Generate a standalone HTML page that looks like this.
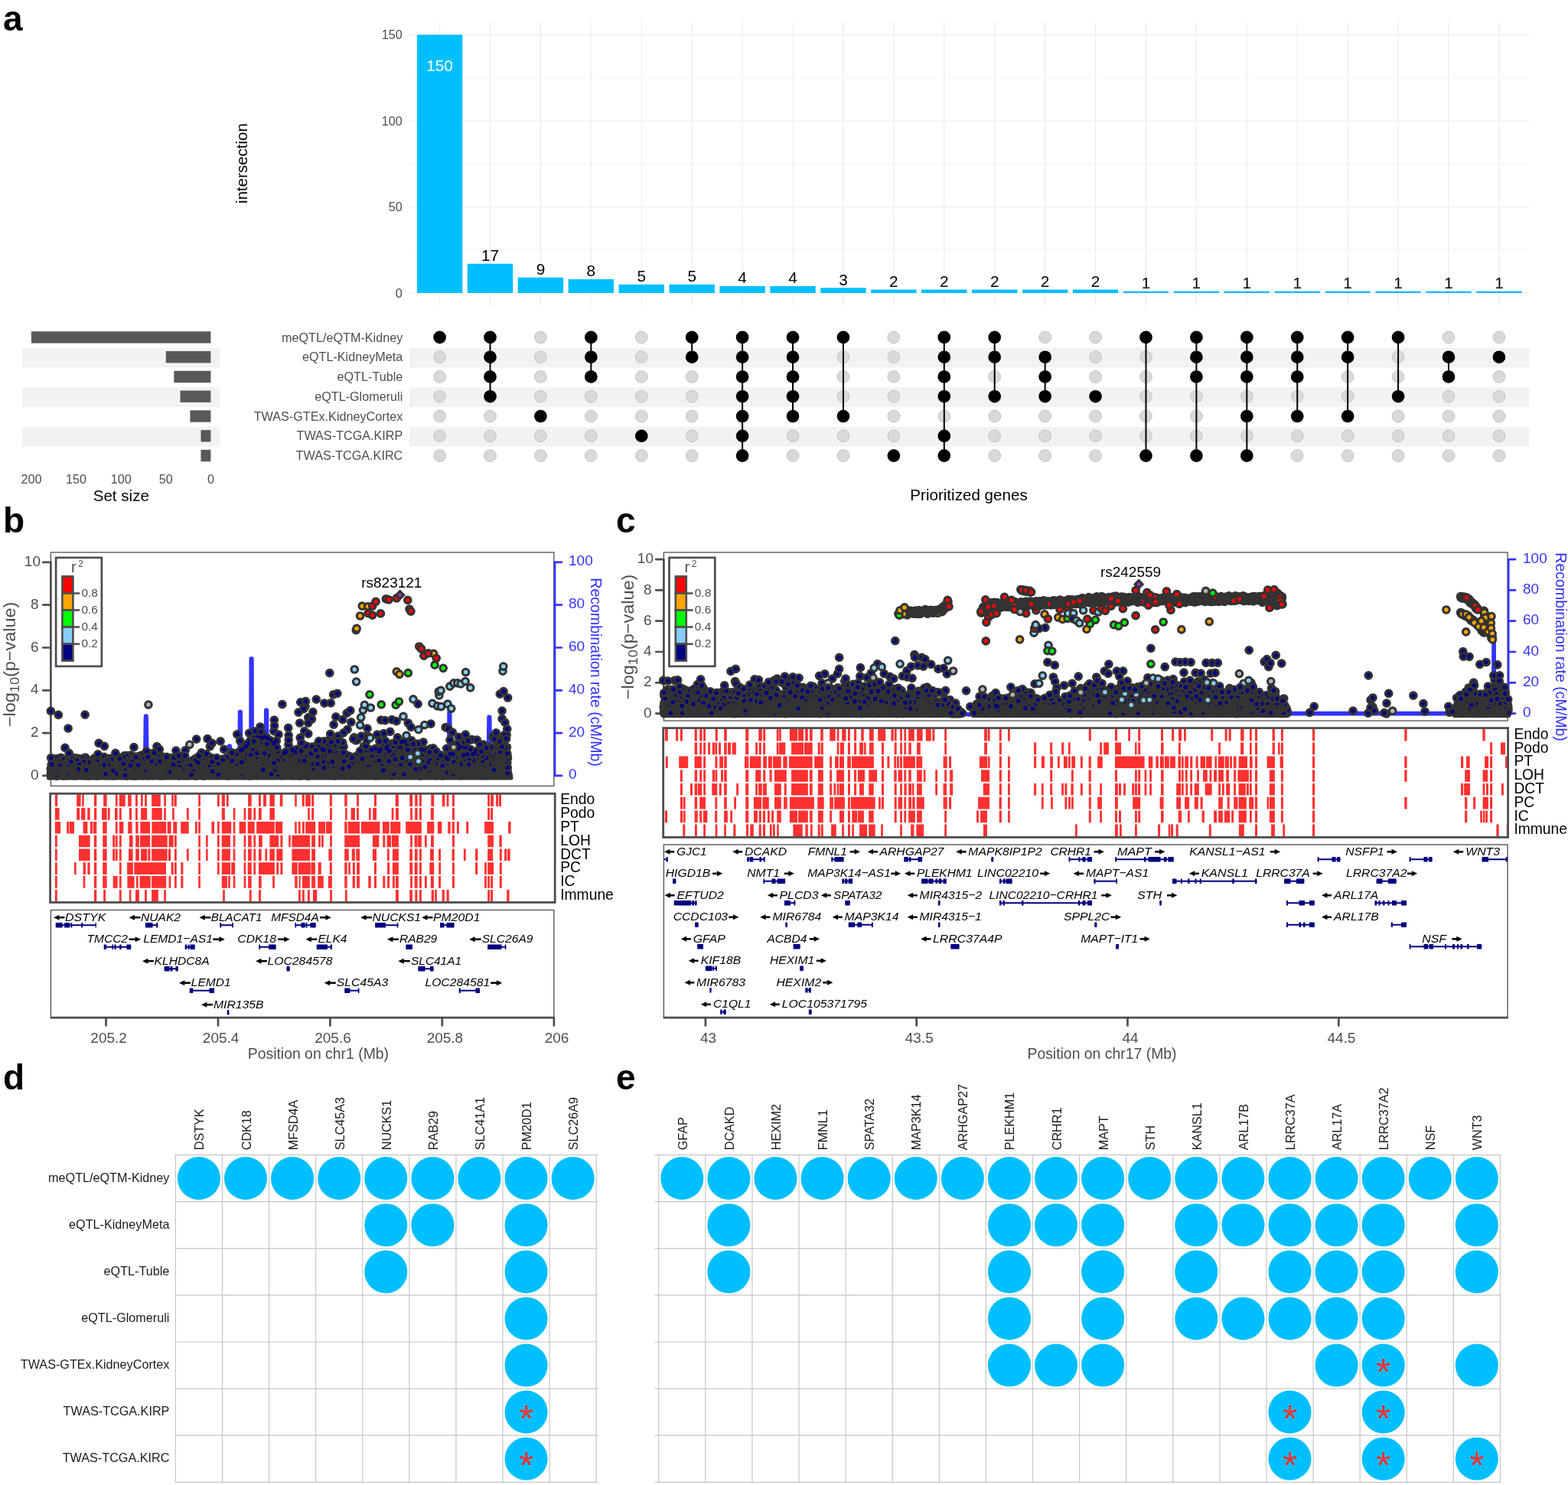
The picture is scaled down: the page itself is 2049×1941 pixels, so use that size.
<!DOCTYPE html>
<html><head><meta charset="utf-8"><title>Figure</title>
<style>
html,body{margin:0;padding:0;background:#fff;}
svg{display:block;font-family:"Liberation Sans", sans-serif;}
.pt circle{r:4.3px;stroke:#333;stroke-width:3.1px;}
.o{fill:none;stroke:#333;stroke-width:11.7px;stroke-linecap:round;}
.i{fill:none;stroke-width:5.5px;stroke-linecap:round;}
</style></head>
<body>
<svg width="2049" height="1941" viewBox="0 0 2049 1941">
<rect width="2049" height="1941" fill="#fff"/>
<text x="4.00" y="39.50" font-size="46" fill="#000" font-weight="bold">a</text>
<line x1="535.00" y1="326.75" x2="1998.20" y2="326.75" stroke="#ebebeb" stroke-width="0.6"/>
<line x1="535.00" y1="214.25" x2="1998.20" y2="214.25" stroke="#ebebeb" stroke-width="0.6"/>
<line x1="535.00" y1="101.75" x2="1998.20" y2="101.75" stroke="#ebebeb" stroke-width="0.6"/>
<line x1="535.00" y1="383.00" x2="1998.20" y2="383.00" stroke="#ebebeb" stroke-width="1.1"/>
<line x1="535.00" y1="270.50" x2="1998.20" y2="270.50" stroke="#ebebeb" stroke-width="1.1"/>
<line x1="535.00" y1="158.00" x2="1998.20" y2="158.00" stroke="#ebebeb" stroke-width="1.1"/>
<line x1="535.00" y1="45.50" x2="1998.20" y2="45.50" stroke="#ebebeb" stroke-width="1.1"/>
<line x1="574.60" y1="28.50" x2="574.60" y2="399.70" stroke="#ebebeb" stroke-width="1.1"/>
<line x1="640.52" y1="28.50" x2="640.52" y2="399.70" stroke="#ebebeb" stroke-width="1.1"/>
<line x1="706.44" y1="28.50" x2="706.44" y2="399.70" stroke="#ebebeb" stroke-width="1.1"/>
<line x1="772.36" y1="28.50" x2="772.36" y2="399.70" stroke="#ebebeb" stroke-width="1.1"/>
<line x1="838.28" y1="28.50" x2="838.28" y2="399.70" stroke="#ebebeb" stroke-width="1.1"/>
<line x1="904.20" y1="28.50" x2="904.20" y2="399.70" stroke="#ebebeb" stroke-width="1.1"/>
<line x1="970.12" y1="28.50" x2="970.12" y2="399.70" stroke="#ebebeb" stroke-width="1.1"/>
<line x1="1036.04" y1="28.50" x2="1036.04" y2="399.70" stroke="#ebebeb" stroke-width="1.1"/>
<line x1="1101.96" y1="28.50" x2="1101.96" y2="399.70" stroke="#ebebeb" stroke-width="1.1"/>
<line x1="1167.88" y1="28.50" x2="1167.88" y2="399.70" stroke="#ebebeb" stroke-width="1.1"/>
<line x1="1233.80" y1="28.50" x2="1233.80" y2="399.70" stroke="#ebebeb" stroke-width="1.1"/>
<line x1="1299.72" y1="28.50" x2="1299.72" y2="399.70" stroke="#ebebeb" stroke-width="1.1"/>
<line x1="1365.64" y1="28.50" x2="1365.64" y2="399.70" stroke="#ebebeb" stroke-width="1.1"/>
<line x1="1431.56" y1="28.50" x2="1431.56" y2="399.70" stroke="#ebebeb" stroke-width="1.1"/>
<line x1="1497.48" y1="28.50" x2="1497.48" y2="399.70" stroke="#ebebeb" stroke-width="1.1"/>
<line x1="1563.40" y1="28.50" x2="1563.40" y2="399.70" stroke="#ebebeb" stroke-width="1.1"/>
<line x1="1629.32" y1="28.50" x2="1629.32" y2="399.70" stroke="#ebebeb" stroke-width="1.1"/>
<line x1="1695.24" y1="28.50" x2="1695.24" y2="399.70" stroke="#ebebeb" stroke-width="1.1"/>
<line x1="1761.16" y1="28.50" x2="1761.16" y2="399.70" stroke="#ebebeb" stroke-width="1.1"/>
<line x1="1827.08" y1="28.50" x2="1827.08" y2="399.70" stroke="#ebebeb" stroke-width="1.1"/>
<line x1="1893.00" y1="28.50" x2="1893.00" y2="399.70" stroke="#ebebeb" stroke-width="1.1"/>
<line x1="1958.92" y1="28.50" x2="1958.92" y2="399.70" stroke="#ebebeb" stroke-width="1.1"/>
<rect x="544.90" y="45.50" width="59.40" height="337.50" fill="#00bfff"/>
<text x="574.60" y="92.60" font-size="20.8" fill="#fff" text-anchor="middle">150</text>
<rect x="610.82" y="344.75" width="59.40" height="38.25" fill="#00bfff"/>
<text x="640.52" y="341.15" font-size="20.8" fill="#000" text-anchor="middle">17</text>
<rect x="676.74" y="362.75" width="59.40" height="20.25" fill="#00bfff"/>
<text x="706.44" y="359.15" font-size="20.8" fill="#000" text-anchor="middle">9</text>
<rect x="742.66" y="365.00" width="59.40" height="18.00" fill="#00bfff"/>
<text x="772.36" y="361.40" font-size="20.8" fill="#000" text-anchor="middle">8</text>
<rect x="808.58" y="371.75" width="59.40" height="11.25" fill="#00bfff"/>
<text x="838.28" y="368.15" font-size="20.8" fill="#000" text-anchor="middle">5</text>
<rect x="874.50" y="371.75" width="59.40" height="11.25" fill="#00bfff"/>
<text x="904.20" y="368.15" font-size="20.8" fill="#000" text-anchor="middle">5</text>
<rect x="940.42" y="374.00" width="59.40" height="9.00" fill="#00bfff"/>
<text x="970.12" y="370.40" font-size="20.8" fill="#000" text-anchor="middle">4</text>
<rect x="1006.34" y="374.00" width="59.40" height="9.00" fill="#00bfff"/>
<text x="1036.04" y="370.40" font-size="20.8" fill="#000" text-anchor="middle">4</text>
<rect x="1072.26" y="376.25" width="59.40" height="6.75" fill="#00bfff"/>
<text x="1101.96" y="372.65" font-size="20.8" fill="#000" text-anchor="middle">3</text>
<rect x="1138.18" y="378.50" width="59.40" height="4.50" fill="#00bfff"/>
<text x="1167.88" y="374.90" font-size="20.8" fill="#000" text-anchor="middle">2</text>
<rect x="1204.10" y="378.50" width="59.40" height="4.50" fill="#00bfff"/>
<text x="1233.80" y="374.90" font-size="20.8" fill="#000" text-anchor="middle">2</text>
<rect x="1270.02" y="378.50" width="59.40" height="4.50" fill="#00bfff"/>
<text x="1299.72" y="374.90" font-size="20.8" fill="#000" text-anchor="middle">2</text>
<rect x="1335.94" y="378.50" width="59.40" height="4.50" fill="#00bfff"/>
<text x="1365.64" y="374.90" font-size="20.8" fill="#000" text-anchor="middle">2</text>
<rect x="1401.86" y="378.50" width="59.40" height="4.50" fill="#00bfff"/>
<text x="1431.56" y="374.90" font-size="20.8" fill="#000" text-anchor="middle">2</text>
<rect x="1467.78" y="380.75" width="59.40" height="2.25" fill="#00bfff"/>
<text x="1497.48" y="377.15" font-size="20.8" fill="#000" text-anchor="middle">1</text>
<rect x="1533.70" y="380.75" width="59.40" height="2.25" fill="#00bfff"/>
<text x="1563.40" y="377.15" font-size="20.8" fill="#000" text-anchor="middle">1</text>
<rect x="1599.62" y="380.75" width="59.40" height="2.25" fill="#00bfff"/>
<text x="1629.32" y="377.15" font-size="20.8" fill="#000" text-anchor="middle">1</text>
<rect x="1665.54" y="380.75" width="59.40" height="2.25" fill="#00bfff"/>
<text x="1695.24" y="377.15" font-size="20.8" fill="#000" text-anchor="middle">1</text>
<rect x="1731.46" y="380.75" width="59.40" height="2.25" fill="#00bfff"/>
<text x="1761.16" y="377.15" font-size="20.8" fill="#000" text-anchor="middle">1</text>
<rect x="1797.38" y="380.75" width="59.40" height="2.25" fill="#00bfff"/>
<text x="1827.08" y="377.15" font-size="20.8" fill="#000" text-anchor="middle">1</text>
<rect x="1863.30" y="380.75" width="59.40" height="2.25" fill="#00bfff"/>
<text x="1893.00" y="377.15" font-size="20.8" fill="#000" text-anchor="middle">1</text>
<rect x="1929.22" y="380.75" width="59.40" height="2.25" fill="#00bfff"/>
<text x="1958.92" y="377.15" font-size="20.8" fill="#000" text-anchor="middle">1</text>
<text x="525.80" y="388.70" font-size="16.2" fill="#4d4d4d" text-anchor="end">0</text>
<text x="525.80" y="276.20" font-size="16.2" fill="#4d4d4d" text-anchor="end">50</text>
<text x="525.80" y="163.70" font-size="16.2" fill="#4d4d4d" text-anchor="end">100</text>
<text x="525.80" y="51.20" font-size="16.2" fill="#4d4d4d" text-anchor="end">150</text>
<text x="322.50" y="213.50" font-size="20.5" fill="#000" text-anchor="middle" transform="rotate(-90 322.50 213.50)">intersection</text>
<rect x="535.00" y="454.69" width="1463.20" height="25.78" fill="#f2f2f2"/>
<rect x="29.00" y="454.69" width="258.00" height="25.78" fill="#f2f2f2"/>
<rect x="535.00" y="506.25" width="1463.20" height="25.78" fill="#f2f2f2"/>
<rect x="29.00" y="506.25" width="258.00" height="25.78" fill="#f2f2f2"/>
<rect x="535.00" y="557.81" width="1463.20" height="25.78" fill="#f2f2f2"/>
<rect x="29.00" y="557.81" width="258.00" height="25.78" fill="#f2f2f2"/>
<text x="526.30" y="446.50" font-size="16.2" fill="#4d4d4d" text-anchor="end">meQTL/eQTM-Kidney</text>
<text x="526.30" y="472.28" font-size="16.2" fill="#4d4d4d" text-anchor="end">eQTL-KidneyMeta</text>
<text x="526.30" y="498.06" font-size="16.2" fill="#4d4d4d" text-anchor="end">eQTL-Tuble</text>
<text x="526.30" y="523.84" font-size="16.2" fill="#4d4d4d" text-anchor="end">eQTL-Glomeruli</text>
<text x="526.30" y="549.62" font-size="16.2" fill="#4d4d4d" text-anchor="end">TWAS-GTEx.KidneyCortex</text>
<text x="526.30" y="575.40" font-size="16.2" fill="#4d4d4d" text-anchor="end">TWAS-TCGA.KIRP</text>
<text x="526.30" y="601.18" font-size="16.2" fill="#4d4d4d" text-anchor="end">TWAS-TCGA.KIRC</text>
<circle cx="574.60" cy="440.90" r="7.9" fill="#d9d9d9" stroke="#c4c4c4" stroke-width="1"/>
<circle cx="574.60" cy="466.68" r="7.9" fill="#d9d9d9" stroke="#c4c4c4" stroke-width="1"/>
<circle cx="574.60" cy="492.46" r="7.9" fill="#d9d9d9" stroke="#c4c4c4" stroke-width="1"/>
<circle cx="574.60" cy="518.24" r="7.9" fill="#d9d9d9" stroke="#c4c4c4" stroke-width="1"/>
<circle cx="574.60" cy="544.02" r="7.9" fill="#d9d9d9" stroke="#c4c4c4" stroke-width="1"/>
<circle cx="574.60" cy="569.80" r="7.9" fill="#d9d9d9" stroke="#c4c4c4" stroke-width="1"/>
<circle cx="574.60" cy="595.58" r="7.9" fill="#d9d9d9" stroke="#c4c4c4" stroke-width="1"/>
<circle cx="640.52" cy="440.90" r="7.9" fill="#d9d9d9" stroke="#c4c4c4" stroke-width="1"/>
<circle cx="640.52" cy="466.68" r="7.9" fill="#d9d9d9" stroke="#c4c4c4" stroke-width="1"/>
<circle cx="640.52" cy="492.46" r="7.9" fill="#d9d9d9" stroke="#c4c4c4" stroke-width="1"/>
<circle cx="640.52" cy="518.24" r="7.9" fill="#d9d9d9" stroke="#c4c4c4" stroke-width="1"/>
<circle cx="640.52" cy="544.02" r="7.9" fill="#d9d9d9" stroke="#c4c4c4" stroke-width="1"/>
<circle cx="640.52" cy="569.80" r="7.9" fill="#d9d9d9" stroke="#c4c4c4" stroke-width="1"/>
<circle cx="640.52" cy="595.58" r="7.9" fill="#d9d9d9" stroke="#c4c4c4" stroke-width="1"/>
<circle cx="706.44" cy="440.90" r="7.9" fill="#d9d9d9" stroke="#c4c4c4" stroke-width="1"/>
<circle cx="706.44" cy="466.68" r="7.9" fill="#d9d9d9" stroke="#c4c4c4" stroke-width="1"/>
<circle cx="706.44" cy="492.46" r="7.9" fill="#d9d9d9" stroke="#c4c4c4" stroke-width="1"/>
<circle cx="706.44" cy="518.24" r="7.9" fill="#d9d9d9" stroke="#c4c4c4" stroke-width="1"/>
<circle cx="706.44" cy="544.02" r="7.9" fill="#d9d9d9" stroke="#c4c4c4" stroke-width="1"/>
<circle cx="706.44" cy="569.80" r="7.9" fill="#d9d9d9" stroke="#c4c4c4" stroke-width="1"/>
<circle cx="706.44" cy="595.58" r="7.9" fill="#d9d9d9" stroke="#c4c4c4" stroke-width="1"/>
<circle cx="772.36" cy="440.90" r="7.9" fill="#d9d9d9" stroke="#c4c4c4" stroke-width="1"/>
<circle cx="772.36" cy="466.68" r="7.9" fill="#d9d9d9" stroke="#c4c4c4" stroke-width="1"/>
<circle cx="772.36" cy="492.46" r="7.9" fill="#d9d9d9" stroke="#c4c4c4" stroke-width="1"/>
<circle cx="772.36" cy="518.24" r="7.9" fill="#d9d9d9" stroke="#c4c4c4" stroke-width="1"/>
<circle cx="772.36" cy="544.02" r="7.9" fill="#d9d9d9" stroke="#c4c4c4" stroke-width="1"/>
<circle cx="772.36" cy="569.80" r="7.9" fill="#d9d9d9" stroke="#c4c4c4" stroke-width="1"/>
<circle cx="772.36" cy="595.58" r="7.9" fill="#d9d9d9" stroke="#c4c4c4" stroke-width="1"/>
<circle cx="838.28" cy="440.90" r="7.9" fill="#d9d9d9" stroke="#c4c4c4" stroke-width="1"/>
<circle cx="838.28" cy="466.68" r="7.9" fill="#d9d9d9" stroke="#c4c4c4" stroke-width="1"/>
<circle cx="838.28" cy="492.46" r="7.9" fill="#d9d9d9" stroke="#c4c4c4" stroke-width="1"/>
<circle cx="838.28" cy="518.24" r="7.9" fill="#d9d9d9" stroke="#c4c4c4" stroke-width="1"/>
<circle cx="838.28" cy="544.02" r="7.9" fill="#d9d9d9" stroke="#c4c4c4" stroke-width="1"/>
<circle cx="838.28" cy="569.80" r="7.9" fill="#d9d9d9" stroke="#c4c4c4" stroke-width="1"/>
<circle cx="838.28" cy="595.58" r="7.9" fill="#d9d9d9" stroke="#c4c4c4" stroke-width="1"/>
<circle cx="904.20" cy="440.90" r="7.9" fill="#d9d9d9" stroke="#c4c4c4" stroke-width="1"/>
<circle cx="904.20" cy="466.68" r="7.9" fill="#d9d9d9" stroke="#c4c4c4" stroke-width="1"/>
<circle cx="904.20" cy="492.46" r="7.9" fill="#d9d9d9" stroke="#c4c4c4" stroke-width="1"/>
<circle cx="904.20" cy="518.24" r="7.9" fill="#d9d9d9" stroke="#c4c4c4" stroke-width="1"/>
<circle cx="904.20" cy="544.02" r="7.9" fill="#d9d9d9" stroke="#c4c4c4" stroke-width="1"/>
<circle cx="904.20" cy="569.80" r="7.9" fill="#d9d9d9" stroke="#c4c4c4" stroke-width="1"/>
<circle cx="904.20" cy="595.58" r="7.9" fill="#d9d9d9" stroke="#c4c4c4" stroke-width="1"/>
<circle cx="970.12" cy="440.90" r="7.9" fill="#d9d9d9" stroke="#c4c4c4" stroke-width="1"/>
<circle cx="970.12" cy="466.68" r="7.9" fill="#d9d9d9" stroke="#c4c4c4" stroke-width="1"/>
<circle cx="970.12" cy="492.46" r="7.9" fill="#d9d9d9" stroke="#c4c4c4" stroke-width="1"/>
<circle cx="970.12" cy="518.24" r="7.9" fill="#d9d9d9" stroke="#c4c4c4" stroke-width="1"/>
<circle cx="970.12" cy="544.02" r="7.9" fill="#d9d9d9" stroke="#c4c4c4" stroke-width="1"/>
<circle cx="970.12" cy="569.80" r="7.9" fill="#d9d9d9" stroke="#c4c4c4" stroke-width="1"/>
<circle cx="970.12" cy="595.58" r="7.9" fill="#d9d9d9" stroke="#c4c4c4" stroke-width="1"/>
<circle cx="1036.04" cy="440.90" r="7.9" fill="#d9d9d9" stroke="#c4c4c4" stroke-width="1"/>
<circle cx="1036.04" cy="466.68" r="7.9" fill="#d9d9d9" stroke="#c4c4c4" stroke-width="1"/>
<circle cx="1036.04" cy="492.46" r="7.9" fill="#d9d9d9" stroke="#c4c4c4" stroke-width="1"/>
<circle cx="1036.04" cy="518.24" r="7.9" fill="#d9d9d9" stroke="#c4c4c4" stroke-width="1"/>
<circle cx="1036.04" cy="544.02" r="7.9" fill="#d9d9d9" stroke="#c4c4c4" stroke-width="1"/>
<circle cx="1036.04" cy="569.80" r="7.9" fill="#d9d9d9" stroke="#c4c4c4" stroke-width="1"/>
<circle cx="1036.04" cy="595.58" r="7.9" fill="#d9d9d9" stroke="#c4c4c4" stroke-width="1"/>
<circle cx="1101.96" cy="440.90" r="7.9" fill="#d9d9d9" stroke="#c4c4c4" stroke-width="1"/>
<circle cx="1101.96" cy="466.68" r="7.9" fill="#d9d9d9" stroke="#c4c4c4" stroke-width="1"/>
<circle cx="1101.96" cy="492.46" r="7.9" fill="#d9d9d9" stroke="#c4c4c4" stroke-width="1"/>
<circle cx="1101.96" cy="518.24" r="7.9" fill="#d9d9d9" stroke="#c4c4c4" stroke-width="1"/>
<circle cx="1101.96" cy="544.02" r="7.9" fill="#d9d9d9" stroke="#c4c4c4" stroke-width="1"/>
<circle cx="1101.96" cy="569.80" r="7.9" fill="#d9d9d9" stroke="#c4c4c4" stroke-width="1"/>
<circle cx="1101.96" cy="595.58" r="7.9" fill="#d9d9d9" stroke="#c4c4c4" stroke-width="1"/>
<circle cx="1167.88" cy="440.90" r="7.9" fill="#d9d9d9" stroke="#c4c4c4" stroke-width="1"/>
<circle cx="1167.88" cy="466.68" r="7.9" fill="#d9d9d9" stroke="#c4c4c4" stroke-width="1"/>
<circle cx="1167.88" cy="492.46" r="7.9" fill="#d9d9d9" stroke="#c4c4c4" stroke-width="1"/>
<circle cx="1167.88" cy="518.24" r="7.9" fill="#d9d9d9" stroke="#c4c4c4" stroke-width="1"/>
<circle cx="1167.88" cy="544.02" r="7.9" fill="#d9d9d9" stroke="#c4c4c4" stroke-width="1"/>
<circle cx="1167.88" cy="569.80" r="7.9" fill="#d9d9d9" stroke="#c4c4c4" stroke-width="1"/>
<circle cx="1167.88" cy="595.58" r="7.9" fill="#d9d9d9" stroke="#c4c4c4" stroke-width="1"/>
<circle cx="1233.80" cy="440.90" r="7.9" fill="#d9d9d9" stroke="#c4c4c4" stroke-width="1"/>
<circle cx="1233.80" cy="466.68" r="7.9" fill="#d9d9d9" stroke="#c4c4c4" stroke-width="1"/>
<circle cx="1233.80" cy="492.46" r="7.9" fill="#d9d9d9" stroke="#c4c4c4" stroke-width="1"/>
<circle cx="1233.80" cy="518.24" r="7.9" fill="#d9d9d9" stroke="#c4c4c4" stroke-width="1"/>
<circle cx="1233.80" cy="544.02" r="7.9" fill="#d9d9d9" stroke="#c4c4c4" stroke-width="1"/>
<circle cx="1233.80" cy="569.80" r="7.9" fill="#d9d9d9" stroke="#c4c4c4" stroke-width="1"/>
<circle cx="1233.80" cy="595.58" r="7.9" fill="#d9d9d9" stroke="#c4c4c4" stroke-width="1"/>
<circle cx="1299.72" cy="440.90" r="7.9" fill="#d9d9d9" stroke="#c4c4c4" stroke-width="1"/>
<circle cx="1299.72" cy="466.68" r="7.9" fill="#d9d9d9" stroke="#c4c4c4" stroke-width="1"/>
<circle cx="1299.72" cy="492.46" r="7.9" fill="#d9d9d9" stroke="#c4c4c4" stroke-width="1"/>
<circle cx="1299.72" cy="518.24" r="7.9" fill="#d9d9d9" stroke="#c4c4c4" stroke-width="1"/>
<circle cx="1299.72" cy="544.02" r="7.9" fill="#d9d9d9" stroke="#c4c4c4" stroke-width="1"/>
<circle cx="1299.72" cy="569.80" r="7.9" fill="#d9d9d9" stroke="#c4c4c4" stroke-width="1"/>
<circle cx="1299.72" cy="595.58" r="7.9" fill="#d9d9d9" stroke="#c4c4c4" stroke-width="1"/>
<circle cx="1365.64" cy="440.90" r="7.9" fill="#d9d9d9" stroke="#c4c4c4" stroke-width="1"/>
<circle cx="1365.64" cy="466.68" r="7.9" fill="#d9d9d9" stroke="#c4c4c4" stroke-width="1"/>
<circle cx="1365.64" cy="492.46" r="7.9" fill="#d9d9d9" stroke="#c4c4c4" stroke-width="1"/>
<circle cx="1365.64" cy="518.24" r="7.9" fill="#d9d9d9" stroke="#c4c4c4" stroke-width="1"/>
<circle cx="1365.64" cy="544.02" r="7.9" fill="#d9d9d9" stroke="#c4c4c4" stroke-width="1"/>
<circle cx="1365.64" cy="569.80" r="7.9" fill="#d9d9d9" stroke="#c4c4c4" stroke-width="1"/>
<circle cx="1365.64" cy="595.58" r="7.9" fill="#d9d9d9" stroke="#c4c4c4" stroke-width="1"/>
<circle cx="1431.56" cy="440.90" r="7.9" fill="#d9d9d9" stroke="#c4c4c4" stroke-width="1"/>
<circle cx="1431.56" cy="466.68" r="7.9" fill="#d9d9d9" stroke="#c4c4c4" stroke-width="1"/>
<circle cx="1431.56" cy="492.46" r="7.9" fill="#d9d9d9" stroke="#c4c4c4" stroke-width="1"/>
<circle cx="1431.56" cy="518.24" r="7.9" fill="#d9d9d9" stroke="#c4c4c4" stroke-width="1"/>
<circle cx="1431.56" cy="544.02" r="7.9" fill="#d9d9d9" stroke="#c4c4c4" stroke-width="1"/>
<circle cx="1431.56" cy="569.80" r="7.9" fill="#d9d9d9" stroke="#c4c4c4" stroke-width="1"/>
<circle cx="1431.56" cy="595.58" r="7.9" fill="#d9d9d9" stroke="#c4c4c4" stroke-width="1"/>
<circle cx="1497.48" cy="440.90" r="7.9" fill="#d9d9d9" stroke="#c4c4c4" stroke-width="1"/>
<circle cx="1497.48" cy="466.68" r="7.9" fill="#d9d9d9" stroke="#c4c4c4" stroke-width="1"/>
<circle cx="1497.48" cy="492.46" r="7.9" fill="#d9d9d9" stroke="#c4c4c4" stroke-width="1"/>
<circle cx="1497.48" cy="518.24" r="7.9" fill="#d9d9d9" stroke="#c4c4c4" stroke-width="1"/>
<circle cx="1497.48" cy="544.02" r="7.9" fill="#d9d9d9" stroke="#c4c4c4" stroke-width="1"/>
<circle cx="1497.48" cy="569.80" r="7.9" fill="#d9d9d9" stroke="#c4c4c4" stroke-width="1"/>
<circle cx="1497.48" cy="595.58" r="7.9" fill="#d9d9d9" stroke="#c4c4c4" stroke-width="1"/>
<circle cx="1563.40" cy="440.90" r="7.9" fill="#d9d9d9" stroke="#c4c4c4" stroke-width="1"/>
<circle cx="1563.40" cy="466.68" r="7.9" fill="#d9d9d9" stroke="#c4c4c4" stroke-width="1"/>
<circle cx="1563.40" cy="492.46" r="7.9" fill="#d9d9d9" stroke="#c4c4c4" stroke-width="1"/>
<circle cx="1563.40" cy="518.24" r="7.9" fill="#d9d9d9" stroke="#c4c4c4" stroke-width="1"/>
<circle cx="1563.40" cy="544.02" r="7.9" fill="#d9d9d9" stroke="#c4c4c4" stroke-width="1"/>
<circle cx="1563.40" cy="569.80" r="7.9" fill="#d9d9d9" stroke="#c4c4c4" stroke-width="1"/>
<circle cx="1563.40" cy="595.58" r="7.9" fill="#d9d9d9" stroke="#c4c4c4" stroke-width="1"/>
<circle cx="1629.32" cy="440.90" r="7.9" fill="#d9d9d9" stroke="#c4c4c4" stroke-width="1"/>
<circle cx="1629.32" cy="466.68" r="7.9" fill="#d9d9d9" stroke="#c4c4c4" stroke-width="1"/>
<circle cx="1629.32" cy="492.46" r="7.9" fill="#d9d9d9" stroke="#c4c4c4" stroke-width="1"/>
<circle cx="1629.32" cy="518.24" r="7.9" fill="#d9d9d9" stroke="#c4c4c4" stroke-width="1"/>
<circle cx="1629.32" cy="544.02" r="7.9" fill="#d9d9d9" stroke="#c4c4c4" stroke-width="1"/>
<circle cx="1629.32" cy="569.80" r="7.9" fill="#d9d9d9" stroke="#c4c4c4" stroke-width="1"/>
<circle cx="1629.32" cy="595.58" r="7.9" fill="#d9d9d9" stroke="#c4c4c4" stroke-width="1"/>
<circle cx="1695.24" cy="440.90" r="7.9" fill="#d9d9d9" stroke="#c4c4c4" stroke-width="1"/>
<circle cx="1695.24" cy="466.68" r="7.9" fill="#d9d9d9" stroke="#c4c4c4" stroke-width="1"/>
<circle cx="1695.24" cy="492.46" r="7.9" fill="#d9d9d9" stroke="#c4c4c4" stroke-width="1"/>
<circle cx="1695.24" cy="518.24" r="7.9" fill="#d9d9d9" stroke="#c4c4c4" stroke-width="1"/>
<circle cx="1695.24" cy="544.02" r="7.9" fill="#d9d9d9" stroke="#c4c4c4" stroke-width="1"/>
<circle cx="1695.24" cy="569.80" r="7.9" fill="#d9d9d9" stroke="#c4c4c4" stroke-width="1"/>
<circle cx="1695.24" cy="595.58" r="7.9" fill="#d9d9d9" stroke="#c4c4c4" stroke-width="1"/>
<circle cx="1761.16" cy="440.90" r="7.9" fill="#d9d9d9" stroke="#c4c4c4" stroke-width="1"/>
<circle cx="1761.16" cy="466.68" r="7.9" fill="#d9d9d9" stroke="#c4c4c4" stroke-width="1"/>
<circle cx="1761.16" cy="492.46" r="7.9" fill="#d9d9d9" stroke="#c4c4c4" stroke-width="1"/>
<circle cx="1761.16" cy="518.24" r="7.9" fill="#d9d9d9" stroke="#c4c4c4" stroke-width="1"/>
<circle cx="1761.16" cy="544.02" r="7.9" fill="#d9d9d9" stroke="#c4c4c4" stroke-width="1"/>
<circle cx="1761.16" cy="569.80" r="7.9" fill="#d9d9d9" stroke="#c4c4c4" stroke-width="1"/>
<circle cx="1761.16" cy="595.58" r="7.9" fill="#d9d9d9" stroke="#c4c4c4" stroke-width="1"/>
<circle cx="1827.08" cy="440.90" r="7.9" fill="#d9d9d9" stroke="#c4c4c4" stroke-width="1"/>
<circle cx="1827.08" cy="466.68" r="7.9" fill="#d9d9d9" stroke="#c4c4c4" stroke-width="1"/>
<circle cx="1827.08" cy="492.46" r="7.9" fill="#d9d9d9" stroke="#c4c4c4" stroke-width="1"/>
<circle cx="1827.08" cy="518.24" r="7.9" fill="#d9d9d9" stroke="#c4c4c4" stroke-width="1"/>
<circle cx="1827.08" cy="544.02" r="7.9" fill="#d9d9d9" stroke="#c4c4c4" stroke-width="1"/>
<circle cx="1827.08" cy="569.80" r="7.9" fill="#d9d9d9" stroke="#c4c4c4" stroke-width="1"/>
<circle cx="1827.08" cy="595.58" r="7.9" fill="#d9d9d9" stroke="#c4c4c4" stroke-width="1"/>
<circle cx="1893.00" cy="440.90" r="7.9" fill="#d9d9d9" stroke="#c4c4c4" stroke-width="1"/>
<circle cx="1893.00" cy="466.68" r="7.9" fill="#d9d9d9" stroke="#c4c4c4" stroke-width="1"/>
<circle cx="1893.00" cy="492.46" r="7.9" fill="#d9d9d9" stroke="#c4c4c4" stroke-width="1"/>
<circle cx="1893.00" cy="518.24" r="7.9" fill="#d9d9d9" stroke="#c4c4c4" stroke-width="1"/>
<circle cx="1893.00" cy="544.02" r="7.9" fill="#d9d9d9" stroke="#c4c4c4" stroke-width="1"/>
<circle cx="1893.00" cy="569.80" r="7.9" fill="#d9d9d9" stroke="#c4c4c4" stroke-width="1"/>
<circle cx="1893.00" cy="595.58" r="7.9" fill="#d9d9d9" stroke="#c4c4c4" stroke-width="1"/>
<circle cx="1958.92" cy="440.90" r="7.9" fill="#d9d9d9" stroke="#c4c4c4" stroke-width="1"/>
<circle cx="1958.92" cy="466.68" r="7.9" fill="#d9d9d9" stroke="#c4c4c4" stroke-width="1"/>
<circle cx="1958.92" cy="492.46" r="7.9" fill="#d9d9d9" stroke="#c4c4c4" stroke-width="1"/>
<circle cx="1958.92" cy="518.24" r="7.9" fill="#d9d9d9" stroke="#c4c4c4" stroke-width="1"/>
<circle cx="1958.92" cy="544.02" r="7.9" fill="#d9d9d9" stroke="#c4c4c4" stroke-width="1"/>
<circle cx="1958.92" cy="569.80" r="7.9" fill="#d9d9d9" stroke="#c4c4c4" stroke-width="1"/>
<circle cx="1958.92" cy="595.58" r="7.9" fill="#d9d9d9" stroke="#c4c4c4" stroke-width="1"/>
<circle cx="574.60" cy="440.90" r="8.3" fill="#000"/>
<line x1="640.52" y1="440.90" x2="640.52" y2="518.24" stroke="#000" stroke-width="2"/>
<circle cx="640.52" cy="440.90" r="8.3" fill="#000"/>
<circle cx="640.52" cy="466.68" r="8.3" fill="#000"/>
<circle cx="640.52" cy="492.46" r="8.3" fill="#000"/>
<circle cx="640.52" cy="518.24" r="8.3" fill="#000"/>
<circle cx="706.44" cy="544.02" r="8.3" fill="#000"/>
<line x1="772.36" y1="440.90" x2="772.36" y2="492.46" stroke="#000" stroke-width="2"/>
<circle cx="772.36" cy="440.90" r="8.3" fill="#000"/>
<circle cx="772.36" cy="466.68" r="8.3" fill="#000"/>
<circle cx="772.36" cy="492.46" r="8.3" fill="#000"/>
<circle cx="838.28" cy="569.80" r="8.3" fill="#000"/>
<line x1="904.20" y1="440.90" x2="904.20" y2="466.68" stroke="#000" stroke-width="2"/>
<circle cx="904.20" cy="440.90" r="8.3" fill="#000"/>
<circle cx="904.20" cy="466.68" r="8.3" fill="#000"/>
<line x1="970.12" y1="440.90" x2="970.12" y2="595.58" stroke="#000" stroke-width="2"/>
<circle cx="970.12" cy="440.90" r="8.3" fill="#000"/>
<circle cx="970.12" cy="466.68" r="8.3" fill="#000"/>
<circle cx="970.12" cy="492.46" r="8.3" fill="#000"/>
<circle cx="970.12" cy="518.24" r="8.3" fill="#000"/>
<circle cx="970.12" cy="544.02" r="8.3" fill="#000"/>
<circle cx="970.12" cy="569.80" r="8.3" fill="#000"/>
<circle cx="970.12" cy="595.58" r="8.3" fill="#000"/>
<line x1="1036.04" y1="440.90" x2="1036.04" y2="544.02" stroke="#000" stroke-width="2"/>
<circle cx="1036.04" cy="440.90" r="8.3" fill="#000"/>
<circle cx="1036.04" cy="466.68" r="8.3" fill="#000"/>
<circle cx="1036.04" cy="492.46" r="8.3" fill="#000"/>
<circle cx="1036.04" cy="518.24" r="8.3" fill="#000"/>
<circle cx="1036.04" cy="544.02" r="8.3" fill="#000"/>
<line x1="1101.96" y1="440.90" x2="1101.96" y2="544.02" stroke="#000" stroke-width="2"/>
<circle cx="1101.96" cy="440.90" r="8.3" fill="#000"/>
<circle cx="1101.96" cy="544.02" r="8.3" fill="#000"/>
<circle cx="1167.88" cy="595.58" r="8.3" fill="#000"/>
<line x1="1233.80" y1="440.90" x2="1233.80" y2="595.58" stroke="#000" stroke-width="2"/>
<circle cx="1233.80" cy="440.90" r="8.3" fill="#000"/>
<circle cx="1233.80" cy="466.68" r="8.3" fill="#000"/>
<circle cx="1233.80" cy="492.46" r="8.3" fill="#000"/>
<circle cx="1233.80" cy="518.24" r="8.3" fill="#000"/>
<circle cx="1233.80" cy="569.80" r="8.3" fill="#000"/>
<circle cx="1233.80" cy="595.58" r="8.3" fill="#000"/>
<line x1="1299.72" y1="440.90" x2="1299.72" y2="518.24" stroke="#000" stroke-width="2"/>
<circle cx="1299.72" cy="440.90" r="8.3" fill="#000"/>
<circle cx="1299.72" cy="466.68" r="8.3" fill="#000"/>
<circle cx="1299.72" cy="518.24" r="8.3" fill="#000"/>
<line x1="1365.64" y1="466.68" x2="1365.64" y2="518.24" stroke="#000" stroke-width="2"/>
<circle cx="1365.64" cy="466.68" r="8.3" fill="#000"/>
<circle cx="1365.64" cy="492.46" r="8.3" fill="#000"/>
<circle cx="1365.64" cy="518.24" r="8.3" fill="#000"/>
<circle cx="1431.56" cy="518.24" r="8.3" fill="#000"/>
<line x1="1497.48" y1="440.90" x2="1497.48" y2="595.58" stroke="#000" stroke-width="2"/>
<circle cx="1497.48" cy="440.90" r="8.3" fill="#000"/>
<circle cx="1497.48" cy="595.58" r="8.3" fill="#000"/>
<line x1="1563.40" y1="440.90" x2="1563.40" y2="595.58" stroke="#000" stroke-width="2"/>
<circle cx="1563.40" cy="440.90" r="8.3" fill="#000"/>
<circle cx="1563.40" cy="466.68" r="8.3" fill="#000"/>
<circle cx="1563.40" cy="492.46" r="8.3" fill="#000"/>
<circle cx="1563.40" cy="595.58" r="8.3" fill="#000"/>
<line x1="1629.32" y1="440.90" x2="1629.32" y2="595.58" stroke="#000" stroke-width="2"/>
<circle cx="1629.32" cy="440.90" r="8.3" fill="#000"/>
<circle cx="1629.32" cy="466.68" r="8.3" fill="#000"/>
<circle cx="1629.32" cy="492.46" r="8.3" fill="#000"/>
<circle cx="1629.32" cy="544.02" r="8.3" fill="#000"/>
<circle cx="1629.32" cy="595.58" r="8.3" fill="#000"/>
<line x1="1695.24" y1="440.90" x2="1695.24" y2="544.02" stroke="#000" stroke-width="2"/>
<circle cx="1695.24" cy="440.90" r="8.3" fill="#000"/>
<circle cx="1695.24" cy="466.68" r="8.3" fill="#000"/>
<circle cx="1695.24" cy="492.46" r="8.3" fill="#000"/>
<circle cx="1695.24" cy="544.02" r="8.3" fill="#000"/>
<line x1="1761.16" y1="440.90" x2="1761.16" y2="544.02" stroke="#000" stroke-width="2"/>
<circle cx="1761.16" cy="440.90" r="8.3" fill="#000"/>
<circle cx="1761.16" cy="466.68" r="8.3" fill="#000"/>
<circle cx="1761.16" cy="544.02" r="8.3" fill="#000"/>
<line x1="1827.08" y1="440.90" x2="1827.08" y2="518.24" stroke="#000" stroke-width="2"/>
<circle cx="1827.08" cy="440.90" r="8.3" fill="#000"/>
<circle cx="1827.08" cy="518.24" r="8.3" fill="#000"/>
<line x1="1893.00" y1="466.68" x2="1893.00" y2="492.46" stroke="#000" stroke-width="2"/>
<circle cx="1893.00" cy="466.68" r="8.3" fill="#000"/>
<circle cx="1893.00" cy="492.46" r="8.3" fill="#000"/>
<circle cx="1958.92" cy="466.68" r="8.3" fill="#000"/>
<text x="1266.00" y="653.80" font-size="20.6" fill="#000" text-anchor="middle">Prioritized genes</text>
<rect x="40.90" y="433.20" width="234.50" height="15.40" fill="#595959"/>
<rect x="216.77" y="458.98" width="58.63" height="15.40" fill="#595959"/>
<rect x="227.33" y="484.76" width="48.07" height="15.40" fill="#595959"/>
<rect x="235.53" y="510.54" width="39.87" height="15.40" fill="#595959"/>
<rect x="248.43" y="536.32" width="26.97" height="15.40" fill="#595959"/>
<rect x="262.50" y="562.10" width="12.90" height="15.40" fill="#595959"/>
<rect x="262.50" y="587.88" width="12.90" height="15.40" fill="#595959"/>
<text x="275.40" y="631.80" font-size="16.2" fill="#4d4d4d" text-anchor="middle">0</text>
<text x="216.77" y="631.80" font-size="16.2" fill="#4d4d4d" text-anchor="middle">50</text>
<text x="158.15" y="631.80" font-size="16.2" fill="#4d4d4d" text-anchor="middle">100</text>
<text x="99.52" y="631.80" font-size="16.2" fill="#4d4d4d" text-anchor="middle">150</text>
<text x="40.90" y="631.80" font-size="16.2" fill="#4d4d4d" text-anchor="middle">200</text>
<text x="158.30" y="654.50" font-size="20.6" fill="#000" text-anchor="middle">Set size</text>
<text x="4.00" y="1424.00" font-size="46" fill="#000" font-weight="bold">d</text>
<text x="805.00" y="1424.00" font-size="46" fill="#000" font-weight="bold">e</text>
<line x1="229.00" y1="1509.60" x2="781.50" y2="1509.60" stroke="#c6c6c6" stroke-width="1.2"/>
<line x1="229.00" y1="1570.70" x2="781.50" y2="1570.70" stroke="#c6c6c6" stroke-width="1.2"/>
<line x1="229.00" y1="1631.80" x2="781.50" y2="1631.80" stroke="#c6c6c6" stroke-width="1.2"/>
<line x1="229.00" y1="1692.90" x2="781.50" y2="1692.90" stroke="#c6c6c6" stroke-width="1.2"/>
<line x1="229.00" y1="1754.00" x2="781.50" y2="1754.00" stroke="#c6c6c6" stroke-width="1.2"/>
<line x1="229.00" y1="1815.10" x2="781.50" y2="1815.10" stroke="#c6c6c6" stroke-width="1.2"/>
<line x1="229.00" y1="1876.20" x2="781.50" y2="1876.20" stroke="#c6c6c6" stroke-width="1.2"/>
<line x1="229.00" y1="1937.30" x2="781.50" y2="1937.30" stroke="#c6c6c6" stroke-width="1.2"/>
<line x1="229.40" y1="1509.60" x2="229.40" y2="1937.30" stroke="#c6c6c6" stroke-width="1.2"/>
<line x1="290.49" y1="1509.60" x2="290.49" y2="1937.30" stroke="#c6c6c6" stroke-width="1.2"/>
<line x1="351.58" y1="1509.60" x2="351.58" y2="1937.30" stroke="#c6c6c6" stroke-width="1.2"/>
<line x1="412.67" y1="1509.60" x2="412.67" y2="1937.30" stroke="#c6c6c6" stroke-width="1.2"/>
<line x1="473.76" y1="1509.60" x2="473.76" y2="1937.30" stroke="#c6c6c6" stroke-width="1.2"/>
<line x1="534.85" y1="1509.60" x2="534.85" y2="1937.30" stroke="#c6c6c6" stroke-width="1.2"/>
<line x1="595.94" y1="1509.60" x2="595.94" y2="1937.30" stroke="#c6c6c6" stroke-width="1.2"/>
<line x1="657.03" y1="1509.60" x2="657.03" y2="1937.30" stroke="#c6c6c6" stroke-width="1.2"/>
<line x1="718.12" y1="1509.60" x2="718.12" y2="1937.30" stroke="#c6c6c6" stroke-width="1.2"/>
<line x1="779.21" y1="1509.60" x2="779.21" y2="1937.30" stroke="#c6c6c6" stroke-width="1.2"/>
<text x="266.44" y="1503.30" font-size="16.2" fill="#1a1a1a" transform="rotate(-90 266.44 1503.30)">DSTYK</text>
<circle cx="259.94" cy="1540.15" r="28.05" fill="#00bfff"/>
<text x="327.54" y="1503.30" font-size="16.2" fill="#1a1a1a" transform="rotate(-90 327.54 1503.30)">CDK18</text>
<circle cx="321.04" cy="1540.15" r="28.05" fill="#00bfff"/>
<text x="388.62" y="1503.30" font-size="16.2" fill="#1a1a1a" transform="rotate(-90 388.62 1503.30)">MFSD4A</text>
<circle cx="382.12" cy="1540.15" r="28.05" fill="#00bfff"/>
<text x="449.72" y="1503.30" font-size="16.2" fill="#1a1a1a" transform="rotate(-90 449.72 1503.30)">SLC45A3</text>
<circle cx="443.22" cy="1540.15" r="28.05" fill="#00bfff"/>
<text x="510.81" y="1503.30" font-size="16.2" fill="#1a1a1a" transform="rotate(-90 510.81 1503.30)">NUCKS1</text>
<circle cx="504.31" cy="1540.15" r="28.05" fill="#00bfff"/>
<circle cx="504.31" cy="1601.25" r="28.05" fill="#00bfff"/>
<circle cx="504.31" cy="1662.35" r="28.05" fill="#00bfff"/>
<text x="571.89" y="1503.30" font-size="16.2" fill="#1a1a1a" transform="rotate(-90 571.89 1503.30)">RAB29</text>
<circle cx="565.39" cy="1540.15" r="28.05" fill="#00bfff"/>
<circle cx="565.39" cy="1601.25" r="28.05" fill="#00bfff"/>
<text x="632.99" y="1503.30" font-size="16.2" fill="#1a1a1a" transform="rotate(-90 632.99 1503.30)">SLC41A1</text>
<circle cx="626.49" cy="1540.15" r="28.05" fill="#00bfff"/>
<text x="694.08" y="1503.30" font-size="16.2" fill="#1a1a1a" transform="rotate(-90 694.08 1503.30)">PM20D1</text>
<circle cx="687.58" cy="1540.15" r="28.05" fill="#00bfff"/>
<circle cx="687.58" cy="1601.25" r="28.05" fill="#00bfff"/>
<circle cx="687.58" cy="1662.35" r="28.05" fill="#00bfff"/>
<circle cx="687.58" cy="1723.45" r="28.05" fill="#00bfff"/>
<circle cx="687.58" cy="1784.55" r="28.05" fill="#00bfff"/>
<circle cx="687.58" cy="1845.65" r="28.05" fill="#00bfff"/>
<text x="687.58" y="1872.05" font-size="49.5" fill="#ff3030" text-anchor="middle">*</text>
<circle cx="687.58" cy="1906.75" r="28.05" fill="#00bfff"/>
<text x="687.58" y="1933.15" font-size="49.5" fill="#ff3030" text-anchor="middle">*</text>
<text x="755.16" y="1503.30" font-size="16.2" fill="#1a1a1a" transform="rotate(-90 755.16 1503.30)">SLC26A9</text>
<circle cx="748.66" cy="1540.15" r="28.05" fill="#00bfff"/>
<text x="221.40" y="1544.75" font-size="16.2" fill="#1a1a1a" text-anchor="end">meQTL/eQTM-Kidney</text>
<text x="221.40" y="1605.85" font-size="16.2" fill="#1a1a1a" text-anchor="end">eQTL-KidneyMeta</text>
<text x="221.40" y="1666.95" font-size="16.2" fill="#1a1a1a" text-anchor="end">eQTL-Tuble</text>
<text x="221.40" y="1728.05" font-size="16.2" fill="#1a1a1a" text-anchor="end">eQTL-Glomeruli</text>
<text x="221.40" y="1789.15" font-size="16.2" fill="#1a1a1a" text-anchor="end">TWAS-GTEx.KidneyCortex</text>
<text x="221.40" y="1850.25" font-size="16.2" fill="#1a1a1a" text-anchor="end">TWAS-TCGA.KIRP</text>
<text x="221.40" y="1911.35" font-size="16.2" fill="#1a1a1a" text-anchor="end">TWAS-TCGA.KIRC</text>
<line x1="855.40" y1="1509.60" x2="1961.00" y2="1509.60" stroke="#c6c6c6" stroke-width="1.2"/>
<line x1="855.40" y1="1570.70" x2="1961.00" y2="1570.70" stroke="#c6c6c6" stroke-width="1.2"/>
<line x1="855.40" y1="1631.80" x2="1961.00" y2="1631.80" stroke="#c6c6c6" stroke-width="1.2"/>
<line x1="855.40" y1="1692.90" x2="1961.00" y2="1692.90" stroke="#c6c6c6" stroke-width="1.2"/>
<line x1="855.40" y1="1754.00" x2="1961.00" y2="1754.00" stroke="#c6c6c6" stroke-width="1.2"/>
<line x1="855.40" y1="1815.10" x2="1961.00" y2="1815.10" stroke="#c6c6c6" stroke-width="1.2"/>
<line x1="855.40" y1="1876.20" x2="1961.00" y2="1876.20" stroke="#c6c6c6" stroke-width="1.2"/>
<line x1="855.40" y1="1937.30" x2="1961.00" y2="1937.30" stroke="#c6c6c6" stroke-width="1.2"/>
<line x1="860.80" y1="1509.60" x2="860.80" y2="1937.30" stroke="#c6c6c6" stroke-width="1.2"/>
<line x1="921.89" y1="1509.60" x2="921.89" y2="1937.30" stroke="#c6c6c6" stroke-width="1.2"/>
<line x1="982.98" y1="1509.60" x2="982.98" y2="1937.30" stroke="#c6c6c6" stroke-width="1.2"/>
<line x1="1044.07" y1="1509.60" x2="1044.07" y2="1937.30" stroke="#c6c6c6" stroke-width="1.2"/>
<line x1="1105.16" y1="1509.60" x2="1105.16" y2="1937.30" stroke="#c6c6c6" stroke-width="1.2"/>
<line x1="1166.25" y1="1509.60" x2="1166.25" y2="1937.30" stroke="#c6c6c6" stroke-width="1.2"/>
<line x1="1227.34" y1="1509.60" x2="1227.34" y2="1937.30" stroke="#c6c6c6" stroke-width="1.2"/>
<line x1="1288.43" y1="1509.60" x2="1288.43" y2="1937.30" stroke="#c6c6c6" stroke-width="1.2"/>
<line x1="1349.52" y1="1509.60" x2="1349.52" y2="1937.30" stroke="#c6c6c6" stroke-width="1.2"/>
<line x1="1410.61" y1="1509.60" x2="1410.61" y2="1937.30" stroke="#c6c6c6" stroke-width="1.2"/>
<line x1="1471.70" y1="1509.60" x2="1471.70" y2="1937.30" stroke="#c6c6c6" stroke-width="1.2"/>
<line x1="1532.79" y1="1509.60" x2="1532.79" y2="1937.30" stroke="#c6c6c6" stroke-width="1.2"/>
<line x1="1593.88" y1="1509.60" x2="1593.88" y2="1937.30" stroke="#c6c6c6" stroke-width="1.2"/>
<line x1="1654.97" y1="1509.60" x2="1654.97" y2="1937.30" stroke="#c6c6c6" stroke-width="1.2"/>
<line x1="1716.06" y1="1509.60" x2="1716.06" y2="1937.30" stroke="#c6c6c6" stroke-width="1.2"/>
<line x1="1777.15" y1="1509.60" x2="1777.15" y2="1937.30" stroke="#c6c6c6" stroke-width="1.2"/>
<line x1="1838.24" y1="1509.60" x2="1838.24" y2="1937.30" stroke="#c6c6c6" stroke-width="1.2"/>
<line x1="1899.33" y1="1509.60" x2="1899.33" y2="1937.30" stroke="#c6c6c6" stroke-width="1.2"/>
<line x1="1960.42" y1="1509.60" x2="1960.42" y2="1937.30" stroke="#c6c6c6" stroke-width="1.2"/>
<text x="897.84" y="1503.30" font-size="16.2" fill="#1a1a1a" transform="rotate(-90 897.84 1503.30)">GFAP</text>
<circle cx="891.34" cy="1540.15" r="28.05" fill="#00bfff"/>
<text x="958.93" y="1503.30" font-size="16.2" fill="#1a1a1a" transform="rotate(-90 958.93 1503.30)">DCAKD</text>
<circle cx="952.43" cy="1540.15" r="28.05" fill="#00bfff"/>
<circle cx="952.43" cy="1601.25" r="28.05" fill="#00bfff"/>
<circle cx="952.43" cy="1662.35" r="28.05" fill="#00bfff"/>
<text x="1020.02" y="1503.30" font-size="16.2" fill="#1a1a1a" transform="rotate(-90 1020.02 1503.30)">HEXIM2</text>
<circle cx="1013.52" cy="1540.15" r="28.05" fill="#00bfff"/>
<text x="1081.12" y="1503.30" font-size="16.2" fill="#1a1a1a" transform="rotate(-90 1081.12 1503.30)">FMNL1</text>
<circle cx="1074.62" cy="1540.15" r="28.05" fill="#00bfff"/>
<text x="1142.20" y="1503.30" font-size="16.2" fill="#1a1a1a" transform="rotate(-90 1142.20 1503.30)">SPATA32</text>
<circle cx="1135.70" cy="1540.15" r="28.05" fill="#00bfff"/>
<text x="1203.30" y="1503.30" font-size="16.2" fill="#1a1a1a" transform="rotate(-90 1203.30 1503.30)">MAP3K14</text>
<circle cx="1196.80" cy="1540.15" r="28.05" fill="#00bfff"/>
<text x="1264.38" y="1503.30" font-size="16.2" fill="#1a1a1a" transform="rotate(-90 1264.38 1503.30)">ARHGAP27</text>
<circle cx="1257.88" cy="1540.15" r="28.05" fill="#00bfff"/>
<text x="1325.47" y="1503.30" font-size="16.2" fill="#1a1a1a" transform="rotate(-90 1325.47 1503.30)">PLEKHM1</text>
<circle cx="1318.97" cy="1540.15" r="28.05" fill="#00bfff"/>
<circle cx="1318.97" cy="1601.25" r="28.05" fill="#00bfff"/>
<circle cx="1318.97" cy="1662.35" r="28.05" fill="#00bfff"/>
<circle cx="1318.97" cy="1723.45" r="28.05" fill="#00bfff"/>
<circle cx="1318.97" cy="1784.55" r="28.05" fill="#00bfff"/>
<text x="1386.57" y="1503.30" font-size="16.2" fill="#1a1a1a" transform="rotate(-90 1386.57 1503.30)">CRHR1</text>
<circle cx="1380.07" cy="1540.15" r="28.05" fill="#00bfff"/>
<circle cx="1380.07" cy="1601.25" r="28.05" fill="#00bfff"/>
<circle cx="1380.07" cy="1784.55" r="28.05" fill="#00bfff"/>
<text x="1447.65" y="1503.30" font-size="16.2" fill="#1a1a1a" transform="rotate(-90 1447.65 1503.30)">MAPT</text>
<circle cx="1441.15" cy="1540.15" r="28.05" fill="#00bfff"/>
<circle cx="1441.15" cy="1601.25" r="28.05" fill="#00bfff"/>
<circle cx="1441.15" cy="1662.35" r="28.05" fill="#00bfff"/>
<circle cx="1441.15" cy="1723.45" r="28.05" fill="#00bfff"/>
<circle cx="1441.15" cy="1784.55" r="28.05" fill="#00bfff"/>
<text x="1508.74" y="1503.30" font-size="16.2" fill="#1a1a1a" transform="rotate(-90 1508.74 1503.30)">STH</text>
<circle cx="1502.24" cy="1540.15" r="28.05" fill="#00bfff"/>
<text x="1569.84" y="1503.30" font-size="16.2" fill="#1a1a1a" transform="rotate(-90 1569.84 1503.30)">KANSL1</text>
<circle cx="1563.34" cy="1540.15" r="28.05" fill="#00bfff"/>
<circle cx="1563.34" cy="1601.25" r="28.05" fill="#00bfff"/>
<circle cx="1563.34" cy="1662.35" r="28.05" fill="#00bfff"/>
<circle cx="1563.34" cy="1723.45" r="28.05" fill="#00bfff"/>
<text x="1630.92" y="1503.30" font-size="16.2" fill="#1a1a1a" transform="rotate(-90 1630.92 1503.30)">ARL17B</text>
<circle cx="1624.42" cy="1540.15" r="28.05" fill="#00bfff"/>
<circle cx="1624.42" cy="1601.25" r="28.05" fill="#00bfff"/>
<circle cx="1624.42" cy="1723.45" r="28.05" fill="#00bfff"/>
<text x="1692.01" y="1503.30" font-size="16.2" fill="#1a1a1a" transform="rotate(-90 1692.01 1503.30)">LRRC37A</text>
<circle cx="1685.51" cy="1540.15" r="28.05" fill="#00bfff"/>
<circle cx="1685.51" cy="1601.25" r="28.05" fill="#00bfff"/>
<circle cx="1685.51" cy="1662.35" r="28.05" fill="#00bfff"/>
<circle cx="1685.51" cy="1723.45" r="28.05" fill="#00bfff"/>
<circle cx="1685.51" cy="1845.65" r="28.05" fill="#00bfff"/>
<text x="1685.51" y="1872.05" font-size="49.5" fill="#ff3030" text-anchor="middle">*</text>
<circle cx="1685.51" cy="1906.75" r="28.05" fill="#00bfff"/>
<text x="1685.51" y="1933.15" font-size="49.5" fill="#ff3030" text-anchor="middle">*</text>
<text x="1753.11" y="1503.30" font-size="16.2" fill="#1a1a1a" transform="rotate(-90 1753.11 1503.30)">ARL17A</text>
<circle cx="1746.61" cy="1540.15" r="28.05" fill="#00bfff"/>
<circle cx="1746.61" cy="1601.25" r="28.05" fill="#00bfff"/>
<circle cx="1746.61" cy="1662.35" r="28.05" fill="#00bfff"/>
<circle cx="1746.61" cy="1723.45" r="28.05" fill="#00bfff"/>
<circle cx="1746.61" cy="1784.55" r="28.05" fill="#00bfff"/>
<text x="1814.20" y="1503.30" font-size="16.2" fill="#1a1a1a" transform="rotate(-90 1814.20 1503.30)">LRRC37A2</text>
<circle cx="1807.70" cy="1540.15" r="28.05" fill="#00bfff"/>
<circle cx="1807.70" cy="1601.25" r="28.05" fill="#00bfff"/>
<circle cx="1807.70" cy="1662.35" r="28.05" fill="#00bfff"/>
<circle cx="1807.70" cy="1723.45" r="28.05" fill="#00bfff"/>
<circle cx="1807.70" cy="1784.55" r="28.05" fill="#00bfff"/>
<text x="1807.70" y="1810.95" font-size="49.5" fill="#ff3030" text-anchor="middle">*</text>
<circle cx="1807.70" cy="1845.65" r="28.05" fill="#00bfff"/>
<text x="1807.70" y="1872.05" font-size="49.5" fill="#ff3030" text-anchor="middle">*</text>
<circle cx="1807.70" cy="1906.75" r="28.05" fill="#00bfff"/>
<text x="1807.70" y="1933.15" font-size="49.5" fill="#ff3030" text-anchor="middle">*</text>
<text x="1875.28" y="1503.30" font-size="16.2" fill="#1a1a1a" transform="rotate(-90 1875.28 1503.30)">NSF</text>
<circle cx="1868.78" cy="1540.15" r="28.05" fill="#00bfff"/>
<text x="1936.38" y="1503.30" font-size="16.2" fill="#1a1a1a" transform="rotate(-90 1936.38 1503.30)">WNT3</text>
<circle cx="1929.88" cy="1540.15" r="28.05" fill="#00bfff"/>
<circle cx="1929.88" cy="1601.25" r="28.05" fill="#00bfff"/>
<circle cx="1929.88" cy="1662.35" r="28.05" fill="#00bfff"/>
<circle cx="1929.88" cy="1784.55" r="28.05" fill="#00bfff"/>
<circle cx="1929.88" cy="1906.75" r="28.05" fill="#00bfff"/>
<text x="1929.88" y="1933.15" font-size="49.5" fill="#ff3030" text-anchor="middle">*</text>
<text x="4.00" y="695.50" font-size="46" fill="#000" font-weight="bold">b</text>
<rect x="66.40" y="722.00" width="657.50" height="305.30" fill="none" stroke="#4d4d4d" stroke-width="1.3"/>
<text x="50.60" y="1019.00" font-size="19" fill="#4d4d4d" text-anchor="end">0</text>
<text x="50.60" y="963.20" font-size="19" fill="#4d4d4d" text-anchor="end">2</text>
<text x="50.60" y="907.40" font-size="19" fill="#4d4d4d" text-anchor="end">4</text>
<text x="50.60" y="851.60" font-size="19" fill="#4d4d4d" text-anchor="end">6</text>
<text x="50.60" y="795.80" font-size="19" fill="#4d4d4d" text-anchor="end">8</text>
<text x="53.00" y="740.00" font-size="19" fill="#4d4d4d" text-anchor="end">10</text>
<path d="M66.40 1013.90V734.90M66.40 1013.90H56.20M66.40 958.10H56.20M66.40 902.30H56.20M66.40 846.50H56.20M66.40 790.70H56.20M66.40 734.90H56.20" fill="none" stroke="#4d4d4d" stroke-width="2.7" stroke-linecap="round"/>
<text x="743.00" y="1018.40" font-size="19" fill="#3333ff">0</text>
<text x="743.00" y="962.60" font-size="19" fill="#3333ff">20</text>
<text x="743.00" y="906.80" font-size="19" fill="#3333ff">40</text>
<text x="743.00" y="851.00" font-size="19" fill="#3333ff">60</text>
<text x="743.00" y="795.20" font-size="19" fill="#3333ff">80</text>
<text x="743.00" y="739.40" font-size="19" fill="#3333ff">100</text>
<path d="M725.00 1013.90V734.90M725.00 1013.90H733.90M725.00 958.10H733.90M725.00 902.30H733.90M725.00 846.50H733.90M725.00 790.70H733.90M725.00 734.90H733.90" fill="none" stroke="#3333ff" stroke-width="2.7" stroke-linecap="round"/>
<text x="20.30" y="868.40" font-size="22.2" fill="#4d4d4d" text-anchor="middle" transform="rotate(-90 20.30 868.40)" textLength="163.5" lengthAdjust="spacingAndGlyphs">−log<tspan font-size="17" dy="4.5">10</tspan><tspan dy="-4.5">(p−value)</tspan></text>
<text x="771.70" y="878.60" font-size="20" fill="#3333ff" text-anchor="middle" transform="rotate(90 771.70 878.60)" textLength="246.5" lengthAdjust="spacingAndGlyphs">Recombination rate (cM/Mb)</text>
<path d="M189.4 1014.4L190.4 936.0L191.2 936.0L192.2 1014.4M297.0 1014.4L299.6 975.0L300.4 975.0L303.0 1014.4M312.9 1014.4L313.5 930.5L314.3 930.5L314.9 1014.4M327.8 1014.4L328.2 861.0L329.0 861.0L329.4 1014.4M347.1 1014.4L347.7 928.3L348.5 928.3L349.1 1014.4M586.6 1014.4L587.0 930.5L587.8 930.5L588.2 1014.4M638.0 1014.4L639.0 937.2L639.8 937.2L640.8 1014.4M661.5 988L664.5 1000L667.5 1014.4" fill="none" stroke="#3333ff" stroke-width="5.4" stroke-linejoin="round" stroke-linecap="round"/>
<path d="M63.5 1016.9L63.5 1005.5L66.0 1005.0L69.0 1005.0L72.0 1005.0L75.0 1005.0L78.0 1005.0L81.0 1005.0L84.0 1005.0L87.0 1005.0L90.0 1005.0L93.0 1005.0L96.0 1005.0L99.0 1005.0L102.0 1004.9L105.0 1004.9L108.0 1004.9L111.0 1004.8L114.0 1004.8L117.0 1004.8L120.0 1004.7L123.0 1004.7L126.0 1004.7L129.0 1004.6L132.0 1004.6L135.0 1004.6L138.0 1004.5L141.0 1004.5L144.0 1004.5L147.0 1004.4L150.0 1004.4L153.0 1004.3L156.0 1004.2L159.0 1004.1L162.0 1004.0L165.0 1003.9L168.0 1003.7L171.0 1003.6L174.0 1003.5L177.0 1003.4L180.0 1003.3L183.0 1003.2L186.0 1003.1L189.0 1003.0L192.0 1002.9L195.0 1002.7L198.0 1002.9L201.0 1003.1L204.0 1003.2L207.0 1003.4L210.0 1003.6L213.0 1003.7L216.0 1003.9L219.0 1004.1L222.0 1004.2L225.0 1004.4L228.0 1004.6L231.0 1004.7L234.0 1004.9L237.0 1005.1L240.0 1005.3L243.0 1005.6L246.0 1005.8L249.0 1006.0L252.0 1005.8L255.0 1005.4L258.0 1005.0L261.0 1004.6L264.0 1004.0L267.0 1003.4L270.0 1002.7L273.0 1003.3L276.0 1004.0L279.0 1004.6L282.0 1005.0L285.0 1005.0L288.0 1005.0L291.0 1005.0L294.0 1004.7L297.0 1004.3L300.0 1003.9L303.0 1003.5L306.0 1003.0L309.0 1002.5L312.0 1002.1L315.0 1001.3L318.0 1000.1L321.0 998.9L324.0 997.7L327.0 996.7L330.0 995.8L333.0 995.0L336.0 994.1L339.0 994.0L342.0 994.2L345.0 994.4L348.0 994.6L351.0 995.6L354.0 996.5L357.0 997.5L360.0 999.1L363.0 1001.8L366.0 1003.1L369.0 1003.7L372.0 1003.4L375.0 1002.7L378.0 1001.6L381.0 1000.5L384.0 1001.1L387.0 1001.7L390.0 1002.3L393.0 1002.7L396.0 1002.7L399.0 1002.7L402.0 1002.7L405.0 1002.5L408.0 1002.2L411.0 1001.9L414.0 1001.6L417.0 1001.3L420.0 1001.0L423.0 1000.7L426.0 1000.5L429.0 1000.5L432.0 1000.5L435.0 1000.5L438.0 1000.7L441.0 1001.3L444.0 1001.9L447.0 1002.5L450.0 1003.1L453.0 1003.8L456.0 1004.4L459.0 1005.0L462.0 1004.4L465.0 1003.8L468.0 1003.1L471.0 1002.5L474.0 1001.9L477.0 1001.3L480.0 1000.7L483.0 1000.5L486.0 1000.5L489.0 1000.5L492.0 1000.7L495.0 1001.3L498.0 1001.9L501.0 1002.5L504.0 1002.3L507.0 1001.7L510.0 1001.1L513.0 1000.5L516.0 999.9L519.0 999.3L522.0 998.7L525.0 998.5L528.0 999.1L531.0 999.7L534.0 1000.3L537.0 1000.6L540.0 1000.8L543.0 1001.0L546.0 1001.2L549.0 1001.6L552.0 1001.9L555.0 1002.3L558.0 1002.7L561.0 1003.3L564.0 1004.0L567.0 1004.6L570.0 1005.2L573.0 1005.8L576.0 1006.4L579.0 1007.0L582.0 1006.5L585.0 1005.5L588.0 1004.5L591.0 1003.5L594.0 1003.6L597.0 1003.7L600.0 1003.8L603.0 1003.8L606.0 1003.5L609.0 1003.1L612.0 1002.8L615.0 1002.7L618.0 1002.7L621.0 1002.7L624.0 1002.7L627.0 1002.1L630.0 1001.5L633.0 1000.9L636.0 1000.3L639.0 999.8L642.0 999.2L645.0 998.6L648.0 998.1L651.0 997.5L654.0 996.9L657.0 996.2L660.0 995.3L663.0 994.2L668 1016.9Z" fill="#333" stroke="#333" stroke-width="5" stroke-linejoin="round"/>
<path class="o" d="M195.3 1001.4h0M352.2 994.8h0M495.0 1004.6h0M374.1 1011.3h0M257.5 1003.2h0M447.4 1013.4h0M222.6 990.7h0M195.9 999.3h0M95.3 1003.9h0M335.5 987.8h0M292.8 997.1h0M113.7 1010.1h0M68.4 1012.9h0M182.7 1005.3h0M198.9 1012.5h0M325.8 1012.2h0M121.5 1006.1h0M633.0 981.2h0M434.3 1006.9h0M601.2 1009.7h0M510.1 1006.0h0M631.6 1000.9h0M617.3 1004.1h0M255.4 1013.8h0M372.8 1002.1h0M262.5 995.9h0M316.3 1007.4h0M254.0 1000.8h0M176.0 1001.2h0M410.0 1012.6h0"/><path class="i" stroke="#000080" d="M257.5 1003.2h0M222.6 990.7h0M195.9 999.3h0M95.3 1003.9h0M335.5 987.8h0M68.4 1012.9h0M121.5 1006.1h0M633.0 981.2h0M631.6 1000.9h0M617.3 1004.1h0M262.5 995.9h0M254.0 1000.8h0"/><path class="o" d="M325.0 989.9h0M239.5 1012.0h0M172.1 1006.4h0M656.7 991.8h0M630.2 998.8h0M266.4 997.4h0M428.1 987.2h0M476.5 1001.5h0M440.5 995.5h0M588.2 993.6h0M250.5 1007.4h0M177.8 996.2h0M453.4 996.9h0M373.6 1006.5h0M430.9 1002.9h0M650.0 1007.2h0M557.5 1004.0h0M487.0 989.4h0M233.2 1002.1h0M300.1 998.6h0M597.3 992.5h0M579.2 1001.8h0M352.0 1000.5h0M346.2 976.2h0M287.5 1012.2h0M213.1 1002.9h0M256.0 1001.1h0M99.5 1005.5h0M388.6 992.5h0M616.4 998.5h0"/><path class="i" stroke="#000080" d="M630.2 998.8h0M266.4 997.4h0M428.1 987.2h0M440.5 995.5h0M588.2 993.6h0M177.8 996.2h0M453.4 996.9h0M650.0 1007.2h0M487.0 989.4h0M233.2 1002.1h0M300.1 998.6h0M597.3 992.5h0M579.2 1001.8h0M346.2 976.2h0M213.1 1002.9h0M256.0 1001.1h0M99.5 1005.5h0M388.6 992.5h0M616.4 998.5h0"/><path class="o" d="M127.3 1004.2h0M525.6 1009.7h0M304.3 999.8h0M355.8 984.1h0M190.1 993.7h0M566.3 1002.9h0M323.8 995.1h0M519.8 1005.1h0M115.8 1007.4h0M519.0 1007.0h0M276.3 999.5h0M662.5 1001.9h0M416.3 1002.2h0M540.9 1007.9h0M225.5 991.2h0M220.7 1007.2h0M469.7 1008.9h0M376.7 994.8h0M366.8 1010.1h0M143.3 1000.6h0M269.6 1002.9h0M183.3 996.3h0M179.0 995.7h0M569.6 1011.9h0M129.3 996.7h0M456.0 995.7h0M500.5 1004.0h0M356.6 999.0h0M539.8 1009.0h0M628.1 1006.9h0"/><path class="i" stroke="#000080" d="M355.8 984.1h0M190.1 993.7h0M566.3 1002.9h0M115.8 1007.4h0M519.0 1007.0h0M276.3 999.5h0M225.5 991.2h0M376.7 994.8h0M183.3 996.3h0M179.0 995.7h0M569.6 1011.9h0M129.3 996.7h0M456.0 995.7h0M356.6 999.0h0"/><path class="o" d="M357.2 997.1h0M511.5 1001.1h0M219.7 1003.9h0M156.0 994.6h0M374.0 990.2h0M69.0 1006.6h0M394.2 1003.6h0M425.3 1004.3h0M623.7 1003.4h0M126.1 1008.5h0M236.1 998.6h0M211.6 998.7h0M136.0 992.7h0M459.1 1013.5h0M88.7 1000.5h0M441.9 1011.9h0M132.4 1001.0h0M143.7 991.4h0M224.1 1009.5h0M179.8 997.8h0M184.1 987.4h0M498.6 1007.8h0M609.1 998.8h0M553.4 1008.8h0M454.3 1009.1h0M602.7 1007.4h0M225.1 1012.4h0M217.1 1008.6h0M354.1 1004.4h0M662.4 976.5h0"/><path class="i" stroke="#000080" d="M357.2 997.1h0M219.7 1003.9h0M156.0 994.6h0M374.0 990.2h0M69.0 1006.6h0M623.7 1003.4h0M211.6 998.7h0M136.0 992.7h0M459.1 1013.5h0M143.7 991.4h0M224.1 1009.5h0M184.1 987.4h0M498.6 1007.8h0M217.1 1008.6h0M354.1 1004.4h0M662.4 976.5h0"/><path class="o" d="M339.4 964.9h0M504.2 1004.6h0M397.9 985.6h0M152.1 1000.2h0M176.2 1006.3h0M181.9 1010.8h0M493.4 1001.9h0M154.8 999.4h0M406.1 1000.5h0M349.7 1005.8h0M75.6 999.5h0M340.2 1005.9h0M208.2 1013.7h0M531.1 1013.2h0M125.8 1001.7h0M452.3 1002.5h0M266.3 989.8h0M132.2 1012.3h0M437.2 993.8h0M596.2 994.4h0M303.7 993.1h0M404.2 1001.4h0M496.1 1000.1h0M374.5 1005.0h0M507.4 1008.2h0M147.0 1012.1h0M301.0 996.8h0M588.1 996.6h0M480.8 1003.6h0M297.4 1002.8h0"/><path class="i" stroke="#000080" d="M339.4 964.9h0M504.2 1004.6h0M397.9 985.6h0M152.1 1000.2h0M154.8 999.4h0M208.2 1013.7h0M125.8 1001.7h0M266.3 989.8h0M437.2 993.8h0M596.2 994.4h0M303.7 993.1h0M496.1 1000.1h0M374.5 1005.0h0M301.0 996.8h0M588.1 996.6h0M297.4 1002.8h0"/><path class="o" d="M488.9 1006.2h0M513.2 1007.5h0M158.7 1006.3h0M69.2 1006.2h0M273.8 992.1h0M548.9 986.3h0M420.4 990.5h0M345.1 1005.6h0M147.3 1009.3h0M554.0 1002.4h0M634.1 1002.5h0M375.4 1002.3h0M501.2 1005.0h0M242.1 1001.0h0M632.4 981.7h0M178.6 1013.1h0M169.3 993.1h0M429.7 997.0h0M477.6 993.5h0M372.3 1001.3h0M283.2 1000.3h0M227.7 1006.0h0M214.7 1013.1h0M341.9 1011.2h0M256.0 1013.4h0M401.0 1008.0h0M603.9 1000.8h0M302.5 999.3h0M481.8 1009.6h0M350.1 990.9h0"/><path class="i" stroke="#000080" d="M69.2 1006.2h0M273.8 992.1h0M548.9 986.3h0M420.4 990.5h0M147.3 1009.3h0M634.1 1002.5h0M375.4 1002.3h0M501.2 1005.0h0M242.1 1001.0h0M632.4 981.7h0M169.3 993.1h0M477.6 993.5h0M256.0 1013.4h0M603.9 1000.8h0M302.5 999.3h0M350.1 990.9h0"/><path class="o" d="M652.5 980.6h0M585.3 1012.2h0M416.1 1006.1h0M150.8 997.9h0M501.1 992.9h0M357.7 1011.1h0M202.7 1006.2h0M450.0 999.5h0M191.2 987.1h0M538.5 992.0h0M617.4 992.3h0M114.6 1013.0h0M263.9 996.7h0M399.2 998.3h0M475.5 987.2h0M502.7 1011.6h0M551.1 995.4h0M211.1 1010.3h0M104.5 1010.7h0M657.7 1001.6h0M517.8 992.8h0M549.9 1005.2h0M547.0 1006.6h0M290.2 1002.2h0M197.8 1004.9h0M509.8 1009.3h0M445.7 1004.3h0M186.7 994.9h0M581.3 1009.7h0M113.0 997.9h0"/><path class="i" stroke="#000080" d="M652.5 980.6h0M150.8 997.9h0M501.1 992.9h0M450.0 999.5h0M191.2 987.1h0M617.4 992.3h0M114.6 1013.0h0M263.9 996.7h0M399.2 998.3h0M475.5 987.2h0M211.1 1010.3h0M517.8 992.8h0M549.9 1005.2h0M290.2 1002.2h0M509.8 1009.3h0M445.7 1004.3h0M186.7 994.9h0M581.3 1009.7h0M113.0 997.9h0"/><path class="o" d="M462.3 1000.1h0M574.0 1000.1h0M312.2 992.3h0M427.4 997.6h0M582.6 1013.3h0M399.8 1010.5h0M640.4 992.4h0M154.5 1000.5h0M109.1 1007.2h0M219.1 1004.5h0M188.6 1010.5h0M386.2 1010.2h0M509.4 985.2h0M592.2 1003.5h0M379.3 1007.4h0M433.2 1008.9h0M88.2 1005.2h0M320.4 983.9h0M255.1 1009.7h0M259.2 996.3h0M624.9 995.2h0M629.0 988.8h0M653.9 1004.1h0M319.1 989.9h0M107.9 1007.4h0M615.8 995.4h0M501.9 998.6h0M246.1 1009.6h0M201.4 1008.0h0M609.8 996.6h0"/><path class="i" stroke="#000080" d="M462.3 1000.1h0M312.2 992.3h0M427.4 997.6h0M640.4 992.4h0M154.5 1000.5h0M219.1 1004.5h0M509.4 985.2h0M592.2 1003.5h0M88.2 1005.2h0M320.4 983.9h0M259.2 996.3h0M624.9 995.2h0M629.0 988.8h0M319.1 989.9h0M107.9 1007.4h0M615.8 995.4h0M501.9 998.6h0M201.4 1008.0h0"/><path class="o" d="M491.6 1011.0h0M370.7 993.7h0M98.6 994.1h0M643.3 991.5h0M456.9 999.9h0M660.0 982.7h0M377.7 1006.2h0M535.0 1003.2h0M427.8 1005.7h0M378.5 1009.8h0M297.3 1013.8h0M590.6 1008.9h0M590.1 988.0h0M541.3 1005.3h0M71.2 996.0h0M463.4 1005.5h0M338.5 1003.5h0M319.8 994.9h0M336.0 1001.6h0M193.4 988.8h0M199.1 1013.5h0M642.8 984.3h0M260.6 998.3h0M220.9 1011.6h0M141.9 1007.9h0M371.7 1012.5h0M69.5 1002.0h0M425.2 994.6h0M346.6 1009.1h0M407.6 1006.6h0"/><path class="i" stroke="#000080" d="M491.6 1011.0h0M370.7 993.7h0M98.6 994.1h0M643.3 991.5h0M456.9 999.9h0M660.0 982.7h0M535.0 1003.2h0M590.1 988.0h0M71.2 996.0h0M463.4 1005.5h0M193.4 988.8h0M199.1 1013.5h0M642.8 984.3h0M260.6 998.3h0M371.7 1012.5h0M69.5 1002.0h0"/><path class="o" d="M199.7 998.0h0M248.5 1008.6h0M227.8 1008.6h0M346.0 1013.1h0M211.4 1002.2h0M628.3 998.6h0M563.2 1008.9h0M170.0 1001.2h0M446.6 1007.8h0M422.2 983.5h0M189.6 993.5h0M428.6 997.4h0M107.7 1009.1h0M615.0 1007.8h0M301.5 993.8h0M354.6 995.4h0M336.6 1010.4h0M592.6 1005.9h0M577.4 1007.4h0M307.6 986.7h0M332.1 991.7h0M489.0 987.2h0M224.4 999.9h0M534.6 1013.3h0M607.4 1003.6h0M559.6 1006.1h0M293.5 998.1h0M486.5 996.1h0M210.8 1000.5h0M67.0 1012.7h0"/><path class="i" stroke="#000080" d="M248.5 1008.6h0M211.4 1002.2h0M628.3 998.6h0M422.2 983.5h0M428.6 997.4h0M301.5 993.8h0M354.6 995.4h0M307.6 986.7h0M332.1 991.7h0M489.0 987.2h0M224.4 999.9h0M607.4 1003.6h0M293.5 998.1h0M486.5 996.1h0M67.0 1012.7h0"/><path class="o" d="M235.4 1008.0h0M305.4 1008.6h0M86.7 997.7h0M300.2 1012.0h0M425.2 1007.4h0M206.3 999.6h0M344.2 976.2h0M531.8 986.3h0M437.6 987.9h0M563.4 1003.0h0M234.8 1008.9h0M245.3 1004.8h0M643.3 1002.9h0M508.4 1004.4h0M335.8 968.4h0M232.0 997.9h0M220.1 1006.8h0M323.1 1002.5h0M83.0 1007.9h0M624.9 996.5h0M419.8 1007.4h0M242.2 996.1h0M562.1 1000.0h0M474.4 1008.5h0M310.4 1008.0h0M78.3 999.4h0M312.8 1006.6h0M210.6 1004.0h0M215.4 1007.9h0M77.1 1004.9h0"/><path class="i" stroke="#000080" d="M235.4 1008.0h0M86.7 997.7h0M206.3 999.6h0M344.2 976.2h0M531.8 986.3h0M437.6 987.9h0M245.3 1004.8h0M335.8 968.4h0M232.0 997.9h0M624.9 996.5h0M242.2 996.1h0M312.8 1006.6h0M210.6 1004.0h0M77.1 1004.9h0"/><path class="o" d="M386.9 993.2h0M84.1 1000.6h0M568.5 995.7h0M326.8 983.2h0M512.1 1013.8h0M572.2 1008.0h0M575.8 1011.0h0M385.7 1009.4h0M308.6 993.4h0M419.4 990.9h0M274.5 1002.4h0M646.4 988.3h0M141.1 1008.5h0M652.5 991.3h0M250.2 999.0h0M580.7 1010.8h0M442.4 1008.8h0M388.3 999.9h0M458.5 999.1h0M483.6 991.1h0M211.4 988.7h0M506.8 986.3h0M548.9 993.0h0M651.0 1001.7h0M98.5 1005.3h0M435.3 996.6h0M132.5 1013.2h0M644.8 992.1h0M192.0 998.7h0M257.4 1011.2h0"/><path class="i" stroke="#000080" d="M84.1 1000.6h0M568.5 995.7h0M326.8 983.2h0M385.7 1009.4h0M308.6 993.4h0M419.4 990.9h0M274.5 1002.4h0M141.1 1008.5h0M652.5 991.3h0M250.2 999.0h0M580.7 1010.8h0M442.4 1008.8h0M388.3 999.9h0M458.5 999.1h0M483.6 991.1h0M211.4 988.7h0M506.8 986.3h0M548.9 993.0h0M435.3 996.6h0M644.8 992.1h0M192.0 998.7h0M257.4 1011.2h0"/><path class="o" d="M113.9 997.4h0M456.5 1000.6h0M448.7 995.8h0M80.6 1011.3h0M265.8 1006.0h0M112.7 1008.1h0M379.5 1011.8h0M89.8 999.2h0M194.5 1005.9h0M279.1 1003.6h0M178.8 1002.9h0M134.8 991.3h0M71.8 1009.7h0M482.6 984.7h0M230.3 997.8h0M391.1 1013.8h0M246.9 1002.0h0M76.8 1011.2h0M369.4 1003.6h0M184.9 993.8h0M229.1 1001.6h0M633.3 1011.5h0M222.6 1010.6h0M560.8 991.5h0M458.3 1009.3h0M226.0 1000.3h0M208.6 1006.9h0M363.1 1000.0h0M72.9 994.2h0M437.3 1009.0h0"/><path class="i" stroke="#000080" d="M113.9 997.4h0M448.7 995.8h0M265.8 1006.0h0M379.5 1011.8h0M89.8 999.2h0M279.1 1003.6h0M134.8 991.3h0M482.6 984.7h0M230.3 997.8h0M76.8 1011.2h0M369.4 1003.6h0M184.9 993.8h0M229.1 1001.6h0M222.6 1010.6h0M560.8 991.5h0M226.0 1000.3h0M363.1 1000.0h0M72.9 994.2h0"/><path class="o" d="M483.5 981.5h0M464.5 1006.4h0M587.0 1008.3h0M638.3 998.9h0M287.4 1006.0h0M187.4 1011.0h0M397.2 996.9h0M651.1 999.5h0M546.5 1002.2h0M643.4 1004.2h0M317.3 990.9h0M225.4 997.2h0M621.5 1008.5h0M570.9 997.6h0M602.7 1013.6h0M480.0 987.3h0M584.4 1003.1h0M437.3 998.2h0M380.1 1010.0h0M564.3 992.9h0M480.5 1002.4h0M359.7 980.3h0M94.9 1012.4h0M547.1 1000.5h0M352.7 991.9h0M539.3 983.7h0M240.3 1013.0h0M330.5 1006.2h0M578.8 1012.5h0M431.4 995.2h0"/><path class="i" stroke="#000080" d="M483.5 981.5h0M587.0 1008.3h0M287.4 1006.0h0M397.2 996.9h0M317.3 990.9h0M225.4 997.2h0M570.9 997.6h0M480.0 987.3h0M584.4 1003.1h0M437.3 998.2h0M564.3 992.9h0M480.5 1002.4h0M359.7 980.3h0M547.1 1000.5h0M352.7 991.9h0M539.3 983.7h0M431.4 995.2h0"/><path class="o" d="M413.9 991.5h0M138.5 1002.8h0M126.3 1004.0h0M520.9 993.3h0M611.6 1010.4h0M236.9 1005.8h0M423.5 1010.9h0M157.9 1010.9h0M253.4 1009.8h0M105.8 1008.8h0M567.1 1006.4h0M478.9 1007.0h0M586.2 1013.0h0M85.3 997.9h0M215.1 1005.6h0M455.3 996.3h0M446.4 1006.7h0M170.4 1002.1h0M502.0 1003.8h0M435.1 1009.0h0M200.1 995.0h0M634.9 996.1h0M103.9 995.7h0M168.5 1008.7h0M203.7 1010.7h0M285.1 998.1h0M596.0 995.7h0M250.9 1007.8h0M644.8 1012.9h0M210.0 992.3h0"/><path class="i" stroke="#000080" d="M413.9 991.5h0M138.5 1002.8h0M126.3 1004.0h0M423.5 1010.9h0M85.3 997.9h0M455.3 996.3h0M446.4 1006.7h0M200.1 995.0h0M103.9 995.7h0M203.7 1010.7h0M285.1 998.1h0M596.0 995.7h0M250.9 1007.8h0M210.0 992.3h0"/><path class="o" d="M474.5 996.5h0M619.9 1004.5h0M241.2 991.5h0M354.1 996.9h0M180.1 1002.3h0M641.4 987.0h0M583.8 1008.3h0M278.2 1013.0h0M364.3 996.6h0M610.5 986.9h0M205.1 999.1h0M283.0 1004.4h0M435.7 995.2h0M162.4 1001.9h0M512.2 1012.2h0M661.0 990.3h0M85.7 997.8h0M376.0 1010.8h0M524.9 986.6h0M530.0 989.7h0M473.9 1010.9h0M149.2 1012.3h0M537.0 982.7h0M608.4 995.6h0M455.2 1012.0h0M532.4 990.2h0M300.0 993.8h0M444.2 994.1h0M222.9 1008.2h0M102.6 1005.6h0"/><path class="i" stroke="#000080" d="M474.5 996.5h0M619.9 1004.5h0M241.2 991.5h0M641.4 987.0h0M583.8 1008.3h0M364.3 996.6h0M610.5 986.9h0M283.0 1004.4h0M85.7 997.8h0M524.9 986.6h0M530.0 989.7h0M537.0 982.7h0M608.4 995.6h0M532.4 990.2h0M300.0 993.8h0M444.2 994.1h0M102.6 1005.6h0"/><path class="o" d="M446.6 998.2h0M184.3 1008.7h0M252.6 1003.2h0M268.6 1002.8h0M479.5 993.3h0M463.0 996.4h0M204.4 1000.4h0M203.1 994.0h0M359.4 988.4h0M534.1 992.6h0M580.0 999.9h0M575.3 996.1h0M81.3 1011.4h0M401.9 995.9h0M451.1 999.2h0M245.6 1007.8h0M455.4 1001.3h0M147.1 995.1h0M292.5 994.2h0M467.2 1008.4h0M539.3 989.6h0M469.1 994.4h0M625.6 987.9h0M296.8 1003.1h0M210.6 1008.3h0M272.0 991.5h0M322.0 995.9h0M179.7 1009.8h0M71.4 997.0h0M247.3 1004.1h0"/><path class="i" stroke="#000080" d="M446.6 998.2h0M252.6 1003.2h0M268.6 1002.8h0M204.4 1000.4h0M203.1 994.0h0M359.4 988.4h0M534.1 992.6h0M580.0 999.9h0M575.3 996.1h0M401.9 995.9h0M451.1 999.2h0M245.6 1007.8h0M455.4 1001.3h0M147.1 995.1h0M292.5 994.2h0M539.3 989.6h0M469.1 994.4h0M625.6 987.9h0M272.0 991.5h0M179.7 1009.8h0M71.4 997.0h0"/><path class="o" d="M525.6 1011.7h0M490.1 995.3h0M461.4 1007.9h0M434.2 990.9h0M581.9 1001.8h0M329.7 1002.4h0M379.0 1009.1h0M588.3 999.1h0M502.9 993.1h0M379.1 996.2h0M631.5 1003.9h0M315.2 1003.2h0M521.9 1005.4h0M511.8 1005.1h0M448.6 1005.8h0M131.2 996.3h0M135.9 1003.6h0M172.9 1000.6h0M553.8 983.7h0M432.1 991.8h0M527.3 993.9h0M551.3 990.9h0M363.7 997.5h0M157.7 995.9h0M611.6 992.3h0M522.3 1002.4h0M597.0 1002.8h0M377.0 986.8h0M202.0 1002.4h0M405.5 1011.5h0"/><path class="i" stroke="#000080" d="M434.2 990.9h0M581.9 1001.8h0M329.7 1002.4h0M502.9 993.1h0M521.9 1005.4h0M131.2 996.3h0M172.9 1000.6h0M553.8 983.7h0M432.1 991.8h0M551.3 990.9h0M363.7 997.5h0M157.7 995.9h0M611.6 992.3h0M377.0 986.8h0"/><path class="o" d="M534.0 992.7h0M303.0 1011.1h0M350.7 991.1h0M556.3 1002.4h0M261.0 1007.5h0M358.1 1007.1h0M485.4 1004.1h0M635.3 989.0h0M535.1 993.9h0M279.9 1001.5h0M329.8 1008.0h0M403.1 988.2h0M659.6 1011.6h0M198.9 994.7h0M493.1 1001.0h0M123.2 991.2h0M114.6 997.5h0M523.0 982.3h0M294.9 996.9h0M454.1 997.2h0M660.2 1009.9h0M527.8 987.6h0M152.2 1005.9h0M589.1 994.2h0M66.5 1005.3h0M647.8 979.0h0M324.5 978.9h0M113.6 996.6h0M479.2 991.6h0M189.4 1009.6h0"/><path class="i" stroke="#000080" d="M534.0 992.7h0M358.1 1007.1h0M635.3 989.0h0M403.1 988.2h0M198.9 994.7h0M123.2 991.2h0M114.6 997.5h0M523.0 982.3h0M294.9 996.9h0M527.8 987.6h0M589.1 994.2h0M66.5 1005.3h0M647.8 979.0h0M324.5 978.9h0M113.6 996.6h0M479.2 991.6h0"/><path class="o" d="M230.3 990.1h0M366.6 1010.4h0M506.1 1003.4h0M646.4 1003.6h0M142.5 995.6h0M473.6 998.7h0M251.9 1005.6h0M275.8 999.9h0M476.5 996.7h0M252.4 999.5h0M469.5 1013.3h0M204.0 1005.1h0M556.7 998.8h0M605.5 1004.5h0M286.7 1012.7h0M579.8 1007.4h0M213.9 1007.7h0M589.0 996.5h0M452.6 998.4h0M364.6 1011.3h0M483.3 1000.7h0M249.9 997.7h0M504.9 1011.9h0M102.8 999.6h0M404.6 1011.7h0M522.4 995.0h0M349.3 1011.3h0M351.9 984.2h0M493.4 1013.1h0M489.4 995.2h0"/><path class="i" stroke="#000080" d="M230.3 990.1h0M506.1 1003.4h0M142.5 995.6h0M275.8 999.9h0M476.5 996.7h0M252.4 999.5h0M204.0 1005.1h0M556.7 998.8h0M579.8 1007.4h0M589.0 996.5h0M452.6 998.4h0M364.6 1011.3h0M483.3 1000.7h0M249.9 997.7h0M504.9 1011.9h0M102.8 999.6h0M351.9 984.2h0M489.4 995.2h0"/><path class="o" d="M635.7 994.6h0M272.4 1009.0h0M226.0 1004.7h0M526.8 1004.3h0M573.6 997.6h0M458.6 1008.2h0M373.3 1004.1h0M587.1 1002.7h0M123.8 1013.2h0M150.2 1009.2h0M342.0 1009.6h0M648.9 1002.7h0M480.0 993.6h0M242.8 1012.1h0M209.7 1001.7h0M377.0 1009.3h0M265.5 995.0h0M216.8 1012.7h0M598.9 1006.4h0M458.3 1006.4h0M616.0 1008.7h0M576.1 1007.0h0M278.9 1007.3h0M107.2 996.8h0M351.3 1006.1h0M641.7 984.4h0M441.8 989.9h0M382.9 1000.5h0M532.1 1004.4h0M118.9 998.0h0"/><path class="i" stroke="#000080" d="M635.7 994.6h0M573.6 997.6h0M373.3 1004.1h0M648.9 1002.7h0M480.0 993.6h0M242.8 1012.1h0M377.0 1009.3h0M265.5 995.0h0M216.8 1012.7h0M458.3 1006.4h0M107.2 996.8h0M641.7 984.4h0M441.8 989.9h0M118.9 998.0h0"/><path class="o" d="M315.7 1012.2h0M132.9 1012.9h0M108.7 1013.3h0M654.8 992.8h0M421.5 1004.8h0M450.8 997.5h0M306.4 1010.8h0M311.0 998.5h0M377.3 1010.7h0M141.9 1012.0h0M573.2 1006.6h0M401.1 1011.0h0M107.9 1006.8h0M431.0 994.5h0M651.6 985.7h0M470.5 997.5h0M178.5 997.0h0M357.5 992.8h0M235.0 999.8h0M311.2 994.2h0M356.8 993.0h0M518.3 978.2h0M349.1 977.6h0M344.1 1008.9h0M416.9 1007.4h0M248.2 1009.0h0M112.3 1013.5h0M66.4 1011.3h0M335.1 999.3h0M611.3 1003.7h0"/><path class="i" stroke="#000080" d="M421.5 1004.8h0M450.8 997.5h0M141.9 1012.0h0M431.0 994.5h0M651.6 985.7h0M311.2 994.2h0M356.8 993.0h0M518.3 978.2h0M349.1 977.6h0M344.1 1008.9h0"/><path class="o" d="M268.0 998.9h0M269.4 996.9h0M360.3 1005.6h0M89.4 990.7h0M390.3 986.6h0M172.2 1012.8h0M111.6 1007.2h0M277.5 994.0h0M429.4 997.9h0M457.1 1007.4h0M363.4 992.8h0M148.4 1000.0h0M115.9 1013.3h0M593.0 1010.3h0M212.3 1001.5h0M112.2 991.8h0M411.2 1007.9h0M336.8 1008.1h0M585.2 1005.8h0M622.7 987.9h0M367.4 1013.7h0M95.3 992.7h0M85.0 993.1h0M212.4 1002.6h0M333.5 1007.8h0M303.5 1008.2h0M391.1 984.7h0M91.9 1004.5h0M300.6 1002.0h0M395.6 989.3h0"/><path class="i" stroke="#000080" d="M268.0 998.9h0M269.4 996.9h0M360.3 1005.6h0M89.4 990.7h0M390.3 986.6h0M111.6 1007.2h0M277.5 994.0h0M363.4 992.8h0M148.4 1000.0h0M212.3 1001.5h0M112.2 991.8h0M622.7 987.9h0M95.3 992.7h0M85.0 993.1h0M391.1 984.7h0M91.9 1004.5h0M300.6 1002.0h0M395.6 989.3h0"/><path class="o" d="M345.6 1006.7h0M274.8 994.6h0M449.5 1005.4h0M379.9 998.5h0M465.2 997.8h0M600.4 1004.0h0M549.5 1002.6h0M145.0 997.3h0M71.2 1012.9h0M135.8 996.3h0M89.4 997.9h0M466.1 1006.6h0M567.1 1013.1h0M474.4 983.2h0M223.9 1009.3h0M659.5 995.8h0M453.6 992.5h0M505.1 1003.6h0M308.9 997.5h0M101.6 999.9h0M494.3 1009.5h0M643.6 1013.5h0M369.6 1009.1h0M196.3 1011.4h0M213.3 998.1h0M615.2 1012.4h0M590.1 996.1h0M542.1 1003.8h0M85.0 1005.3h0M137.7 995.9h0"/><path class="i" stroke="#000080" d="M274.8 994.6h0M449.5 1005.4h0M465.2 997.8h0M600.4 1004.0h0M549.5 1002.6h0M145.0 997.3h0M135.8 996.3h0M89.4 997.9h0M567.1 1013.1h0M474.4 983.2h0M453.6 992.5h0M505.1 1003.6h0M308.9 997.5h0M101.6 999.9h0M643.6 1013.5h0M213.3 998.1h0M590.1 996.1h0M137.7 995.9h0"/><path class="o" d="M342.7 996.0h0M648.3 1012.1h0M384.3 1000.9h0M638.5 997.7h0M571.0 1009.8h0M305.9 995.4h0M591.5 1000.7h0M380.8 1001.5h0M226.9 1009.5h0M414.7 1005.8h0M419.9 996.3h0M123.2 996.6h0M646.4 985.2h0M390.1 1001.5h0M499.2 993.2h0M249.1 1005.3h0M304.2 1003.6h0M198.6 1012.8h0M292.6 1011.3h0M579.9 1011.6h0M662.6 997.5h0M286.2 997.4h0M433.2 1009.9h0M276.1 1012.5h0M283.6 1008.4h0M339.2 997.2h0M562.8 992.8h0M94.3 1009.7h0M476.8 1007.3h0M168.1 1009.9h0"/><path class="i" stroke="#000080" d="M648.3 1012.1h0M384.3 1000.9h0M638.5 997.7h0M305.9 995.4h0M591.5 1000.7h0M380.8 1001.5h0M226.9 1009.5h0M419.9 996.3h0M123.2 996.6h0M646.4 985.2h0M390.1 1001.5h0M499.2 993.2h0M249.1 1005.3h0M662.6 997.5h0M286.2 997.4h0M562.8 992.8h0"/><path class="o" d="M336.8 989.8h0M189.5 1012.7h0M650.6 991.3h0M132.2 995.3h0M446.5 1002.2h0M561.9 1012.4h0M135.8 1007.5h0M115.0 998.4h0M383.4 993.5h0M468.7 989.0h0M235.2 1008.4h0M410.5 1002.5h0M454.5 1002.4h0M271.5 999.7h0M131.2 1002.3h0M388.0 1009.9h0M409.2 1012.9h0M547.1 1011.0h0M167.6 1004.8h0M540.9 985.5h0M172.9 1010.9h0M356.9 980.2h0M499.4 1012.7h0M540.4 997.7h0M662.0 1012.9h0M439.4 1000.1h0M196.4 999.0h0M421.8 1004.7h0M236.7 993.8h0M269.5 997.0h0"/><path class="i" stroke="#000080" d="M336.8 989.8h0M650.6 991.3h0M132.2 995.3h0M383.4 993.5h0M468.7 989.0h0M410.5 1002.5h0M454.5 1002.4h0M271.5 999.7h0M131.2 1002.3h0M409.2 1012.9h0M547.1 1011.0h0M540.9 985.5h0M172.9 1010.9h0M356.9 980.2h0M540.4 997.7h0M439.4 1000.1h0M196.4 999.0h0M421.8 1004.7h0M236.7 993.8h0M269.5 997.0h0"/><path class="o" d="M401.6 994.1h0M541.6 995.1h0M296.2 1001.1h0M251.3 1002.6h0M137.4 1002.1h0M404.4 991.0h0M296.9 1011.9h0M196.0 1003.6h0M631.5 1010.4h0M305.0 1007.7h0M429.3 1013.2h0M618.7 993.9h0M217.4 1000.7h0M587.7 1000.9h0M147.4 1002.6h0M240.6 999.4h0M483.2 997.3h0M249.0 1012.9h0M312.5 987.9h0M192.7 1012.7h0M106.3 994.5h0M150.9 1002.6h0M105.1 1001.6h0M639.6 986.8h0M615.6 1007.5h0M261.5 1008.6h0M244.6 1003.2h0M191.3 1012.3h0M558.1 1004.6h0M433.5 979.2h0"/><path class="i" stroke="#000080" d="M401.6 994.1h0M541.6 995.1h0M296.2 1001.1h0M137.4 1002.1h0M404.4 991.0h0M429.3 1013.2h0M618.7 993.9h0M217.4 1000.7h0M587.7 1000.9h0M147.4 1002.6h0M240.6 999.4h0M312.5 987.9h0M106.3 994.5h0M150.9 1002.6h0M105.1 1001.6h0M639.6 986.8h0M261.5 1008.6h0M244.6 1003.2h0M191.3 1012.3h0M558.1 1004.6h0M433.5 979.2h0"/><path class="o" d="M86.4 1000.6h0M517.6 996.5h0M312.8 1010.8h0M162.5 998.3h0M277.2 1007.8h0M87.4 1010.6h0M301.7 994.5h0M342.3 1007.4h0M321.1 1007.2h0M347.8 983.6h0M564.0 1009.4h0M597.4 1009.9h0M144.7 998.6h0M462.2 1002.7h0M301.5 1007.0h0M626.4 998.8h0M242.6 1001.1h0M244.5 1011.4h0M437.2 1002.2h0M596.2 1005.7h0M177.2 994.6h0M379.9 997.5h0M218.0 1007.3h0M507.1 993.6h0M338.5 999.9h0M131.5 1013.5h0M395.5 998.0h0M202.6 987.0h0M188.6 1008.4h0M230.9 1009.6h0"/><path class="i" stroke="#000080" d="M517.6 996.5h0M301.7 994.5h0M342.3 1007.4h0M564.0 1009.4h0M144.7 998.6h0M626.4 998.8h0M242.6 1001.1h0M596.2 1005.7h0M177.2 994.6h0M379.9 997.5h0M338.5 999.9h0M395.5 998.0h0M202.6 987.0h0M230.9 1009.6h0"/><path class="o" d="M407.3 1011.9h0M257.8 1003.0h0M250.0 1008.8h0M432.3 989.1h0M319.1 1007.3h0M495.3 1001.2h0M315.3 991.2h0M181.7 994.0h0M83.4 1005.8h0M80.3 1005.8h0M288.4 1005.5h0M201.3 1003.5h0M582.3 1003.6h0M201.1 1003.0h0M100.5 1006.0h0M638.8 1003.0h0M287.8 997.9h0M141.3 998.8h0M507.4 1011.6h0M166.1 1003.2h0M271.8 1006.2h0M277.7 999.0h0M337.1 1011.5h0M317.1 985.7h0M413.2 1006.6h0M259.8 993.0h0M90.3 1011.7h0M394.4 1004.7h0M440.1 994.0h0M425.9 1008.6h0"/><path class="i" stroke="#000080" d="M257.8 1003.0h0M432.3 989.1h0M319.1 1007.3h0M315.3 991.2h0M181.7 994.0h0M80.3 1005.8h0M201.3 1003.5h0M582.3 1003.6h0M201.1 1003.0h0M287.8 997.9h0M141.3 998.8h0M271.8 1006.2h0M337.1 1011.5h0M317.1 985.7h0M413.2 1006.6h0M259.8 993.0h0M440.1 994.0h0M425.9 1008.6h0"/><path class="o" d="M320.4 1003.6h0M570.6 1012.1h0M350.5 992.8h0M289.1 1007.0h0M457.8 999.2h0M402.0 992.0h0M90.9 1001.0h0M347.2 982.6h0M436.4 995.7h0M539.7 1003.3h0M200.9 1008.0h0M313.5 996.0h0M418.8 998.8h0M121.7 993.5h0M566.1 1012.0h0M463.2 995.9h0M390.4 1001.0h0M247.9 1004.2h0M511.2 1007.3h0M448.8 1003.2h0M654.0 990.6h0M660.7 994.3h0M179.1 999.0h0M316.3 1009.1h0M573.7 1012.8h0M341.1 1005.3h0M319.8 1013.6h0M390.5 996.7h0M139.9 997.8h0M227.1 1011.5h0"/><path class="i" stroke="#000080" d="M320.4 1003.6h0M350.5 992.8h0M289.1 1007.0h0M457.8 999.2h0M402.0 992.0h0M90.9 1001.0h0M347.2 982.6h0M436.4 995.7h0M200.9 1008.0h0M313.5 996.0h0M121.7 993.5h0M463.2 995.9h0M390.4 1001.0h0M247.9 1004.2h0M511.2 1007.3h0M448.8 1003.2h0M654.0 990.6h0M341.1 1005.3h0M319.8 1013.6h0M139.9 997.8h0"/><path class="o" d="M540.1 1001.1h0M139.9 997.2h0M208.1 1009.9h0M478.1 1010.2h0M450.4 1009.4h0M79.8 1000.3h0M103.0 992.6h0M202.5 1006.8h0M555.9 995.9h0M487.9 1007.5h0M389.0 1010.6h0M365.1 989.1h0M237.5 1004.5h0M457.2 992.5h0M521.0 994.7h0M246.3 1005.1h0M445.2 1012.1h0M237.4 1010.9h0M67.8 992.6h0M255.3 1001.2h0M590.9 989.5h0M604.2 1000.5h0M479.1 991.9h0M204.3 986.7h0M598.5 993.2h0M351.1 975.7h0M263.9 995.8h0M165.0 1010.2h0M151.1 995.8h0M173.7 999.6h0"/><path class="i" stroke="#000080" d="M139.9 997.2h0M450.4 1009.4h0M79.8 1000.3h0M103.0 992.6h0M365.1 989.1h0M237.5 1004.5h0M457.2 992.5h0M521.0 994.7h0M67.8 992.6h0M255.3 1001.2h0M590.9 989.5h0M604.2 1000.5h0M204.3 986.7h0M598.5 993.2h0M351.1 975.7h0M263.9 995.8h0M151.1 995.8h0M173.7 999.6h0"/><path class="o" d="M114.6 1010.2h0M656.4 999.4h0M200.0 1013.2h0M146.1 994.1h0M652.6 1005.1h0M248.5 1008.3h0M390.8 1001.9h0M535.8 1009.6h0M514.0 1012.7h0M552.2 996.8h0M444.3 989.1h0M208.2 1004.1h0M370.9 1005.1h0M483.7 1012.2h0M289.7 998.7h0M148.5 995.5h0M517.8 995.6h0M208.5 1003.3h0M339.4 1009.6h0M135.0 1010.2h0M629.7 1004.4h0M529.3 1009.2h0M544.0 984.2h0M177.7 1013.9h0M351.7 1007.0h0M254.1 997.8h0M484.5 1009.3h0M69.8 1005.6h0M295.3 995.4h0M175.4 989.5h0"/><path class="i" stroke="#000080" d="M146.1 994.1h0M652.6 1005.1h0M248.5 1008.3h0M390.8 1001.9h0M535.8 1009.6h0M552.2 996.8h0M444.3 989.1h0M370.9 1005.1h0M289.7 998.7h0M148.5 995.5h0M517.8 995.6h0M135.0 1010.2h0M629.7 1004.4h0M544.0 984.2h0M254.1 997.8h0M484.5 1009.3h0M69.8 1005.6h0M295.3 995.4h0M175.4 989.5h0"/><path class="o" d="M279.8 1009.1h0M496.9 995.4h0M222.0 1001.8h0M76.0 1008.1h0M481.2 1011.2h0M201.9 999.5h0M502.1 998.6h0M473.6 993.5h0M155.0 1002.8h0M127.2 999.5h0M135.4 998.0h0M348.9 983.7h0M365.8 991.3h0M253.1 999.3h0M281.6 1008.9h0M529.3 1004.4h0M193.3 1003.1h0M604.7 995.8h0M452.2 1011.9h0M153.4 1004.4h0M349.0 996.2h0M608.2 1010.2h0M418.5 996.5h0M258.6 1012.9h0M641.4 1011.9h0M572.7 1009.0h0M577.2 1005.4h0M87.0 996.7h0M611.7 1001.2h0M345.5 991.9h0"/><path class="i" stroke="#000080" d="M496.9 995.4h0M222.0 1001.8h0M76.0 1008.1h0M481.2 1011.2h0M201.9 999.5h0M473.6 993.5h0M155.0 1002.8h0M127.2 999.5h0M135.4 998.0h0M348.9 983.7h0M365.8 991.3h0M253.1 999.3h0M281.6 1008.9h0M529.3 1004.4h0M193.3 1003.1h0M604.7 995.8h0M452.2 1011.9h0M153.4 1004.4h0M349.0 996.2h0M418.5 996.5h0M577.2 1005.4h0M87.0 996.7h0M611.7 1001.2h0M345.5 991.9h0"/><path class="o" d="M451.1 1009.1h0M546.4 996.4h0M82.1 1009.8h0M109.6 1005.8h0M262.3 997.9h0M187.4 990.1h0M146.5 1011.9h0M478.2 998.7h0M646.7 1001.1h0M386.1 1007.8h0M117.4 1010.5h0M480.4 987.5h0M421.2 1005.9h0M291.0 1009.9h0M145.4 1011.3h0M482.5 1012.6h0M512.0 980.5h0M470.4 997.0h0M499.2 1001.1h0M298.3 1001.7h0M207.4 1012.2h0M204.5 1010.8h0M467.9 1004.6h0M443.8 1005.1h0M571.5 1008.1h0M111.9 997.4h0M656.4 989.9h0M223.9 998.4h0M541.1 1007.6h0M228.6 1008.8h0"/><path class="i" stroke="#000080" d="M187.4 990.1h0M146.5 1011.9h0M646.7 1001.1h0M480.4 987.5h0M145.4 1011.3h0M482.5 1012.6h0M512.0 980.5h0M470.4 997.0h0M499.2 1001.1h0M443.8 1005.1h0M111.9 997.4h0M223.9 998.4h0"/><path class="o" d="M378.5 1008.4h0M152.6 1001.9h0M456.7 996.7h0M434.0 981.6h0M283.3 992.3h0M531.3 999.2h0M99.7 1009.3h0M171.7 1011.6h0M242.3 1006.7h0M637.0 999.4h0M432.3 1007.3h0M190.4 1012.7h0M170.6 993.6h0M574.2 1007.2h0M289.2 995.2h0M217.7 998.3h0M410.0 1011.6h0M94.9 1013.5h0M424.2 1011.0h0M382.2 1010.2h0M117.7 1000.9h0M80.9 1007.2h0M503.7 997.6h0M124.6 992.0h0M396.3 996.8h0M580.3 1010.2h0M193.9 1011.4h0M585.9 1007.9h0M131.0 1004.2h0M393.0 992.2h0"/><path class="i" stroke="#000080" d="M378.5 1008.4h0M456.7 996.7h0M434.0 981.6h0M283.3 992.3h0M531.3 999.2h0M637.0 999.4h0M170.6 993.6h0M289.2 995.2h0M217.7 998.3h0M503.7 997.6h0M124.6 992.0h0M396.3 996.8h0M585.9 1007.9h0M393.0 992.2h0"/><path class="o" d="M627.3 994.7h0M299.2 1004.6h0M256.4 998.3h0M236.4 1008.9h0M173.7 998.8h0M313.0 1008.9h0M71.3 1007.3h0M392.6 993.2h0M352.8 1002.3h0M184.3 1008.7h0M605.5 991.2h0M579.0 1002.2h0M410.4 993.8h0M615.7 991.8h0M120.1 1003.3h0M154.3 1002.2h0M610.6 1004.2h0M636.5 992.5h0M640.1 1002.8h0M397.2 1013.2h0M163.4 1011.2h0M78.1 1009.1h0M225.0 1000.4h0M209.2 1002.9h0M557.7 992.9h0M627.1 1009.2h0M581.1 1004.2h0M533.1 1005.0h0M236.5 1008.1h0M205.1 998.2h0"/><path class="i" stroke="#000080" d="M627.3 994.7h0M256.4 998.3h0M173.7 998.8h0M392.6 993.2h0M605.5 991.2h0M579.0 1002.2h0M410.4 993.8h0M615.7 991.8h0M120.1 1003.3h0M154.3 1002.2h0M610.6 1004.2h0M636.5 992.5h0M640.1 1002.8h0M163.4 1011.2h0M78.1 1009.1h0M557.7 992.9h0M627.1 1009.2h0M581.1 1004.2h0M533.1 1005.0h0M205.1 998.2h0"/><path class="o" d="M120.3 1012.8h0M171.4 1001.2h0M368.9 1009.2h0M273.3 1006.6h0M662.3 996.1h0M598.6 1004.2h0M519.1 992.6h0M613.5 1007.0h0M115.3 994.9h0M245.0 1008.2h0M283.6 1013.3h0M339.1 1012.8h0M138.6 997.3h0M240.0 1001.2h0M619.6 992.6h0M418.7 991.1h0M111.6 990.1h0M559.0 1007.3h0M360.5 1012.4h0M131.7 1009.8h0M500.8 990.9h0M199.8 989.1h0M586.4 1012.7h0M109.3 999.3h0M469.0 995.9h0M424.5 1004.5h0M411.6 1010.4h0M69.9 1009.0h0M258.2 1012.1h0M175.6 1002.6h0"/><path class="i" stroke="#000080" d="M120.3 1012.8h0M171.4 1001.2h0M598.6 1004.2h0M519.1 992.6h0M115.3 994.9h0M138.6 997.3h0M240.0 1001.2h0M619.6 992.6h0M418.7 991.1h0M111.6 990.1h0M500.8 990.9h0M199.8 989.1h0M469.0 995.9h0M424.5 1004.5h0M411.6 1010.4h0M175.6 1002.6h0"/><path class="o" d="M498.7 1010.7h0M205.7 994.8h0M342.6 995.4h0M486.4 982.8h0M595.0 1004.0h0M282.9 1013.2h0M144.7 1002.8h0M76.9 1013.4h0M329.9 976.7h0M103.8 1009.2h0M547.7 996.9h0M632.1 1000.8h0M223.0 1000.5h0M375.1 1009.3h0M264.7 1006.2h0M358.6 998.4h0M374.6 1009.3h0M490.9 983.1h0M413.9 987.8h0M626.1 1009.3h0M263.4 1011.7h0M640.7 1002.5h0M457.8 1001.4h0M324.8 1005.9h0M536.3 1003.1h0M336.4 984.8h0M247.2 1009.6h0M216.1 998.9h0M548.2 1007.8h0M640.7 1011.0h0"/><path class="i" stroke="#000080" d="M205.7 994.8h0M342.6 995.4h0M486.4 982.8h0M595.0 1004.0h0M144.7 1002.8h0M329.9 976.7h0M103.8 1009.2h0M547.7 996.9h0M632.1 1000.8h0M490.9 983.1h0M413.9 987.8h0M457.8 1001.4h0M324.8 1005.9h0M336.4 984.8h0M216.1 998.9h0"/><path class="o" d="M242.6 1003.1h0M129.7 994.5h0M441.4 994.4h0M624.9 993.6h0M125.3 1000.0h0M298.9 994.3h0M524.4 988.7h0M471.4 1010.4h0M355.7 1011.3h0M104.8 995.1h0M325.7 988.5h0M184.2 1004.8h0M67.3 1003.2h0M463.3 999.2h0M119.9 995.1h0M628.9 1005.5h0M195.1 996.8h0M291.1 1003.7h0M633.5 1011.5h0M321.5 979.3h0M413.8 997.4h0M553.2 995.5h0M606.2 1000.8h0M597.5 1003.9h0M614.4 1006.3h0M322.8 993.9h0M584.6 995.8h0M618.9 999.0h0M458.3 990.3h0M296.4 1002.1h0"/><path class="i" stroke="#000080" d="M242.6 1003.1h0M129.7 994.5h0M624.9 993.6h0M125.3 1000.0h0M298.9 994.3h0M524.4 988.7h0M355.7 1011.3h0M104.8 995.1h0M325.7 988.5h0M184.2 1004.8h0M463.3 999.2h0M119.9 995.1h0M195.1 996.8h0M321.5 979.3h0M413.8 997.4h0M553.2 995.5h0M606.2 1000.8h0M322.8 993.9h0M584.6 995.8h0M618.9 999.0h0M458.3 990.3h0"/><path class="o" d="M498.0 987.4h0M635.3 1013.7h0M437.0 979.8h0M377.7 1004.3h0M495.1 1002.9h0M229.8 1001.3h0M282.0 1011.4h0M404.6 993.4h0M416.3 1000.2h0M443.9 1004.1h0M464.4 1009.4h0M159.3 1011.6h0M397.4 1003.4h0M296.5 999.6h0M182.8 1012.2h0M333.7 980.3h0M338.1 1009.8h0M502.2 1006.7h0M524.3 994.4h0M76.0 995.7h0M537.0 998.5h0M114.0 1010.0h0M599.5 1010.1h0M638.5 994.0h0M544.4 1006.2h0M387.5 1011.1h0M622.3 1001.2h0M183.9 995.5h0M99.3 1002.3h0M433.0 1013.3h0"/><path class="i" stroke="#000080" d="M498.0 987.4h0M437.0 979.8h0M404.6 993.4h0M416.3 1000.2h0M397.4 1003.4h0M296.5 999.6h0M182.8 1012.2h0M333.7 980.3h0M524.3 994.4h0M76.0 995.7h0M537.0 998.5h0M599.5 1010.1h0M638.5 994.0h0M544.4 1006.2h0M387.5 1011.1h0M622.3 1001.2h0M183.9 995.5h0"/><path class="o" d="M520.1 983.3h0M440.7 1000.5h0M394.1 998.6h0M545.5 1003.6h0M487.4 994.8h0M105.0 998.3h0M543.4 1001.2h0M395.7 1011.4h0M181.7 988.5h0M148.4 1013.3h0M186.5 1013.2h0M185.8 1007.8h0M360.2 1012.6h0M647.9 998.6h0M652.5 1007.2h0M574.7 1010.1h0M263.6 1011.1h0M130.9 1006.5h0M434.2 989.3h0M635.6 1004.9h0M261.9 1009.7h0M512.7 1005.3h0M424.6 983.1h0M642.5 997.4h0M457.7 1008.0h0M134.9 1008.3h0M519.2 989.0h0M452.1 1004.2h0M634.4 986.1h0M373.8 1000.3h0"/><path class="i" stroke="#000080" d="M520.1 983.3h0M394.1 998.6h0M545.5 1003.6h0M487.4 994.8h0M543.4 1001.2h0M181.7 988.5h0M652.5 1007.2h0M574.7 1010.1h0M434.2 989.3h0M424.6 983.1h0M642.5 997.4h0M457.7 1008.0h0M134.9 1008.3h0M519.2 989.0h0M452.1 1004.2h0M634.4 986.1h0M373.8 1000.3h0"/><path class="o" d="M466.8 996.7h0M411.3 1004.9h0M244.3 1013.3h0M365.3 995.6h0M591.7 1007.0h0M284.3 995.7h0M334.4 1009.9h0M612.6 1008.9h0M76.1 1005.7h0M124.7 1003.4h0M162.1 1008.2h0M595.1 1011.4h0M326.4 980.8h0M623.6 1011.3h0M627.7 988.4h0M580.0 1000.6h0M339.0 996.8h0M91.9 998.0h0M277.6 994.6h0M647.7 1003.5h0M590.3 998.6h0M314.6 1002.1h0M129.2 1000.1h0M366.0 1008.9h0M528.2 998.6h0M232.0 1010.7h0M607.1 1003.7h0M418.1 982.6h0M386.5 1010.5h0M98.0 1003.2h0"/><path class="i" stroke="#000080" d="M244.3 1013.3h0M284.3 995.7h0M76.1 1005.7h0M326.4 980.8h0M627.7 988.4h0M580.0 1000.6h0M91.9 998.0h0M277.6 994.6h0M590.3 998.6h0M129.2 1000.1h0M366.0 1008.9h0M607.1 1003.7h0M418.1 982.6h0M386.5 1010.5h0"/><path class="o" d="M319.3 977.4h0M118.0 1009.2h0M352.1 1009.7h0M226.7 996.6h0M637.2 997.2h0M445.5 1011.0h0M299.5 995.4h0M216.9 1008.4h0M528.7 1001.1h0M124.9 1013.7h0M462.8 989.3h0M592.5 1005.0h0M414.1 1005.5h0M89.1 1002.2h0M353.2 982.9h0M598.1 1009.4h0M459.8 999.2h0M395.8 1005.5h0M362.3 991.9h0M371.3 1011.9h0M626.1 994.7h0M182.9 997.4h0M582.4 1005.9h0M429.5 983.1h0M645.6 1000.7h0M450.2 1004.4h0M290.5 1011.3h0M477.5 981.1h0M428.0 1003.5h0M188.2 1008.3h0"/><path class="i" stroke="#000080" d="M319.3 977.4h0M352.1 1009.7h0M226.7 996.6h0M637.2 997.2h0M299.5 995.4h0M462.8 989.3h0M89.1 1002.2h0M353.2 982.9h0M459.8 999.2h0M626.1 994.7h0M582.4 1005.9h0M429.5 983.1h0M645.6 1000.7h0M450.2 1004.4h0M477.5 981.1h0"/><path class="o" d="M278.5 1010.3h0M260.0 1009.2h0M535.5 1003.2h0M442.2 989.1h0M493.5 998.9h0M295.7 1009.4h0M243.8 995.3h0M175.2 997.8h0M637.9 1011.6h0M307.1 996.8h0M372.2 998.0h0M507.6 986.9h0M609.5 1003.1h0M450.6 1010.0h0M314.6 997.2h0M627.1 1002.2h0M654.1 977.3h0M660.8 993.0h0M594.0 1002.7h0M475.8 993.8h0M491.1 1013.6h0M630.2 1009.8h0M104.6 1009.6h0M453.3 1000.2h0M318.2 993.9h0M493.0 1011.5h0M423.2 1008.2h0M395.6 999.7h0M624.1 1007.5h0M292.0 1009.7h0"/><path class="i" stroke="#000080" d="M278.5 1010.3h0M535.5 1003.2h0M442.2 989.1h0M493.5 998.9h0M243.8 995.3h0M175.2 997.8h0M307.1 996.8h0M507.6 986.9h0M314.6 997.2h0M627.1 1002.2h0M654.1 977.3h0M594.0 1002.7h0M475.8 993.8h0M104.6 1009.6h0M453.3 1000.2h0M318.2 993.9h0M395.6 999.7h0M624.1 1007.5h0"/><path class="o" d="M365.3 1011.5h0M572.5 1002.6h0M260.4 1003.4h0M261.0 989.5h0M308.3 999.6h0M531.2 1011.2h0M134.8 1011.4h0M611.8 1002.2h0M112.1 997.3h0M361.2 1012.1h0M639.6 1008.1h0M178.4 991.4h0M198.6 1000.9h0M385.4 1005.5h0M392.1 994.5h0M576.7 1005.4h0M525.4 993.7h0M626.7 1001.0h0M460.9 995.9h0M269.1 988.6h0M171.3 1008.0h0M307.7 1012.4h0M227.0 1006.6h0M258.8 1010.0h0M266.5 1013.8h0M518.0 1003.7h0M265.6 994.5h0M99.6 1003.0h0M656.6 988.9h0M344.5 993.1h0"/><path class="i" stroke="#000080" d="M572.5 1002.6h0M260.4 1003.4h0M261.0 989.5h0M308.3 999.6h0M112.1 997.3h0M178.4 991.4h0M198.6 1000.9h0M392.1 994.5h0M525.4 993.7h0M626.7 1001.0h0M460.9 995.9h0M269.1 988.6h0M227.0 1006.6h0M258.8 1010.0h0M265.6 994.5h0M99.6 1003.0h0"/><path class="o" d="M569.4 1003.6h0M461.4 997.3h0M205.6 1011.4h0M303.9 1010.7h0M241.5 1004.1h0M358.9 995.4h0M387.2 994.1h0M545.3 1000.2h0M289.2 1009.8h0M526.0 1006.6h0M319.8 992.1h0M602.2 991.2h0M183.8 1005.9h0M473.1 996.9h0M173.4 1013.6h0M456.2 1004.6h0M656.1 976.4h0M526.5 1001.5h0M280.4 1006.1h0M167.0 991.6h0M112.4 1005.7h0M398.1 994.9h0M427.2 990.2h0M561.1 1008.5h0M164.3 987.7h0M222.0 1001.8h0M162.7 993.5h0M88.9 1009.3h0M581.7 1004.5h0M429.7 997.9h0"/><path class="i" stroke="#000080" d="M461.4 997.3h0M241.5 1004.1h0M387.2 994.1h0M602.2 991.2h0M183.8 1005.9h0M473.1 996.9h0M456.2 1004.6h0M656.1 976.4h0M526.5 1001.5h0M167.0 991.6h0M112.4 1005.7h0M398.1 994.9h0M427.2 990.2h0M164.3 987.7h0M162.7 993.5h0M88.9 1009.3h0M581.7 1004.5h0M429.7 997.9h0"/><path class="o" d="M239.4 1004.8h0M101.1 999.9h0M630.5 990.4h0M508.5 1006.2h0M326.1 1001.6h0M93.9 1011.2h0M452.4 1008.5h0M150.1 991.4h0M553.4 1007.8h0M93.9 997.5h0M649.4 1013.5h0M356.1 974.4h0M249.3 1002.9h0M460.5 999.7h0M588.6 1008.0h0M287.0 994.5h0M578.9 1013.3h0M255.2 991.6h0M191.0 998.0h0M442.8 1011.4h0M395.5 1005.0h0M321.4 1008.3h0M478.6 992.5h0M444.8 1008.5h0M270.6 997.0h0M381.3 999.3h0M558.6 1011.1h0M165.4 1003.4h0M110.9 1009.9h0M387.5 994.6h0"/><path class="i" stroke="#000080" d="M630.5 990.4h0M326.1 1001.6h0M150.1 991.4h0M356.1 974.4h0M249.3 1002.9h0M460.5 999.7h0M287.0 994.5h0M255.2 991.6h0M191.0 998.0h0M478.6 992.5h0M270.6 997.0h0M381.3 999.3h0M558.6 1011.1h0M165.4 1003.4h0M387.5 994.6h0"/><path class="o" d="M355.7 1013.3h0M598.3 1011.7h0M661.6 991.1h0M168.1 998.0h0M225.9 999.0h0M353.9 983.1h0M574.8 1005.2h0M616.0 1004.2h0M380.5 981.0h0M612.0 996.3h0M223.2 998.6h0M287.4 1004.1h0M318.0 991.0h0M597.3 1007.6h0M155.7 1000.6h0M523.1 994.2h0M391.7 1005.3h0M304.7 1012.8h0M385.5 1007.8h0M196.4 1001.6h0M320.3 989.7h0M631.6 999.9h0M113.4 1010.5h0M279.2 994.4h0M234.6 1008.1h0M272.7 1005.4h0M241.8 1011.9h0M331.6 992.7h0M618.6 1011.6h0M385.7 1007.5h0"/><path class="i" stroke="#000080" d="M355.7 1013.3h0M661.6 991.1h0M168.1 998.0h0M225.9 999.0h0M353.9 983.1h0M574.8 1005.2h0M380.5 981.0h0M612.0 996.3h0M223.2 998.6h0M287.4 1004.1h0M318.0 991.0h0M597.3 1007.6h0M320.3 989.7h0M631.6 999.9h0M279.2 994.4h0M331.6 992.7h0M618.6 1011.6h0"/><path class="o" d="M143.6 1013.6h0M335.3 1007.5h0M317.4 988.0h0M162.0 1008.9h0M190.3 996.7h0M209.1 988.0h0M622.7 1002.6h0M645.7 1006.7h0M648.7 1007.5h0M457.3 999.2h0M496.0 985.1h0M505.1 994.2h0M110.1 996.0h0M510.7 1004.2h0M224.0 1007.6h0M175.1 1013.7h0M550.9 993.6h0M160.7 995.9h0M623.6 988.5h0M177.8 1006.4h0M406.1 991.5h0M353.8 993.4h0M486.9 1005.2h0M77.7 991.0h0M591.0 1013.0h0M658.4 985.7h0M181.8 1003.5h0M99.4 1009.6h0M295.7 1005.1h0M299.3 1007.1h0"/><path class="i" stroke="#000080" d="M335.3 1007.5h0M317.4 988.0h0M190.3 996.7h0M209.1 988.0h0M496.0 985.1h0M505.1 994.2h0M110.1 996.0h0M224.0 1007.6h0M175.1 1013.7h0M550.9 993.6h0M160.7 995.9h0M623.6 988.5h0M406.1 991.5h0M77.7 991.0h0M658.4 985.7h0M181.8 1003.5h0M299.3 1007.1h0"/><path class="o" d="M489.6 1009.6h0M330.5 1005.6h0M275.5 1004.2h0M273.9 1007.0h0M337.8 1009.2h0M410.5 991.5h0M577.8 1004.9h0M372.7 996.4h0M149.5 1005.1h0M105.1 998.8h0M464.7 1007.7h0M137.1 1013.0h0M279.5 1013.0h0M99.7 1004.2h0M504.9 1005.2h0M140.7 997.1h0M72.8 1010.9h0M636.0 1004.0h0M230.9 1000.4h0M435.4 984.3h0M594.1 992.5h0M616.4 1003.5h0M511.7 1001.1h0M579.9 1002.0h0M317.4 998.0h0M557.1 988.1h0M88.2 1009.4h0M608.7 1004.5h0M115.8 994.3h0M107.7 991.4h0"/><path class="i" stroke="#000080" d="M410.5 991.5h0M372.7 996.4h0M105.1 998.8h0M99.7 1004.2h0M140.7 997.1h0M72.8 1010.9h0M636.0 1004.0h0M435.4 984.3h0M594.1 992.5h0M511.7 1001.1h0M579.9 1002.0h0M557.1 988.1h0M88.2 1009.4h0M115.8 994.3h0M107.7 991.4h0"/><path class="o" d="M486.3 996.4h0M260.1 998.3h0M375.3 1006.9h0M420.9 987.5h0M217.8 993.9h0M360.2 994.5h0M161.3 1008.4h0M461.6 999.3h0M307.4 1002.9h0M519.7 1011.2h0M589.1 1008.5h0M403.4 993.5h0M430.5 998.6h0M146.1 1012.7h0M229.6 1011.0h0M148.9 1004.2h0M117.0 999.6h0M326.7 1013.1h0M562.9 1012.9h0M467.1 1013.0h0M408.1 1002.9h0M621.4 993.2h0M415.7 993.8h0M182.7 1013.1h0M599.6 1006.7h0M544.0 993.8h0M462.5 1001.4h0M267.2 1012.9h0M186.1 1011.8h0M645.3 984.4h0"/><path class="i" stroke="#000080" d="M486.3 996.4h0M260.1 998.3h0M420.9 987.5h0M217.8 993.9h0M461.6 999.3h0M307.4 1002.9h0M403.4 993.5h0M430.5 998.6h0M229.6 1011.0h0M148.9 1004.2h0M117.0 999.6h0M562.9 1012.9h0M621.4 993.2h0M415.7 993.8h0M182.7 1013.1h0M645.3 984.4h0"/><path class="o" d="M274.4 1007.5h0M524.0 992.4h0M250.6 1009.8h0M583.3 1001.3h0M588.3 996.9h0M168.0 1003.3h0M337.7 973.7h0M307.4 1008.5h0M582.5 997.8h0M158.5 991.2h0M621.9 992.1h0M491.7 999.7h0M505.9 996.1h0M294.1 1007.8h0M291.9 998.2h0M176.0 1011.0h0M232.0 990.4h0M603.8 994.5h0M236.5 1010.7h0M581.6 1004.1h0M171.6 1005.5h0M399.5 987.6h0M212.1 1013.8h0M329.4 990.5h0M74.5 999.0h0M156.3 1001.0h0M514.6 1004.8h0M653.3 1008.0h0M238.1 1005.8h0M311.4 999.7h0"/><path class="i" stroke="#000080" d="M274.4 1007.5h0M524.0 992.4h0M583.3 1001.3h0M588.3 996.9h0M337.7 973.7h0M582.5 997.8h0M158.5 991.2h0M621.9 992.1h0M491.7 999.7h0M294.1 1007.8h0M291.9 998.2h0M232.0 990.4h0M603.8 994.5h0M581.6 1004.1h0M399.5 987.6h0M329.4 990.5h0M74.5 999.0h0"/><path class="o" d="M447.5 1005.1h0M491.3 1008.7h0M537.8 1011.3h0M445.4 1000.1h0M306.1 988.0h0M374.5 996.9h0M271.7 1009.1h0M464.0 997.9h0M614.5 1008.3h0M424.9 1002.0h0M452.5 1008.6h0M355.6 997.8h0M424.7 993.8h0M92.8 1012.7h0M651.0 977.9h0M157.0 1009.3h0M382.3 1004.1h0M520.5 1003.7h0M101.3 991.0h0M264.3 1012.6h0M590.1 1011.2h0M270.0 996.6h0M487.6 1013.2h0M509.0 984.6h0M480.3 994.2h0M556.7 1009.0h0M475.9 995.7h0M391.2 999.7h0M257.9 996.4h0M144.2 1001.5h0"/><path class="i" stroke="#000080" d="M447.5 1005.1h0M491.3 1008.7h0M306.1 988.0h0M464.0 997.9h0M355.6 997.8h0M424.7 993.8h0M651.0 977.9h0M382.3 1004.1h0M520.5 1003.7h0M101.3 991.0h0M264.3 1012.6h0M590.1 1011.2h0M509.0 984.6h0M480.3 994.2h0M475.9 995.7h0M391.2 999.7h0M257.9 996.4h0"/><path class="o" d="M266.4 1009.2h0M503.6 999.8h0M637.8 994.5h0M633.9 995.2h0M404.3 995.3h0M155.7 997.2h0M193.0 996.6h0M152.9 988.8h0M623.2 1008.0h0M586.3 995.7h0M184.7 998.0h0M78.9 997.6h0M385.0 1005.7h0M619.6 1011.2h0M609.1 1001.4h0M347.5 999.5h0M286.7 1002.7h0M314.7 993.8h0M567.6 1001.3h0M243.5 1002.9h0M524.4 974.3h0M138.8 1012.2h0M470.1 992.0h0M485.0 993.9h0M151.1 1009.1h0M585.0 1008.4h0M617.2 999.3h0M119.9 1001.0h0M465.3 1010.0h0M600.9 1004.6h0"/><path class="i" stroke="#000080" d="M266.4 1009.2h0M503.6 999.8h0M637.8 994.5h0M633.9 995.2h0M404.3 995.3h0M155.7 997.2h0M193.0 996.6h0M152.9 988.8h0M623.2 1008.0h0M586.3 995.7h0M184.7 998.0h0M78.9 997.6h0M609.1 1001.4h0M286.7 1002.7h0M567.6 1001.3h0M524.4 974.3h0M470.1 992.0h0M485.0 993.9h0"/><path class="o" d="M595.5 1011.4h0M348.7 984.4h0M338.7 989.8h0M621.6 995.4h0M383.8 997.7h0M70.8 1004.0h0M538.0 995.3h0M480.4 989.8h0M526.8 1010.5h0M136.9 1002.6h0M637.1 979.6h0M441.2 1005.2h0M192.3 1001.8h0M187.6 1009.4h0M398.6 994.8h0M507.8 1000.7h0M596.5 1008.6h0M570.3 1003.9h0M585.1 997.6h0M334.2 1013.4h0M173.5 990.3h0M445.9 998.1h0M196.8 996.8h0M286.8 1004.5h0M558.9 993.9h0M283.8 1006.0h0M196.5 988.3h0M244.1 1013.7h0M418.3 995.4h0M74.7 1013.9h0"/><path class="i" stroke="#000080" d="M621.6 995.4h0M383.8 997.7h0M70.8 1004.0h0M538.0 995.3h0M480.4 989.8h0M637.1 979.6h0M192.3 1001.8h0M187.6 1009.4h0M398.6 994.8h0M507.8 1000.7h0M596.5 1008.6h0M585.1 997.6h0M173.5 990.3h0M445.9 998.1h0M558.9 993.9h0M196.5 988.3h0M418.3 995.4h0M74.7 1013.9h0"/><path class="o" d="M257.5 1009.8h0M248.8 996.1h0M259.6 1011.2h0M91.1 1009.6h0M190.9 1002.1h0M452.3 990.3h0M403.5 1013.9h0M270.7 991.0h0M223.7 995.6h0M301.6 995.1h0M557.3 999.8h0M152.0 993.4h0M266.6 1008.9h0M494.7 1011.6h0M531.7 1003.1h0M588.6 1001.8h0M600.2 1002.2h0M252.5 1007.4h0M640.3 989.0h0M549.9 1008.0h0M601.7 995.9h0M166.6 1006.7h0M515.7 985.9h0M559.2 1009.7h0M494.0 1001.3h0M343.2 1008.7h0M124.6 1003.1h0M376.5 1001.6h0M631.4 1007.0h0M233.5 1006.4h0"/><path class="i" stroke="#000080" d="M248.8 996.1h0M91.1 1009.6h0M190.9 1002.1h0M452.3 990.3h0M403.5 1013.9h0M270.7 991.0h0M223.7 995.6h0M301.6 995.1h0M557.3 999.8h0M152.0 993.4h0M588.6 1001.8h0M252.5 1007.4h0M640.3 989.0h0M549.9 1008.0h0M601.7 995.9h0M515.7 985.9h0M494.0 1001.3h0M124.6 1003.1h0M631.4 1007.0h0M233.5 1006.4h0"/><path class="o" d="M111.0 1008.7h0M584.4 1003.1h0M586.4 1007.3h0M144.9 1003.7h0M264.8 1013.7h0M152.8 1011.6h0M421.8 1003.2h0M253.2 1008.6h0M213.2 993.2h0M66.4 1004.8h0M472.0 1011.3h0M260.2 1008.9h0M438.7 1006.8h0M475.0 996.8h0M324.4 985.9h0M96.9 1011.5h0M467.6 1006.3h0M301.6 996.4h0M129.6 1003.0h0M237.5 995.1h0M237.9 1012.0h0M206.9 1005.1h0M509.0 1005.9h0M476.2 1005.0h0M437.8 1013.9h0M402.5 1003.3h0M580.0 1005.2h0M524.5 1000.0h0M126.6 998.7h0M386.6 990.2h0"/><path class="i" stroke="#000080" d="M111.0 1008.7h0M584.4 1003.1h0M144.9 1003.7h0M421.8 1003.2h0M213.2 993.2h0M66.4 1004.8h0M475.0 996.8h0M324.4 985.9h0M467.6 1006.3h0M301.6 996.4h0M237.5 995.1h0M206.9 1005.1h0M509.0 1005.9h0M476.2 1005.0h0M402.5 1003.3h0M386.6 990.2h0"/><path class="o" d="M400.5 1001.6h0M551.2 1002.6h0M600.3 998.0h0M350.4 973.5h0M398.3 1008.7h0M451.1 993.7h0M533.7 989.1h0M115.8 1013.9h0M169.1 1001.3h0M123.4 1010.6h0M343.4 981.6h0M572.1 992.8h0M491.1 1013.6h0M176.9 998.4h0M85.8 997.9h0M559.9 1002.2h0M243.6 1005.9h0M650.2 989.7h0M426.2 1001.3h0M398.7 996.0h0M621.1 1005.1h0M375.0 989.7h0M146.0 999.3h0M228.9 1012.8h0M273.3 1005.8h0M195.7 986.9h0M202.3 1009.0h0M153.6 1010.5h0M529.0 1008.9h0M397.2 988.6h0"/><path class="i" stroke="#000080" d="M400.5 1001.6h0M600.3 998.0h0M350.4 973.5h0M451.1 993.7h0M533.7 989.1h0M343.4 981.6h0M572.1 992.8h0M176.9 998.4h0M85.8 997.9h0M426.2 1001.3h0M398.7 996.0h0M621.1 1005.1h0M375.0 989.7h0M195.7 986.9h0M202.3 1009.0h0M397.2 988.6h0"/><path class="o" d="M533.8 1000.5h0M517.3 979.6h0M398.9 997.8h0M491.6 979.7h0M181.4 1011.8h0M435.8 1001.2h0M293.7 993.4h0M224.9 1010.1h0M288.2 1012.3h0M605.9 1005.1h0M435.5 1008.5h0M536.0 996.7h0M460.5 999.6h0M313.3 1013.0h0M545.6 1005.8h0M327.2 1010.9h0M545.5 992.0h0M376.0 994.2h0M372.3 1010.0h0M116.2 997.3h0M239.6 1011.1h0M394.8 994.7h0M133.0 997.1h0M213.8 1010.7h0M321.4 1011.0h0M592.4 991.9h0M488.9 999.1h0M72.0 994.4h0M78.3 1007.8h0M633.9 1008.7h0"/><path class="i" stroke="#000080" d="M533.8 1000.5h0M517.3 979.6h0M398.9 997.8h0M491.6 979.7h0M293.7 993.4h0M605.9 1005.1h0M536.0 996.7h0M460.5 999.6h0M376.0 994.2h0M116.2 997.3h0M133.0 997.1h0M592.4 991.9h0M72.0 994.4h0M78.3 1007.8h0"/><path class="o" d="M548.0 1008.6h0M275.4 990.0h0M175.0 1008.9h0M72.6 1012.5h0M402.2 1013.7h0M383.5 991.2h0M557.4 990.2h0M580.7 1000.8h0M368.0 1009.4h0M440.6 1009.2h0M533.8 988.4h0M94.3 1007.8h0M254.1 1008.6h0M206.6 998.3h0M510.5 987.6h0M139.3 1013.7h0M358.5 992.7h0M516.5 1001.5h0M399.6 1004.1h0M178.0 1002.3h0M85.6 1011.8h0M325.3 992.1h0M539.9 995.8h0M460.7 1009.2h0M208.5 1003.8h0M568.2 1006.2h0M412.6 986.9h0M156.4 1002.3h0M660.5 987.1h0M625.4 1000.1h0"/><path class="i" stroke="#000080" d="M275.4 990.0h0M383.5 991.2h0M557.4 990.2h0M580.7 1000.8h0M440.6 1009.2h0M533.8 988.4h0M94.3 1007.8h0M254.1 1008.6h0M510.5 987.6h0M358.5 992.7h0M325.3 992.1h0M539.9 995.8h0M568.2 1006.2h0M412.6 986.9h0M156.4 1002.3h0M660.5 987.1h0M625.4 1000.1h0"/><path class="o" d="M534.8 996.1h0M420.6 1003.3h0M403.4 993.1h0M506.9 997.7h0M520.2 991.1h0M424.4 1004.6h0M552.0 1012.4h0M121.6 999.2h0M83.0 998.5h0M488.1 1001.7h0M610.0 994.5h0M601.0 1000.8h0M629.5 1006.6h0M349.5 983.1h0M197.9 1006.9h0M476.5 989.8h0M365.3 1004.4h0M539.0 995.9h0M331.9 981.1h0M340.8 964.7h0M629.5 1005.3h0M629.7 997.2h0M275.1 997.8h0M567.7 994.3h0M477.5 1011.5h0M167.5 1004.1h0M556.4 993.5h0M104.1 1003.8h0M471.2 1006.9h0M570.2 1013.7h0"/><path class="i" stroke="#000080" d="M534.8 996.1h0M403.4 993.1h0M506.9 997.7h0M520.2 991.1h0M424.4 1004.6h0M552.0 1012.4h0M121.6 999.2h0M83.0 998.5h0M488.1 1001.7h0M610.0 994.5h0M601.0 1000.8h0M629.5 1006.6h0M197.9 1006.9h0M476.5 989.8h0M539.0 995.9h0M331.9 981.1h0M340.8 964.7h0M275.1 997.8h0M567.7 994.3h0M104.1 1003.8h0M471.2 1006.9h0M570.2 1013.7h0"/><path class="o" d="M657.4 984.3h0M302.2 1000.7h0M244.6 1000.1h0M642.3 992.8h0M563.0 1004.7h0M636.7 995.0h0M465.7 1001.9h0M346.5 988.7h0M171.6 998.6h0M639.6 1011.9h0M487.5 994.4h0M222.5 1013.2h0M162.6 996.4h0M167.6 1013.3h0M273.2 1006.5h0M499.4 988.2h0M599.7 989.7h0M406.7 1004.8h0M186.0 1009.0h0M488.3 1008.5h0M281.2 1012.7h0M373.7 1001.8h0M402.0 1001.2h0M170.6 1013.2h0M185.5 992.0h0M107.3 1004.1h0M108.0 1005.3h0M542.3 994.0h0M165.1 1011.3h0M71.6 1012.9h0"/><path class="i" stroke="#000080" d="M657.4 984.3h0M302.2 1000.7h0M244.6 1000.1h0M642.3 992.8h0M465.7 1001.9h0M346.5 988.7h0M171.6 998.6h0M487.5 994.4h0M222.5 1013.2h0M162.6 996.4h0M273.2 1006.5h0M499.4 988.2h0M599.7 989.7h0M406.7 1004.8h0M186.0 1009.0h0M373.7 1001.8h0M402.0 1001.2h0M185.5 992.0h0M542.3 994.0h0"/><path class="o" d="M642.8 1011.4h0M522.2 988.1h0M605.2 1007.3h0M574.2 1008.4h0M276.8 1012.9h0M309.4 1006.7h0M405.0 992.2h0M482.5 989.6h0M383.8 987.1h0M436.6 1005.0h0M335.0 967.7h0M588.7 1012.8h0M530.0 982.9h0M205.8 998.3h0M544.1 994.6h0M239.1 994.2h0M392.4 998.0h0M603.0 997.8h0M232.4 999.5h0M362.8 1007.5h0M500.8 1004.9h0M258.7 1006.4h0M147.2 999.3h0M534.6 1010.2h0M299.5 1010.6h0M617.1 1001.9h0M405.6 998.4h0M328.0 991.7h0M181.4 992.4h0M651.2 1005.8h0"/><path class="i" stroke="#000080" d="M522.2 988.1h0M309.4 1006.7h0M405.0 992.2h0M482.5 989.6h0M383.8 987.1h0M436.6 1005.0h0M335.0 967.7h0M530.0 982.9h0M239.1 994.2h0M392.4 998.0h0M603.0 997.8h0M232.4 999.5h0M362.8 1007.5h0M500.8 1004.9h0M258.7 1006.4h0M147.2 999.3h0M405.6 998.4h0M328.0 991.7h0M181.4 992.4h0"/><path class="o" d="M205.0 997.5h0M528.8 984.9h0M522.7 1013.6h0M528.1 993.9h0M291.3 1001.8h0M166.2 1013.8h0M285.8 995.5h0M265.2 1003.5h0M468.7 994.1h0M662.6 996.6h0M278.4 1003.9h0M136.2 989.4h0M401.0 1013.3h0M114.1 1008.5h0M143.8 1009.6h0M97.2 990.6h0M278.8 999.6h0M288.6 999.0h0M526.1 995.7h0M564.2 1013.0h0M537.0 994.3h0M117.3 1012.8h0M316.9 992.5h0M280.8 998.2h0M624.0 1011.3h0M648.3 997.9h0M216.4 1003.8h0M73.0 1009.2h0M425.7 988.4h0M658.4 1013.3h0"/><path class="i" stroke="#000080" d="M205.0 997.5h0M528.8 984.9h0M291.3 1001.8h0M285.8 995.5h0M468.7 994.1h0M662.6 996.6h0M278.4 1003.9h0M136.2 989.4h0M401.0 1013.3h0M97.2 990.6h0M288.6 999.0h0M526.1 995.7h0M537.0 994.3h0M316.9 992.5h0M280.8 998.2h0M648.3 997.9h0M216.4 1003.8h0M425.7 988.4h0"/><path class="o" d="M622.2 997.5h0M341.6 1006.3h0M545.3 982.5h0M410.8 998.6h0M101.4 1005.0h0M504.0 1001.8h0M310.5 984.5h0M133.5 996.1h0M204.5 989.7h0M287.8 1002.6h0M138.2 1012.0h0M478.9 980.2h0M534.7 1009.3h0M336.8 968.8h0M543.0 988.3h0M585.4 998.1h0M202.3 1001.5h0M310.8 997.5h0M187.0 995.0h0M625.1 995.9h0M412.1 998.8h0M140.3 1006.7h0M353.5 975.2h0M649.1 1003.5h0M415.0 997.4h0M439.9 1001.1h0M428.9 993.2h0M106.0 1011.7h0M268.3 1005.9h0M584.3 1000.1h0"/><path class="i" stroke="#000080" d="M341.6 1006.3h0M545.3 982.5h0M504.0 1001.8h0M310.5 984.5h0M133.5 996.1h0M204.5 989.7h0M287.8 1002.6h0M478.9 980.2h0M336.8 968.8h0M543.0 988.3h0M585.4 998.1h0M202.3 1001.5h0M310.8 997.5h0M187.0 995.0h0M625.1 995.9h0M412.1 998.8h0M140.3 1006.7h0M353.5 975.2h0M415.0 997.4h0M439.9 1001.1h0M428.9 993.2h0M584.3 1000.1h0"/><path class="o" d="M336.1 1013.5h0M368.3 993.9h0M173.1 994.8h0M277.3 1006.2h0M653.4 990.5h0M462.2 1002.2h0M93.8 999.1h0M593.1 1001.2h0M140.9 992.6h0M97.4 1004.0h0M148.8 1013.9h0M661.2 995.6h0M212.6 1010.9h0M433.0 996.8h0M108.8 1010.2h0M486.3 983.9h0M307.1 988.5h0M626.0 999.3h0M102.4 1001.9h0M459.5 1009.0h0M604.0 990.5h0M274.7 996.5h0M67.8 1011.9h0M542.7 997.1h0M503.3 1001.9h0M497.1 1013.3h0M400.8 1006.2h0M458.9 996.8h0M482.1 1006.1h0M524.7 997.9h0"/><path class="i" stroke="#000080" d="M336.1 1013.5h0M368.3 993.9h0M173.1 994.8h0M653.4 990.5h0M93.8 999.1h0M593.1 1001.2h0M140.9 992.6h0M148.8 1013.9h0M661.2 995.6h0M433.0 996.8h0M108.8 1010.2h0M486.3 983.9h0M307.1 988.5h0M626.0 999.3h0M102.4 1001.9h0M604.0 990.5h0M274.7 996.5h0M542.7 997.1h0M458.9 996.8h0"/><path class="o" d="M589.4 998.0h0M324.3 991.2h0M125.9 1002.7h0M185.4 993.9h0M234.6 1000.5h0M290.3 992.4h0M130.1 1004.0h0M136.9 1006.1h0M514.0 999.2h0M411.2 990.9h0M110.1 1002.2h0M161.7 1000.4h0M181.2 1005.8h0M527.5 999.4h0M515.2 1006.7h0M293.3 1005.6h0M618.1 997.2h0M124.5 997.4h0M345.5 1005.9h0M354.9 1005.6h0M395.0 985.7h0M650.8 982.8h0M597.5 1010.3h0M261.8 1011.2h0M343.7 987.5h0M363.0 985.2h0M412.9 997.7h0M360.9 1008.8h0M119.2 1009.5h0M116.5 1005.7h0"/><path class="i" stroke="#000080" d="M589.4 998.0h0M324.3 991.2h0M125.9 1002.7h0M185.4 993.9h0M234.6 1000.5h0M290.3 992.4h0M136.9 1006.1h0M514.0 999.2h0M411.2 990.9h0M161.7 1000.4h0M527.5 999.4h0M515.2 1006.7h0M124.5 997.4h0M395.0 985.7h0M650.8 982.8h0M363.0 985.2h0M360.9 1008.8h0M116.5 1005.7h0"/><path class="o" d="M484.6 1007.0h0M361.7 1007.7h0M625.8 997.6h0M422.1 997.5h0M180.8 1003.5h0M419.3 1005.9h0M545.3 1004.1h0M295.7 1011.8h0M415.7 1006.5h0M160.5 1004.1h0M80.9 993.3h0M434.8 992.5h0M219.2 1009.3h0M288.6 1005.9h0M115.4 1010.7h0M317.6 1007.2h0M583.2 1004.1h0M547.5 997.0h0M422.5 1009.0h0M311.2 983.5h0M484.3 1013.1h0M250.3 996.2h0M300.8 1004.1h0M188.0 1004.1h0M94.7 1005.3h0M431.8 1011.3h0M474.4 1011.2h0M599.5 1013.5h0M201.4 1002.8h0M128.2 1005.3h0"/><path class="i" stroke="#000080" d="M625.8 997.6h0M422.1 997.5h0M180.8 1003.5h0M419.3 1005.9h0M160.5 1004.1h0M80.9 993.3h0M434.8 992.5h0M288.6 1005.9h0M583.2 1004.1h0M311.2 983.5h0M250.3 996.2h0M300.8 1004.1h0M94.7 1005.3h0M599.5 1013.5h0"/><path class="o" d="M427.4 1005.0h0M103.3 999.6h0M222.1 998.4h0M140.1 1000.0h0M428.6 1008.1h0M466.2 1011.9h0M143.2 996.7h0M482.9 994.5h0M475.6 1012.0h0M602.6 997.9h0M345.6 999.5h0M472.1 1010.8h0M586.6 1005.0h0M106.1 1004.3h0M578.3 1013.8h0M568.6 1002.0h0M290.1 1007.2h0M496.9 983.4h0M547.9 982.8h0M425.8 1011.6h0M484.2 1008.3h0M84.3 1009.7h0M637.8 996.8h0M217.1 1001.4h0M330.7 972.1h0M306.7 1002.4h0M542.3 981.6h0M257.9 1006.1h0M406.0 994.6h0M194.7 1003.2h0"/><path class="i" stroke="#000080" d="M427.4 1005.0h0M103.3 999.6h0M222.1 998.4h0M140.1 1000.0h0M143.2 996.7h0M482.9 994.5h0M345.6 999.5h0M106.1 1004.3h0M578.3 1013.8h0M568.6 1002.0h0M496.9 983.4h0M547.9 982.8h0M484.2 1008.3h0M84.3 1009.7h0M217.1 1001.4h0M330.7 972.1h0M542.3 981.6h0M257.9 1006.1h0M406.0 994.6h0"/><path class="o" d="M473.8 1007.8h0M423.2 998.1h0M122.9 1009.9h0M443.4 992.5h0M386.9 993.0h0M201.0 1011.2h0M109.7 1012.0h0M358.1 996.7h0M86.7 993.6h0M532.5 986.3h0M623.9 1004.0h0M132.1 1012.0h0M339.8 1011.4h0M430.2 1009.6h0M309.8 1003.1h0M652.7 989.1h0M445.7 989.1h0M614.1 994.4h0M489.9 991.9h0M621.9 996.1h0M457.4 1011.2h0M256.1 1005.6h0M147.3 1008.2h0M600.5 994.6h0M413.0 1003.2h0M553.4 1008.2h0M454.2 997.7h0M554.3 1009.3h0M441.5 1008.1h0M68.9 995.8h0"/><path class="i" stroke="#000080" d="M473.8 1007.8h0M443.4 992.5h0M386.9 993.0h0M109.7 1012.0h0M358.1 996.7h0M86.7 993.6h0M532.5 986.3h0M132.1 1012.0h0M652.7 989.1h0M445.7 989.1h0M614.1 994.4h0M621.9 996.1h0M600.5 994.6h0M413.0 1003.2h0M454.2 997.7h0M441.5 1008.1h0M68.9 995.8h0"/><path class="o" d="M575.2 1005.4h0M607.9 1000.9h0M154.9 992.6h0M658.6 973.7h0M106.5 1009.4h0M309.5 999.6h0M285.5 998.7h0M302.4 1011.2h0M468.3 990.2h0M482.1 1003.6h0M381.1 1003.0h0M190.7 1006.9h0M372.7 995.9h0M79.2 997.1h0M441.2 1001.1h0M594.6 1001.5h0M267.2 994.6h0M185.9 1011.4h0M332.5 1004.1h0M416.6 998.4h0M620.7 989.9h0M415.7 989.6h0M217.3 993.3h0M375.5 1004.7h0M227.8 1003.9h0M328.8 992.9h0M423.2 1006.0h0M365.3 994.3h0M140.7 1003.1h0M356.3 989.8h0"/><path class="i" stroke="#000080" d="M607.9 1000.9h0M154.9 992.6h0M658.6 973.7h0M285.5 998.7h0M468.3 990.2h0M482.1 1003.6h0M190.7 1006.9h0M372.7 995.9h0M79.2 997.1h0M594.6 1001.5h0M267.2 994.6h0M416.6 998.4h0M620.7 989.9h0M415.7 989.6h0M217.3 993.3h0M375.5 1004.7h0M227.8 1003.9h0M423.2 1006.0h0M365.3 994.3h0M140.7 1003.1h0M356.3 989.8h0"/><path class="o" d="M282.7 1009.9h0M384.5 1002.2h0M332.7 999.9h0M294.5 1002.1h0M500.7 986.5h0M655.1 1003.2h0M286.4 1006.2h0M212.5 990.8h0M576.0 1006.8h0M100.4 998.7h0M314.3 1004.2h0M212.1 1004.3h0M194.1 995.7h0M267.8 993.9h0M571.1 1005.5h0M122.1 1009.6h0M449.7 995.6h0M570.5 1009.6h0M515.6 1004.9h0M413.3 1000.7h0M536.7 986.6h0M133.7 997.0h0M96.2 1007.3h0M304.4 999.2h0M611.4 1007.3h0M568.8 1000.4h0M78.9 996.5h0M572.0 1004.6h0M491.4 1013.3h0M368.1 1007.5h0"/><path class="i" stroke="#000080" d="M384.5 1002.2h0M500.7 986.5h0M655.1 1003.2h0M286.4 1006.2h0M212.5 990.8h0M576.0 1006.8h0M100.4 998.7h0M314.3 1004.2h0M267.8 993.9h0M571.1 1005.5h0M122.1 1009.6h0M449.7 995.6h0M570.5 1009.6h0M515.6 1004.9h0M536.7 986.6h0M133.7 997.0h0M96.2 1007.3h0M304.4 999.2h0M611.4 1007.3h0M78.9 996.5h0M572.0 1004.6h0"/><path class="o" d="M180.8 1010.1h0M354.6 992.0h0M275.3 996.9h0M323.3 1011.2h0M202.9 1002.7h0M87.1 997.1h0M564.5 1003.1h0M352.8 1008.2h0M253.8 1011.6h0M93.1 1011.1h0M383.8 1011.2h0M99.0 996.3h0M365.9 1011.3h0M277.1 1005.0h0M74.4 1007.1h0M338.7 1005.8h0M267.0 1001.1h0M206.6 989.6h0M552.7 985.8h0M91.1 992.4h0M639.7 1010.8h0M199.7 1000.0h0M521.7 987.0h0M179.8 990.5h0M82.5 993.0h0M482.2 1000.4h0M432.0 993.3h0M620.8 1011.2h0M105.5 1006.2h0M515.0 988.8h0"/><path class="i" stroke="#000080" d="M180.8 1010.1h0M354.6 992.0h0M275.3 996.9h0M202.9 1002.7h0M87.1 997.1h0M564.5 1003.1h0M93.1 1011.1h0M99.0 996.3h0M365.9 1011.3h0M277.1 1005.0h0M74.4 1007.1h0M338.7 1005.8h0M267.0 1001.1h0M206.6 989.6h0M552.7 985.8h0M91.1 992.4h0M199.7 1000.0h0M521.7 987.0h0M179.8 990.5h0M82.5 993.0h0M482.2 1000.4h0M432.0 993.3h0M515.0 988.8h0"/><path class="o" d="M409.2 988.8h0M540.0 1013.0h0M296.9 998.9h0M130.1 1007.1h0M117.1 994.4h0M315.7 980.6h0M72.5 998.9h0M281.5 1005.4h0M490.8 1009.0h0M516.0 1009.4h0M133.8 1010.5h0M295.2 1000.0h0M498.4 991.8h0M347.9 1003.7h0M405.1 1010.7h0M489.6 1007.6h0M129.1 1010.4h0M632.5 1009.6h0M150.3 1011.9h0M135.7 1011.9h0M161.2 998.6h0M646.8 1005.0h0M540.1 1012.3h0M399.9 1006.2h0M663.2 989.1h0M658.4 990.3h0M329.4 986.1h0M372.8 991.5h0M315.9 1003.0h0M581.3 1001.8h0"/><path class="i" stroke="#000080" d="M409.2 988.8h0M296.9 998.9h0M130.1 1007.1h0M117.1 994.4h0M315.7 980.6h0M72.5 998.9h0M516.0 1009.4h0M498.4 991.8h0M347.9 1003.7h0M129.1 1010.4h0M632.5 1009.6h0M663.2 989.1h0M329.4 986.1h0M372.8 991.5h0M315.9 1003.0h0M581.3 1001.8h0"/><path class="o" d="M333.3 989.9h0M327.0 1007.4h0M485.2 1002.6h0M362.6 1011.5h0M209.8 995.1h0M392.8 1010.6h0M622.4 1012.6h0M164.1 1007.3h0M271.9 1002.3h0M332.4 978.0h0M212.8 1012.0h0M543.9 992.4h0M552.6 1009.5h0M594.4 1001.2h0M158.4 1003.9h0M555.0 997.2h0M603.8 1009.6h0M485.7 1002.9h0M538.2 1009.3h0M291.1 1003.4h0M101.3 997.9h0M537.8 1004.8h0M406.6 996.6h0M245.8 997.9h0M282.6 1011.3h0M232.3 1004.1h0M633.5 994.5h0M233.5 1005.4h0M200.8 1011.4h0M513.3 996.5h0"/><path class="i" stroke="#000080" d="M333.3 989.9h0M209.8 995.1h0M164.1 1007.3h0M271.9 1002.3h0M332.4 978.0h0M212.8 1012.0h0M543.9 992.4h0M594.4 1001.2h0M555.0 997.2h0M603.8 1009.6h0M101.3 997.9h0M537.8 1004.8h0M406.6 996.6h0M245.8 997.9h0M282.6 1011.3h0M633.5 994.5h0"/><path class="o" d="M525.8 977.2h0M262.7 1013.2h0M327.3 974.2h0M341.8 1006.5h0M151.5 1005.6h0M649.4 999.5h0M454.9 988.1h0M297.6 1010.0h0M439.5 985.1h0M360.4 989.1h0M133.6 1000.0h0M81.7 1002.7h0M267.7 996.8h0M445.4 992.5h0M586.8 1012.6h0M609.4 986.9h0M423.9 992.8h0M571.8 1010.1h0M426.7 1001.1h0M99.1 1010.4h0M274.7 1006.6h0M320.6 1005.1h0M179.3 1001.8h0M438.9 997.5h0M599.2 1002.8h0M426.4 1001.2h0M261.4 1010.9h0M188.8 995.4h0M422.4 998.7h0M462.6 1011.4h0"/><path class="i" stroke="#000080" d="M525.8 977.2h0M327.3 974.2h0M649.4 999.5h0M454.9 988.1h0M439.5 985.1h0M360.4 989.1h0M81.7 1002.7h0M267.7 996.8h0M445.4 992.5h0M609.4 986.9h0M423.9 992.8h0M599.2 1002.8h0M188.8 995.4h0M422.4 998.7h0"/><path class="o" d="M121.4 1003.1h0M439.3 1010.3h0M389.1 1004.4h0M75.8 1003.4h0M396.0 1000.6h0M97.4 1002.1h0M258.4 998.2h0M444.4 1003.3h0M617.9 994.4h0M394.5 1000.2h0M125.4 1012.1h0M203.8 1005.1h0M447.2 1010.1h0M378.4 982.1h0M311.7 1009.0h0M199.5 987.4h0M129.6 999.0h0M247.5 1002.2h0M397.1 998.9h0M229.5 996.5h0M71.3 1006.0h0M617.5 996.7h0M214.4 993.1h0M651.7 1004.5h0M543.0 1006.4h0M495.0 1010.9h0M417.4 1007.1h0M509.5 1007.9h0M243.1 1009.3h0M384.9 986.9h0"/><path class="i" stroke="#000080" d="M439.3 1010.3h0M389.1 1004.4h0M75.8 1003.4h0M396.0 1000.6h0M97.4 1002.1h0M444.4 1003.3h0M617.9 994.4h0M394.5 1000.2h0M378.4 982.1h0M311.7 1009.0h0M199.5 987.4h0M229.5 996.5h0M71.3 1006.0h0M617.5 996.7h0M214.4 993.1h0M543.0 1006.4h0M495.0 1010.9h0M384.9 986.9h0"/><path class="o" d="M509.7 1003.5h0M552.6 994.7h0M220.9 995.1h0M233.0 1008.7h0M387.8 992.0h0M503.3 1000.0h0M231.3 1010.7h0M501.0 994.9h0M79.1 1010.4h0M154.5 1006.8h0M347.7 980.7h0M74.2 1013.0h0M381.4 983.3h0M392.9 1008.1h0M216.0 1007.1h0M655.1 974.3h0M475.9 1013.2h0M279.7 1006.8h0M464.6 990.5h0M110.0 999.2h0M650.1 999.0h0M139.6 1000.0h0M568.2 1013.0h0M232.2 995.0h0M169.5 1012.9h0M312.2 998.4h0M142.5 1004.0h0M648.1 987.0h0M510.6 995.3h0M621.3 1001.0h0"/><path class="i" stroke="#000080" d="M220.9 995.1h0M387.8 992.0h0M501.0 994.9h0M154.5 1006.8h0M347.7 980.7h0M381.4 983.3h0M216.0 1007.1h0M655.1 974.3h0M464.6 990.5h0M139.6 1000.0h0M232.2 995.0h0M312.2 998.4h0M142.5 1004.0h0M648.1 987.0h0M621.3 1001.0h0"/><path class="o" d="M628.5 1007.3h0M90.1 1012.5h0M508.9 1006.3h0M564.9 1008.2h0M280.6 1002.9h0M329.8 999.3h0M549.7 1011.0h0M479.6 1002.3h0M627.8 1003.7h0M412.7 1007.3h0M225.1 1012.3h0M595.1 997.2h0M526.0 988.4h0M439.8 1004.7h0M150.8 1006.8h0M247.4 996.1h0M448.9 998.2h0M255.5 997.9h0M377.9 1003.2h0M527.9 983.3h0M128.1 993.0h0M366.3 1011.7h0M583.4 1004.8h0M506.6 1011.3h0M138.2 1013.5h0M280.7 995.3h0M230.4 1012.0h0M231.0 997.6h0M544.3 1011.0h0M247.1 998.6h0"/><path class="i" stroke="#000080" d="M280.6 1002.9h0M549.7 1011.0h0M595.1 997.2h0M526.0 988.4h0M439.8 1004.7h0M247.4 996.1h0M448.9 998.2h0M255.5 997.9h0M377.9 1003.2h0M527.9 983.3h0M128.1 993.0h0M138.2 1013.5h0M280.7 995.3h0M231.0 997.6h0M544.3 1011.0h0M247.1 998.6h0"/><path class="o" d="M183.1 991.1h0M340.3 980.0h0M380.5 1011.8h0M139.1 993.3h0M108.5 1007.0h0M423.5 982.1h0M492.7 1000.3h0M244.6 1008.7h0M128.0 1005.0h0M199.6 997.3h0M238.7 1004.2h0M77.5 999.2h0M640.1 1004.8h0M164.9 999.8h0M222.9 1008.4h0M239.7 1012.2h0M516.1 1009.2h0M610.7 1010.6h0M149.4 1005.0h0M408.4 1009.9h0M545.2 996.1h0M570.9 1003.2h0M219.3 992.9h0M155.8 1000.1h0M361.7 1006.1h0M561.9 1011.6h0M292.5 1006.8h0M644.6 999.3h0M440.7 989.0h0M607.5 1002.0h0"/><path class="i" stroke="#000080" d="M183.1 991.1h0M340.3 980.0h0M380.5 1011.8h0M139.1 993.3h0M423.5 982.1h0M492.7 1000.3h0M244.6 1008.7h0M128.0 1005.0h0M238.7 1004.2h0M77.5 999.2h0M640.1 1004.8h0M164.9 999.8h0M149.4 1005.0h0M408.4 1009.9h0M545.2 996.1h0M570.9 1003.2h0M219.3 992.9h0M155.8 1000.1h0M561.9 1011.6h0M440.7 989.0h0M607.5 1002.0h0"/><path class="o" d="M254.8 1004.1h0M261.2 1010.7h0M120.5 996.2h0M233.7 996.1h0M633.1 1007.0h0M650.8 987.5h0M488.7 998.1h0M613.7 1008.5h0M285.3 999.2h0M320.8 992.3h0M510.8 991.7h0M382.9 1005.3h0M160.5 1006.6h0M90.2 1004.5h0M298.2 1001.3h0M565.5 1009.2h0M175.1 999.6h0M375.5 994.2h0M410.7 1005.0h0M120.0 1007.6h0M214.2 1005.3h0M281.7 1012.2h0M156.6 999.5h0M177.4 1007.8h0M503.6 1004.7h0M460.7 1001.4h0M349.8 1007.7h0M74.1 1005.1h0M333.4 989.9h0M206.4 1002.9h0"/><path class="i" stroke="#000080" d="M254.8 1004.1h0M120.5 996.2h0M233.7 996.1h0M650.8 987.5h0M488.7 998.1h0M285.3 999.2h0M320.8 992.3h0M510.8 991.7h0M160.5 1006.6h0M298.2 1001.3h0M175.1 999.6h0M375.5 994.2h0M410.7 1005.0h0M214.2 1005.3h0M281.7 1012.2h0M156.6 999.5h0M460.7 1001.4h0M206.4 1002.9h0"/><path class="o" d="M554.8 1012.0h0M381.3 990.5h0M413.9 1011.8h0M507.9 1011.1h0M84.9 998.4h0M82.4 1010.3h0M473.0 995.7h0M644.6 987.6h0M130.1 1001.1h0M655.6 990.2h0M119.5 997.8h0M354.4 994.9h0M560.9 1006.5h0M87.9 1013.6h0M200.1 1003.3h0M241.9 998.6h0M472.7 1008.9h0M151.5 1007.0h0M91.3 1010.9h0M450.5 1013.5h0M153.8 1006.9h0M495.2 991.3h0M158.5 1004.3h0M241.2 1004.8h0M470.9 990.0h0M401.6 994.0h0M462.4 999.7h0M103.6 1001.7h0M120.0 1010.5h0M418.0 1006.7h0"/><path class="i" stroke="#000080" d="M554.8 1012.0h0M381.3 990.5h0M507.9 1011.1h0M84.9 998.4h0M82.4 1010.3h0M473.0 995.7h0M644.6 987.6h0M655.6 990.2h0M119.5 997.8h0M200.1 1003.3h0M241.9 998.6h0M472.7 1008.9h0M495.2 991.3h0M158.5 1004.3h0M470.9 990.0h0M401.6 994.0h0M462.4 999.7h0"/><path class="o" d="M658.0 980.0h0M389.7 1012.6h0M67.2 999.8h0M531.5 1000.0h0M461.3 1002.7h0M470.5 1008.2h0M367.0 990.0h0M477.6 991.7h0M303.9 1000.5h0M370.0 993.5h0M94.2 992.2h0M232.1 999.5h0M597.7 1012.3h0M268.0 991.6h0M282.3 997.7h0M168.0 987.5h0M613.7 1009.6h0M544.5 1008.3h0M467.2 987.3h0M414.8 999.2h0M379.0 986.9h0M197.5 1005.7h0M596.7 1002.8h0M255.3 1005.3h0M563.9 1004.3h0M158.8 991.4h0M551.4 1006.7h0M546.3 995.8h0M86.2 1001.7h0M70.4 1000.9h0"/><path class="i" stroke="#000080" d="M658.0 980.0h0M67.2 999.8h0M367.0 990.0h0M477.6 991.7h0M303.9 1000.5h0M370.0 993.5h0M94.2 992.2h0M232.1 999.5h0M268.0 991.6h0M282.3 997.7h0M168.0 987.5h0M613.7 1009.6h0M467.2 987.3h0M414.8 999.2h0M379.0 986.9h0M596.7 1002.8h0M158.8 991.4h0M546.3 995.8h0M70.4 1000.9h0"/><path class="o" d="M509.1 999.4h0M192.1 991.8h0M148.5 1004.9h0M580.7 1005.0h0M632.8 1010.5h0M166.8 1013.4h0M284.2 1002.3h0M83.4 1005.4h0M450.4 1011.7h0M368.0 1007.0h0M363.0 996.9h0M209.8 1003.6h0M426.8 992.5h0M325.3 1008.9h0M215.6 1008.2h0M448.3 1011.6h0M258.9 1000.8h0M589.8 1005.6h0M331.5 983.8h0M479.0 998.0h0M385.2 999.0h0M295.5 1010.4h0M344.4 989.7h0M132.1 1005.8h0M516.9 990.5h0M397.2 994.4h0M177.1 997.6h0M341.3 980.6h0M79.9 990.3h0M602.7 1006.4h0"/><path class="i" stroke="#000080" d="M192.1 991.8h0M580.7 1005.0h0M284.2 1002.3h0M426.8 992.5h0M448.3 1011.6h0M258.9 1000.8h0M331.5 983.8h0M479.0 998.0h0M385.2 999.0h0M344.4 989.7h0M132.1 1005.8h0M516.9 990.5h0M397.2 994.4h0M177.1 997.6h0M341.3 980.6h0M79.9 990.3h0"/><path class="o" d="M142.7 998.8h0M218.1 998.3h0M616.5 1008.4h0M654.8 995.1h0M394.0 1012.1h0M392.3 990.0h0M269.8 992.2h0M161.7 1005.9h0M269.1 1009.3h0M528.5 1012.8h0M240.2 1013.7h0M146.8 997.0h0M305.3 1007.4h0M254.1 1013.0h0M474.7 1007.0h0M520.9 1004.5h0M83.9 1008.4h0M330.4 982.9h0M71.2 997.8h0M344.9 980.2h0M557.9 1011.7h0M643.2 994.3h0M520.0 1009.9h0M348.9 991.1h0M416.1 998.9h0M364.2 998.0h0M646.5 995.7h0M323.4 984.4h0M97.1 1011.6h0M363.4 1012.0h0"/><path class="i" stroke="#000080" d="M142.7 998.8h0M392.3 990.0h0M269.8 992.2h0M161.7 1005.9h0M269.1 1009.3h0M146.8 997.0h0M474.7 1007.0h0M520.9 1004.5h0M330.4 982.9h0M71.2 997.8h0M344.9 980.2h0M643.2 994.3h0M348.9 991.1h0M364.2 998.0h0M646.5 995.7h0M323.4 984.4h0"/><path class="o" d="M97.4 999.7h0M536.2 989.7h0M233.2 1001.8h0M406.7 1001.5h0M370.7 1000.9h0M573.3 1010.4h0M549.2 1013.9h0M92.8 1008.0h0M613.5 998.2h0M157.1 1002.4h0M145.9 1002.5h0M391.8 1006.0h0M264.4 994.6h0M496.4 996.7h0M554.0 1008.6h0M492.8 981.3h0M263.0 1006.0h0M303.0 1013.0h0M175.8 1004.3h0M567.9 1004.5h0M77.6 1010.1h0M302.1 999.4h0M272.4 1001.1h0M73.1 1005.6h0M527.5 1013.3h0M426.5 988.0h0M124.6 1011.4h0M294.0 1000.2h0M650.5 1000.3h0M117.7 1000.6h0"/><path class="i" stroke="#000080" d="M97.4 999.7h0M536.2 989.7h0M92.8 1008.0h0M613.5 998.2h0M157.1 1002.4h0M391.8 1006.0h0M264.4 994.6h0M496.4 996.7h0M554.0 1008.6h0M492.8 981.3h0M263.0 1006.0h0M175.8 1004.3h0M567.9 1004.5h0M426.5 988.0h0M124.6 1011.4h0M294.0 1000.2h0M117.7 1000.6h0"/><path class="o" d="M149.5 996.3h0M313.7 996.3h0M630.0 1013.7h0M268.9 999.1h0M153.2 1009.6h0M520.1 992.1h0M145.2 1013.4h0M383.2 1004.2h0M82.1 1002.8h0M157.6 999.5h0M100.6 994.1h0M572.9 1009.9h0M321.4 1000.4h0M645.9 994.8h0M634.5 1010.1h0M82.3 1006.8h0M248.1 1007.7h0M481.4 990.4h0M616.9 1004.6h0M276.2 1012.2h0M410.6 1004.2h0M315.7 1004.3h0M643.5 989.7h0M264.5 1008.7h0M500.1 1013.0h0M566.0 1011.4h0M83.2 1013.8h0M340.8 982.5h0M380.0 995.4h0M334.2 990.9h0"/><path class="i" stroke="#000080" d="M149.5 996.3h0M313.7 996.3h0M630.0 1013.7h0M268.9 999.1h0M153.2 1009.6h0M145.2 1013.4h0M82.1 1002.8h0M157.6 999.5h0M100.6 994.1h0M645.9 994.8h0M82.3 1006.8h0M248.1 1007.7h0M481.4 990.4h0M315.7 1004.3h0M643.5 989.7h0M264.5 1008.7h0M380.0 995.4h0M334.2 990.9h0"/><path class="o" d="M324.1 1012.8h0M102.5 1011.5h0M403.8 1013.7h0M529.7 987.6h0M527.0 1002.2h0M654.5 1012.3h0M548.6 999.3h0M288.0 994.2h0M271.2 1000.0h0M347.1 1008.0h0M74.7 1011.1h0M351.0 1007.9h0M101.9 1010.3h0M468.7 1000.9h0M417.1 992.2h0M159.6 1000.9h0M532.3 995.6h0M198.1 985.1h0M206.2 1006.4h0M244.4 994.4h0M538.1 997.1h0M218.9 997.2h0M538.9 988.4h0M275.5 1001.0h0M530.1 1009.2h0M171.2 987.2h0M533.3 993.7h0M92.4 1006.5h0M194.9 1010.1h0M592.4 1008.1h0"/><path class="i" stroke="#000080" d="M324.1 1012.8h0M529.7 987.6h0M288.0 994.2h0M271.2 1000.0h0M468.7 1000.9h0M417.1 992.2h0M159.6 1000.9h0M198.1 985.1h0M244.4 994.4h0M538.1 997.1h0M218.9 997.2h0M538.9 988.4h0M275.5 1001.0h0M171.2 987.2h0M194.9 1010.1h0"/><path class="o" d="M619.7 1001.7h0M228.7 1000.4h0M296.9 990.4h0M484.4 988.3h0M238.8 1012.7h0M133.6 996.3h0M328.3 1013.7h0M604.7 1007.0h0M655.9 1009.9h0M630.2 996.2h0M138.3 1003.5h0M420.4 1007.2h0M83.6 992.7h0M566.2 1008.9h0M558.4 1003.5h0M73.8 991.6h0M627.3 1002.7h0M328.5 999.2h0M619.9 1004.0h0M294.9 1003.5h0M119.3 1013.5h0M639.0 1011.6h0M346.4 1004.8h0M194.4 995.8h0M337.6 987.5h0M605.4 1010.3h0M118.4 1009.3h0M345.8 970.8h0M88.9 1011.4h0M172.8 1011.9h0"/><path class="i" stroke="#000080" d="M296.9 990.4h0M484.4 988.3h0M133.6 996.3h0M328.3 1013.7h0M604.7 1007.0h0M630.2 996.2h0M83.6 992.7h0M73.8 991.6h0M328.5 999.2h0M619.9 1004.0h0M294.9 1003.5h0M194.4 995.8h0M337.6 987.5h0M345.8 970.8h0"/><path class="o" d="M301.4 1006.7h0M220.7 1012.7h0M164.6 1002.4h0M351.9 1005.1h0M549.5 998.8h0M541.5 999.2h0M87.9 1013.6h0M492.5 1005.6h0M322.3 978.1h0M536.6 1006.1h0M407.8 987.9h0M512.6 1007.8h0M492.6 1010.6h0M74.9 995.9h0M452.1 1005.9h0M406.0 1010.5h0M220.0 1010.6h0M503.1 992.1h0M403.2 999.9h0M214.1 996.9h0M636.1 995.1h0M304.6 998.0h0M173.9 1012.2h0M564.7 1011.3h0M158.5 1002.0h0M218.4 996.0h0M164.6 997.0h0M307.6 994.3h0M490.5 1007.6h0M655.9 1005.5h0"/><path class="i" stroke="#000080" d="M351.9 1005.1h0M549.5 998.8h0M322.3 978.1h0M407.8 987.9h0M512.6 1007.8h0M74.9 995.9h0M406.0 1010.5h0M503.1 992.1h0M214.1 996.9h0M304.6 998.0h0M218.4 996.0h0M164.6 997.0h0M307.6 994.3h0"/><path class="o" d="M297.8 1008.9h0M604.1 1003.5h0M629.2 1010.3h0M215.5 1006.5h0M363.3 993.8h0M632.5 996.0h0M310.7 995.7h0M620.1 1002.1h0M575.3 1000.3h0M235.3 996.7h0M93.5 1009.8h0M137.1 1013.3h0M518.4 1005.1h0M174.6 1000.0h0M508.8 1000.8h0M234.3 1013.9h0M93.2 991.2h0M411.8 1002.6h0M143.1 1004.6h0M121.9 999.1h0M95.9 1002.7h0M310.2 1001.4h0M549.2 1000.5h0M250.5 1010.0h0M431.1 988.2h0M229.2 1008.2h0M162.3 987.8h0M591.9 1010.2h0M243.2 1011.6h0M292.0 1008.1h0"/><path class="i" stroke="#000080" d="M604.1 1003.5h0M363.3 993.8h0M310.7 995.7h0M620.1 1002.1h0M575.3 1000.3h0M235.3 996.7h0M93.5 1009.8h0M137.1 1013.3h0M174.6 1000.0h0M508.8 1000.8h0M93.2 991.2h0M143.1 1004.6h0M121.9 999.1h0M310.2 1001.4h0M250.5 1010.0h0M431.1 988.2h0M162.3 987.8h0M591.9 1010.2h0"/><path class="o" d="M124.0 997.6h0M396.5 1002.6h0M648.6 1012.1h0M227.0 992.8h0M647.5 991.1h0M282.4 1009.5h0M240.3 1009.0h0M191.8 1003.6h0M69.6 1006.8h0M268.8 1008.5h0M662.4 1010.7h0M105.6 1009.0h0M464.7 1012.1h0M606.2 1006.2h0M480.0 1003.8h0M655.5 1011.4h0M635.5 1000.2h0M370.2 1007.3h0M540.5 993.2h0M156.4 1002.1h0M207.2 994.1h0M128.7 997.6h0M122.2 1007.4h0M228.6 1004.2h0M477.2 1002.6h0M417.9 994.6h0M601.9 996.7h0M203.8 1009.4h0M163.9 1001.5h0M207.4 997.3h0"/><path class="i" stroke="#000080" d="M124.0 997.6h0M227.0 992.8h0M647.5 991.1h0M191.8 1003.6h0M105.6 1009.0h0M464.7 1012.1h0M635.5 1000.2h0M540.5 993.2h0M156.4 1002.1h0M207.2 994.1h0M128.7 997.6h0M477.2 1002.6h0M417.9 994.6h0M163.9 1001.5h0"/><path class="o" d="M299.0 1010.5h0M372.0 993.9h0M595.5 995.4h0M73.3 1013.8h0M387.4 1004.1h0M326.9 999.5h0M119.1 997.3h0M118.5 994.3h0M475.0 993.9h0M547.1 986.5h0M160.8 1005.1h0M89.1 994.2h0M558.0 1010.3h0M220.2 1008.2h0M118.4 1009.1h0M573.7 1000.8h0M155.1 1002.3h0M459.7 1003.9h0M515.1 988.9h0M606.1 994.9h0M651.8 993.4h0M616.3 993.1h0M292.4 1010.5h0M435.1 1002.4h0M81.1 1001.6h0M573.5 1008.4h0M576.8 1001.0h0M393.8 1001.6h0M604.0 1003.2h0M245.4 1004.7h0"/><path class="i" stroke="#000080" d="M372.0 993.9h0M387.4 1004.1h0M326.9 999.5h0M118.5 994.3h0M475.0 993.9h0M547.1 986.5h0M89.1 994.2h0M118.4 1009.1h0M573.7 1000.8h0M155.1 1002.3h0M459.7 1003.9h0M515.1 988.9h0M606.1 994.9h0M616.3 993.1h0M292.4 1010.5h0M81.1 1001.6h0M573.5 1008.4h0M576.8 1001.0h0M393.8 1001.6h0M245.4 1004.7h0"/><path class="o" d="M531.8 989.6h0M505.0 1005.8h0M408.2 1006.7h0M661.8 1004.4h0M417.4 985.9h0M262.5 991.8h0M154.1 1012.0h0M284.7 1008.0h0M290.5 998.7h0M163.3 1011.3h0M126.4 996.2h0M357.5 1007.1h0M576.5 1012.6h0M663.5 991.3h0M427.4 999.9h0M361.0 983.4h0M167.6 1007.4h0M658.7 1012.7h0M346.5 1009.6h0M194.9 1013.5h0M554.8 1001.6h0M400.8 990.1h0M332.7 980.7h0M660.1 979.3h0M252.1 993.6h0M293.6 1010.4h0M280.5 998.8h0M570.2 991.7h0M356.0 994.8h0M309.0 996.8h0"/><path class="i" stroke="#000080" d="M505.0 1005.8h0M408.2 1006.7h0M661.8 1004.4h0M417.4 985.9h0M262.5 991.8h0M290.5 998.7h0M126.4 996.2h0M576.5 1012.6h0M663.5 991.3h0M427.4 999.9h0M361.0 983.4h0M400.8 990.1h0M332.7 980.7h0M660.1 979.3h0M252.1 993.6h0M280.5 998.8h0M570.2 991.7h0M309.0 996.8h0"/><path class="o" d="M81.5 1011.7h0M458.7 997.5h0M170.7 999.1h0M581.3 995.2h0M169.3 1010.2h0M139.7 1007.7h0M548.3 1006.9h0M285.1 997.9h0M578.4 1009.4h0M577.8 1011.9h0M620.9 1007.3h0M619.3 1012.3h0M72.8 998.9h0M503.2 988.3h0M328.3 976.1h0M316.9 989.9h0M624.2 1011.3h0M96.8 1003.2h0M530.0 1010.9h0M485.7 998.0h0M185.2 998.6h0M499.4 993.1h0M425.7 989.2h0M282.0 992.0h0M418.7 1012.5h0M176.5 1012.7h0M487.0 993.7h0M467.6 995.9h0M129.6 1010.1h0M518.5 1003.1h0"/><path class="i" stroke="#000080" d="M81.5 1011.7h0M458.7 997.5h0M170.7 999.1h0M581.3 995.2h0M285.1 997.9h0M578.4 1009.4h0M503.2 988.3h0M328.3 976.1h0M316.9 989.9h0M624.2 1011.3h0M485.7 998.0h0M499.4 993.1h0M425.7 989.2h0M282.0 992.0h0M467.6 995.9h0"/><path class="o" d="M317.7 1012.8h0M168.9 1000.0h0M522.3 999.0h0M461.4 990.6h0M106.8 1010.6h0M213.7 1012.7h0M377.5 1007.7h0M420.3 992.4h0M272.0 999.4h0M438.9 1011.5h0M270.2 1008.7h0M342.7 987.4h0M270.4 1013.0h0M229.3 993.7h0M610.3 1011.4h0M103.3 1007.5h0M122.2 998.5h0M389.8 1013.2h0M538.7 1005.9h0M515.6 989.9h0M211.9 1001.6h0M408.9 993.3h0M254.5 1004.4h0M85.3 1006.2h0M517.8 1009.5h0M247.8 999.5h0M638.5 996.6h0M164.4 998.9h0M466.7 1002.1h0M309.0 995.4h0"/><path class="i" stroke="#000080" d="M317.7 1012.8h0M461.4 990.6h0M106.8 1010.6h0M213.7 1012.7h0M272.0 999.4h0M270.2 1008.7h0M342.7 987.4h0M229.3 993.7h0M122.2 998.5h0M538.7 1005.9h0M515.6 989.9h0M211.9 1001.6h0M408.9 993.3h0M247.8 999.5h0M638.5 996.6h0M164.4 998.9h0M466.7 1002.1h0M309.0 995.4h0"/><path class="o" d="M463.9 1006.2h0M523.5 1009.5h0M552.0 999.9h0M252.4 1002.2h0M338.1 1004.7h0M407.7 999.3h0M478.5 1002.4h0M284.8 1011.8h0M660.7 987.9h0M228.2 1002.1h0M551.1 1002.8h0M230.4 1010.6h0M448.5 1007.2h0M143.9 1008.1h0M128.2 1012.3h0M314.2 982.1h0M644.5 987.4h0M558.4 990.3h0M121.2 996.7h0M467.9 995.2h0M96.9 999.7h0M565.7 994.0h0M444.9 990.1h0M201.6 993.3h0M193.1 995.8h0M355.8 999.2h0M265.6 995.1h0M500.1 1003.3h0M88.8 998.4h0M341.2 1009.9h0"/><path class="i" stroke="#000080" d="M252.4 1002.2h0M478.5 1002.4h0M660.7 987.9h0M228.2 1002.1h0M551.1 1002.8h0M314.2 982.1h0M644.5 987.4h0M558.4 990.3h0M121.2 996.7h0M467.9 995.2h0M565.7 994.0h0M444.9 990.1h0M201.6 993.3h0M193.1 995.8h0M355.8 999.2h0M265.6 995.1h0M500.1 1003.3h0M88.8 998.4h0"/><path class="o" d="M187.9 986.4h0M127.8 1005.8h0M124.4 1006.0h0M555.9 988.3h0M535.1 980.9h0M583.4 1009.6h0M612.7 1000.7h0M614.4 1003.0h0M438.8 997.6h0M188.3 1002.6h0M543.3 1003.9h0M488.5 982.0h0M405.1 1012.5h0M465.8 1013.7h0M594.3 1000.8h0M100.5 1002.4h0M93.0 1001.9h0M353.2 980.6h0M318.3 1011.3h0M447.4 990.7h0M517.0 1010.1h0M178.7 996.7h0M101.3 1009.3h0M359.3 995.1h0M274.0 995.8h0M521.4 1006.3h0M145.3 993.3h0M111.8 1013.7h0M159.2 1012.8h0M363.8 1012.4h0"/><path class="i" stroke="#000080" d="M187.9 986.4h0M127.8 1005.8h0M124.4 1006.0h0M555.9 988.3h0M535.1 980.9h0M612.7 1000.7h0M188.3 1002.6h0M543.3 1003.9h0M488.5 982.0h0M594.3 1000.8h0M100.5 1002.4h0M93.0 1001.9h0M353.2 980.6h0M318.3 1011.3h0M447.4 990.7h0M178.7 996.7h0M101.3 1009.3h0M359.3 995.1h0M274.0 995.8h0M145.3 993.3h0M363.8 1012.4h0"/><path class="o" d="M237.9 1012.3h0M263.7 1011.8h0M498.4 1004.2h0M598.9 1010.3h0M305.8 994.3h0M79.8 999.6h0M134.8 1011.0h0M265.7 1006.2h0M303.3 1001.3h0M608.9 1012.6h0M333.7 1005.2h0M497.0 994.4h0M541.8 1001.9h0M421.4 1003.6h0M442.1 1007.0h0M600.7 1006.2h0M106.2 1011.1h0M343.5 992.5h0M152.0 1008.0h0M77.7 1004.8h0M642.1 1004.2h0M560.5 1002.2h0M389.5 998.5h0M399.3 996.7h0M85.8 1009.8h0M554.2 1006.3h0M606.7 994.9h0M218.9 1011.5h0M241.4 1011.2h0M641.2 1011.4h0"/><path class="i" stroke="#000080" d="M305.8 994.3h0M79.8 999.6h0M265.7 1006.2h0M303.3 1001.3h0M333.7 1005.2h0M497.0 994.4h0M541.8 1001.9h0M421.4 1003.6h0M600.7 1006.2h0M106.2 1011.1h0M152.0 1008.0h0M560.5 1002.2h0M389.5 998.5h0M85.8 1009.8h0M606.7 994.9h0"/><path class="o" d="M67.8 1007.1h0M454.4 998.8h0M120.8 1012.2h0M575.5 1009.8h0M337.0 990.1h0M115.5 996.6h0M362.3 995.6h0M253.2 997.6h0M556.7 1009.3h0M407.5 1008.6h0M141.8 999.9h0M69.6 1005.0h0M262.5 1006.1h0M489.0 1005.2h0M185.2 995.5h0M221.5 994.1h0M519.4 979.3h0M417.3 995.6h0M505.2 983.2h0M251.8 1012.7h0M311.6 1007.8h0M577.0 1003.9h0M241.2 1001.5h0M215.7 1008.1h0M618.5 1011.7h0M250.2 1006.6h0M68.6 1007.6h0M556.1 1005.4h0M149.9 1010.0h0M468.4 1002.4h0"/><path class="i" stroke="#000080" d="M454.4 998.8h0M337.0 990.1h0M115.5 996.6h0M362.3 995.6h0M253.2 997.6h0M141.8 999.9h0M262.5 1006.1h0M185.2 995.5h0M221.5 994.1h0M519.4 979.3h0M417.3 995.6h0M505.2 983.2h0M311.6 1007.8h0M241.2 1001.5h0"/><path class="o" d="M485.3 989.7h0M75.5 1008.0h0M381.4 1012.1h0M109.5 996.0h0M73.6 1004.3h0M442.9 996.7h0M640.7 999.9h0M529.4 991.0h0M514.1 992.5h0M304.4 986.2h0M382.6 1013.7h0M256.6 1010.9h0M227.6 1009.7h0M128.1 1004.7h0M359.4 1007.5h0M362.7 981.8h0M90.5 1010.5h0M194.6 990.7h0M317.3 1012.3h0M144.7 1005.5h0M609.4 996.9h0M74.8 1012.8h0M358.6 1006.9h0M428.2 1003.9h0M470.7 997.5h0M165.2 987.9h0M190.2 1011.9h0M361.5 1000.7h0M111.0 1012.7h0M343.1 970.3h0"/><path class="i" stroke="#000080" d="M485.3 989.7h0M109.5 996.0h0M442.9 996.7h0M514.1 992.5h0M304.4 986.2h0M227.6 1009.7h0M362.7 981.8h0M194.6 990.7h0M317.3 1012.3h0M609.4 996.9h0M74.8 1012.8h0M358.6 1006.9h0M428.2 1003.9h0M165.2 987.9h0M343.1 970.3h0"/><path class="o" d="M642.4 999.5h0M237.2 1004.2h0M470.1 1003.1h0M217.4 1007.3h0M422.0 995.4h0M532.8 988.3h0M107.0 1005.4h0M209.1 1012.0h0M312.5 1004.0h0M173.0 992.7h0M515.6 997.7h0M355.4 971.5h0M560.2 1013.2h0M90.5 1012.0h0M632.5 1009.7h0M614.5 992.4h0M159.4 1013.7h0M388.7 1008.8h0M359.0 978.1h0M165.7 1004.4h0M66.7 990.5h0M110.9 1002.9h0M561.0 1008.4h0M523.7 1009.4h0M496.5 1011.6h0M399.7 1005.4h0M380.6 1006.5h0M447.7 1007.6h0M300.0 1010.8h0M120.7 1008.2h0"/><path class="i" stroke="#000080" d="M642.4 999.5h0M237.2 1004.2h0M470.1 1003.1h0M217.4 1007.3h0M422.0 995.4h0M532.8 988.3h0M107.0 1005.4h0M173.0 992.7h0M355.4 971.5h0M90.5 1012.0h0M614.5 992.4h0M359.0 978.1h0M66.7 990.5h0M399.7 1005.4h0M380.6 1006.5h0"/><path class="o" d="M184.2 994.6h0M509.5 995.4h0M103.8 999.6h0M470.0 1007.1h0M645.2 1008.9h0M574.1 993.6h0M332.5 1005.0h0M384.5 1013.3h0M583.9 1001.0h0M502.3 1001.4h0M411.9 991.6h0M497.4 991.9h0M433.0 1012.1h0M219.3 997.7h0M628.1 994.2h0M195.2 999.3h0M279.5 1010.4h0M587.3 1002.9h0M251.4 1000.6h0M227.6 990.2h0M75.0 1007.7h0M98.5 1012.6h0M306.6 1000.8h0M441.1 1008.6h0M570.8 1004.7h0M236.3 1012.9h0M606.8 993.8h0M591.2 1003.7h0M298.2 1002.5h0M532.2 1007.3h0"/><path class="i" stroke="#000080" d="M184.2 994.6h0M509.5 995.4h0M103.8 999.6h0M574.1 993.6h0M583.9 1001.0h0M411.9 991.6h0M219.3 997.7h0M628.1 994.2h0M195.2 999.3h0M587.3 1002.9h0M251.4 1000.6h0M227.6 990.2h0M75.0 1007.7h0M606.8 993.8h0M591.2 1003.7h0M298.2 1002.5h0"/><path class="o" d="M481.5 999.4h0M437.6 999.7h0M92.7 997.2h0M160.2 999.4h0M465.2 994.4h0M285.7 998.2h0M191.7 1001.2h0M656.7 991.0h0M636.8 1009.6h0M248.5 1000.6h0M475.2 1010.3h0M318.8 999.2h0M334.5 1003.2h0M608.1 1007.7h0M612.3 1002.0h0M488.9 997.3h0M431.5 989.8h0M485.8 1008.2h0M493.8 986.6h0M261.6 1007.8h0M158.7 1001.2h0M500.3 996.6h0M659.8 982.1h0M638.4 987.2h0M133.8 1007.7h0M294.0 999.4h0M79.0 1010.1h0M393.6 1008.1h0M382.0 1005.3h0M83.3 1013.6h0"/><path class="i" stroke="#000080" d="M481.5 999.4h0M437.6 999.7h0M92.7 997.2h0M465.2 994.4h0M285.7 998.2h0M656.7 991.0h0M248.5 1000.6h0M475.2 1010.3h0M318.8 999.2h0M334.5 1003.2h0M488.9 997.3h0M431.5 989.8h0M493.8 986.6h0M158.7 1001.2h0M500.3 996.6h0M659.8 982.1h0M638.4 987.2h0M79.0 1010.1h0M393.6 1008.1h0"/><path class="o" d="M322.6 987.7h0M498.1 1012.1h0M513.4 1011.1h0M406.8 1002.2h0M295.8 990.5h0M504.7 994.8h0M465.9 997.6h0M150.2 999.7h0M326.0 995.5h0M390.2 993.6h0M176.7 989.0h0M606.6 1009.8h0M649.1 980.2h0M261.0 996.6h0M595.0 991.5h0M572.2 998.2h0M318.9 992.4h0M431.5 990.7h0M182.3 1002.5h0M321.9 1000.6h0M514.7 987.2h0M517.5 1010.5h0M661.1 978.9h0M68.6 1010.8h0M547.2 1012.1h0M408.8 1007.2h0M517.8 991.1h0M213.8 996.6h0M347.7 981.7h0M536.6 1004.0h0"/><path class="i" stroke="#000080" d="M322.6 987.7h0M513.4 1011.1h0M406.8 1002.2h0M295.8 990.5h0M465.9 997.6h0M150.2 999.7h0M390.2 993.6h0M176.7 989.0h0M606.6 1009.8h0M649.1 980.2h0M261.0 996.6h0M595.0 991.5h0M572.2 998.2h0M318.9 992.4h0M182.3 1002.5h0M321.9 1000.6h0M514.7 987.2h0M661.1 978.9h0M547.2 1012.1h0M408.8 1007.2h0M517.8 991.1h0M213.8 996.6h0M347.7 981.7h0"/><path class="o" d="M607.3 995.9h0M403.7 1009.6h0M623.8 995.8h0M189.3 991.2h0M523.9 1005.9h0M215.8 994.6h0M601.8 1006.4h0M177.8 990.0h0M270.6 997.3h0M493.7 1007.4h0M528.3 1012.2h0M640.6 979.8h0M498.1 1000.4h0M438.4 998.7h0M530.7 994.6h0M270.9 1012.1h0M385.0 1004.8h0M535.9 999.1h0M498.8 1007.9h0M512.3 993.7h0M192.6 996.4h0M433.5 991.1h0M339.6 1005.5h0M187.6 1004.7h0M220.4 1001.7h0M604.6 1003.4h0M268.4 1000.1h0M134.0 998.0h0M514.5 1011.3h0M497.0 1005.2h0"/><path class="i" stroke="#000080" d="M607.3 995.9h0M403.7 1009.6h0M189.3 991.2h0M215.8 994.6h0M177.8 990.0h0M270.6 997.3h0M493.7 1007.4h0M528.3 1012.2h0M640.6 979.8h0M498.1 1000.4h0M438.4 998.7h0M535.9 999.1h0M498.8 1007.9h0M512.3 993.7h0M187.6 1004.7h0M220.4 1001.7h0M268.4 1000.1h0M134.0 998.0h0M514.5 1011.3h0"/><path class="o" d="M467.9 1001.5h0M198.3 995.1h0M96.5 1011.4h0M577.1 999.2h0M658.1 1004.3h0M419.2 989.4h0M351.9 1002.0h0M329.7 990.7h0M284.0 1010.1h0M610.7 1009.8h0M130.3 999.1h0M236.3 997.7h0M605.9 1004.4h0M443.3 991.4h0M657.2 981.7h0M655.4 1011.9h0M603.0 1003.6h0M436.6 1000.9h0M221.1 1006.5h0M454.2 1010.1h0M107.2 1012.3h0M110.5 1002.8h0M630.5 998.0h0M335.3 989.4h0M196.6 1002.0h0M523.3 998.9h0M161.1 990.1h0M564.7 992.9h0M505.5 1008.3h0M550.6 1013.5h0"/><path class="i" stroke="#000080" d="M467.9 1001.5h0M198.3 995.1h0M577.1 999.2h0M658.1 1004.3h0M419.2 989.4h0M329.7 990.7h0M610.7 1009.8h0M130.3 999.1h0M236.3 997.7h0M443.3 991.4h0M657.2 981.7h0M436.6 1000.9h0M630.5 998.0h0M335.3 989.4h0M523.3 998.9h0M161.1 990.1h0M564.7 992.9h0"/><path class="o" d="M141.9 1000.7h0M146.6 1012.7h0M584.7 1009.8h0M271.3 997.6h0M322.6 993.3h0M233.7 997.3h0M122.6 1007.0h0M98.1 1013.8h0M390.4 1005.7h0M174.6 999.6h0M245.5 1006.7h0M225.9 1012.9h0M599.9 1010.8h0M587.2 1005.7h0M421.8 1007.7h0M608.3 992.0h0M416.0 1009.3h0M513.7 989.3h0M245.7 1011.6h0M454.9 1000.7h0M437.9 993.5h0M126.4 995.8h0M622.8 1011.5h0M551.0 986.1h0M393.0 998.0h0M309.2 985.6h0M205.1 998.6h0M311.8 995.7h0M382.8 985.6h0M180.1 998.1h0"/><path class="i" stroke="#000080" d="M141.9 1000.7h0M584.7 1009.8h0M322.6 993.3h0M233.7 997.3h0M174.6 999.6h0M421.8 1007.7h0M608.3 992.0h0M513.7 989.3h0M454.9 1000.7h0M437.9 993.5h0M126.4 995.8h0M551.0 986.1h0M393.0 998.0h0M309.2 985.6h0M205.1 998.6h0M311.8 995.7h0M382.8 985.6h0M180.1 998.1h0"/><path class="o" d="M80.0 998.4h0M472.2 990.6h0M414.8 988.7h0M616.5 991.8h0M567.2 1007.0h0M562.7 1008.9h0M408.8 1004.6h0M491.9 1001.0h0M313.4 1006.5h0M148.1 1007.3h0M660.5 977.1h0M192.9 1013.6h0M410.0 999.5h0M446.0 999.7h0M618.3 994.0h0M123.3 999.6h0M377.5 1002.4h0M362.8 993.9h0M469.5 999.3h0M211.1 996.7h0M153.0 1011.1h0M396.7 1012.1h0M649.6 984.4h0M140.2 995.5h0M157.4 996.7h0M256.5 1010.1h0M274.5 1000.1h0M368.2 1008.7h0M102.1 1005.5h0M237.1 1012.5h0"/><path class="i" stroke="#000080" d="M80.0 998.4h0M472.2 990.6h0M414.8 988.7h0M616.5 991.8h0M562.7 1008.9h0M408.8 1004.6h0M148.1 1007.3h0M660.5 977.1h0M410.0 999.5h0M618.3 994.0h0M362.8 993.9h0M469.5 999.3h0M211.1 996.7h0M153.0 1011.1h0M649.6 984.4h0M140.2 995.5h0M157.4 996.7h0M274.5 1000.1h0M102.1 1005.5h0"/><path class="o" d="M113.7 1005.2h0M152.9 1001.1h0M141.2 999.4h0M459.8 996.8h0M86.4 998.9h0M521.6 992.7h0M557.0 999.0h0M323.9 986.3h0M658.9 1006.3h0M193.2 1006.2h0M526.8 977.7h0M331.4 1002.8h0M590.3 1008.6h0M521.6 976.3h0M388.6 986.2h0M506.4 1012.5h0M653.8 997.8h0M190.6 1004.9h0M329.1 988.0h0M327.6 1004.3h0M87.0 1006.6h0M221.7 997.7h0M578.1 995.7h0M277.7 1008.2h0M307.1 1008.2h0M471.2 1002.2h0M238.3 1004.4h0M308.5 1011.5h0M405.6 993.5h0M429.5 1002.2h0"/><path class="i" stroke="#000080" d="M113.7 1005.2h0M141.2 999.4h0M459.8 996.8h0M521.6 992.7h0M323.9 986.3h0M526.8 977.7h0M521.6 976.3h0M388.6 986.2h0M578.1 995.7h0M277.7 1008.2h0M238.3 1004.4h0M429.5 1002.2h0"/><path class="o" d="M442.4 995.8h0M252.2 1008.6h0M495.4 994.1h0M653.7 983.5h0M309.3 998.1h0M189.3 1008.6h0M455.6 1007.1h0M126.9 1013.8h0M277.3 995.8h0M166.9 1012.5h0M513.1 986.2h0M430.2 1000.2h0M78.4 1001.3h0M444.6 1001.5h0M435.1 995.4h0M496.5 1006.6h0M361.1 1000.6h0M592.8 1011.7h0M555.0 1002.4h0M593.5 1010.3h0M500.9 1006.9h0M167.0 996.1h0M409.6 998.3h0M602.2 999.4h0M402.7 1008.8h0M320.1 1002.1h0M314.2 995.5h0M96.4 1013.2h0M593.4 996.3h0M221.4 1008.8h0"/><path class="i" stroke="#000080" d="M442.4 995.8h0M252.2 1008.6h0M495.4 994.1h0M653.7 983.5h0M309.3 998.1h0M189.3 1008.6h0M277.3 995.8h0M513.1 986.2h0M430.2 1000.2h0M78.4 1001.3h0M444.6 1001.5h0M361.1 1000.6h0M592.8 1011.7h0M555.0 1002.4h0M593.5 1010.3h0M500.9 1006.9h0M167.0 996.1h0M409.6 998.3h0M602.2 999.4h0M314.2 995.5h0M593.4 996.3h0M221.4 1008.8h0"/><path class="o" d="M259.1 996.7h0M117.6 1013.4h0M530.6 992.1h0M289.1 1005.3h0M643.6 978.8h0M89.4 1002.0h0M553.2 996.3h0M441.0 998.8h0M612.6 998.9h0M358.2 997.3h0M256.4 993.2h0M612.6 1007.6h0M181.0 1013.0h0M430.5 997.0h0M634.7 1012.8h0M548.0 1007.7h0M291.2 993.4h0M116.9 1010.3h0M250.0 1012.7h0M330.8 980.7h0M136.9 1003.7h0M186.6 1013.6h0M215.9 1004.5h0M448.9 991.5h0M576.7 1013.4h0M70.8 1008.6h0M350.6 987.0h0M94.6 1005.8h0M560.2 1001.9h0M208.8 995.3h0"/><path class="i" stroke="#000080" d="M259.1 996.7h0M530.6 992.1h0M289.1 1005.3h0M643.6 978.8h0M89.4 1002.0h0M553.2 996.3h0M612.6 998.9h0M358.2 997.3h0M256.4 993.2h0M430.5 997.0h0M548.0 1007.7h0M291.2 993.4h0M250.0 1012.7h0M330.8 980.7h0M136.9 1003.7h0M448.9 991.5h0M350.6 987.0h0M208.8 995.3h0"/><path class="o" d="M635.6 990.7h0M456.1 1002.2h0M630.5 994.4h0M456.9 1005.6h0M299.4 1002.5h0M506.6 995.7h0M92.6 1007.2h0M542.7 991.9h0M578.3 1000.8h0M98.6 1012.8h0M172.4 996.0h0M136.2 999.8h0M315.9 996.2h0M335.5 984.2h0M322.1 1012.0h0M452.9 1011.7h0M473.4 992.1h0M331.5 1010.4h0M392.8 994.4h0M392.4 997.3h0M565.7 1012.6h0M327.6 994.6h0M77.1 1007.7h0M655.6 992.9h0M345.8 984.5h0M168.8 1007.8h0M137.8 1006.2h0M290.3 1005.6h0M180.6 999.9h0M516.5 992.2h0"/><path class="i" stroke="#000080" d="M635.6 990.7h0M456.1 1002.2h0M630.5 994.4h0M506.6 995.7h0M578.3 1000.8h0M172.4 996.0h0M136.2 999.8h0M315.9 996.2h0M335.5 984.2h0M473.4 992.1h0M392.8 994.4h0M77.1 1007.7h0M345.8 984.5h0M168.8 1007.8h0M180.6 999.9h0M516.5 992.2h0"/><path class="o" d="M303.4 994.6h0M325.8 1013.8h0M612.9 991.3h0M226.7 999.5h0M342.2 963.8h0M159.7 1009.7h0M559.3 997.6h0M234.3 1002.6h0M525.7 990.7h0M550.4 1004.5h0M327.8 986.8h0M165.1 1005.0h0M472.6 1009.2h0M471.4 1007.4h0M286.9 1010.9h0M508.1 995.1h0M482.8 994.5h0M450.4 986.7h0M92.7 995.6h0M126.8 1010.4h0M305.0 994.4h0M386.9 982.9h0M657.4 989.3h0M206.9 1011.0h0M434.5 995.7h0M110.5 1004.4h0M645.6 1006.0h0M379.6 1012.6h0M561.6 992.2h0M67.5 999.3h0"/><path class="i" stroke="#000080" d="M303.4 994.6h0M612.9 991.3h0M226.7 999.5h0M342.2 963.8h0M559.3 997.6h0M234.3 1002.6h0M525.7 990.7h0M550.4 1004.5h0M327.8 986.8h0M165.1 1005.0h0M508.1 995.1h0M450.4 986.7h0M92.7 995.6h0M386.9 982.9h0M434.5 995.7h0M110.5 1004.4h0M645.6 1006.0h0M561.6 992.2h0M67.5 999.3h0"/><path class="o" d="M347.5 969.1h0M112.8 1006.6h0M138.2 1011.6h0M209.8 1007.7h0M240.3 991.8h0M647.0 998.3h0M401.3 1005.8h0M333.8 970.7h0M371.6 1009.7h0M82.2 1006.5h0M156.7 992.3h0M285.5 1012.4h0M596.4 1002.0h0M322.8 1007.0h0M423.5 1003.7h0M170.4 1000.4h0M594.2 1006.8h0M354.5 1011.7h0M294.8 1000.7h0M412.9 1011.0h0M418.1 1008.9h0M625.5 989.7h0M197.2 1005.2h0M397.6 994.4h0M447.8 1004.8h0M170.6 1009.8h0M591.3 1005.4h0M368.4 1001.5h0M80.5 1008.2h0M169.2 1001.7h0"/><path class="i" stroke="#000080" d="M347.5 969.1h0M112.8 1006.6h0M138.2 1011.6h0M240.3 991.8h0M333.8 970.7h0M156.7 992.3h0M285.5 1012.4h0M423.5 1003.7h0M170.4 1000.4h0M354.5 1011.7h0M625.5 989.7h0M397.6 994.4h0M447.8 1004.8h0"/><path class="o" d="M629.7 987.8h0M511.6 1005.7h0M125.4 1010.7h0M449.7 995.3h0M232.2 1007.5h0M543.2 1005.6h0M343.6 1006.1h0M161.2 998.3h0M163.4 1013.6h0M555.6 1002.5h0M414.8 998.4h0M376.9 994.0h0M84.7 1005.3h0M315.0 980.7h0M316.7 979.7h0M321.3 976.0h0M323.6 971.9h0M326.9 968.4h0M329.0 968.7h0M331.8 964.8h0M337.3 961.4h0M339.8 962.4h0M342.7 964.4h0M344.4 961.6h0M348.7 964.3h0M349.8 965.9h0M353.1 967.7h0M357.9 971.4h0M361.2 968.4h0M361.7 977.1h0"/><path class="i" stroke="#000080" d="M629.7 987.8h0M449.7 995.3h0M543.2 1005.6h0M343.6 1006.1h0M161.2 998.3h0M163.4 1013.6h0M555.6 1002.5h0M414.8 998.4h0M315.0 980.7h0M316.7 979.7h0M321.3 976.0h0M323.6 971.9h0M326.9 968.4h0M329.0 968.7h0M331.8 964.8h0M337.3 961.4h0M339.8 962.4h0M342.7 964.4h0M344.4 961.6h0M348.7 964.3h0M349.8 965.9h0M353.1 967.7h0M357.9 971.4h0M361.2 968.4h0M361.7 977.1h0"/><path class="o" d="M371.8 984.3h0M373.8 982.3h0M376.9 973.2h0M382.2 980.0h0M663.3 1010.6h0M382.5 980.9h0M387.1 983.5h0M388.8 979.0h0M394.3 979.2h0M395.7 973.7h0M397.8 974.4h0M401.0 975.4h0M406.4 984.9h0M408.2 979.7h0M409.9 983.0h0M415.5 971.8h0M415.9 975.6h0M421.4 979.4h0M423.3 980.6h0M425.6 971.7h0M429.3 967.6h0M430.8 975.5h0M436.1 968.4h0M437.9 973.1h0M442.5 970.6h0M442.6 963.8h0M446.5 975.8h0M449.1 975.9h0M452.5 986.8h0M456.4 988.3h0"/><path class="i" stroke="#000080" d="M371.8 984.3h0M373.8 982.3h0M376.9 973.2h0M382.2 980.0h0M663.3 1010.6h0M382.5 980.9h0M387.1 983.5h0M388.8 979.0h0M394.3 979.2h0M395.7 973.7h0M397.8 974.4h0M401.0 975.4h0M406.4 984.9h0M408.2 979.7h0M409.9 983.0h0M415.5 971.8h0M415.9 975.6h0M421.4 979.4h0M423.3 980.6h0M425.6 971.7h0M429.3 967.6h0M430.8 975.5h0M436.1 968.4h0M437.9 973.1h0M442.5 970.6h0M442.6 963.8h0M446.5 975.8h0M449.1 975.9h0M452.5 986.8h0M456.4 988.3h0"/><path class="o" d="M459.9 990.8h0M462.8 963.9h0M465.0 967.9h0M467.2 967.0h0M470.8 981.5h0M475.4 975.6h0M476.6 962.5h0M479.6 967.5h0M482.0 962.9h0M485.3 980.0h0M490.4 978.4h0M493.3 961.0h0M495.3 982.5h0M496.7 980.3h0M500.7 971.8h0M505.4 978.4h0M505.9 973.6h0M508.9 981.7h0M513.2 971.7h0M514.7 974.9h0M519.6 969.6h0M521.6 967.8h0M524.0 969.4h0M528.8 969.2h0M531.0 977.9h0M532.6 974.6h0M536.0 974.6h0M538.8 973.5h0M542.2 981.6h0M545.0 978.7h0"/><path class="i" stroke="#000080" d="M459.9 990.8h0M462.8 963.9h0M465.0 967.9h0M467.2 967.0h0M470.8 981.5h0M475.4 975.6h0M476.6 962.5h0M479.6 967.5h0M482.0 962.9h0M485.3 980.0h0M490.4 978.4h0M493.3 961.0h0M495.3 982.5h0M496.7 980.3h0M500.7 971.8h0M505.4 978.4h0M505.9 973.6h0M508.9 981.7h0M513.2 971.7h0M514.7 974.9h0M519.6 969.6h0M521.6 967.8h0M524.0 969.4h0M528.8 969.2h0M531.0 977.9h0M532.6 974.6h0M536.0 974.6h0M538.8 973.5h0M542.2 981.6h0M545.0 978.7h0"/><path class="o" d="M549.2 980.4h0M551.0 979.9h0M556.3 980.6h0M559.3 986.6h0M562.5 978.7h0M564.1 984.3h0M567.1 980.8h0M568.7 985.1h0M573.1 991.2h0M576.7 987.5h0M577.8 988.3h0M581.9 989.4h0M585.4 992.2h0M588.3 985.4h0M592.1 985.8h0M595.0 976.8h0M597.4 972.4h0M598.6 978.4h0M603.3 975.3h0M605.7 987.2h0M608.1 976.8h0M611.0 986.0h0M614.6 979.3h0M663.3 1003.3h0M618.1 985.8h0M621.8 981.9h0M624.8 985.5h0M628.4 978.5h0M631.4 973.0h0M634.0 980.3h0"/><path class="i" stroke="#000080" d="M549.2 980.4h0M551.0 979.9h0M556.3 980.6h0M559.3 986.6h0M562.5 978.7h0M564.1 984.3h0M567.1 980.8h0M568.7 985.1h0M573.1 991.2h0M576.7 987.5h0M577.8 988.3h0M581.9 989.4h0M585.4 992.2h0M588.3 985.4h0M592.1 985.8h0M595.0 976.8h0M597.4 972.4h0M598.6 978.4h0M603.3 975.3h0M605.7 987.2h0M608.1 976.8h0M611.0 986.0h0M614.6 979.3h0M663.3 1003.3h0M618.1 985.8h0M621.8 981.9h0M624.8 985.5h0M628.4 978.5h0M631.4 973.0h0M634.0 980.3h0"/><path class="o" d="M635.5 978.3h0M639.8 976.6h0M662.8 985.0h0M641.2 976.8h0M643.9 962.8h0M649.4 969.1h0M651.7 966.1h0M654.1 966.3h0M657.4 966.7h0M659.3 960.5h0M662.1 960.6h0"/><path class="i" stroke="#000080" d="M635.5 978.3h0M639.8 976.6h0M662.8 985.0h0M641.2 976.8h0M643.9 962.8h0M649.4 969.1h0M651.7 966.1h0M654.1 966.3h0M657.4 966.7h0M659.3 960.5h0M662.1 960.6h0"/>
<g class="pt">
<g fill="#ffa500"><circle cx="473.3" cy="792.2"/><circle cx="480.6" cy="792.8"/></g>
<g fill="#ff0000"><circle cx="486.7" cy="792.2"/><circle cx="491.1" cy="786.3"/><circle cx="504.4" cy="782.8"/><circle cx="508.1" cy="783.9"/><circle cx="518.3" cy="781.9"/><circle cx="532.8" cy="784.4"/><circle cx="535.0" cy="796.1"/><circle cx="536.9" cy="799.1"/></g>
<g fill="#ffa500"><circle cx="470.6" cy="805.0"/></g>
<g fill="#ff0000"><circle cx="481.1" cy="801.7"/><circle cx="486.7" cy="804.2"/><circle cx="497.4" cy="801.9"/></g>
<g fill="#ffa500"><circle cx="465.3" cy="823.6"/><circle cx="466.1" cy="821.4"/></g>
<g fill="#ff0000"><circle cx="547.8" cy="845.0"/><circle cx="550.6" cy="848.0"/><circle cx="553.9" cy="857.2"/></g>
<g fill="#ffa500"><circle cx="566.7" cy="854.4"/></g>
<g fill="#ff0000"><circle cx="559.7" cy="853.9"/><circle cx="570.2" cy="860.3"/></g>
<g fill="#00ff00"><circle cx="568.1" cy="869.2"/><circle cx="579.2" cy="873.3"/></g>
<g fill="#000080"><circle cx="430.8" cy="879.7"/></g>
<g fill="#87cefa"><circle cx="463.3" cy="875.0"/><circle cx="465.6" cy="891.1"/></g>
<g fill="#ffa500"><circle cx="518.3" cy="877.8"/><circle cx="522.0" cy="881.3"/></g>
<g fill="#00ff00"><circle cx="533.3" cy="879.7"/></g>
<g fill="#87cefa"><circle cx="608.6" cy="878.6"/><circle cx="587.8" cy="897.2"/><circle cx="593.0" cy="892.8"/><circle cx="597.8" cy="892.8"/><circle cx="602.2" cy="893.9"/><circle cx="608.1" cy="890.6"/><circle cx="614.7" cy="898.9"/><circle cx="573.9" cy="908.9"/><circle cx="573.3" cy="903.9"/><circle cx="576.1" cy="902.4"/></g>
<g fill="#000080"><circle cx="435.6" cy="907.8"/><circle cx="440.8" cy="906.4"/></g>
<g fill="#00ff00"><circle cx="483.0" cy="907.8"/></g>
<g fill="#87cefa"><circle cx="657.0" cy="877.2"/><circle cx="657.8" cy="871.1"/><circle cx="540.0" cy="913.9"/></g>
<g fill="#000080"><circle cx="546.1" cy="920.2"/></g>
<g fill="#87cefa"><circle cx="565.0" cy="919.4"/><circle cx="571.7" cy="922.8"/><circle cx="576.4" cy="923.6"/><circle cx="585.0" cy="920.2"/><circle cx="589.7" cy="926.1"/></g>
<g fill="#000080"><circle cx="653.3" cy="907.2"/><circle cx="658.0" cy="903.7"/><circle cx="663.6" cy="912.0"/><circle cx="656.1" cy="929.1"/></g>
<g fill="#87cefa"><circle cx="546.9" cy="953.7"/><circle cx="554.8" cy="947.6"/></g>
<g fill="#000080"><circle cx="563.0" cy="946.1"/><circle cx="656.1" cy="939.4"/><circle cx="660.0" cy="944.4"/><circle cx="662.8" cy="952.8"/><circle cx="661.7" cy="965.6"/><circle cx="648.3" cy="957.8"/><circle cx="652.2" cy="968.9"/><circle cx="656.1" cy="976.1"/><circle cx="582.2" cy="950.6"/><circle cx="585.6" cy="952.2"/><circle cx="591.3" cy="957.2"/><circle cx="599.4" cy="963.3"/><circle cx="608.3" cy="960.2"/><circle cx="588.0" cy="967.2"/><circle cx="616.7" cy="966.7"/><circle cx="606.7" cy="970.0"/><circle cx="623.3" cy="967.2"/><circle cx="627.2" cy="973.1"/><circle cx="583.7" cy="978.3"/></g>
<g fill="#b3b3b3"><circle cx="592.8" cy="976.7"/></g>
<g fill="#000080"><circle cx="553.1" cy="970.0"/><circle cx="546.1" cy="972.2"/><circle cx="566.1" cy="977.8"/><circle cx="561.1" cy="983.3"/><circle cx="570.0" cy="982.2"/><circle cx="576.1" cy="987.2"/></g>
<g fill="#87cefa"><circle cx="545.8" cy="984.7"/><circle cx="546.9" cy="995.0"/></g>
<g fill="#000080"><circle cx="66.4" cy="929.4"/><circle cx="76.3" cy="934.4"/><circle cx="111.1" cy="934.2"/><circle cx="89.1" cy="952.0"/><circle cx="85.0" cy="977.4"/><circle cx="90.2" cy="984.4"/><circle cx="129.1" cy="971.4"/><circle cx="136.4" cy="975.3"/><circle cx="128.0" cy="985.8"/><circle cx="150.9" cy="984.4"/><circle cx="175.0" cy="976.7"/></g>
<g fill="#b3b3b3"><circle cx="193.9" cy="921.1"/></g>
<g fill="#000080"><circle cx="191.4" cy="982.2"/><circle cx="193.3" cy="989.4"/><circle cx="205.0" cy="975.6"/><circle cx="208.3" cy="979.4"/><circle cx="201.7" cy="983.9"/><circle cx="217.8" cy="989.4"/><circle cx="230.0" cy="981.1"/><circle cx="233.9" cy="987.8"/><circle cx="242.2" cy="980.6"/><circle cx="241.7" cy="987.8"/></g>
<g fill="#b3b3b3"><circle cx="247.8" cy="973.3"/></g>
<g fill="#000080"><circle cx="256.7" cy="966.1"/><circle cx="271.1" cy="965.6"/><circle cx="274.4" cy="975.6"/><circle cx="277.2" cy="971.3"/><circle cx="263.3" cy="983.9"/><circle cx="269.8" cy="985.6"/><circle cx="260.0" cy="988.3"/><circle cx="368.9" cy="920.6"/><circle cx="392.8" cy="917.8"/><circle cx="398.9" cy="923.3"/><circle cx="396.7" cy="926.7"/><circle cx="399.4" cy="916.7"/><circle cx="390.0" cy="931.1"/><circle cx="413.3" cy="914.2"/><circle cx="423.9" cy="919.1"/><circle cx="432.2" cy="918.9"/><circle cx="402.8" cy="937.8"/><circle cx="408.9" cy="930.6"/><circle cx="407.4" cy="940.0"/><circle cx="391.7" cy="945.0"/><circle cx="402.8" cy="945.0"/></g>
<g fill="#87cefa"><circle cx="474.4" cy="928.3"/><circle cx="476.4" cy="921.3"/><circle cx="484.4" cy="925.0"/><circle cx="471.7" cy="937.8"/><circle cx="470.6" cy="947.8"/><circle cx="483.7" cy="964.4"/></g>
<g fill="#000080"><circle cx="453.3" cy="932.2"/><circle cx="457.8" cy="928.6"/><circle cx="438.9" cy="936.9"/><circle cx="447.8" cy="940.6"/><circle cx="458.9" cy="943.9"/><circle cx="436.1" cy="947.2"/><circle cx="454.1" cy="953.3"/><circle cx="480.0" cy="952.2"/><circle cx="448.9" cy="957.8"/><circle cx="431.7" cy="959.4"/><circle cx="441.7" cy="962.2"/><circle cx="472.2" cy="962.2"/><circle cx="461.7" cy="965.8"/><circle cx="447.8" cy="970.6"/><circle cx="441.7" cy="968.9"/><circle cx="432.8" cy="970.0"/><circle cx="423.3" cy="968.9"/><circle cx="416.7" cy="968.6"/><circle cx="478.3" cy="975.6"/><circle cx="431.1" cy="981.7"/><circle cx="407.8" cy="976.1"/><circle cx="397.8" cy="955.6"/><circle cx="392.2" cy="964.4"/><circle cx="402.8" cy="959.2"/><circle cx="393.9" cy="971.1"/><circle cx="377.2" cy="961.1"/><circle cx="376.7" cy="951.4"/><circle cx="377.2" cy="967.2"/><circle cx="358.3" cy="941.1"/><circle cx="357.8" cy="955.6"/><circle cx="358.6" cy="948.6"/><circle cx="363.9" cy="960.0"/><circle cx="340.0" cy="950.0"/><circle cx="340.6" cy="956.7"/><circle cx="332.8" cy="956.1"/><circle cx="325.6" cy="958.3"/><circle cx="309.8" cy="959.8"/><circle cx="313.7" cy="968.3"/><circle cx="288.1" cy="968.9"/><circle cx="292.8" cy="979.4"/><circle cx="283.1" cy="990.6"/><circle cx="303.3" cy="983.9"/><circle cx="331.7" cy="968.9"/><circle cx="348.9" cy="972.8"/><circle cx="393.3" cy="981.7"/><circle cx="412.8" cy="980.6"/><circle cx="448.9" cy="983.9"/></g>
<g fill="#00ff00"><circle cx="498.3" cy="920.9"/><circle cx="517.2" cy="921.4"/><circle cx="521.4" cy="917.0"/></g>
<g fill="#000080"><circle cx="646.1" cy="966.1"/></g>
<g fill="#87cefa"><circle cx="527.0" cy="936.4"/></g>
<g fill="#000080"><circle cx="497.8" cy="941.1"/><circle cx="503.3" cy="941.7"/><circle cx="512.2" cy="940.6"/><circle cx="518.1" cy="942.6"/><circle cx="533.3" cy="945.0"/><circle cx="537.0" cy="950.3"/><circle cx="509.8" cy="956.4"/><circle cx="501.4" cy="958.7"/><circle cx="493.0" cy="960.0"/><circle cx="495.9" cy="968.9"/><circle cx="503.7" cy="968.6"/><circle cx="519.4" cy="963.9"/></g>
<g fill="#87cefa"><circle cx="531.1" cy="961.4"/></g>
<g fill="#000080"><circle cx="516.7" cy="970.6"/><circle cx="537.8" cy="967.8"/><circle cx="540.0" cy="972.8"/><circle cx="533.1" cy="980.0"/></g>
<g fill="#87cefa"><circle cx="536.1" cy="989.4"/></g>
<g fill="#000080"><circle cx="611.7" cy="968.3"/><circle cx="628.9" cy="982.2"/><circle cx="635.6" cy="977.8"/></g>
</g>
<path d="M522.6 772.7L527.6 777.7L522.6 782.7L517.6 777.7Z" fill="#9632c8" stroke="#333" stroke-width="3.1" stroke-linejoin="miter"/>
<rect x="73.10" y="728.9" width="59.8" height="142" fill="#fff" stroke="#4d4d4d" stroke-width="2.7"/>
<rect x="81.40" y="753.40" width="14" height="22.06" fill="#ff0000" stroke="#4d4d4d" stroke-width="2.6"/>
<rect x="81.40" y="775.46" width="14" height="22.06" fill="#ffa500" stroke="#4d4d4d" stroke-width="2.6"/>
<rect x="81.40" y="797.52" width="14" height="22.06" fill="#00ff00" stroke="#4d4d4d" stroke-width="2.6"/>
<rect x="81.40" y="819.58" width="14" height="22.06" fill="#87cefa" stroke="#4d4d4d" stroke-width="2.6"/>
<rect x="81.40" y="841.64" width="14" height="22.06" fill="#000080" stroke="#4d4d4d" stroke-width="2.6"/>
<text x="106.40" y="780.06" font-size="14.9" fill="#4d4d4d" textLength="21.4" lengthAdjust="spacingAndGlyphs">0.8</text>
<text x="106.40" y="802.12" font-size="14.9" fill="#4d4d4d" textLength="21.4" lengthAdjust="spacingAndGlyphs">0.6</text>
<text x="106.40" y="824.18" font-size="14.9" fill="#4d4d4d" textLength="21.4" lengthAdjust="spacingAndGlyphs">0.4</text>
<text x="106.40" y="846.24" font-size="14.9" fill="#4d4d4d" textLength="21.4" lengthAdjust="spacingAndGlyphs">0.2</text>
<path d="M95.40 775.46H103.20M95.40 797.52H103.20M95.40 819.58H103.20M95.40 841.64H103.20" fill="none" stroke="#4d4d4d" stroke-width="2.5" stroke-linecap="round"/>
<text x="93.00" y="748.40" font-size="20" fill="#4d4d4d">r</text>
<text x="102.30" y="740.80" font-size="12" fill="#4d4d4d">2</text>
<text x="511.80" y="768.30" font-size="19" fill="#000" text-anchor="middle">rs823121</text>
<path d="M71.9 1038.3H75.2V1053.9H71.9ZM100.2 1038.3H105.6V1053.9H100.2ZM107.2 1038.3H109.8V1053.9H107.2ZM123.0 1038.3H126.3V1053.9H123.0ZM135.2 1038.3H139.7V1053.9H135.2ZM150.9 1038.3H153.6V1053.9H150.9ZM155.9 1038.3H163.7V1053.9H155.9ZM167.2 1038.3H171.7V1053.9H167.2ZM177.0 1038.3H179.8V1053.9H177.0ZM184.1 1038.3H186.7V1053.9H184.1ZM189.1 1038.3H191.9V1053.9H189.1ZM198.1 1038.3H209.8V1053.9H198.1ZM214.2 1038.3H216.9V1053.9H214.2ZM224.2 1038.3H226.7V1053.9H224.2ZM227.6 1038.3H230.8V1053.9H227.6ZM259.2 1038.3H261.9V1053.9H259.2ZM283.9 1038.3H286.7V1053.9H283.9ZM289.8 1038.3H293.9V1053.9H289.8ZM295.8 1038.3H298.7V1053.9H295.8ZM324.1 1038.3H328.7V1053.9H324.1ZM338.0 1038.3H340.9V1053.9H338.0ZM344.1 1038.3H348.0V1053.9H344.1ZM352.4 1038.3H358.9V1053.9H352.4ZM365.8 1038.3H369.4V1053.9H365.8ZM385.2 1038.3H387.8V1053.9H385.2ZM394.7 1038.3H397.8V1053.9H394.7ZM399.2 1038.3H405.8V1053.9H399.2ZM407.2 1038.3H410.2V1053.9H407.2ZM430.8 1038.3H433.9V1053.9H430.8ZM450.2 1038.3H453.7V1053.9H450.2ZM466.1 1038.3H468.9V1053.9H466.1ZM488.9 1038.3H492.0V1053.9H488.9ZM516.7 1038.3H520.9V1053.9H516.7ZM535.3 1038.3H539.2V1053.9H535.3ZM542.2 1038.3H545.6V1053.9H542.2ZM548.0 1038.3H550.9V1053.9H548.0ZM563.3 1038.3H567.2V1053.9H563.3ZM577.8 1038.3H581.4V1053.9H577.8ZM583.6 1038.3H586.4V1053.9H583.6ZM590.9 1038.3H593.9V1053.9H590.9ZM637.2 1038.3H640.0V1053.9H637.2ZM641.1 1038.3H645.0V1053.9H641.1ZM648.1 1038.3H651.1V1053.9H648.1ZM652.0 1038.3H655.0V1053.9H652.0ZM71.9 1056.1H77.6V1071.7H71.9ZM100.2 1056.1H104.1V1071.7H100.2ZM106.1 1056.1H111.4V1071.7H106.1ZM114.2 1056.1H117.6V1071.7H114.2ZM123.0 1056.1H126.3V1071.7H123.0ZM133.0 1056.1H139.7V1071.7H133.0ZM140.9 1056.1H143.6V1071.7H140.9ZM150.0 1056.1H153.6V1071.7H150.0ZM155.9 1056.1H158.7V1071.7H155.9ZM168.9 1056.1H172.0V1071.7H168.9ZM177.0 1056.1H179.8V1071.7H177.0ZM184.1 1056.1H192.2V1071.7H184.1ZM198.4 1056.1H211.8V1071.7H198.4ZM214.2 1056.1H216.9V1071.7H214.2ZM225.1 1056.1H227.8V1071.7H225.1ZM243.9 1056.1H246.7V1071.7H243.9ZM259.2 1056.1H261.9V1071.7H259.2ZM289.8 1056.1H293.9V1071.7H289.8ZM304.7 1056.1H307.4V1071.7H304.7ZM318.6 1056.1H321.3V1071.7H318.6ZM324.1 1056.1H328.7V1071.7H324.1ZM331.4 1056.1H334.1V1071.7H331.4ZM338.0 1056.1H341.7V1071.7H338.0ZM352.4 1056.1H358.9V1071.7H352.4ZM402.2 1056.1H404.8V1071.7H402.2ZM407.2 1056.1H410.2V1071.7H407.2ZM431.1 1056.1H433.9V1071.7H431.1ZM451.1 1056.1H453.7V1071.7H451.1ZM458.6 1056.1H463.9V1071.7H458.6ZM466.1 1056.1H468.9V1071.7H466.1ZM482.0 1056.1H484.7V1071.7H482.0ZM487.2 1056.1H492.0V1071.7H487.2ZM511.7 1056.1H514.4V1071.7H511.7ZM517.0 1056.1H520.9V1071.7H517.0ZM536.1 1056.1H538.9V1071.7H536.1ZM542.2 1056.1H545.6V1071.7H542.2ZM548.0 1056.1H550.9V1071.7H548.0ZM562.8 1056.1H566.9V1071.7H562.8ZM590.9 1056.1H593.9V1071.7H590.9ZM637.2 1056.1H640.0V1071.7H637.2ZM641.1 1056.1H644.1V1071.7H641.1ZM71.9 1073.9H79.1V1089.5H71.9ZM87.2 1073.9H90.0V1089.5H87.2ZM90.6 1073.9H97.0V1089.5H90.6ZM108.6 1073.9H114.4V1089.5H108.6ZM117.8 1073.9H120.9V1089.5H117.8ZM121.7 1073.9H126.3V1089.5H121.7ZM134.2 1073.9H139.7V1089.5H134.2ZM150.9 1073.9H153.6V1089.5H150.9ZM155.9 1073.9H161.4V1089.5H155.9ZM167.2 1073.9H172.6V1089.5H167.2ZM177.2 1073.9H180.6V1089.5H177.2ZM183.3 1073.9H196.1V1089.5H183.3ZM198.4 1073.9H217.2V1089.5H198.4ZM218.7 1073.9H223.6V1089.5H218.7ZM226.3 1073.9H231.3V1089.5H226.3ZM236.2 1073.9H246.7V1089.5H236.2ZM255.0 1073.9H257.8V1089.5H255.0ZM259.2 1073.9H261.9V1089.5H259.2ZM276.4 1073.9H280.0V1089.5H276.4ZM283.9 1073.9H286.7V1089.5H283.9ZM289.8 1073.9H302.2V1089.5H289.8ZM304.7 1073.9H307.4V1089.5H304.7ZM312.6 1073.9H321.3V1089.5H312.6ZM323.7 1073.9H332.6V1089.5H323.7ZM335.2 1073.9H358.9V1089.5H335.2ZM360.0 1073.9H369.2V1089.5H360.0ZM385.2 1073.9H387.8V1089.5H385.2ZM389.8 1073.9H392.6V1089.5H389.8ZM395.0 1073.9H397.8V1089.5H395.0ZM399.2 1073.9H412.2V1089.5H399.2ZM416.1 1073.9H425.0V1089.5H416.1ZM425.9 1073.9H433.9V1089.5H425.9ZM450.2 1073.9H453.7V1089.5H450.2ZM454.8 1073.9H470.0V1089.5H454.8ZM472.0 1073.9H496.4V1089.5H472.0ZM500.0 1073.9H508.7V1089.5H500.0ZM510.2 1073.9H523.3V1089.5H510.2ZM530.2 1073.9H550.9V1089.5H530.2ZM558.1 1073.9H567.4V1089.5H558.1ZM571.9 1073.9H577.4V1089.5H571.9ZM585.3 1073.9H588.7V1089.5H585.3ZM590.6 1073.9H593.9V1089.5H590.6ZM597.0 1073.9H599.8V1089.5H597.0ZM609.2 1073.9H612.2V1089.5H609.2ZM633.1 1073.9H645.0V1089.5H633.1ZM664.1 1073.9H667.6V1089.5H664.1ZM71.9 1091.7H74.8V1107.3H71.9ZM103.0 1091.7H117.6V1107.3H103.0ZM122.8 1091.7H126.3V1107.3H122.8ZM134.2 1091.7H139.7V1107.3H134.2ZM147.2 1091.7H150.2V1107.3H147.2ZM150.9 1091.7H153.6V1107.3H150.9ZM155.9 1091.7H158.7V1107.3H155.9ZM168.9 1091.7H173.6V1107.3H168.9ZM177.2 1091.7H181.9V1107.3H177.2ZM183.0 1091.7H196.1V1107.3H183.0ZM198.1 1091.7H218.7V1107.3H198.1ZM220.6 1091.7H226.7V1107.3H220.6ZM228.0 1091.7H230.8V1107.3H228.0ZM259.2 1091.7H261.9V1107.3H259.2ZM269.1 1091.7H271.7V1107.3H269.1ZM283.9 1091.7H286.7V1107.3H283.9ZM289.8 1091.7H300.9V1107.3H289.8ZM304.7 1091.7H307.4V1107.3H304.7ZM318.6 1091.7H321.3V1107.3H318.6ZM324.1 1091.7H328.7V1107.3H324.1ZM331.4 1091.7H334.1V1107.3H331.4ZM338.0 1091.7H342.8V1107.3H338.0ZM352.4 1091.7H364.2V1107.3H352.4ZM366.4 1091.7H369.4V1107.3H366.4ZM377.2 1091.7H379.8V1107.3H377.2ZM381.4 1091.7H405.0V1107.3H381.4ZM407.2 1091.7H412.0V1107.3H407.2ZM416.1 1091.7H418.9V1107.3H416.1ZM420.0 1091.7H422.8V1107.3H420.0ZM431.1 1091.7H433.9V1107.3H431.1ZM450.2 1091.7H470.0V1107.3H450.2ZM486.9 1091.7H495.3V1107.3H486.9ZM500.3 1091.7H503.3V1107.3H500.3ZM505.6 1091.7H511.1V1107.3H505.6ZM512.0 1091.7H520.9V1107.3H512.0ZM536.1 1091.7H538.9V1107.3H536.1ZM541.7 1091.7H545.6V1107.3H541.7ZM546.1 1091.7H550.9V1107.3H546.1ZM555.0 1091.7H557.8V1107.3H555.0ZM563.1 1091.7H566.9V1107.3H563.1ZM590.9 1091.7H593.9V1107.3H590.9ZM637.2 1091.7H645.0V1107.3H637.2ZM652.4 1091.7H655.8V1107.3H652.4ZM71.9 1109.5H74.8V1125.1H71.9ZM103.0 1109.5H117.6V1125.1H103.0ZM122.8 1109.5H126.3V1125.1H122.8ZM134.2 1109.5H139.7V1125.1H134.2ZM147.2 1109.5H150.2V1125.1H147.2ZM150.9 1109.5H153.6V1125.1H150.9ZM155.9 1109.5H158.7V1125.1H155.9ZM168.0 1109.5H173.6V1125.1H168.0ZM177.2 1109.5H181.9V1125.1H177.2ZM184.1 1109.5H192.2V1125.1H184.1ZM193.3 1109.5H196.4V1125.1H193.3ZM198.1 1109.5H218.7V1125.1H198.1ZM220.0 1109.5H223.1V1125.1H220.0ZM228.0 1109.5H230.8V1125.1H228.0ZM243.9 1109.5H246.7V1125.1H243.9ZM259.2 1109.5H261.9V1125.1H259.2ZM269.1 1109.5H271.7V1125.1H269.1ZM283.9 1109.5H286.7V1125.1H283.9ZM289.8 1109.5H300.9V1125.1H289.8ZM304.7 1109.5H307.4V1125.1H304.7ZM318.6 1109.5H321.3V1125.1H318.6ZM324.1 1109.5H328.7V1125.1H324.1ZM331.4 1109.5H334.1V1125.1H331.4ZM338.0 1109.5H341.7V1125.1H338.0ZM346.4 1109.5H349.1V1125.1H346.4ZM352.4 1109.5H358.9V1125.1H352.4ZM361.3 1109.5H369.4V1125.1H361.3ZM381.4 1109.5H405.0V1125.1H381.4ZM407.2 1109.5H412.0V1125.1H407.2ZM429.4 1109.5H433.9V1125.1H429.4ZM450.2 1109.5H455.8V1125.1H450.2ZM459.8 1109.5H463.9V1125.1H459.8ZM465.3 1109.5H470.0V1125.1H465.3ZM486.9 1109.5H492.0V1125.1H486.9ZM505.9 1109.5H508.7V1125.1H505.9ZM513.0 1109.5H520.9V1125.1H513.0ZM535.3 1109.5H538.9V1125.1H535.3ZM542.0 1109.5H545.6V1125.1H542.0ZM548.0 1109.5H550.9V1125.1H548.0ZM562.0 1109.5H566.9V1125.1H562.0ZM573.1 1109.5H576.1V1125.1H573.1ZM590.6 1109.5H593.9V1125.1H590.6ZM605.9 1109.5H608.7V1125.1H605.9ZM621.1 1109.5H624.4V1125.1H621.1ZM637.2 1109.5H644.2V1125.1H637.2ZM652.8 1109.5H655.8V1125.1H652.8ZM659.1 1109.5H662.2V1125.1H659.1ZM663.1 1109.5H666.7V1125.1H663.1ZM71.9 1127.3H74.8V1142.9H71.9ZM97.0 1127.3H99.7V1142.9H97.0ZM108.6 1127.3H112.0V1142.9H108.6ZM114.4 1127.3H117.6V1142.9H114.4ZM122.8 1127.3H126.3V1142.9H122.8ZM134.2 1127.3H139.7V1142.9H134.2ZM155.9 1127.3H158.7V1142.9H155.9ZM166.1 1127.3H173.9V1142.9H166.1ZM175.3 1127.3H217.0V1142.9H175.3ZM223.6 1127.3H226.7V1142.9H223.6ZM228.0 1127.3H230.8V1142.9H228.0ZM236.3 1127.3H239.4V1142.9H236.3ZM259.2 1127.3H261.9V1142.9H259.2ZM283.9 1127.3H286.7V1142.9H283.9ZM289.8 1127.3H301.1V1142.9H289.8ZM302.2 1127.3H307.2V1142.9H302.2ZM318.6 1127.3H321.3V1142.9H318.6ZM323.7 1127.3H328.7V1142.9H323.7ZM331.4 1127.3H334.1V1142.9H331.4ZM338.0 1127.3H358.9V1142.9H338.0ZM361.3 1127.3H364.2V1142.9H361.3ZM366.4 1127.3H369.4V1142.9H366.4ZM381.4 1127.3H388.7V1142.9H381.4ZM389.8 1127.3H405.8V1142.9H389.8ZM406.4 1127.3H412.0V1142.9H406.4ZM415.6 1127.3H419.8V1142.9H415.6ZM430.8 1127.3H433.9V1142.9H430.8ZM450.2 1127.3H453.7V1142.9H450.2ZM455.2 1127.3H457.8V1142.9H455.2ZM460.9 1127.3H463.9V1142.9H460.9ZM466.1 1127.3H470.0V1142.9H466.1ZM488.9 1127.3H492.0V1142.9H488.9ZM506.1 1127.3H509.1V1142.9H506.1ZM513.0 1127.3H520.9V1142.9H513.0ZM535.3 1127.3H539.2V1142.9H535.3ZM541.7 1127.3H545.6V1142.9H541.7ZM548.0 1127.3H550.9V1142.9H548.0ZM561.3 1127.3H567.2V1142.9H561.3ZM573.3 1127.3H576.1V1142.9H573.3ZM590.9 1127.3H593.9V1142.9H590.9ZM621.1 1127.3H624.1V1142.9H621.1ZM633.1 1127.3H635.9V1142.9H633.1ZM637.2 1127.3H645.0V1142.9H637.2ZM652.8 1127.3H655.8V1142.9H652.8ZM71.9 1145.1H74.8V1160.7H71.9ZM108.6 1145.1H111.3V1160.7H108.6ZM122.8 1145.1H126.3V1160.7H122.8ZM134.2 1145.1H139.7V1160.7H134.2ZM147.6 1145.1H153.6V1160.7H147.6ZM155.9 1145.1H158.7V1160.7H155.9ZM166.4 1145.1H175.6V1160.7H166.4ZM178.0 1145.1H180.6V1160.7H178.0ZM182.6 1145.1H196.7V1160.7H182.6ZM198.1 1145.1H217.2V1160.7H198.1ZM220.6 1145.1H223.3V1160.7H220.6ZM228.0 1145.1H230.8V1160.7H228.0ZM236.3 1145.1H239.4V1160.7H236.3ZM259.2 1145.1H261.9V1160.7H259.2ZM289.8 1145.1H297.0V1160.7H289.8ZM298.1 1145.1H300.8V1160.7H298.1ZM304.7 1145.1H307.4V1160.7H304.7ZM318.6 1145.1H321.3V1160.7H318.6ZM324.1 1145.1H328.7V1160.7H324.1ZM338.0 1145.1H341.7V1160.7H338.0ZM356.1 1145.1H358.9V1160.7H356.1ZM385.2 1145.1H388.7V1160.7H385.2ZM390.6 1145.1H392.6V1160.7H390.6ZM395.0 1145.1H404.8V1160.7H395.0ZM407.2 1145.1H412.0V1160.7H407.2ZM415.2 1145.1H422.8V1160.7H415.2ZM428.9 1145.1H433.9V1160.7H428.9ZM450.2 1145.1H453.7V1160.7H450.2ZM460.6 1145.1H463.9V1160.7H460.6ZM466.1 1145.1H470.0V1160.7H466.1ZM481.3 1145.1H484.7V1160.7H481.3ZM488.9 1145.1H492.0V1160.7H488.9ZM500.3 1145.1H503.3V1160.7H500.3ZM506.1 1145.1H509.1V1160.7H506.1ZM513.0 1145.1H515.9V1160.7H513.0ZM517.0 1145.1H520.9V1160.7H517.0ZM536.1 1145.1H538.9V1160.7H536.1ZM541.7 1145.1H545.6V1160.7H541.7ZM548.0 1145.1H550.9V1160.7H548.0ZM555.0 1145.1H557.8V1160.7H555.0ZM562.8 1145.1H566.9V1160.7H562.8ZM573.1 1145.1H576.1V1160.7H573.1ZM590.9 1145.1H593.9V1160.7H590.9ZM633.1 1145.1H635.9V1160.7H633.1ZM637.2 1145.1H640.0V1160.7H637.2ZM641.1 1145.1H644.1V1160.7H641.1ZM652.8 1145.1H655.8V1160.7H652.8ZM71.9 1162.9H74.8V1178.5H71.9ZM123.0 1162.9H126.3V1178.5H123.0ZM135.2 1162.9H138.0V1178.5H135.2ZM155.9 1162.9H158.7V1178.5H155.9ZM168.9 1162.9H171.4V1178.5H168.9ZM177.0 1162.9H181.9V1178.5H177.0ZM189.1 1162.9H191.9V1178.5H189.1ZM198.1 1162.9H206.9V1178.5H198.1ZM214.2 1162.9H216.9V1178.5H214.2ZM291.1 1162.9H293.9V1178.5H291.1ZM325.9 1162.9H328.7V1178.5H325.9ZM338.0 1162.9H340.9V1178.5H338.0ZM390.0 1162.9H392.8V1178.5H390.0ZM395.0 1162.9H397.8V1178.5H395.0ZM402.0 1162.9H404.8V1178.5H402.0ZM408.9 1162.9H414.2V1178.5H408.9ZM431.1 1162.9H433.9V1178.5H431.1ZM450.9 1162.9H453.7V1178.5H450.9ZM517.0 1162.9H520.9V1178.5H517.0ZM535.3 1162.9H538.9V1178.5H535.3ZM542.4 1162.9H545.3V1178.5H542.4ZM548.0 1162.9H550.9V1178.5H548.0ZM563.7 1162.9H566.9V1178.5H563.7ZM568.1 1162.9H570.8V1178.5H568.1ZM577.6 1162.9H580.9V1178.5H577.6ZM583.6 1162.9H586.7V1178.5H583.6ZM637.2 1162.9H640.0V1178.5H637.2ZM641.1 1162.9H644.1V1178.5H641.1ZM662.2 1162.9H665.6V1178.5H662.2Z" fill="#ff3030"/>
<rect x="65.60" y="1037.30" width="659.60" height="142.20" fill="none" stroke="#4d4d4d" stroke-width="2.8"/>
<text x="732.20" y="1051.30" font-size="19.3" fill="#000">Endo</text>
<text x="732.20" y="1069.10" font-size="19.3" fill="#000">Podo</text>
<text x="732.20" y="1086.90" font-size="19.3" fill="#000">PT</text>
<text x="732.20" y="1104.70" font-size="19.3" fill="#000">LOH</text>
<text x="732.20" y="1122.50" font-size="19.3" fill="#000">DCT</text>
<text x="732.20" y="1140.30" font-size="19.3" fill="#000">PC</text>
<text x="732.20" y="1158.10" font-size="19.3" fill="#000">IC</text>
<text x="732.20" y="1175.90" font-size="19.3" fill="#000">Immune</text>
<text x="85.00" y="1203.70" font-size="15.5" fill="#000" font-style="italic" textLength="53.4" lengthAdjust="spacingAndGlyphs">DSTYK</text>
<path d="M76.4 1199.2H84.4" stroke="#000" stroke-width="2.5" fill="none"/><path d="M70.0 1199.2L77.4 1195.7V1202.7Z" fill="#000"/>
<text x="184.10" y="1203.70" font-size="15.5" fill="#000" font-style="italic" textLength="51.9" lengthAdjust="spacingAndGlyphs">NUAK2</text>
<path d="M175.0 1199.2H183.5" stroke="#000" stroke-width="2.5" fill="none"/><path d="M168.6 1199.2L176.0 1195.7V1202.7Z" fill="#000"/>
<text x="275.70" y="1203.70" font-size="15.5" fill="#000" font-style="italic" textLength="66.8" lengthAdjust="spacingAndGlyphs">BLACAT1</text>
<path d="M266.9 1199.2H275.4" stroke="#000" stroke-width="2.5" fill="none"/><path d="M260.5 1199.2L267.9 1195.7V1202.7Z" fill="#000"/>
<text x="354.20" y="1203.70" font-size="15.5" fill="#000" font-style="italic" textLength="62.5" lengthAdjust="spacingAndGlyphs">MFSD4A</text>
<path d="M418.0 1199.2H426.5" stroke="#000" stroke-width="2.5" fill="none"/><path d="M432.9 1199.2L425.5 1195.7V1202.7Z" fill="#000"/>
<text x="486.50" y="1203.70" font-size="15.5" fill="#000" font-style="italic" textLength="63.6" lengthAdjust="spacingAndGlyphs">NUCKS1</text>
<path d="M477.5 1199.2H485.9" stroke="#000" stroke-width="2.5" fill="none"/><path d="M471.1 1199.2L478.5 1195.7V1202.7Z" fill="#000"/>
<text x="566.00" y="1203.70" font-size="15.5" fill="#000" font-style="italic" textLength="61.5" lengthAdjust="spacingAndGlyphs">PM20D1</text>
<path d="M557.4 1199.2H565.5" stroke="#000" stroke-width="2.5" fill="none"/><path d="M551.0 1199.2L558.4 1195.7V1202.7Z" fill="#000"/>
<text x="113.60" y="1232.20" font-size="15.5" fill="#000" font-style="italic" textLength="53.4" lengthAdjust="spacingAndGlyphs">TMCC2</text>
<path d="M168.6 1227.7H177.7" stroke="#000" stroke-width="2.5" fill="none"/><path d="M184.1 1227.7L176.7 1224.2V1231.2Z" fill="#000"/>
<text x="187.20" y="1232.20" font-size="15.5" fill="#000" font-style="italic" textLength="90.8" lengthAdjust="spacingAndGlyphs">LEMD1−AS1</text>
<path d="M278.3 1227.7H287.4" stroke="#000" stroke-width="2.5" fill="none"/><path d="M293.8 1227.7L286.4 1224.2V1231.2Z" fill="#000"/>
<text x="310.30" y="1232.20" font-size="15.5" fill="#000" font-style="italic" textLength="50.8" lengthAdjust="spacingAndGlyphs">CDK18</text>
<path d="M363.2 1227.7H372.3" stroke="#000" stroke-width="2.5" fill="none"/><path d="M378.7 1227.7L371.3 1224.2V1231.2Z" fill="#000"/>
<text x="415.40" y="1232.20" font-size="15.5" fill="#000" font-style="italic" textLength="38.1" lengthAdjust="spacingAndGlyphs">ELK4</text>
<path d="M405.8 1227.7H414.3" stroke="#000" stroke-width="2.5" fill="none"/><path d="M399.4 1227.7L406.8 1224.2V1231.2Z" fill="#000"/>
<text x="521.90" y="1232.20" font-size="15.5" fill="#000" font-style="italic" textLength="49.4" lengthAdjust="spacingAndGlyphs">RAB29</text>
<path d="M512.4 1227.7H520.9" stroke="#000" stroke-width="2.5" fill="none"/><path d="M506.0 1227.7L513.4 1224.2V1231.2Z" fill="#000"/>
<text x="629.70" y="1232.20" font-size="15.5" fill="#000" font-style="italic" textLength="66.8" lengthAdjust="spacingAndGlyphs">SLC26A9</text>
<path d="M619.6 1227.7H628.7" stroke="#000" stroke-width="2.5" fill="none"/><path d="M613.2 1227.7L620.6 1224.2V1231.2Z" fill="#000"/>
<text x="201.50" y="1260.70" font-size="15.5" fill="#000" font-style="italic" textLength="72.2" lengthAdjust="spacingAndGlyphs">KLHDC8A</text>
<path d="M192.4 1256.2H200.9" stroke="#000" stroke-width="2.5" fill="none"/><path d="M186.0 1256.2L193.4 1252.7V1259.7Z" fill="#000"/>
<text x="349.50" y="1260.70" font-size="15.5" fill="#000" font-style="italic" textLength="84.9" lengthAdjust="spacingAndGlyphs">LOC284578</text>
<path d="M340.5 1256.2H349.0" stroke="#000" stroke-width="2.5" fill="none"/><path d="M334.1 1256.2L341.5 1252.7V1259.7Z" fill="#000"/>
<text x="537.00" y="1260.70" font-size="15.5" fill="#000" font-style="italic" textLength="66.1" lengthAdjust="spacingAndGlyphs">SLC41A1</text>
<path d="M526.7 1256.2H535.8" stroke="#000" stroke-width="2.5" fill="none"/><path d="M520.3 1256.2L527.7 1252.7V1259.7Z" fill="#000"/>
<text x="249.80" y="1289.20" font-size="15.5" fill="#000" font-style="italic" textLength="51.9" lengthAdjust="spacingAndGlyphs">LEMD1</text>
<path d="M240.4 1284.7H248.8" stroke="#000" stroke-width="2.5" fill="none"/><path d="M234.0 1284.7L241.4 1281.2V1288.2Z" fill="#000"/>
<text x="439.80" y="1289.20" font-size="15.5" fill="#000" font-style="italic" textLength="67.4" lengthAdjust="spacingAndGlyphs">SLC45A3</text>
<path d="M430.2 1284.7H438.8" stroke="#000" stroke-width="2.5" fill="none"/><path d="M423.8 1284.7L431.2 1281.2V1288.2Z" fill="#000"/>
<text x="555.40" y="1289.20" font-size="15.5" fill="#000" font-style="italic" textLength="84.8" lengthAdjust="spacingAndGlyphs">LOC284581</text>
<path d="M641.2 1284.7H649.9" stroke="#000" stroke-width="2.5" fill="none"/><path d="M656.3 1284.7L648.9 1281.2V1288.2Z" fill="#000"/>
<text x="278.90" y="1317.70" font-size="15.5" fill="#000" font-style="italic" textLength="65.7" lengthAdjust="spacingAndGlyphs">MIR135B</text>
<path d="M269.4 1313.2H277.9" stroke="#000" stroke-width="2.5" fill="none"/><path d="M263.0 1313.2L270.4 1309.7V1316.7Z" fill="#000"/>
<path d="M72.8 1209.2H125.8M189.9 1209.2H206.2M287.4 1209.2H304.8M385.5 1209.2H412.6M490.2 1209.2H520.3M575.0 1209.2H593.5M135.8 1237.7H171.2M241.8 1237.7H254.6M338.4 1237.7H360.6M413.8 1237.7H433.9M530.5 1237.7H539.0M637.2 1237.7H661.3M214.7 1266.2H232.7M374.6 1266.2H378.6M546.4 1266.2H566.5M247.8 1294.7H280.0M450.3 1294.7H469.4M599.8 1294.7H627.0M296.8 1323.2H299.4" stroke="#000080" stroke-width="2" fill="none"/>
<path d="M72.8 1205.9H81.7V1212.5H72.8ZM84.2 1205.9H91.2V1212.5H84.2ZM92.6 1205.9H94.2V1212.5H92.6ZM106.3 1205.9H108.0V1212.5H106.3ZM124.6 1205.9H125.8V1212.5H124.6ZM189.9 1205.9H199.5V1212.5H189.9ZM204.2 1205.9H206.2V1212.5H204.2ZM287.4 1205.9H289.2V1212.5H287.4ZM303.2 1205.9H304.8V1212.5H303.2ZM385.5 1205.9H387.0V1212.5H385.5ZM393.5 1205.9H398.5V1212.5H393.5ZM399.5 1205.9H401.5V1212.5H399.5ZM405.5 1205.9H412.6V1212.5H405.5ZM490.2 1205.9H504.0V1212.5H490.2ZM518.8 1205.9H520.3V1212.5H518.8ZM575.0 1205.9H580.3V1212.5H575.0ZM583.5 1205.9H593.5V1212.5H583.5ZM135.8 1234.4H139.0V1241.0H135.8ZM146.4 1234.4H148.0V1241.0H146.4ZM149.5 1234.4H151.6V1241.0H149.5ZM156.2 1234.4H158.6V1241.0H156.2ZM165.5 1234.4H171.2V1241.0H165.5ZM241.8 1234.4H244.0V1241.0H241.8ZM245.5 1234.4H247.5V1241.0H245.5ZM248.5 1234.4H254.6V1241.0H248.5ZM338.4 1234.4H340.0V1241.0H338.4ZM351.0 1234.4H360.6V1241.0H351.0ZM413.8 1234.4H428.0V1241.0H413.8ZM431.8 1234.4H433.9V1241.0H431.8ZM530.5 1234.4H539.0V1241.0H530.5ZM637.2 1234.4H655.5V1241.0H637.2ZM659.8 1234.4H661.3V1241.0H659.8ZM214.7 1262.9H221.5V1269.5H214.7ZM222.5 1262.9H225.5V1269.5H222.5ZM229.5 1262.9H232.7V1269.5H229.5ZM374.6 1262.9H378.6V1269.5H374.6ZM546.4 1262.9H555.5V1269.5H546.4ZM562.0 1262.9H566.5V1269.5H562.0ZM247.8 1291.4H252.3V1298.0H247.8ZM273.5 1291.4H280.0V1298.0H273.5ZM450.3 1291.4H457.5V1298.0H450.3ZM467.8 1291.4H469.4V1298.0H467.8ZM599.8 1291.4H601.8V1298.0H599.8ZM621.5 1291.4H627.0V1298.0H621.5ZM296.8 1319.9H299.4V1326.5H296.8Z" fill="#000080"/>
<rect x="66.40" y="1189.50" width="657.50" height="140.70" fill="none" stroke="#4d4d4d" stroke-width="1.3"/>
<line x1="65.80" y1="1330.20" x2="724.50" y2="1330.20" stroke="#4d4d4d" stroke-width="2.7"/>
<path d="M138.50 1330.20V1340.40" stroke="#4d4d4d" stroke-width="2.7" stroke-linecap="round" fill="none"/>
<text x="142.10" y="1363.40" font-size="19" fill="#4d4d4d" text-anchor="middle">205.2</text>
<path d="M285.00 1330.20V1340.40" stroke="#4d4d4d" stroke-width="2.7" stroke-linecap="round" fill="none"/>
<text x="288.60" y="1363.40" font-size="19" fill="#4d4d4d" text-anchor="middle">205.4</text>
<path d="M431.40 1330.20V1340.40" stroke="#4d4d4d" stroke-width="2.7" stroke-linecap="round" fill="none"/>
<text x="435.00" y="1363.40" font-size="19" fill="#4d4d4d" text-anchor="middle">205.6</text>
<path d="M577.80 1330.20V1340.40" stroke="#4d4d4d" stroke-width="2.7" stroke-linecap="round" fill="none"/>
<text x="581.40" y="1363.40" font-size="19" fill="#4d4d4d" text-anchor="middle">205.8</text>
<path d="M723.90 1330.20V1340.40" stroke="#4d4d4d" stroke-width="2.7" stroke-linecap="round" fill="none"/>
<text x="727.50" y="1363.40" font-size="19" fill="#4d4d4d" text-anchor="middle">206</text>
<text x="415.90" y="1384.40" font-size="19.4" fill="#4d4d4d" text-anchor="middle">Position on chr1 (Mb)</text>
<text x="805.00" y="695.50" font-size="46" fill="#000" font-weight="bold">c</text>
<rect x="867.40" y="722.00" width="1102.70" height="220.10" fill="none" stroke="#4d4d4d" stroke-width="1.3"/>
<text x="851.60" y="937.70" font-size="19" fill="#4d4d4d" text-anchor="end">0</text>
<text x="851.60" y="897.40" font-size="19" fill="#4d4d4d" text-anchor="end">2</text>
<text x="851.60" y="857.10" font-size="19" fill="#4d4d4d" text-anchor="end">4</text>
<text x="851.60" y="816.80" font-size="19" fill="#4d4d4d" text-anchor="end">6</text>
<text x="851.60" y="776.50" font-size="19" fill="#4d4d4d" text-anchor="end">8</text>
<text x="854.00" y="736.20" font-size="19" fill="#4d4d4d" text-anchor="end">10</text>
<path d="M867.40 932.60V731.10M867.40 932.60H857.20M867.40 892.30H857.20M867.40 852.00H857.20M867.40 811.70H857.20M867.40 771.40H857.20M867.40 731.10H857.20" fill="none" stroke="#4d4d4d" stroke-width="2.7" stroke-linecap="round"/>
<text x="1990.00" y="937.10" font-size="19" fill="#3333ff">0</text>
<text x="1990.00" y="896.80" font-size="19" fill="#3333ff">20</text>
<text x="1990.00" y="856.50" font-size="19" fill="#3333ff">40</text>
<text x="1990.00" y="816.20" font-size="19" fill="#3333ff">60</text>
<text x="1990.00" y="775.90" font-size="19" fill="#3333ff">80</text>
<text x="1990.00" y="735.60" font-size="19" fill="#3333ff">100</text>
<path d="M1971.20 932.60V731.10M1971.20 932.60H1980.10M1971.20 892.30H1980.10M1971.20 852.00H1980.10M1971.20 811.70H1980.10M1971.20 771.40H1980.10M1971.20 731.10H1980.10" fill="none" stroke="#3333ff" stroke-width="2.7" stroke-linecap="round"/>
<text x="828.50" y="832.40" font-size="22.2" fill="#4d4d4d" text-anchor="middle" transform="rotate(-90 828.50 832.40)" textLength="163.5" lengthAdjust="spacingAndGlyphs">−log<tspan font-size="17" dy="4.5">10</tspan><tspan dy="-4.5">(p−value)</tspan></text>
<text x="2033.30" y="845.60" font-size="20" fill="#3333ff" text-anchor="middle" transform="rotate(90 2033.30 845.60)" textLength="246.5" lengthAdjust="spacingAndGlyphs">Recombination rate (cM/Mb)</text>
<path d="M867.4 932.6H1240L1258 932.1L1266 934.1L1274 932.6H1435L1436 930.1L1437 932.6H1951.6L1952.1 838L1952.6 932.6" fill="none" stroke="#3333ff" stroke-width="5.6" stroke-linejoin="round" stroke-linecap="butt"/>
<path d="M867.0 935.6L867.0 926.0L870.0 925.1L873.0 924.3L876.0 923.5L879.0 923.3L882.0 923.3L885.0 923.4L888.0 923.5L891.0 923.5L894.0 923.5L897.0 923.3L900.0 923.1L903.0 922.9L906.0 922.5L909.0 921.9L912.0 922.2L915.0 922.8L918.0 923.4L921.0 924.0L924.0 924.4L927.0 924.9L930.0 925.4L933.0 925.7L936.0 925.7L939.0 925.6L942.0 925.6L945.0 925.5L948.0 925.4L951.0 925.5L954.0 925.6L957.0 925.7L960.0 925.8L963.0 925.0L966.0 924.2L969.0 923.4L972.0 922.7L975.0 921.9L978.0 921.4L981.0 921.6L984.0 921.8L987.0 922.0L990.0 921.8L993.0 921.2L996.0 920.7L999.0 920.2L1002.0 920.2L1005.0 920.1L1008.0 920.1L1011.0 920.0L1014.0 920.0L1017.0 920.0L1020.0 920.1L1023.0 920.1L1026.0 920.2L1029.0 920.4L1032.0 920.6L1035.0 920.8L1038.0 921.0L1041.0 921.3L1044.0 921.6L1047.0 921.9L1050.0 922.3L1053.0 922.9L1056.0 923.5L1059.0 924.1L1062.0 923.8L1065.0 923.0L1068.0 922.2L1071.0 921.4L1074.0 920.3L1077.0 920.4L1080.0 921.1L1083.0 921.5L1086.0 921.7L1089.0 921.9L1092.0 922.1L1095.0 921.8L1098.0 921.5L1101.0 921.2L1104.0 921.0L1107.0 921.1L1110.0 921.2L1113.0 921.3L1116.0 921.5L1119.0 921.7L1122.0 921.8L1125.0 922.0L1128.0 922.1L1131.0 922.1L1134.0 922.1L1137.0 922.1L1140.0 922.4L1143.0 922.7L1146.0 923.0L1149.0 923.3L1152.0 923.6L1155.0 923.9L1158.0 924.2L1161.0 924.0L1164.0 923.6L1167.0 923.2L1170.0 922.8L1173.0 923.2L1176.0 923.6L1179.0 924.0L1182.0 924.2L1185.0 923.8L1188.0 923.4L1191.0 923.0L1194.0 922.9L1197.0 923.0L1200.0 923.1L1203.0 923.2L1206.0 923.4L1209.0 923.6L1212.0 923.8L1215.0 924.1L1218.0 924.6L1221.0 925.0L1224.0 925.5L1227.0 925.8L1230.0 925.8L1233.0 925.8L1236.0 925.8L1239.0 927.0L1242.0 928.9L1245.0 929.6L1248.0 930.3L1251.0 931.3L1254.0 932.2L1256.0 932.6L1256.0 935.6Z" fill="#333" stroke="#333" stroke-width="5" stroke-linejoin="round"/>
<path d="M1272.0 935.6L1272.0 932.6L1275.0 929.3L1278.0 927.5L1281.0 925.8L1284.0 926.0L1287.0 926.2L1290.0 926.4L1293.0 926.2L1296.0 925.8L1299.0 925.4L1302.0 925.0L1305.0 925.4L1308.0 925.8L1311.0 926.2L1314.0 926.4L1317.0 926.2L1320.0 926.0L1323.0 925.8L1326.0 925.6L1329.0 925.3L1332.0 925.0L1335.0 924.8L1338.0 924.7L1341.0 924.7L1344.0 924.7L1347.0 924.7L1350.0 925.3L1353.0 925.9L1356.0 926.5L1359.0 927.1L1362.0 927.8L1365.0 928.5L1368.0 927.9L1371.0 926.8L1374.0 925.8L1377.0 926.2L1380.0 926.7L1383.0 927.1L1386.0 927.6L1389.0 927.2L1392.0 926.8L1395.0 926.5L1398.0 926.2L1401.0 925.9L1404.0 925.5L1407.0 925.1L1410.0 924.7L1413.0 924.3L1416.0 923.7L1419.0 923.1L1422.0 922.5L1425.0 922.2L1428.0 922.7L1431.0 923.2L1434.0 923.6L1437.0 924.0L1440.0 924.1L1443.0 924.2L1446.0 924.3L1449.0 923.9L1452.0 923.3L1455.0 922.7L1458.0 922.1L1461.0 922.1L1464.0 922.1L1467.0 922.1L1470.0 922.2L1473.0 922.4L1476.0 922.6L1479.0 922.8L1482.0 922.6L1485.0 922.2L1488.0 921.8L1491.0 921.4L1494.0 920.7L1497.0 920.1L1500.0 919.5L1503.0 919.3L1506.0 919.3L1509.0 919.3L1512.0 919.3L1515.0 919.6L1518.0 919.8L1521.0 920.1L1524.0 920.2L1527.0 920.0L1530.0 919.8L1533.0 919.6L1536.0 919.6L1539.0 919.8L1542.0 920.0L1545.0 920.2L1548.0 920.0L1551.0 919.7L1554.0 919.3L1557.0 919.0L1560.0 919.3L1563.0 919.7L1566.0 920.0L1569.0 920.2L1572.0 920.0L1575.0 919.8L1578.0 919.6L1581.0 919.6L1584.0 919.8L1587.0 920.0L1590.0 920.2L1593.0 922.8L1596.0 925.3L1599.0 924.5L1602.0 923.9L1605.0 923.7L1608.0 923.5L1611.0 923.3L1614.0 922.8L1617.0 922.3L1620.0 921.7L1623.0 921.1L1626.0 920.5L1629.0 920.0L1632.0 920.5L1635.0 921.1L1638.0 921.7L1641.0 922.7L1644.0 924.5L1647.0 925.8L1650.0 925.8L1653.0 925.8L1656.0 925.8L1659.0 925.0L1662.0 923.9L1665.0 923.6L1668.0 924.8L1671.0 926.1L1674.0 927.2L1677.0 928.2L1680.0 929.3L1682.5 931.3L1682.5 935.6Z" fill="#333" stroke="#333" stroke-width="5" stroke-linejoin="round"/>
<path d="M1901.0 935.6L1901.0 930.6L1904.0 928.4L1907.0 926.9L1910.0 925.8L1913.0 924.8L1916.0 924.0L1919.0 923.2L1922.0 922.4L1925.0 922.6L1928.0 923.4L1931.0 924.2L1934.0 925.0L1937.0 924.8L1940.0 924.5L1943.0 924.2L1946.0 924.0L1949.0 921.2L1952.0 919.1L1955.0 918.4L1958.0 918.4L1961.0 919.8L1964.0 921.2L1967.0 922.7L1970.0 925.5L1971.5 927.3L1971.5 935.6Z" fill="#333" stroke="#333" stroke-width="5" stroke-linejoin="round"/>
<path class="o" d="M1679.4 928.9h0M918.2 929.8h0M1296.5 909.7h0M1017.6 915.8h0M1197.8 924.6h0M1067.1 923.2h0M1496.1 918.3h0M1128.5 920.2h0M1640.1 912.6h0M1584.8 892.7h0M1321.8 926.6h0M1556.2 912.5h0M1678.8 927.5h0M1111.8 932.5h0M1160.4 910.3h0M882.5 920.1h0M1310.3 920.8h0M1641.0 926.2h0M1430.2 925.5h0M898.1 920.1h0M1204.5 917.3h0M1278.9 922.2h0M944.4 929.2h0M1142.9 897.3h0M1010.6 929.3h0M1015.4 925.6h0M1624.3 911.7h0M1919.1 923.6h0M1552.8 927.3h0M1288.4 931.9h0"/><path class="i" stroke="#000080" d="M1296.5 909.7h0M1067.1 923.2h0M1640.1 912.6h0M1584.8 892.7h0M1556.2 912.5h0M1678.8 927.5h0M1160.4 910.3h0M882.5 920.1h0M1310.3 920.8h0M1430.2 925.5h0M898.1 920.1h0M1204.5 917.3h0M1278.9 922.2h0M1142.9 897.3h0M1010.6 929.3h0M1624.3 911.7h0M1919.1 923.6h0"/><path class="o" d="M1511.2 926.0h0M1329.0 926.4h0M925.4 913.3h0M1582.3 930.2h0M1935.5 929.4h0M1147.0 931.8h0M1552.1 926.9h0M991.0 896.9h0M1458.4 929.5h0M1235.0 926.0h0M1622.8 923.2h0M1636.1 913.2h0M1532.4 922.9h0M1480.9 918.2h0M950.3 921.1h0M1578.6 926.0h0M1520.1 932.0h0M1090.4 926.5h0M874.3 926.8h0M1622.7 899.8h0M1359.7 919.5h0M1355.3 921.5h0M1612.1 920.6h0M1134.4 910.2h0M1421.5 916.2h0M1331.9 922.9h0M1016.2 916.0h0M1160.3 927.9h0M1382.7 923.0h0M1019.8 921.7h0"/><path class="i" stroke="#000080" d="M1511.2 926.0h0M925.4 913.3h0M1582.3 930.2h0M1552.1 926.9h0M991.0 896.9h0M1622.8 923.2h0M950.3 921.1h0M1090.4 926.5h0M874.3 926.8h0M1622.7 899.8h0M1359.7 919.5h0M1355.3 921.5h0M1612.1 920.6h0M1134.4 910.2h0M1421.5 916.2h0M1331.9 922.9h0M1382.7 923.0h0"/><path class="o" d="M1964.9 923.8h0M1532.6 918.9h0M1537.2 930.1h0M1927.6 930.3h0M1177.9 932.3h0M1151.6 932.1h0M1330.6 923.5h0M1511.6 915.2h0M877.5 921.9h0M1166.4 908.3h0M1275.1 932.3h0M1176.8 926.1h0M937.3 920.9h0M1464.9 916.2h0M1045.0 913.8h0M1653.3 922.7h0M1464.2 931.6h0M922.6 924.6h0M1229.0 927.8h0M1003.5 915.3h0M933.8 922.8h0M884.5 919.8h0M1138.8 919.6h0M1615.5 929.5h0M1542.4 927.6h0M1450.3 916.7h0M1524.5 916.8h0M1278.9 927.2h0M881.2 919.2h0M1940.5 924.2h0"/><path class="i" stroke="#000080" d="M1964.9 923.8h0M1532.6 918.9h0M1537.2 930.1h0M1151.6 932.1h0M1330.6 923.5h0M1166.4 908.3h0M1176.8 926.1h0M937.3 920.9h0M1464.9 916.2h0M1045.0 913.8h0M1653.3 922.7h0M922.6 924.6h0M1229.0 927.8h0M1003.5 915.3h0M884.5 919.8h0M1138.8 919.6h0M1615.5 929.5h0M1542.4 927.6h0M1450.3 916.7h0M1524.5 916.8h0M1940.5 924.2h0"/><path class="o" d="M1227.4 927.2h0M1479.3 918.2h0M907.2 923.5h0M1206.4 911.1h0M1322.1 920.3h0M1505.1 910.7h0M1002.1 914.6h0M1243.4 932.5h0M885.5 930.2h0M1919.2 899.0h0M1196.7 917.8h0M1009.0 919.5h0M1248.1 932.6h0M1622.7 919.9h0M1350.7 924.9h0M1103.6 922.8h0M1662.3 930.0h0M1353.4 924.3h0M1459.0 930.9h0M1084.3 915.5h0M1490.1 916.6h0M1335.2 919.1h0M892.4 921.6h0M1111.8 913.9h0M1541.3 931.6h0M1465.9 930.0h0M1446.6 921.0h0M1145.6 929.4h0M1930.6 917.6h0M1530.0 924.5h0"/><path class="i" stroke="#000080" d="M1479.3 918.2h0M1206.4 911.1h0M1322.1 920.3h0M1505.1 910.7h0M1002.1 914.6h0M1919.2 899.0h0M1196.7 917.8h0M1248.1 932.6h0M1622.7 919.9h0M1350.7 924.9h0M1353.4 924.3h0M1084.3 915.5h0M1490.1 916.6h0M1335.2 919.1h0M1111.8 913.9h0M1446.6 921.0h0M1930.6 917.6h0"/><path class="o" d="M1182.0 923.6h0M1175.9 928.2h0M873.3 927.4h0M1314.5 931.1h0M1409.6 923.2h0M1925.6 921.1h0M1153.9 919.3h0M1219.2 921.6h0M1910.9 923.8h0M1913.6 920.4h0M1421.4 928.1h0M1383.6 921.4h0M1283.7 917.3h0M1180.9 932.6h0M1359.3 922.7h0M1962.2 931.5h0M894.6 926.9h0M989.6 914.7h0M970.2 918.2h0M1103.1 925.5h0M1901.8 927.5h0M1341.5 927.4h0M1079.9 924.3h0M1231.0 916.5h0M1116.7 928.9h0M1338.4 918.2h0M1593.3 928.7h0M939.3 929.2h0M870.7 926.0h0M1969.5 922.1h0"/><path class="i" stroke="#000080" d="M1175.9 928.2h0M1409.6 923.2h0M1925.6 921.1h0M1153.9 919.3h0M1219.2 921.6h0M1910.9 923.8h0M1913.6 920.4h0M1383.6 921.4h0M1283.7 917.3h0M1359.3 922.7h0M1962.2 931.5h0M989.6 914.7h0M1901.8 927.5h0M1079.9 924.3h0M1231.0 916.5h0M1116.7 928.9h0M1338.4 918.2h0M1969.5 922.1h0"/><path class="o" d="M1390.8 924.8h0M1009.3 920.3h0M958.9 917.1h0M1065.8 929.6h0M902.0 927.5h0M1649.2 925.9h0M1415.4 915.2h0M1171.4 932.3h0M1297.2 931.1h0M1296.7 930.4h0M1605.5 918.3h0M979.1 930.2h0M1956.3 924.0h0M1385.1 932.4h0M1428.5 932.2h0M1580.7 922.0h0M1031.5 917.3h0M1196.5 924.6h0M875.7 917.2h0M1418.4 907.7h0M1582.9 921.7h0M1182.6 932.2h0M959.1 922.4h0M1659.4 928.4h0M1921.8 924.1h0M1190.8 904.0h0M1096.0 926.4h0M965.2 930.7h0M1645.0 931.5h0M1624.7 915.5h0"/><path class="i" stroke="#000080" d="M1009.3 920.3h0M958.9 917.1h0M902.0 927.5h0M1415.4 915.2h0M1297.2 931.1h0M1296.7 930.4h0M1605.5 918.3h0M1196.5 924.6h0M875.7 917.2h0M1418.4 907.7h0M1582.9 921.7h0M1182.6 932.2h0M959.1 922.4h0M1921.8 924.1h0M1190.8 904.0h0M1096.0 926.4h0"/><path class="o" d="M1461.0 900.2h0M1652.8 923.5h0M974.6 912.2h0M913.4 929.6h0M1661.5 899.6h0M1420.9 931.1h0M1393.3 925.5h0M1515.5 910.8h0M1022.3 920.5h0M1327.4 919.8h0M1681.9 932.2h0M1062.6 897.3h0M1668.2 919.5h0M1473.6 926.7h0M1469.4 925.5h0M1948.8 931.4h0M1233.8 918.9h0M1441.8 918.0h0M1332.5 920.9h0M951.6 924.6h0M1442.5 931.2h0M970.6 922.3h0M1057.2 930.2h0M1537.6 915.4h0M1279.8 923.4h0M1481.1 921.7h0M1911.4 927.0h0M1215.6 925.6h0M1365.2 930.3h0M904.6 924.0h0"/><path class="i" stroke="#000080" d="M1461.0 900.2h0M974.6 912.2h0M1661.5 899.6h0M1393.3 925.5h0M1515.5 910.8h0M1327.4 919.8h0M1062.6 897.3h0M1668.2 919.5h0M1469.4 925.5h0M1233.8 918.9h0M1441.8 918.0h0M1332.5 920.9h0M970.6 922.3h0M1537.6 915.4h0M1279.8 923.4h0M1911.4 927.0h0M1215.6 925.6h0M1365.2 930.3h0M904.6 924.0h0"/><path class="o" d="M1457.9 923.7h0M1653.7 926.5h0M1563.5 910.4h0M931.3 931.5h0M1326.0 929.0h0M940.8 926.4h0M1223.9 932.4h0M1626.9 919.4h0M1281.3 919.3h0M1207.9 910.8h0M1026.7 921.9h0M995.3 928.1h0M1244.1 930.6h0M1051.0 926.9h0M898.5 913.8h0M1950.4 920.2h0M1255.1 931.4h0M1348.3 920.6h0M1455.6 908.0h0M1452.2 916.5h0M1558.8 911.6h0M1506.9 929.6h0M1351.9 917.5h0M1312.7 932.4h0M1445.3 918.6h0M1167.6 919.4h0M1130.8 918.5h0M1495.2 913.5h0M1058.6 927.5h0M870.1 922.1h0"/><path class="i" stroke="#000080" d="M1653.7 926.5h0M1563.5 910.4h0M1626.9 919.4h0M1281.3 919.3h0M1207.9 910.8h0M898.5 913.8h0M1255.1 931.4h0M1348.3 920.6h0M1455.6 908.0h0M1452.2 916.5h0M1558.8 911.6h0M1351.9 917.5h0M1445.3 918.6h0M1167.6 919.4h0M1130.8 918.5h0M1495.2 913.5h0M1058.6 927.5h0M870.1 922.1h0"/><path class="o" d="M1027.7 920.4h0M1126.1 912.2h0M1119.5 926.4h0M1122.1 919.8h0M1588.2 928.8h0M1344.0 923.1h0M1574.4 930.5h0M1955.8 910.0h0M1304.8 920.7h0M1430.6 916.1h0M1225.7 926.7h0M1571.7 905.6h0M1969.0 932.3h0M1295.6 927.2h0M1233.4 920.9h0M1942.4 921.9h0M1288.6 932.3h0M1155.7 930.9h0M1572.7 919.0h0M1544.7 905.3h0M1303.3 919.1h0M1457.2 928.6h0M1097.6 915.9h0M1245.3 930.9h0M1083.3 932.4h0M1394.1 915.9h0M1161.8 923.6h0M949.9 924.7h0M1575.8 912.0h0M869.2 922.9h0"/><path class="i" stroke="#000080" d="M1126.1 912.2h0M1122.1 919.8h0M1588.2 928.8h0M1574.4 930.5h0M1955.8 910.0h0M1304.8 920.7h0M1430.6 916.1h0M1571.7 905.6h0M1233.4 920.9h0M1942.4 921.9h0M1155.7 930.9h0M1544.7 905.3h0M1303.3 919.1h0M1097.6 915.9h0M1394.1 915.9h0M1161.8 923.6h0M949.9 924.7h0M1575.8 912.0h0"/><path class="o" d="M1461.8 914.2h0M1342.9 921.0h0M1620.3 921.8h0M1907.3 919.8h0M1652.2 922.3h0M1290.5 927.2h0M1152.2 929.6h0M1608.2 925.8h0M1459.3 911.8h0M1512.3 916.6h0M1606.7 927.0h0M1553.7 917.9h0M1074.4 921.3h0M1331.8 931.9h0M1522.7 932.3h0M1080.6 923.9h0M1056.9 928.0h0M1903.4 928.4h0M1333.5 919.0h0M980.3 927.4h0M1281.8 932.1h0M1942.1 928.2h0M1535.1 929.4h0M1917.7 922.1h0M1485.9 920.5h0M1117.4 927.3h0M1503.6 911.6h0M1466.8 927.4h0M1224.2 904.8h0M1452.1 921.9h0"/><path class="i" stroke="#000080" d="M1461.8 914.2h0M1342.9 921.0h0M1907.3 919.8h0M1652.2 922.3h0M1459.3 911.8h0M1606.7 927.0h0M1074.4 921.3h0M1331.8 931.9h0M1333.5 919.0h0M1942.1 928.2h0M1485.9 920.5h0M1466.8 927.4h0M1224.2 904.8h0M1452.1 921.9h0"/><path class="o" d="M1284.6 917.1h0M1307.6 924.0h0M1450.2 929.8h0M988.8 918.9h0M1054.6 926.3h0M903.9 926.1h0M1965.2 923.7h0M1488.9 917.2h0M965.0 931.0h0M867.8 919.1h0M1228.8 926.9h0M911.4 894.6h0M1913.4 931.3h0M912.5 917.2h0M1506.6 908.7h0M1570.9 925.9h0M1650.6 930.3h0M1439.4 931.4h0M871.4 927.5h0M1588.1 918.8h0M1011.5 918.8h0M1580.0 894.2h0M1388.6 931.2h0M1418.4 923.9h0M1124.0 909.8h0M1386.8 927.5h0M1919.9 925.0h0M1446.0 923.9h0M1956.5 929.7h0M1426.2 924.9h0"/><path class="i" stroke="#000080" d="M1284.6 917.1h0M1307.6 924.0h0M988.8 918.9h0M1965.2 923.7h0M1488.9 917.2h0M867.8 919.1h0M1228.8 926.9h0M911.4 894.6h0M1913.4 931.3h0M912.5 917.2h0M1506.6 908.7h0M1570.9 925.9h0M1588.1 918.8h0M1011.5 918.8h0M1580.0 894.2h0M1124.0 909.8h0M1386.8 927.5h0M1919.9 925.0h0"/><path class="o" d="M1952.9 925.0h0M1433.4 922.8h0M1410.7 925.3h0M1500.6 918.2h0M1389.8 919.4h0M1070.2 916.3h0M1377.8 925.6h0M927.6 924.6h0M1045.5 905.5h0M1641.7 922.5h0M1087.1 920.6h0M955.2 916.8h0M939.1 923.2h0M1943.8 930.5h0M1028.9 927.2h0M1311.6 921.8h0M1911.8 926.1h0M1663.3 922.1h0M1338.0 929.1h0M1648.2 920.1h0M1506.5 920.1h0M1654.9 908.6h0M1482.3 900.5h0M946.3 926.5h0M1610.1 917.7h0M1486.7 897.9h0M1284.8 930.3h0M986.4 917.3h0M868.4 931.7h0M956.4 904.8h0"/><path class="i" stroke="#000080" d="M1433.4 922.8h0M1500.6 918.2h0M1389.8 919.4h0M1070.2 916.3h0M1045.5 905.5h0M955.2 916.8h0M939.1 923.2h0M1943.8 930.5h0M1028.9 927.2h0M1311.6 921.8h0M1338.0 929.1h0M1648.2 920.1h0M1506.5 920.1h0M1654.9 908.6h0M1482.3 900.5h0M1610.1 917.7h0M1486.7 897.9h0M986.4 917.3h0M956.4 904.8h0"/><path class="o" d="M1312.2 922.3h0M979.8 904.0h0M1945.9 924.2h0M1613.4 926.7h0M1190.9 915.6h0M1901.4 929.7h0M1353.3 928.5h0M1174.1 920.5h0M1028.9 915.9h0M1621.5 928.4h0M1449.3 929.3h0M1405.9 922.2h0M1402.2 921.5h0M1655.7 921.8h0M1426.8 922.9h0M915.6 926.6h0M1369.4 925.7h0M1137.7 915.8h0M1283.6 920.7h0M1310.3 923.6h0M1393.1 924.5h0M1957.8 915.2h0M1601.5 919.3h0M1905.3 931.6h0M1252.2 930.2h0M1239.0 929.7h0M1438.6 926.1h0M1104.4 917.0h0M1155.5 924.2h0M1628.2 897.0h0"/><path class="i" stroke="#000080" d="M1312.2 922.3h0M979.8 904.0h0M1190.9 915.6h0M1901.4 929.7h0M1353.3 928.5h0M1174.1 920.5h0M1028.9 915.9h0M1405.9 922.2h0M1402.2 921.5h0M1655.7 921.8h0M1426.8 922.9h0M1137.7 915.8h0M1283.6 920.7h0M1393.1 924.5h0M1957.8 915.2h0M1601.5 919.3h0M1252.2 930.2h0M1438.6 926.1h0M1104.4 917.0h0M1628.2 897.0h0"/><path class="o" d="M1319.7 925.8h0M1007.5 930.0h0M1098.2 914.0h0M993.7 912.6h0M987.5 904.7h0M919.0 925.6h0M976.2 930.7h0M971.2 921.1h0M1443.2 928.1h0M1036.2 917.1h0M937.1 925.3h0M1521.8 920.4h0M1381.1 924.6h0M1504.4 897.8h0M1073.4 911.6h0M1229.0 920.6h0M1063.9 920.6h0M1208.3 922.9h0M965.2 929.4h0M1643.8 922.6h0M1536.6 925.0h0M1441.8 926.2h0M1953.8 929.0h0M1419.7 927.5h0M1564.3 925.8h0M1090.9 928.7h0M1957.7 907.9h0M1204.5 923.3h0M1164.8 930.2h0M1006.7 926.9h0"/><path class="i" stroke="#000080" d="M1007.5 930.0h0M1098.2 914.0h0M993.7 912.6h0M987.5 904.7h0M976.2 930.7h0M971.2 921.1h0M1036.2 917.1h0M937.1 925.3h0M1521.8 920.4h0M1504.4 897.8h0M1073.4 911.6h0M1229.0 920.6h0M965.2 929.4h0M1419.7 927.5h0M1564.3 925.8h0M1957.7 907.9h0M1204.5 923.3h0M1006.7 926.9h0"/><path class="o" d="M1410.9 916.1h0M1456.9 931.2h0M1017.9 924.7h0M1074.2 892.8h0M1677.2 928.7h0M1363.7 926.7h0M1064.2 913.1h0M1112.0 921.5h0M1905.9 923.5h0M1400.3 920.5h0M1420.1 915.2h0M1134.7 923.3h0M1453.4 923.6h0M1190.4 927.2h0M1177.4 922.1h0M1940.5 913.5h0M1907.6 926.8h0M927.4 927.6h0M1533.1 887.6h0M961.0 929.4h0M1636.5 901.8h0M1136.6 927.6h0M1525.4 915.7h0M1038.0 912.5h0M1625.6 920.5h0M1610.4 917.7h0M893.4 921.2h0M1308.1 922.3h0M1570.1 922.4h0M1132.8 917.0h0"/><path class="i" stroke="#000080" d="M1410.9 916.1h0M1456.9 931.2h0M1017.9 924.7h0M1074.2 892.8h0M1363.7 926.7h0M1064.2 913.1h0M1112.0 921.5h0M1905.9 923.5h0M1400.3 920.5h0M1420.1 915.2h0M1453.4 923.6h0M1190.4 927.2h0M1177.4 922.1h0M1940.5 913.5h0M1907.6 926.8h0M1533.1 887.6h0M1636.5 901.8h0M1038.0 912.5h0M1610.4 917.7h0M893.4 921.2h0M1308.1 922.3h0M1570.1 922.4h0M1132.8 917.0h0"/><path class="o" d="M1625.1 924.3h0M1417.1 924.5h0M984.6 929.0h0M1149.1 921.6h0M1620.1 921.2h0M1180.0 922.7h0M1037.5 929.0h0M935.0 925.8h0M1040.8 907.4h0M1604.1 922.0h0M1309.3 923.4h0M1357.0 914.3h0M1902.0 931.9h0M949.5 923.3h0M1371.4 923.5h0M1397.6 921.6h0M1530.7 898.8h0M1414.2 929.1h0M1491.7 916.8h0M1006.2 931.1h0M1669.5 927.6h0M990.4 931.6h0M1239.8 926.7h0M1165.9 919.3h0M971.8 929.0h0M1334.2 929.8h0M1202.4 932.0h0M913.9 917.1h0M1538.0 895.5h0M1591.6 919.5h0"/><path class="i" stroke="#000080" d="M1625.1 924.3h0M1149.1 921.6h0M1040.8 907.4h0M1604.1 922.0h0M1357.0 914.3h0M1902.0 931.9h0M949.5 923.3h0M1371.4 923.5h0M1397.6 921.6h0M1530.7 898.8h0M1165.9 919.3h0M1202.4 932.0h0M1538.0 895.5h0M1591.6 919.5h0"/><path class="o" d="M1079.8 927.2h0M1205.5 932.0h0M1509.9 901.8h0M1395.1 923.3h0M1618.5 920.0h0M1916.3 929.8h0M1005.6 930.6h0M1301.3 924.1h0M1533.5 917.6h0M1398.2 923.2h0M1909.0 929.1h0M1361.0 924.4h0M908.2 926.3h0M1341.9 929.4h0M1675.9 931.1h0M1566.3 916.0h0M1384.0 928.3h0M1568.3 927.6h0M1287.8 921.3h0M1528.4 908.4h0M1649.1 920.4h0M942.6 929.7h0M1452.2 899.5h0M1559.3 921.1h0M1340.6 922.4h0M1277.3 931.8h0M1219.9 910.9h0M1647.8 908.5h0M1467.0 928.5h0M1402.1 921.6h0"/><path class="i" stroke="#000080" d="M1509.9 901.8h0M1916.3 929.8h0M1301.3 924.1h0M1398.2 923.2h0M1361.0 924.4h0M1528.4 908.4h0M1649.1 920.4h0M1452.2 899.5h0M1559.3 921.1h0M1219.9 910.9h0M1647.8 908.5h0M1402.1 921.6h0"/><path class="o" d="M1377.3 929.5h0M1924.9 922.5h0M1113.3 927.6h0M1184.1 920.2h0M1280.4 927.5h0M1020.9 919.2h0M1554.8 925.4h0M1055.2 925.7h0M1501.7 914.4h0M1407.3 929.2h0M1464.4 912.6h0M1393.1 930.6h0M1066.6 920.8h0M1309.5 931.7h0M903.9 926.3h0M1657.4 917.8h0M1474.0 926.5h0M1618.8 920.0h0M1489.3 922.6h0M1386.6 930.2h0M1026.0 909.4h0M1183.9 916.3h0M1118.4 918.5h0M1656.9 924.9h0M1553.1 926.4h0M1915.1 923.1h0M1054.4 932.3h0M1216.5 932.2h0M1020.0 909.3h0M1506.2 928.7h0"/><path class="i" stroke="#000080" d="M1113.3 927.6h0M1184.1 920.2h0M1280.4 927.5h0M1554.8 925.4h0M1407.3 929.2h0M1464.4 912.6h0M1066.6 920.8h0M903.9 926.3h0M1657.4 917.8h0M1474.0 926.5h0M1489.3 922.6h0M1386.6 930.2h0M1026.0 909.4h0M1183.9 916.3h0M1118.4 918.5h0M1656.9 924.9h0M1553.1 926.4h0M1915.1 923.1h0M1020.0 909.3h0M1506.2 928.7h0"/><path class="o" d="M880.3 917.7h0M887.2 929.3h0M1462.1 917.9h0M886.1 903.5h0M1960.9 896.6h0M1490.4 920.7h0M943.7 904.3h0M1396.8 932.2h0M1934.4 925.9h0M1614.4 932.5h0M1631.2 931.2h0M896.4 926.6h0M1537.1 916.2h0M1611.7 924.2h0M1675.8 928.4h0M1032.2 909.2h0M1038.2 919.1h0M1308.5 929.0h0M1096.7 927.1h0M1918.3 926.1h0M1320.3 924.9h0M1671.9 927.1h0M1130.1 919.4h0M1180.0 931.3h0M1000.6 924.1h0M1392.6 923.4h0M1009.1 912.7h0M918.0 917.4h0M1201.7 904.0h0M1599.6 929.5h0"/><path class="i" stroke="#000080" d="M880.3 917.7h0M1462.1 917.9h0M886.1 903.5h0M1960.9 896.6h0M1490.4 920.7h0M943.7 904.3h0M1934.4 925.9h0M1614.4 932.5h0M896.4 926.6h0M1537.1 916.2h0M1032.2 909.2h0M1096.7 927.1h0M1130.1 919.4h0M1392.6 923.4h0M1009.1 912.7h0M918.0 917.4h0M1201.7 904.0h0M1599.6 929.5h0"/><path class="o" d="M1287.5 921.7h0M957.0 923.0h0M952.6 929.3h0M1274.2 927.2h0M1044.3 927.9h0M1222.6 927.6h0M1510.9 914.1h0M1222.6 918.0h0M1015.4 906.8h0M1949.9 932.1h0M1672.1 920.6h0M1653.5 930.6h0M1306.4 926.4h0M979.4 931.4h0M947.6 914.8h0M1408.2 919.7h0M1289.3 923.3h0M1012.6 916.0h0M1429.9 922.3h0M1493.4 931.6h0M1218.1 932.5h0M1356.2 928.4h0M940.7 922.7h0M1346.7 923.9h0M895.1 917.3h0M1008.1 932.1h0M1555.1 929.1h0M1580.4 923.9h0M1666.1 920.1h0M1094.8 926.8h0"/><path class="i" stroke="#000080" d="M957.0 923.0h0M1274.2 927.2h0M1510.9 914.1h0M1222.6 918.0h0M1015.4 906.8h0M1949.9 932.1h0M1672.1 920.6h0M947.6 914.8h0M1408.2 919.7h0M1289.3 923.3h0M1012.6 916.0h0M1356.2 928.4h0M895.1 917.3h0"/><path class="o" d="M1115.9 925.1h0M1636.1 917.4h0M1119.0 917.5h0M1277.6 929.3h0M1076.9 917.4h0M1389.8 922.5h0M1193.4 926.7h0M1231.7 924.8h0M1905.8 924.4h0M983.7 925.9h0M902.0 920.9h0M1453.4 922.7h0M1210.6 921.7h0M1598.7 921.0h0M1130.0 897.0h0M1456.6 925.4h0M1674.6 930.8h0M1413.2 924.4h0M1230.1 926.7h0M1086.2 931.2h0M1926.9 907.6h0M1947.0 922.9h0M1067.4 915.9h0M1396.8 930.5h0M1495.9 900.1h0M1134.2 915.9h0M1950.3 914.8h0M953.4 923.5h0M1613.4 928.0h0M1601.5 917.3h0"/><path class="i" stroke="#000080" d="M1636.1 917.4h0M1277.6 929.3h0M1389.8 922.5h0M1231.7 924.8h0M1905.8 924.4h0M902.0 920.9h0M1453.4 922.7h0M1210.6 921.7h0M1598.7 921.0h0M1130.0 897.0h0M1230.1 926.7h0M1926.9 907.6h0M1067.4 915.9h0M1396.8 930.5h0M1495.9 900.1h0M1134.2 915.9h0M953.4 923.5h0M1601.5 917.3h0"/><path class="o" d="M1936.4 918.9h0M1082.9 914.9h0M1007.4 914.8h0M1253.1 932.3h0M1137.6 916.5h0M1451.5 929.2h0M1078.7 921.2h0M915.6 925.9h0M971.0 922.5h0M873.8 922.3h0M1181.8 919.7h0M896.6 921.6h0M1112.9 915.1h0M1196.0 931.6h0M1552.4 901.5h0M1390.4 932.0h0M1633.2 918.2h0M1357.0 921.1h0M1430.6 904.1h0M1223.4 929.1h0M1247.2 927.6h0M1179.3 927.6h0M1947.4 931.0h0M1959.1 924.0h0M910.6 932.0h0M1321.5 915.4h0M1199.9 923.6h0M1920.7 932.0h0M1108.9 912.9h0M1607.7 920.1h0"/><path class="i" stroke="#000080" d="M1082.9 914.9h0M1007.4 914.8h0M1137.6 916.5h0M1451.5 929.2h0M1181.8 919.7h0M896.6 921.6h0M1112.9 915.1h0M1552.4 901.5h0M1633.2 918.2h0M1357.0 921.1h0M1430.6 904.1h0M1247.2 927.6h0M910.6 932.0h0M1321.5 915.4h0M1199.9 923.6h0M1108.9 912.9h0"/><path class="o" d="M1664.7 909.5h0M1525.3 930.0h0M1058.8 929.8h0M1333.4 923.3h0M1609.4 931.6h0M1095.2 925.8h0M1336.9 925.1h0M1571.5 912.4h0M1915.2 928.5h0M1005.6 931.7h0M1382.6 918.5h0M1616.3 925.0h0M1662.2 929.1h0M1329.1 931.3h0M1120.9 917.7h0M1072.2 917.3h0M1064.7 928.6h0M1418.5 924.5h0M1293.0 928.0h0M1078.4 918.1h0M1187.0 924.8h0M1332.5 931.9h0M1565.5 890.9h0M1252.5 930.3h0M1349.8 920.9h0M1625.5 921.5h0M1398.2 921.1h0M1085.5 917.0h0M1246.5 929.2h0M1386.3 931.2h0"/><path class="i" stroke="#000080" d="M1664.7 909.5h0M1333.4 923.3h0M1095.2 925.8h0M1571.5 912.4h0M1382.6 918.5h0M1072.2 917.3h0M1064.7 928.6h0M1418.5 924.5h0M1078.4 918.1h0M1332.5 931.9h0M1565.5 890.9h0M1252.5 930.3h0M1349.8 920.9h0M1398.2 921.1h0M1246.5 929.2h0"/><path class="o" d="M1633.6 927.8h0M1954.4 928.2h0M1456.1 920.1h0M1151.2 921.0h0M1437.2 921.2h0M1053.0 905.2h0M1490.1 922.6h0M985.2 920.0h0M1667.6 919.6h0M1332.3 928.2h0M1278.1 928.7h0M1126.3 901.0h0M1502.8 932.5h0M1942.3 905.4h0M890.4 917.6h0M1470.9 917.0h0M929.7 925.0h0M1352.5 922.3h0M1380.2 922.5h0M1354.9 928.1h0M1102.5 914.0h0M991.0 912.3h0M1566.4 925.7h0M1456.7 918.7h0M1477.7 929.5h0M1543.2 921.8h0M1326.9 925.8h0M1185.3 930.8h0M1966.7 924.6h0M1175.0 920.1h0"/><path class="i" stroke="#000080" d="M1633.6 927.8h0M1456.1 920.1h0M1437.2 921.2h0M1053.0 905.2h0M1490.1 922.6h0M1667.6 919.6h0M1332.3 928.2h0M1126.3 901.0h0M1942.3 905.4h0M1470.9 917.0h0M1352.5 922.3h0M1380.2 922.5h0M1102.5 914.0h0M991.0 912.3h0M1456.7 918.7h0M1543.2 921.8h0M1185.3 930.8h0M1966.7 924.6h0"/><path class="o" d="M1472.1 916.1h0M1381.3 922.4h0M1947.3 915.0h0M1921.7 919.3h0M1358.3 924.6h0M894.9 916.8h0M1091.5 926.7h0M1211.3 919.5h0M1072.7 926.5h0M1915.2 904.3h0M884.9 927.5h0M1509.6 920.3h0M1575.3 928.7h0M1359.9 932.5h0M886.3 922.1h0M1039.6 918.7h0M1149.9 921.2h0M1425.6 926.9h0M1072.5 930.2h0M1138.9 932.3h0M1535.1 912.6h0M1943.4 931.4h0M1527.5 892.4h0M875.2 931.8h0M1297.4 910.0h0M1200.2 926.2h0M1423.8 918.3h0M1431.7 927.6h0M996.0 919.5h0M1310.3 927.5h0"/><path class="i" stroke="#000080" d="M1472.1 916.1h0M1381.3 922.4h0M1947.3 915.0h0M1358.3 924.6h0M894.9 916.8h0M1091.5 926.7h0M1211.3 919.5h0M1915.2 904.3h0M884.9 927.5h0M1509.6 920.3h0M1039.6 918.7h0M1149.9 921.2h0M1535.1 912.6h0M1527.5 892.4h0M1297.4 910.0h0M1200.2 926.2h0M1423.8 918.3h0M996.0 919.5h0M1310.3 927.5h0"/><path class="o" d="M1662.8 923.2h0M1957.3 916.9h0M1078.5 900.0h0M1381.1 927.5h0M1916.3 930.4h0M969.6 919.3h0M1343.6 929.3h0M1564.5 920.6h0M1592.2 920.1h0M1504.5 931.6h0M1283.0 931.9h0M1051.0 930.6h0M1636.9 916.2h0M1146.3 927.1h0M1462.3 930.2h0M1014.6 912.3h0M1364.7 927.9h0M1527.5 928.4h0M914.3 923.5h0M1952.8 923.7h0M1055.2 927.3h0M1214.8 921.9h0M1248.3 930.2h0M1235.5 922.7h0M1244.2 930.3h0M1169.9 927.0h0M1085.2 922.2h0M1357.6 924.0h0M1056.6 932.1h0M1924.8 904.1h0"/><path class="i" stroke="#000080" d="M1662.8 923.2h0M1957.3 916.9h0M1078.5 900.0h0M969.6 919.3h0M1014.6 912.3h0M1364.7 927.9h0M1952.8 923.7h0M1055.2 927.3h0M1214.8 921.9h0M1248.3 930.2h0M1924.8 904.1h0"/><path class="o" d="M1206.2 927.6h0M1964.7 924.6h0M969.4 930.2h0M1135.5 925.6h0M1908.1 923.5h0M1509.3 915.4h0M1487.2 921.3h0M989.5 915.1h0M1099.1 917.8h0M1176.9 920.9h0M1607.8 912.5h0M1359.0 929.3h0M1383.2 923.7h0M1663.6 917.7h0M1598.0 923.7h0M1481.7 923.6h0M1640.7 929.5h0M1505.1 927.2h0M1224.6 930.4h0M1178.8 923.9h0M974.1 926.3h0M1022.4 929.8h0M1522.0 924.2h0M1289.8 932.1h0M1415.4 928.0h0M920.1 929.7h0M1080.7 915.0h0M964.8 925.1h0M1135.1 927.8h0M1573.4 927.4h0"/><path class="i" stroke="#000080" d="M1206.2 927.6h0M969.4 930.2h0M1135.5 925.6h0M1908.1 923.5h0M1509.3 915.4h0M1487.2 921.3h0M989.5 915.1h0M1099.1 917.8h0M1176.9 920.9h0M1607.8 912.5h0M1359.0 929.3h0M1383.2 923.7h0M1663.6 917.7h0M1481.7 923.6h0M1224.6 930.4h0M1178.8 923.9h0M974.1 926.3h0M1022.4 929.8h0M1080.7 915.0h0M964.8 925.1h0M1573.4 927.4h0"/><path class="o" d="M1922.6 926.2h0M1643.8 918.0h0M1379.4 931.2h0M1623.5 922.4h0M1254.1 931.1h0M1173.4 916.7h0M1517.4 911.8h0M1609.3 926.7h0M1569.9 914.4h0M1604.3 926.0h0M1519.3 927.6h0M1963.7 912.9h0M1004.5 911.6h0M1176.2 921.3h0M1230.1 928.6h0M1938.2 922.1h0M1162.6 928.8h0M1083.5 930.3h0M1553.2 927.3h0M1930.4 925.6h0M1393.0 932.2h0M1000.4 931.5h0M1679.4 927.5h0M998.6 921.7h0M1594.9 915.0h0M1540.9 905.9h0M1462.2 927.3h0M922.4 903.3h0M1310.3 923.2h0M1212.0 928.5h0"/><path class="i" stroke="#000080" d="M1643.8 918.0h0M1623.5 922.4h0M1254.1 931.1h0M1173.4 916.7h0M1517.4 911.8h0M1569.9 914.4h0M1963.7 912.9h0M1004.5 911.6h0M1176.2 921.3h0M1230.1 928.6h0M1938.2 922.1h0M1162.6 928.8h0M1083.5 930.3h0M1930.4 925.6h0M1393.0 932.2h0M998.6 921.7h0M1594.9 915.0h0M1540.9 905.9h0M922.4 903.3h0M1310.3 923.2h0"/><path class="o" d="M1008.9 902.2h0M1933.1 928.4h0M1355.1 924.1h0M899.1 932.5h0M970.1 913.7h0M1147.6 924.7h0M1348.3 923.7h0M887.8 919.4h0M1644.3 920.7h0M936.5 923.4h0M1552.8 913.8h0M1496.2 931.6h0M1643.2 926.4h0M1137.7 926.2h0M942.1 932.1h0M1514.1 928.1h0M1095.0 932.2h0M1598.9 918.5h0M1503.6 910.1h0M1434.2 907.3h0M1094.7 920.5h0M906.9 907.0h0M1969.9 921.0h0M1369.8 913.8h0M990.4 917.7h0M1409.0 930.5h0M1331.0 921.6h0M1462.9 916.7h0M1363.1 926.3h0M1677.1 930.2h0"/><path class="i" stroke="#000080" d="M1008.9 902.2h0M1355.1 924.1h0M970.1 913.7h0M1147.6 924.7h0M1348.3 923.7h0M936.5 923.4h0M1643.2 926.4h0M1137.7 926.2h0M1598.9 918.5h0M1503.6 910.1h0M1434.2 907.3h0M1094.7 920.5h0M906.9 907.0h0M1969.9 921.0h0M1369.8 913.8h0M990.4 917.7h0M1331.0 921.6h0M1462.9 916.7h0M1363.1 926.3h0"/><path class="o" d="M1967.8 927.2h0M945.2 930.6h0M1402.7 931.6h0M1336.3 922.4h0M1626.9 909.6h0M1927.5 931.2h0M1435.8 927.0h0M1218.3 928.8h0M1909.1 924.5h0M1082.8 914.2h0M1586.2 930.0h0M1622.1 932.3h0M1224.5 925.4h0M1646.3 931.4h0M1248.4 930.3h0M1036.6 927.0h0M1521.0 916.7h0M1485.4 923.0h0M1420.0 917.5h0M1278.3 930.6h0M945.1 925.9h0M1555.3 914.5h0M1002.0 922.8h0M1424.0 918.7h0M1281.2 923.5h0M1589.3 915.4h0M1917.0 927.4h0M1479.3 917.7h0M1201.8 919.8h0M1391.0 928.2h0"/><path class="i" stroke="#000080" d="M1336.3 922.4h0M1626.9 909.6h0M1909.1 924.5h0M1082.8 914.2h0M1224.5 925.4h0M1521.0 916.7h0M1420.0 917.5h0M1002.0 922.8h0M1424.0 918.7h0M1589.3 915.4h0M1917.0 927.4h0M1479.3 917.7h0M1201.8 919.8h0"/><path class="o" d="M1242.1 922.0h0M1330.7 922.1h0M1106.4 919.5h0M1210.2 923.2h0M1067.9 924.5h0M933.1 923.8h0M888.6 932.5h0M1903.6 932.0h0M910.4 926.8h0M1953.5 925.0h0M1644.4 927.4h0M1329.5 922.3h0M1547.2 930.0h0M1246.1 928.9h0M1011.8 931.7h0M1651.8 921.7h0M1529.2 922.6h0M1192.0 929.8h0M1534.2 905.6h0M1921.3 914.6h0M1291.7 919.6h0M1526.5 916.6h0M1612.4 922.4h0M1452.6 922.3h0M1567.0 919.2h0M1026.7 916.0h0M1353.1 927.4h0M1291.7 930.8h0M1158.4 906.5h0M1329.8 931.7h0"/><path class="i" stroke="#000080" d="M1242.1 922.0h0M1330.7 922.1h0M1106.4 919.5h0M933.1 923.8h0M910.4 926.8h0M1329.5 922.3h0M1534.2 905.6h0M1921.3 914.6h0M1291.7 919.6h0M1526.5 916.6h0M1612.4 922.4h0M1452.6 922.3h0M1026.7 916.0h0M1158.4 906.5h0"/><path class="o" d="M1115.5 924.8h0M1115.1 915.9h0M936.4 927.6h0M1439.6 911.2h0M1232.3 931.2h0M1432.1 917.4h0M956.3 928.1h0M1375.6 928.2h0M1312.9 924.7h0M1341.3 924.1h0M963.1 923.5h0M1173.9 915.9h0M1602.0 920.0h0M1548.3 898.4h0M939.8 930.9h0M1151.1 926.2h0M1498.6 910.5h0M1325.2 923.0h0M1215.7 925.7h0M1924.1 917.7h0M1032.5 913.3h0M1196.0 927.6h0M936.2 923.2h0M1514.8 926.5h0M1364.2 927.2h0M900.0 918.7h0M1524.0 928.7h0M1341.0 932.2h0M1435.4 919.3h0M1132.8 926.4h0"/><path class="i" stroke="#000080" d="M1115.1 915.9h0M1439.6 911.2h0M1432.1 917.4h0M1312.9 924.7h0M1173.9 915.9h0M1548.3 898.4h0M1498.6 910.5h0M1325.2 923.0h0M1215.7 925.7h0M1924.1 917.7h0M1032.5 913.3h0M936.2 923.2h0M1514.8 926.5h0M1364.2 927.2h0M900.0 918.7h0M1524.0 928.7h0"/><path class="o" d="M946.6 928.9h0M1525.9 889.2h0M1515.3 900.6h0M1253.7 932.3h0M1377.1 932.4h0M1090.0 919.1h0M1450.1 930.8h0M1461.9 902.8h0M1006.9 922.4h0M951.2 913.2h0M963.9 918.8h0M1316.0 930.0h0M1246.9 928.7h0M997.4 903.0h0M1910.9 932.5h0M1556.4 930.2h0M1086.9 928.8h0M1903.6 912.2h0M1060.3 922.5h0M869.1 932.2h0M1405.7 922.3h0M1388.1 923.1h0M897.9 925.5h0M1477.7 925.9h0M1237.7 926.6h0M1644.0 931.4h0M1255.4 930.7h0M899.5 922.9h0M1249.5 932.5h0M926.5 929.3h0"/><path class="i" stroke="#000080" d="M946.6 928.9h0M1525.9 889.2h0M1515.3 900.6h0M1090.0 919.1h0M1461.9 902.8h0M1006.9 922.4h0M951.2 913.2h0M963.9 918.8h0M1246.9 928.7h0M997.4 903.0h0M1556.4 930.2h0M1903.6 912.2h0M1060.3 922.5h0M1388.1 923.1h0M897.9 925.5h0M1237.7 926.6h0M1644.0 931.4h0M1255.4 930.7h0M1249.5 932.5h0"/><path class="o" d="M1444.8 924.9h0M1633.7 924.1h0M905.3 921.6h0M1139.4 927.8h0M962.2 926.1h0M1628.2 922.5h0M1040.5 924.5h0M1098.0 917.5h0M965.0 911.0h0M1585.2 929.6h0M1508.9 922.8h0M1632.8 922.9h0M1399.9 923.3h0M1590.5 912.1h0M1016.9 910.0h0M1040.4 932.2h0M1913.7 925.9h0M919.2 928.7h0M1633.8 923.5h0M1367.1 928.6h0M1360.5 931.9h0M1427.0 923.6h0M1623.1 928.4h0M1660.8 914.0h0M1174.7 923.4h0M1251.1 932.6h0M1639.3 928.8h0M1010.4 931.0h0M1641.9 915.9h0M1232.9 906.1h0"/><path class="i" stroke="#000080" d="M1444.8 924.9h0M962.2 926.1h0M965.0 911.0h0M1399.9 923.3h0M1590.5 912.1h0M1016.9 910.0h0M1913.7 925.9h0M1367.1 928.6h0M1360.5 931.9h0M1660.8 914.0h0M1174.7 923.4h0M1251.1 932.6h0M1641.9 915.9h0M1232.9 906.1h0"/><path class="o" d="M1044.5 924.0h0M1293.7 922.9h0M1236.1 921.6h0M1584.6 912.8h0M953.4 921.6h0M1356.9 930.5h0M1409.5 927.0h0M1036.3 914.6h0M1962.1 918.5h0M1956.2 922.0h0M1322.1 927.1h0M1335.6 921.6h0M1244.3 929.7h0M1114.0 912.4h0M1157.3 922.4h0M1547.6 891.0h0M1102.1 913.1h0M1529.1 920.5h0M1663.4 926.7h0M1581.2 929.7h0M1181.5 908.0h0M1316.5 926.2h0M1281.2 930.4h0M1032.5 918.4h0M1318.3 923.8h0M1222.6 921.8h0M1038.2 919.8h0M1461.4 910.0h0M1008.8 916.1h0M1495.2 915.2h0"/><path class="i" stroke="#000080" d="M1293.7 922.9h0M1236.1 921.6h0M1584.6 912.8h0M953.4 921.6h0M1956.2 922.0h0M1244.3 929.7h0M1114.0 912.4h0M1547.6 891.0h0M1102.1 913.1h0M1663.4 926.7h0M1181.5 908.0h0M1316.5 926.2h0M1318.3 923.8h0M1222.6 921.8h0M1038.2 919.8h0M1461.4 910.0h0M1008.8 916.1h0M1495.2 915.2h0"/><path class="o" d="M1419.4 919.1h0M1328.3 922.7h0M1475.2 898.8h0M1423.1 923.5h0M1967.9 926.8h0M960.9 930.0h0M1237.3 919.2h0M901.8 924.1h0M1050.9 915.4h0M1433.1 920.6h0M1329.2 921.3h0M1054.4 930.3h0M1194.6 924.8h0M1413.5 914.4h0M1496.9 929.6h0M1483.5 919.2h0M1026.3 928.6h0M1178.2 920.9h0M967.2 909.9h0M1091.3 909.8h0M905.6 930.6h0M880.2 928.4h0M1594.7 929.2h0M955.6 927.0h0M1599.8 918.9h0M1952.1 931.8h0M1438.7 912.9h0M1431.9 912.9h0M1942.8 921.6h0M877.0 927.5h0"/><path class="i" stroke="#000080" d="M1419.4 919.1h0M1328.3 922.7h0M1475.2 898.8h0M1237.3 919.2h0M1050.9 915.4h0M1329.2 921.3h0M1413.5 914.4h0M1483.5 919.2h0M1178.2 920.9h0M967.2 909.9h0M1091.3 909.8h0M955.6 927.0h0M1599.8 918.9h0M1438.7 912.9h0M1431.9 912.9h0M1942.8 921.6h0"/><path class="o" d="M1374.2 923.3h0M1418.5 925.7h0M1087.4 931.4h0M1345.9 905.4h0M1486.5 929.3h0M1214.7 930.2h0M1946.8 928.9h0M1221.5 931.4h0M1583.3 931.7h0M1202.3 922.9h0M911.1 920.4h0M923.7 925.7h0M1369.9 925.7h0M1570.9 920.6h0M1455.9 918.0h0M999.6 913.3h0M1386.9 920.8h0M923.1 914.8h0M1902.7 932.2h0M1204.7 912.3h0M1602.0 921.3h0M1486.1 926.1h0M1645.5 932.2h0M1443.1 919.3h0M1148.5 909.3h0M1668.3 918.2h0M1652.2 921.1h0M1339.4 904.0h0M1431.4 918.9h0M1223.7 931.1h0"/><path class="i" stroke="#000080" d="M1374.2 923.3h0M1418.5 925.7h0M1345.9 905.4h0M1214.7 930.2h0M1946.8 928.9h0M911.1 920.4h0M1455.9 918.0h0M999.6 913.3h0M1386.9 920.8h0M923.1 914.8h0M1204.7 912.3h0M1486.1 926.1h0M1148.5 909.3h0M1668.3 918.2h0M1652.2 921.1h0M1339.4 904.0h0"/><path class="o" d="M922.1 931.6h0M1207.0 928.7h0M1407.9 926.7h0M1593.0 916.7h0M1680.2 931.0h0M1488.0 913.0h0M1603.3 926.7h0M1414.0 929.7h0M1374.3 927.7h0M1091.4 931.7h0M1589.0 902.6h0M1021.6 924.9h0M1119.3 897.7h0M1637.1 914.4h0M906.5 900.6h0M1209.3 923.3h0M1130.1 920.5h0M1399.9 921.2h0M1205.0 923.0h0M1077.9 929.7h0M1372.1 922.5h0M1497.7 923.1h0M1185.3 911.2h0M1379.8 910.9h0M1426.0 913.1h0M1126.7 921.0h0M1090.5 927.5h0M1227.5 929.1h0M1403.6 907.7h0M1604.6 908.0h0"/><path class="i" stroke="#000080" d="M1407.9 926.7h0M1593.0 916.7h0M1680.2 931.0h0M1488.0 913.0h0M1603.3 926.7h0M1414.0 929.7h0M1589.0 902.6h0M1119.3 897.7h0M906.5 900.6h0M1209.3 923.3h0M1399.9 921.2h0M1205.0 923.0h0M1372.1 922.5h0M1185.3 911.2h0M1379.8 910.9h0M1426.0 913.1h0M1403.6 907.7h0M1604.6 908.0h0"/><path class="o" d="M1127.7 920.6h0M1077.0 903.3h0M1318.7 916.9h0M1227.4 924.6h0M948.9 922.3h0M1540.7 908.0h0M1135.7 915.0h0M1645.5 924.8h0M1140.4 920.4h0M1564.2 912.0h0M1037.5 901.6h0M1034.3 910.5h0M996.2 921.3h0M1076.3 914.3h0M946.4 928.3h0M1045.4 925.5h0M1625.4 906.0h0M1532.9 915.1h0M1039.7 917.5h0M1078.9 922.4h0M1170.7 929.0h0M1179.1 931.2h0M1078.2 917.3h0M1951.0 922.2h0M1110.1 914.0h0M1059.6 928.6h0M1531.5 918.6h0M1484.3 929.3h0M1013.8 921.7h0M1618.0 924.5h0"/><path class="i" stroke="#000080" d="M1127.7 920.6h0M1077.0 903.3h0M1318.7 916.9h0M1227.4 924.6h0M948.9 922.3h0M1540.7 908.0h0M1135.7 915.0h0M1645.5 924.8h0M1140.4 920.4h0M1564.2 912.0h0M1037.5 901.6h0M1034.3 910.5h0M1076.3 914.3h0M1625.4 906.0h0M1039.7 917.5h0M1078.9 922.4h0M1170.7 929.0h0M1078.2 917.3h0M1110.1 914.0h0M1013.8 921.7h0M1618.0 924.5h0"/><path class="o" d="M1391.7 928.6h0M1541.9 911.7h0M1936.2 922.4h0M1959.7 908.3h0M1398.8 927.0h0M1192.4 918.0h0M1140.5 916.8h0M978.1 926.9h0M1500.0 902.9h0M877.7 928.3h0M1116.8 921.6h0M1218.7 927.8h0M1550.6 901.2h0M953.4 924.5h0M961.0 920.1h0M1344.1 931.7h0M1651.8 926.3h0M1186.4 929.6h0M995.3 931.2h0M1501.4 930.2h0M1528.0 923.3h0M1316.0 919.2h0M1205.3 911.9h0M1126.0 927.2h0M1907.8 908.7h0M1015.2 914.8h0M873.7 920.8h0M1141.7 921.0h0M1220.4 927.8h0M902.6 926.3h0"/><path class="i" stroke="#000080" d="M1541.9 911.7h0M1959.7 908.3h0M1398.8 927.0h0M1140.5 916.8h0M1500.0 902.9h0M1550.6 901.2h0M953.4 924.5h0M961.0 920.1h0M1651.8 926.3h0M1316.0 919.2h0M1205.3 911.9h0M1907.8 908.7h0M1015.2 914.8h0M873.7 920.8h0M1141.7 921.0h0M902.6 926.3h0"/><path class="o" d="M1020.7 920.8h0M1921.1 925.7h0M1174.5 932.5h0M1555.1 921.3h0M1355.9 929.0h0M1016.5 910.7h0M1962.0 923.9h0M996.7 928.9h0M1911.9 920.4h0M1004.1 918.5h0M1960.0 911.1h0M1095.6 923.6h0M1100.0 927.9h0M1328.3 924.4h0M1906.4 920.0h0M1317.8 926.4h0M1648.4 925.9h0M960.7 920.5h0M1297.1 923.8h0M980.5 914.4h0M1325.1 913.2h0M1190.3 927.7h0M992.8 915.5h0M1494.3 928.3h0M1117.6 913.8h0M1587.9 920.4h0M1914.9 920.1h0M1183.7 922.1h0M918.9 899.2h0M943.4 922.1h0"/><path class="i" stroke="#000080" d="M1921.1 925.7h0M1555.1 921.3h0M1016.5 910.7h0M1911.9 920.4h0M1004.1 918.5h0M1960.0 911.1h0M1095.6 923.6h0M1328.3 924.4h0M1906.4 920.0h0M1317.8 926.4h0M1648.4 925.9h0M1297.1 923.8h0M980.5 914.4h0M1325.1 913.2h0M992.8 915.5h0M1117.6 913.8h0M1914.9 920.1h0M1183.7 922.1h0M918.9 899.2h0M943.4 922.1h0"/><path class="o" d="M1915.9 930.0h0M1619.5 928.2h0M1108.4 919.2h0M1474.2 914.6h0M1381.8 927.8h0M1335.0 921.3h0M1957.1 885.9h0M1011.5 923.4h0M1625.7 929.2h0M1576.4 908.7h0M1681.2 930.9h0M1150.2 932.2h0M1602.4 918.4h0M1569.1 922.5h0M1468.4 920.5h0M1373.8 922.2h0M1535.9 915.5h0M1592.6 924.7h0M1590.1 922.4h0M1346.4 921.6h0M1044.1 911.4h0M1210.8 931.0h0M1218.8 921.5h0M1907.1 927.7h0M1435.1 910.9h0M1308.4 913.2h0M967.7 924.0h0M1304.7 911.8h0M873.1 931.1h0M936.4 929.1h0"/><path class="i" stroke="#000080" d="M1474.2 914.6h0M1335.0 921.3h0M1957.1 885.9h0M1625.7 929.2h0M1576.4 908.7h0M1602.4 918.4h0M1535.9 915.5h0M1592.6 924.7h0M1346.4 921.6h0M1044.1 911.4h0M1210.8 931.0h0M1907.1 927.7h0M1435.1 910.9h0M1308.4 913.2h0M967.7 924.0h0M1304.7 911.8h0M873.1 931.1h0M936.4 929.1h0"/><path class="o" d="M935.9 915.2h0M1924.3 918.3h0M910.4 915.3h0M1927.0 917.5h0M969.3 919.8h0M903.4 925.0h0M879.5 920.0h0M950.5 931.6h0M1111.2 928.7h0M1596.2 929.7h0M1366.0 929.2h0M1223.5 926.9h0M1319.4 930.7h0M1944.3 922.5h0M1317.1 927.9h0M1499.5 911.0h0M1088.9 901.5h0M1103.5 911.1h0M1191.8 913.6h0M1124.2 919.4h0M1234.4 923.0h0M900.9 926.2h0M1524.1 900.0h0M1470.6 919.1h0M1102.8 929.8h0M1472.8 925.1h0M1535.5 915.3h0M1920.2 922.6h0M1451.3 924.7h0M1172.2 929.8h0"/><path class="i" stroke="#000080" d="M935.9 915.2h0M1924.3 918.3h0M910.4 915.3h0M1927.0 917.5h0M969.3 919.8h0M879.5 920.0h0M950.5 931.6h0M1111.2 928.7h0M1366.0 929.2h0M1944.3 922.5h0M1499.5 911.0h0M1088.9 901.5h0M1103.5 911.1h0M1191.8 913.6h0M1124.2 919.4h0M900.9 926.2h0M1524.1 900.0h0M1470.6 919.1h0M1535.5 915.3h0"/><path class="o" d="M1034.7 928.1h0M1452.1 921.6h0M1058.0 931.4h0M1649.7 921.4h0M1280.8 926.9h0M1211.7 927.3h0M1526.9 929.3h0M1079.7 927.7h0M1953.0 924.7h0M1309.2 918.7h0M908.3 931.1h0M1021.1 915.2h0M1280.1 918.3h0M1010.5 931.9h0M1460.9 920.8h0M1507.3 930.9h0M1937.0 920.6h0M1404.0 930.9h0M1282.4 926.9h0M1098.0 917.1h0M1298.4 932.1h0M1907.6 928.5h0M1107.3 918.8h0M1155.2 930.5h0M908.5 927.2h0M952.4 922.5h0M1598.7 925.1h0M1107.9 915.2h0M1450.1 928.3h0M959.1 932.1h0"/><path class="i" stroke="#000080" d="M1452.1 921.6h0M1058.0 931.4h0M1649.7 921.4h0M1280.8 926.9h0M1211.7 927.3h0M1309.2 918.7h0M1021.1 915.2h0M1280.1 918.3h0M1010.5 931.9h0M1460.9 920.8h0M1507.3 930.9h0M1937.0 920.6h0M1282.4 926.9h0M1098.0 917.1h0M1907.6 928.5h0M1107.3 918.8h0M908.5 927.2h0M952.4 922.5h0M1107.9 915.2h0M1450.1 928.3h0"/><path class="o" d="M1046.7 917.8h0M1943.4 914.0h0M887.5 925.5h0M1068.9 927.3h0M1112.3 913.4h0M1326.1 926.2h0M1100.0 931.2h0M1123.3 920.3h0M908.4 919.2h0M909.0 926.8h0M1923.9 932.2h0M947.8 923.3h0M1198.5 923.9h0M1305.4 927.2h0M1327.5 927.6h0M1288.3 922.2h0M1436.1 918.8h0M1036.6 896.3h0M1354.7 921.0h0M1935.5 920.3h0M1066.6 922.2h0M1094.4 920.4h0M1384.1 927.1h0M1424.8 929.3h0M1671.7 929.6h0M1046.8 924.8h0M1000.0 904.4h0M1454.5 905.7h0M1162.5 923.5h0M1906.0 928.5h0"/><path class="i" stroke="#000080" d="M1046.7 917.8h0M1943.4 914.0h0M1112.3 913.4h0M1123.3 920.3h0M908.4 919.2h0M909.0 926.8h0M947.8 923.3h0M1327.5 927.6h0M1288.3 922.2h0M1436.1 918.8h0M1036.6 896.3h0M1354.7 921.0h0M1935.5 920.3h0M1066.6 922.2h0M1094.4 920.4h0M1046.8 924.8h0M1000.0 904.4h0M1454.5 905.7h0M1906.0 928.5h0"/><path class="o" d="M1082.2 919.0h0M1180.8 918.2h0M1433.8 926.7h0M1539.2 908.8h0M1587.4 930.4h0M1921.7 927.7h0M1241.6 930.3h0M1121.5 929.2h0M1406.4 916.3h0M1669.6 926.1h0M1656.1 932.4h0M1158.9 925.3h0M921.3 922.9h0M1249.2 931.7h0M1205.8 926.7h0M1666.3 907.9h0M1917.6 918.8h0M879.8 932.5h0M936.7 926.4h0M914.5 932.5h0M1931.5 931.2h0M1230.0 924.7h0M1173.7 921.2h0M1636.8 919.7h0M1628.1 925.7h0M1909.7 925.8h0M989.3 922.4h0M1583.0 932.2h0M989.1 904.3h0M1502.2 897.1h0"/><path class="i" stroke="#000080" d="M1180.8 918.2h0M1539.2 908.8h0M1921.7 927.7h0M1241.6 930.3h0M1406.4 916.3h0M1158.9 925.3h0M921.3 922.9h0M1249.2 931.7h0M1666.3 907.9h0M1917.6 918.8h0M936.7 926.4h0M914.5 932.5h0M1173.7 921.2h0M1636.8 919.7h0M1628.1 925.7h0M989.3 922.4h0M989.1 904.3h0M1502.2 897.1h0"/><path class="o" d="M1061.1 930.6h0M1342.8 930.9h0M890.0 923.2h0M1528.1 914.6h0M1153.4 923.8h0M1368.3 929.4h0M1620.8 924.8h0M964.4 922.3h0M1541.1 920.9h0M1085.3 920.2h0M874.5 923.5h0M1041.3 924.6h0M1114.3 922.5h0M1455.4 915.9h0M971.9 908.5h0M1926.3 895.3h0M1291.7 929.3h0M1471.8 928.8h0M1612.2 918.4h0M1087.2 913.1h0M1469.7 924.4h0M1398.6 920.3h0M1053.7 918.0h0M1133.6 927.9h0M1233.1 931.8h0M1394.3 925.5h0M1290.1 930.1h0M1614.9 931.6h0M951.9 928.0h0M894.6 917.9h0"/><path class="i" stroke="#000080" d="M1061.1 930.6h0M1342.8 930.9h0M890.0 923.2h0M1528.1 914.6h0M964.4 922.3h0M1085.3 920.2h0M1041.3 924.6h0M1114.3 922.5h0M971.9 908.5h0M1926.3 895.3h0M1291.7 929.3h0M1087.2 913.1h0M1398.6 920.3h0M1053.7 918.0h0M1290.1 930.1h0M894.6 917.9h0"/><path class="o" d="M1387.9 922.0h0M1574.8 927.7h0M1400.6 931.0h0M1163.8 908.5h0M1477.3 931.0h0M984.2 916.6h0M1936.9 927.8h0M1142.1 930.0h0M1001.9 924.7h0M1659.4 928.9h0M1342.2 932.2h0M885.4 927.7h0M1575.4 915.4h0M1386.8 923.2h0M1407.1 931.2h0M1314.4 931.7h0M1000.9 914.7h0M1086.2 928.3h0M883.6 920.7h0M871.0 924.5h0M874.3 912.7h0M1536.3 919.8h0M1666.2 911.2h0M1518.6 918.2h0M1474.9 926.2h0M1142.0 921.5h0M1679.4 928.0h0M1581.3 923.7h0M1337.6 932.5h0M1222.2 926.3h0"/><path class="i" stroke="#000080" d="M1387.9 922.0h0M1163.8 908.5h0M1477.3 931.0h0M984.2 916.6h0M1142.1 930.0h0M1659.4 928.9h0M1386.8 923.2h0M1407.1 931.2h0M1000.9 914.7h0M883.6 920.7h0M874.3 912.7h0M1536.3 919.8h0M1666.2 911.2h0M1518.6 918.2h0M1474.9 926.2h0M1679.4 928.0h0"/><path class="o" d="M896.8 926.6h0M1444.2 932.4h0M928.7 917.8h0M1171.3 930.9h0M1922.0 922.8h0M1392.4 918.4h0M1231.7 922.7h0M1162.6 925.6h0M1254.1 931.3h0M932.5 924.6h0M1169.7 931.2h0M1603.2 929.6h0M934.1 921.3h0M1214.9 923.5h0M1582.3 908.2h0M1089.2 921.9h0M981.4 921.0h0M978.5 914.7h0M1005.3 911.4h0M1188.3 923.4h0M1940.6 923.6h0M1597.4 930.7h0M971.6 901.4h0M1605.9 930.0h0M1091.2 914.1h0M1672.0 925.4h0M1315.2 929.0h0M960.1 928.2h0M1553.3 921.4h0M1086.1 920.9h0"/><path class="i" stroke="#000080" d="M896.8 926.6h0M928.7 917.8h0M1922.0 922.8h0M1392.4 918.4h0M1231.7 922.7h0M1162.6 925.6h0M1254.1 931.3h0M932.5 924.6h0M934.1 921.3h0M1582.3 908.2h0M978.5 914.7h0M1005.3 911.4h0M1940.6 923.6h0M971.6 901.4h0M1605.9 930.0h0M1091.2 914.1h0M1553.3 921.4h0"/><path class="o" d="M998.1 911.9h0M978.2 924.3h0M1916.8 919.1h0M1025.7 912.7h0M1019.8 915.0h0M1576.2 920.8h0M1940.9 928.8h0M920.0 925.3h0M1173.3 923.8h0M1929.1 919.6h0M1912.7 923.2h0M989.6 931.5h0M880.3 915.1h0M1059.4 926.8h0M1227.6 917.6h0M1389.4 925.7h0M1919.5 928.4h0M1636.8 896.9h0M1514.2 921.9h0M1414.0 927.2h0M999.4 930.4h0M1535.8 920.8h0M867.7 908.8h0M1363.9 929.2h0M888.3 922.7h0M1008.9 929.2h0M1404.0 918.9h0M940.2 919.7h0M1657.7 927.2h0M1372.9 918.2h0"/><path class="i" stroke="#000080" d="M998.1 911.9h0M1916.8 919.1h0M1019.8 915.0h0M1929.1 919.6h0M1912.7 923.2h0M989.6 931.5h0M880.3 915.1h0M1227.6 917.6h0M1389.4 925.7h0M1636.8 896.9h0M1514.2 921.9h0M1414.0 927.2h0M999.4 930.4h0M1535.8 920.8h0M867.7 908.8h0M1363.9 929.2h0M1404.0 918.9h0M940.2 919.7h0M1372.9 918.2h0"/><path class="o" d="M1587.1 925.6h0M1939.7 929.3h0M1044.6 925.1h0M1034.2 912.4h0M1158.9 916.3h0M1476.8 915.9h0M1077.3 924.8h0M1438.5 925.3h0M1515.7 932.4h0M1006.0 901.6h0M919.8 931.3h0M1488.9 930.3h0M1409.0 929.8h0M1504.1 927.0h0M1103.8 922.2h0M998.3 909.7h0M1019.4 916.5h0M1531.6 929.1h0M1120.4 928.4h0M1487.4 924.1h0M1905.3 919.1h0M1622.1 905.3h0M1075.6 899.3h0M1089.3 928.4h0M1664.9 917.1h0M1123.3 930.2h0M1580.6 925.0h0M1632.8 917.7h0M912.1 923.8h0M1236.4 930.0h0"/><path class="i" stroke="#000080" d="M1044.6 925.1h0M1034.2 912.4h0M1158.9 916.3h0M1476.8 915.9h0M1438.5 925.3h0M1515.7 932.4h0M1006.0 901.6h0M1488.9 930.3h0M1103.8 922.2h0M998.3 909.7h0M1019.4 916.5h0M1905.3 919.1h0M1622.1 905.3h0M1075.6 899.3h0M1664.9 917.1h0M912.1 923.8h0M1236.4 930.0h0"/><path class="o" d="M1902.0 932.1h0M972.2 927.5h0M1252.9 932.5h0M915.0 919.3h0M1488.4 923.4h0M1160.2 927.6h0M1288.5 928.9h0M1003.5 924.5h0M1093.5 921.9h0M1595.9 932.4h0M1635.9 917.9h0M1577.9 919.2h0M1630.5 918.4h0M1912.6 920.6h0M1439.9 929.4h0M1167.5 928.0h0M1384.1 923.3h0M1219.0 921.7h0M1024.2 893.3h0M875.0 920.4h0M1308.5 929.6h0M1913.1 926.7h0M1145.0 920.3h0M1090.5 908.9h0M1656.3 928.5h0M1425.0 921.0h0M1327.2 920.9h0M1438.0 918.9h0M1941.9 930.0h0M1092.5 915.2h0"/><path class="i" stroke="#000080" d="M1252.9 932.5h0M915.0 919.3h0M1160.2 927.6h0M1288.5 928.9h0M1093.5 921.9h0M1635.9 917.9h0M1577.9 919.2h0M1630.5 918.4h0M1912.6 920.6h0M1167.5 928.0h0M1384.1 923.3h0M1024.2 893.3h0M875.0 920.4h0M1145.0 920.3h0M1090.5 908.9h0M1656.3 928.5h0M1425.0 921.0h0M1438.0 918.9h0M1941.9 930.0h0M1092.5 915.2h0"/><path class="o" d="M1118.6 915.7h0M1498.5 920.1h0M1179.9 914.4h0M1908.3 922.4h0M1925.0 912.8h0M1434.9 899.4h0M938.3 924.3h0M1039.3 926.7h0M1315.9 930.5h0M929.1 914.6h0M1187.8 931.3h0M999.2 924.6h0M949.0 924.1h0M1427.4 914.7h0M1464.4 924.7h0M1356.3 931.1h0M1935.4 928.8h0M1300.1 927.5h0M1240.4 925.1h0M1154.5 917.2h0M1444.2 924.0h0M1344.1 922.4h0M1193.6 904.9h0M1214.6 921.4h0M1130.3 909.8h0M1502.6 916.0h0M1421.6 925.0h0M1590.8 914.7h0M1958.7 914.8h0M1017.1 926.5h0"/><path class="i" stroke="#000080" d="M1118.6 915.7h0M1179.9 914.4h0M1908.3 922.4h0M1925.0 912.8h0M1434.9 899.4h0M938.3 924.3h0M929.1 914.6h0M949.0 924.1h0M1427.4 914.7h0M1464.4 924.7h0M1935.4 928.8h0M1300.1 927.5h0M1240.4 925.1h0M1154.5 917.2h0M1344.1 922.4h0M1193.6 904.9h0M1214.6 921.4h0M1130.3 909.8h0M1502.6 916.0h0"/><path class="o" d="M1655.3 927.6h0M1325.2 922.6h0M1419.3 927.7h0M1348.7 931.0h0M1492.2 910.3h0M1116.5 930.4h0M1956.8 893.8h0M1528.8 908.7h0M888.6 932.3h0M1420.8 896.9h0M1489.8 904.8h0M1189.3 929.3h0M1564.7 902.2h0M1669.9 915.6h0M1523.2 928.5h0M1545.5 932.5h0M1592.9 917.4h0M1339.9 913.8h0M1472.7 903.8h0M1385.0 930.9h0M944.3 924.8h0M1127.1 913.6h0M1305.1 926.3h0M1240.0 927.0h0M1655.4 926.2h0M1131.4 923.6h0M1301.2 926.3h0M1342.6 923.4h0M1585.0 912.0h0M1471.5 907.4h0"/><path class="i" stroke="#000080" d="M1655.3 927.6h0M1325.2 922.6h0M1492.2 910.3h0M1956.8 893.8h0M1528.8 908.7h0M1420.8 896.9h0M1489.8 904.8h0M1564.7 902.2h0M1669.9 915.6h0M1592.9 917.4h0M1339.9 913.8h0M1472.7 903.8h0M1127.1 913.6h0M1240.0 927.0h0M1655.4 926.2h0M1301.2 926.3h0M1585.0 912.0h0M1471.5 907.4h0"/><path class="o" d="M980.1 914.1h0M1047.4 926.0h0M1250.2 929.2h0M958.6 924.2h0M1517.8 889.7h0M1123.7 906.1h0M1121.0 911.2h0M1101.2 914.2h0M1297.1 930.3h0M954.1 925.6h0M1469.6 932.0h0M1401.7 922.7h0M1474.1 926.4h0M1175.5 912.2h0M1070.7 901.5h0M904.2 921.6h0M1411.2 926.6h0M1328.2 919.6h0M1436.0 915.3h0M1566.7 904.7h0M1229.3 926.3h0M947.6 926.0h0M1403.3 921.7h0M1095.9 929.1h0M1220.0 920.2h0M1367.0 930.2h0M1954.9 914.5h0M1117.5 925.7h0M1275.1 926.2h0M1463.4 923.1h0"/><path class="i" stroke="#000080" d="M1250.2 929.2h0M1517.8 889.7h0M1123.7 906.1h0M1121.0 911.2h0M954.1 925.6h0M1175.5 912.2h0M1070.7 901.5h0M904.2 921.6h0M1328.2 919.6h0M1436.0 915.3h0M1566.7 904.7h0M1229.3 926.3h0M1403.3 921.7h0M1095.9 929.1h0M1220.0 920.2h0M1954.9 914.5h0M1275.1 926.2h0M1463.4 923.1h0"/><path class="o" d="M1389.4 926.8h0M1220.4 926.2h0M1120.4 914.5h0M1496.6 930.2h0M1965.0 932.3h0M1529.9 930.7h0M1276.4 922.1h0M1050.1 916.5h0M1941.2 932.6h0M867.9 932.6h0M1584.6 912.6h0M892.0 931.5h0M1629.6 920.3h0M1005.3 891.8h0M1273.9 929.4h0M1114.0 918.4h0M901.0 927.4h0M900.1 924.5h0M875.1 927.3h0M1294.8 925.3h0M1403.9 923.9h0M947.9 927.7h0M1658.0 929.3h0M1375.3 930.7h0M1440.6 924.6h0M1405.0 927.5h0M1521.2 918.5h0M1065.5 911.9h0M883.1 928.5h0M972.5 917.9h0"/><path class="i" stroke="#000080" d="M1120.4 914.5h0M1276.4 922.1h0M1050.1 916.5h0M1584.6 912.6h0M892.0 931.5h0M1629.6 920.3h0M1005.3 891.8h0M1273.9 929.4h0M1114.0 918.4h0M900.1 924.5h0M1294.8 925.3h0M1403.9 923.9h0M947.9 927.7h0M1521.2 918.5h0M1065.5 911.9h0M972.5 917.9h0"/><path class="o" d="M1969.9 923.2h0M1551.2 916.5h0M986.3 902.0h0M1674.1 925.2h0M1157.1 917.5h0M1133.2 919.4h0M1559.9 930.5h0M955.5 931.0h0M876.6 919.5h0M1616.5 932.6h0M1354.2 912.8h0M1276.8 929.0h0M886.7 918.8h0M1643.3 911.9h0M1523.1 930.8h0M1080.5 928.9h0M1571.8 922.0h0M1335.8 917.3h0M1378.9 924.7h0M1575.9 932.3h0M1231.1 930.3h0M1507.5 918.4h0M948.3 922.1h0M905.1 931.8h0M1237.8 926.0h0M1241.1 915.0h0M1035.7 915.4h0M1017.8 907.2h0M1661.9 925.7h0M883.9 916.8h0"/><path class="i" stroke="#000080" d="M1969.9 923.2h0M1551.2 916.5h0M986.3 902.0h0M1674.1 925.2h0M1157.1 917.5h0M1133.2 919.4h0M1354.2 912.8h0M1276.8 929.0h0M886.7 918.8h0M1643.3 911.9h0M1080.5 928.9h0M1571.8 922.0h0M1335.8 917.3h0M1231.1 930.3h0M1507.5 918.4h0M905.1 931.8h0M1237.8 926.0h0M1241.1 915.0h0M1017.8 907.2h0M883.9 916.8h0"/><path class="o" d="M1405.1 925.0h0M1198.3 919.2h0M1336.8 925.0h0M1036.3 923.6h0M927.9 926.8h0M1934.2 928.0h0M1151.7 925.7h0M1388.1 927.4h0M1451.4 918.5h0M1023.9 915.7h0M1318.0 930.1h0M1187.1 928.3h0M1318.8 922.0h0M1445.9 931.8h0M1492.3 923.6h0M1186.4 929.2h0M1246.6 929.3h0M941.8 924.4h0M1934.1 928.0h0M1434.4 926.9h0M1319.6 916.4h0M1942.0 929.3h0M1653.0 925.1h0M1286.7 930.8h0M1379.5 929.1h0M1097.6 920.2h0M878.2 930.3h0M1522.4 910.2h0M1611.7 926.0h0M1630.7 914.1h0"/><path class="i" stroke="#000080" d="M1198.3 919.2h0M927.9 926.8h0M1934.2 928.0h0M1151.7 925.7h0M1388.1 927.4h0M1451.4 918.5h0M1318.0 930.1h0M1318.8 922.0h0M1492.3 923.6h0M1186.4 929.2h0M1246.6 929.3h0M1934.1 928.0h0M1434.4 926.9h0M1319.6 916.4h0M1942.0 929.3h0M1653.0 925.1h0M1379.5 929.1h0M1522.4 910.2h0M1611.7 926.0h0M1630.7 914.1h0"/><path class="o" d="M1235.7 926.7h0M1177.4 918.4h0M1600.8 918.9h0M1163.6 922.9h0M1317.8 924.9h0M1490.3 931.8h0M1929.4 927.0h0M1649.8 923.1h0M1422.1 930.6h0M1400.5 927.8h0M924.0 928.0h0M887.1 926.4h0M1034.4 920.8h0M1616.0 932.4h0M1273.5 929.1h0M1467.8 919.8h0M887.6 929.8h0M1373.5 930.3h0M1581.3 918.8h0M1470.6 923.1h0M1169.0 924.0h0M1111.0 918.4h0M902.5 912.4h0M987.0 930.5h0M1166.5 921.0h0M1620.6 899.3h0M872.5 925.4h0M1099.7 913.8h0M1225.2 924.8h0M1028.6 916.4h0"/><path class="i" stroke="#000080" d="M1177.4 918.4h0M1600.8 918.9h0M1929.4 927.0h0M1649.8 923.1h0M1400.5 927.8h0M1273.5 929.1h0M1581.3 918.8h0M1169.0 924.0h0M902.5 912.4h0M1166.5 921.0h0M1620.6 899.3h0M1099.7 913.8h0M1225.2 924.8h0M1028.6 916.4h0"/><path class="o" d="M1147.1 916.2h0M1617.8 916.1h0M1926.8 921.9h0M1437.1 928.9h0M1943.2 913.5h0M1496.0 918.1h0M1541.4 927.8h0M1165.3 928.0h0M1414.6 927.4h0M1428.8 926.8h0M1302.8 927.9h0M1282.2 929.3h0M1960.6 914.7h0M1084.4 927.0h0M1676.9 924.0h0M882.3 909.0h0M1081.8 919.1h0M1946.4 921.3h0M1061.4 911.8h0M1168.0 925.0h0M1050.7 914.1h0M1342.8 916.0h0M1410.0 928.4h0M1607.6 926.5h0M974.5 927.9h0M1527.0 911.4h0M996.5 914.4h0M1505.2 929.8h0M1153.9 913.8h0M1306.4 930.9h0"/><path class="i" stroke="#000080" d="M1147.1 916.2h0M1617.8 916.1h0M1926.8 921.9h0M1943.2 913.5h0M1496.0 918.1h0M1541.4 927.8h0M1414.6 927.4h0M1428.8 926.8h0M1302.8 927.9h0M1282.2 929.3h0M1084.4 927.0h0M1676.9 924.0h0M882.3 909.0h0M1946.4 921.3h0M1061.4 911.8h0M1168.0 925.0h0M1050.7 914.1h0M1342.8 916.0h0M1410.0 928.4h0M1607.6 926.5h0M974.5 927.9h0M1527.0 911.4h0M1153.9 913.8h0"/><path class="o" d="M1423.8 893.6h0M1646.7 925.8h0M913.7 921.7h0M1606.9 926.5h0M913.4 927.7h0M1137.1 931.9h0M1406.1 923.7h0M1536.9 922.7h0M1068.7 930.3h0M1630.5 922.4h0M1097.2 919.5h0M1342.4 915.7h0M1364.3 928.9h0M1171.7 925.3h0M911.7 922.8h0M899.4 903.1h0M1560.3 926.5h0M1589.3 929.1h0M1334.6 911.4h0M1320.2 924.2h0M1527.4 924.4h0M1052.9 926.0h0M1109.9 922.0h0M1461.4 926.5h0M934.0 927.0h0M1635.3 912.9h0M1391.5 923.5h0M1628.4 899.1h0M1127.9 921.6h0M1943.3 921.0h0"/><path class="i" stroke="#000080" d="M1423.8 893.6h0M1646.7 925.8h0M913.4 927.7h0M1406.1 923.7h0M1630.5 922.4h0M1097.2 919.5h0M1342.4 915.7h0M1171.7 925.3h0M911.7 922.8h0M899.4 903.1h0M1334.6 911.4h0M1527.4 924.4h0M1635.3 912.9h0M1391.5 923.5h0M1628.4 899.1h0M1127.9 921.6h0M1943.3 921.0h0"/><path class="o" d="M1137.8 931.0h0M1228.8 920.1h0M1520.7 911.3h0M1202.7 925.9h0M1356.2 922.8h0M1508.9 897.4h0M973.3 921.6h0M903.3 914.6h0M1449.7 927.7h0M1447.7 931.5h0M1100.4 900.0h0M1491.1 914.3h0M880.6 922.7h0M1654.1 920.2h0M1951.5 919.3h0M1429.9 932.3h0M1029.1 903.2h0M1493.1 931.5h0M1302.3 928.8h0M1031.4 917.6h0M1428.5 924.3h0M1200.3 909.3h0M916.9 907.2h0M1193.3 913.9h0M948.6 925.2h0M1066.9 909.6h0M1114.2 916.8h0M1487.2 918.8h0M1294.9 931.1h0M1638.7 920.2h0"/><path class="i" stroke="#000080" d="M1137.8 931.0h0M1228.8 920.1h0M1520.7 911.3h0M1508.9 897.4h0M903.3 914.6h0M1100.4 900.0h0M880.6 922.7h0M1654.1 920.2h0M1951.5 919.3h0M1029.1 903.2h0M1200.3 909.3h0M916.9 907.2h0M1193.3 913.9h0M1066.9 909.6h0M1114.2 916.8h0M1487.2 918.8h0M1638.7 920.2h0"/><path class="o" d="M1195.8 912.1h0M1299.2 925.9h0M1958.8 922.7h0M1596.9 930.1h0M1225.5 919.6h0M1024.7 921.6h0M1498.4 928.2h0M1546.1 924.0h0M1150.9 922.3h0M1194.3 928.1h0M1599.5 923.4h0M1022.3 931.5h0M1195.0 925.4h0M1494.3 931.1h0M983.1 917.5h0M1565.7 915.3h0M1674.5 930.5h0M1485.2 919.1h0M1372.6 914.8h0M1283.1 932.1h0M1660.4 930.3h0M1074.7 925.2h0M927.7 924.0h0M1055.6 909.5h0M1326.2 921.5h0M1133.0 928.9h0M1296.0 915.5h0M1564.6 911.0h0M1631.7 927.3h0M1330.9 920.1h0"/><path class="i" stroke="#000080" d="M1195.8 912.1h0M1225.5 919.6h0M1024.7 921.6h0M1546.1 924.0h0M1494.3 931.1h0M983.1 917.5h0M1565.7 915.3h0M1674.5 930.5h0M1372.6 914.8h0M1074.7 925.2h0M1055.6 909.5h0M1133.0 928.9h0M1296.0 915.5h0M1564.6 911.0h0M1330.9 920.1h0"/><path class="o" d="M1673.7 926.9h0M1569.3 891.9h0M1087.8 930.8h0M1561.2 894.0h0M1585.9 917.4h0M979.7 904.0h0M1511.1 927.3h0M1559.3 931.1h0M1198.7 926.5h0M1390.7 927.2h0M1210.2 923.0h0M1432.4 923.0h0M1368.7 926.4h0M1140.7 928.8h0M1227.2 917.6h0M872.4 921.7h0M1183.2 927.8h0M1251.3 930.6h0M1964.2 916.0h0M1640.5 924.5h0M1559.9 926.2h0M1469.3 913.1h0M1530.3 926.2h0M1147.7 928.5h0M1158.6 925.4h0M1244.1 929.6h0M895.2 911.2h0M1216.6 919.5h0M1497.9 916.7h0M933.7 927.9h0"/><path class="i" stroke="#000080" d="M1569.3 891.9h0M1561.2 894.0h0M979.7 904.0h0M1511.1 927.3h0M1390.7 927.2h0M1210.2 923.0h0M1432.4 923.0h0M1368.7 926.4h0M1140.7 928.8h0M1227.2 917.6h0M872.4 921.7h0M1183.2 927.8h0M1964.2 916.0h0M1469.3 913.1h0M1530.3 926.2h0M1147.7 928.5h0M895.2 911.2h0M1216.6 919.5h0M933.7 927.9h0"/><path class="o" d="M951.4 930.1h0M1200.3 903.4h0M995.3 912.9h0M1677.7 913.0h0M1166.1 918.1h0M1135.1 899.1h0M1004.6 924.5h0M1591.7 915.9h0M1055.1 922.4h0M1060.8 924.1h0M1045.2 930.7h0M1557.5 919.5h0M1968.5 930.5h0M1207.0 922.4h0M1621.1 912.2h0M1453.2 921.7h0M1454.2 925.0h0M1619.2 911.1h0M1660.8 929.2h0M1433.5 932.3h0M1284.8 922.6h0M1612.0 914.3h0M1319.9 928.1h0M1361.4 924.5h0M1296.9 929.4h0M1359.1 917.6h0M1275.8 929.6h0M1432.3 919.3h0M1158.2 917.6h0M1516.3 912.3h0"/><path class="i" stroke="#000080" d="M1200.3 903.4h0M1677.7 913.0h0M1166.1 918.1h0M1135.1 899.1h0M1591.7 915.9h0M1055.1 922.4h0M1060.8 924.1h0M1045.2 930.7h0M1557.5 919.5h0M1621.1 912.2h0M1453.2 921.7h0M1619.2 911.1h0M1284.8 922.6h0M1612.0 914.3h0M1361.4 924.5h0M1359.1 917.6h0M1432.3 919.3h0M1158.2 917.6h0M1516.3 912.3h0"/><path class="o" d="M1464.2 915.6h0M1538.3 932.4h0M1903.1 928.0h0M1203.2 917.9h0M1033.3 914.0h0M1941.3 930.9h0M878.6 924.4h0M1673.8 918.4h0M1646.7 922.0h0M1624.1 917.0h0M896.0 929.2h0M1414.7 931.3h0M1645.5 904.7h0M984.2 924.0h0M1035.5 928.4h0M1022.9 915.5h0M1048.3 916.6h0M1214.2 917.8h0M1486.5 929.1h0M890.0 929.0h0M1671.4 927.0h0M1140.0 904.9h0M1448.4 919.1h0M1298.3 916.3h0M1406.7 921.4h0M1205.1 919.3h0M955.7 925.5h0M987.3 924.4h0M920.5 918.9h0M902.9 930.5h0"/><path class="i" stroke="#000080" d="M1203.2 917.9h0M1941.3 930.9h0M878.6 924.4h0M1673.8 918.4h0M1646.7 922.0h0M1624.1 917.0h0M1645.5 904.7h0M1035.5 928.4h0M1022.9 915.5h0M1048.3 916.6h0M1214.2 917.8h0M1671.4 927.0h0M1140.0 904.9h0M1448.4 919.1h0M1298.3 916.3h0M1406.7 921.4h0M1205.1 919.3h0M955.7 925.5h0"/><path class="o" d="M1941.9 919.8h0M1562.6 924.0h0M969.1 925.3h0M1029.8 914.8h0M904.1 921.5h0M1514.4 931.5h0M911.4 926.3h0M1327.6 918.0h0M916.4 927.3h0M1043.1 920.7h0M1095.6 921.6h0M975.5 909.1h0M1661.5 927.1h0M1614.2 919.6h0M1221.4 931.9h0M1350.4 927.5h0M1095.1 903.6h0M983.0 929.2h0M1052.3 917.7h0M991.9 929.3h0M994.7 919.6h0M1143.7 931.0h0M1132.4 918.5h0M1070.6 923.5h0M1279.5 925.6h0M973.8 925.0h0M1321.5 920.7h0M1537.4 925.3h0M1297.1 913.0h0M1457.1 911.1h0"/><path class="i" stroke="#000080" d="M1941.9 919.8h0M969.1 925.3h0M1029.8 914.8h0M904.1 921.5h0M1327.6 918.0h0M1043.1 920.7h0M975.5 909.1h0M1661.5 927.1h0M1614.2 919.6h0M1221.4 931.9h0M1095.1 903.6h0M1052.3 917.7h0M1132.4 918.5h0M1070.6 923.5h0M1279.5 925.6h0M1321.5 920.7h0M1537.4 925.3h0M1297.1 913.0h0M1457.1 911.1h0"/><path class="o" d="M978.4 929.0h0M961.6 923.1h0M1411.8 926.0h0M1570.5 931.0h0M924.6 918.5h0M1506.0 927.3h0M1939.6 915.8h0M1500.8 925.2h0M1073.1 926.1h0M1384.7 929.7h0M1598.3 928.5h0M1950.0 922.7h0M1635.5 929.4h0M1508.6 918.5h0M1628.0 926.0h0M900.2 926.0h0M1585.9 910.6h0M1562.1 925.2h0M1492.0 919.9h0M1640.0 930.8h0M1164.5 930.3h0M1902.5 929.4h0M1042.7 918.5h0M1657.0 929.4h0M1502.3 920.0h0M994.8 928.5h0M1386.2 920.2h0M1618.9 930.4h0M1651.7 927.7h0M1610.7 928.3h0"/><path class="i" stroke="#000080" d="M961.6 923.1h0M924.6 918.5h0M1939.6 915.8h0M1073.1 926.1h0M1384.7 929.7h0M1585.9 910.6h0M1562.1 925.2h0M1492.0 919.9h0M994.8 928.5h0M1386.2 920.2h0M1651.7 927.7h0"/><path class="o" d="M876.8 919.9h0M1315.0 921.6h0M1323.9 928.6h0M1149.4 917.7h0M1969.8 919.1h0M872.6 915.5h0M1565.4 928.0h0M1053.7 930.7h0M1089.3 921.3h0M1399.5 930.5h0M1510.0 913.3h0M1366.5 925.5h0M1463.4 931.0h0M944.1 928.2h0M1413.8 924.6h0M1475.9 927.6h0M937.5 905.6h0M896.0 907.8h0M1918.3 927.5h0M1398.3 924.6h0M1415.6 932.4h0M1288.7 927.5h0M1901.3 926.4h0M1122.0 920.7h0M1385.9 929.5h0M1429.3 927.2h0M1601.4 910.2h0M1481.2 909.6h0M1354.3 922.4h0M1161.1 917.7h0"/><path class="i" stroke="#000080" d="M876.8 919.9h0M1315.0 921.6h0M1149.4 917.7h0M1969.8 919.1h0M872.6 915.5h0M1399.5 930.5h0M1366.5 925.5h0M937.5 905.6h0M896.0 907.8h0M1288.7 927.5h0M1901.3 926.4h0M1122.0 920.7h0M1601.4 910.2h0M1481.2 909.6h0M1354.3 922.4h0M1161.1 917.7h0"/><path class="o" d="M1040.8 927.0h0M891.4 927.8h0M899.4 928.8h0M1230.7 929.7h0M1573.5 913.2h0M1201.3 927.9h0M1619.6 926.8h0M1164.7 930.1h0M1211.2 900.5h0M1247.8 928.4h0M1031.2 912.2h0M1354.6 927.0h0M1062.9 929.1h0M898.8 919.2h0M1068.2 928.8h0M1115.6 902.2h0M1370.4 923.8h0M1500.7 912.0h0M1567.5 924.0h0M1654.2 928.9h0M980.5 930.6h0M1029.9 914.8h0M1243.1 930.5h0M1641.9 923.8h0M1143.3 922.6h0M1298.7 930.7h0M1295.1 925.6h0M1942.7 932.0h0M1604.3 917.4h0M1479.0 898.8h0"/><path class="i" stroke="#000080" d="M1573.5 913.2h0M1619.6 926.8h0M1164.7 930.1h0M1211.2 900.5h0M1031.2 912.2h0M1354.6 927.0h0M898.8 919.2h0M1115.6 902.2h0M1370.4 923.8h0M1500.7 912.0h0M1567.5 924.0h0M1654.2 928.9h0M980.5 930.6h0M1029.9 914.8h0M1243.1 930.5h0M1641.9 923.8h0M1143.3 922.6h0M1295.1 925.6h0M1604.3 917.4h0M1479.0 898.8h0"/><path class="o" d="M868.4 929.6h0M1255.3 932.6h0M925.0 931.2h0M1932.9 931.1h0M1623.7 924.2h0M1062.9 931.6h0M1662.9 924.2h0M1011.4 900.1h0M973.4 929.2h0M1217.4 930.9h0M1492.6 920.1h0M1509.8 926.4h0M1623.4 923.3h0M1371.8 923.6h0M1391.0 932.1h0M1148.5 929.1h0M1379.1 929.6h0M1628.5 931.2h0M1948.0 917.7h0M1961.3 929.0h0M1497.8 915.1h0M1130.3 914.7h0M1929.6 918.3h0M1617.5 928.6h0M1087.0 931.4h0M1291.4 925.5h0M914.4 930.3h0M1375.9 928.0h0M1918.9 910.8h0M1656.0 926.8h0"/><path class="i" stroke="#000080" d="M868.4 929.6h0M1255.3 932.6h0M1623.7 924.2h0M1062.9 931.6h0M1011.4 900.1h0M1217.4 930.9h0M1492.6 920.1h0M1509.8 926.4h0M1623.4 923.3h0M1371.8 923.6h0M1948.0 917.7h0M1497.8 915.1h0M1929.6 918.3h0M1291.4 925.5h0M1375.9 928.0h0M1918.9 910.8h0"/><path class="o" d="M1397.9 923.1h0M1568.8 911.9h0M1435.0 921.9h0M1083.4 919.3h0M1518.4 928.0h0M1637.1 920.9h0M1181.1 925.9h0M1598.6 921.2h0M1215.8 927.9h0M1272.9 930.0h0M1437.2 925.8h0M1145.0 928.9h0M920.8 930.0h0M1947.6 927.8h0M954.7 928.2h0M1423.0 927.2h0M1513.5 896.1h0M948.9 903.1h0M1606.8 899.7h0M1394.0 923.3h0M1448.9 925.6h0M1041.7 905.4h0M891.5 927.1h0M1544.3 919.3h0M1412.2 899.6h0M1469.8 917.7h0M1246.7 926.1h0M1175.9 918.4h0M1041.1 915.3h0M1914.3 920.1h0"/><path class="i" stroke="#000080" d="M1397.9 923.1h0M1568.8 911.9h0M1435.0 921.9h0M1598.6 921.2h0M1272.9 930.0h0M954.7 928.2h0M1513.5 896.1h0M948.9 903.1h0M1606.8 899.7h0M1394.0 923.3h0M1041.7 905.4h0M891.5 927.1h0M1544.3 919.3h0M1412.2 899.6h0M1469.8 917.7h0M1246.7 926.1h0M1175.9 918.4h0M1914.3 920.1h0"/><path class="o" d="M1550.6 915.4h0M931.8 929.5h0M920.4 920.1h0M1155.8 928.4h0M1471.3 924.5h0M1307.0 931.0h0M1141.7 930.4h0M1276.7 931.9h0M966.5 926.4h0M1146.5 919.2h0M1292.5 930.1h0M1164.2 916.8h0M1174.9 928.0h0M1187.6 929.2h0M1145.3 906.0h0M1407.4 919.9h0M1379.1 916.1h0M1606.6 911.5h0M1605.2 921.9h0M1126.4 923.1h0M1374.0 930.7h0M878.2 917.6h0M971.2 926.7h0M1289.7 922.6h0M888.7 927.6h0M1620.1 930.6h0M1909.9 931.3h0M1335.9 928.0h0M1037.1 923.6h0M1637.8 927.1h0"/><path class="i" stroke="#000080" d="M1550.6 915.4h0M920.4 920.1h0M1471.3 924.5h0M1141.7 930.4h0M1146.5 919.2h0M1164.2 916.8h0M1145.3 906.0h0M1407.4 919.9h0M1379.1 916.1h0M1606.6 911.5h0M1126.4 923.1h0M878.2 917.6h0M1620.1 930.6h0"/><path class="o" d="M1512.2 928.4h0M1050.1 917.3h0M1291.9 920.9h0M910.1 920.7h0M1247.0 927.4h0M1590.7 921.9h0M1024.3 911.8h0M1432.6 923.8h0M1323.0 930.6h0M1082.4 930.4h0M1246.0 928.2h0M1344.2 925.3h0M1333.8 932.3h0M1080.6 932.5h0M896.2 929.7h0M1390.4 926.9h0M1059.9 909.5h0M1422.2 906.1h0M1013.7 914.4h0M1100.2 910.5h0M1413.1 927.4h0M1646.5 919.7h0M1293.1 925.8h0M945.4 927.0h0M953.6 912.9h0M1512.4 911.4h0M1243.4 925.6h0M958.3 914.8h0M975.2 924.9h0M1167.2 918.7h0"/><path class="i" stroke="#000080" d="M1050.1 917.3h0M1291.9 920.9h0M910.1 920.7h0M1247.0 927.4h0M1590.7 921.9h0M1024.3 911.8h0M1432.6 923.8h0M1344.2 925.3h0M1059.9 909.5h0M1422.2 906.1h0M1013.7 914.4h0M1100.2 910.5h0M1646.5 919.7h0M1293.1 925.8h0M953.6 912.9h0M1512.4 911.4h0M1243.4 925.6h0M958.3 914.8h0M1167.2 918.7h0"/><path class="o" d="M1394.4 925.8h0M1391.8 931.8h0M1350.7 915.3h0M1442.5 922.7h0M1571.3 927.9h0M1959.8 915.8h0M1678.1 925.5h0M1632.0 929.4h0M1452.7 920.5h0M1589.5 930.0h0M1472.8 915.8h0M971.4 917.6h0M1548.8 926.3h0M1359.5 930.8h0M988.6 921.8h0M1634.8 922.2h0M1920.0 910.4h0M1650.9 927.2h0M1208.8 928.4h0M1939.7 919.4h0M1582.0 919.7h0M1538.5 916.0h0M1218.3 915.7h0M1954.0 918.7h0M1053.5 925.8h0M1555.5 924.2h0M1248.3 927.5h0M1583.3 915.8h0M972.8 916.0h0M1912.6 928.2h0"/><path class="i" stroke="#000080" d="M1394.4 925.8h0M1350.7 915.3h0M1442.5 922.7h0M1571.3 927.9h0M1959.8 915.8h0M1678.1 925.5h0M1452.7 920.5h0M1589.5 930.0h0M1472.8 915.8h0M1359.5 930.8h0M988.6 921.8h0M1920.0 910.4h0M1208.8 928.4h0M1939.7 919.4h0M1582.0 919.7h0M1538.5 916.0h0M1218.3 915.7h0M1954.0 918.7h0M1555.5 924.2h0M1248.3 927.5h0M1583.3 915.8h0M972.8 916.0h0"/><path class="o" d="M1098.5 901.3h0M1313.2 924.5h0M985.4 920.6h0M1308.0 926.5h0M1351.7 926.4h0M1062.6 932.0h0M1014.9 932.1h0M1542.5 928.0h0M1060.1 918.1h0M1002.0 917.7h0M1552.3 932.2h0M1641.1 920.4h0M1131.8 910.8h0M1290.2 921.4h0M1426.8 925.3h0M977.1 922.7h0M1164.4 901.2h0M1471.7 927.3h0M1639.2 922.9h0M1016.4 920.7h0M1044.2 915.9h0M1444.1 902.7h0M1416.7 929.9h0M1911.2 930.7h0M1208.3 918.1h0M1464.8 930.6h0M1680.1 931.1h0M1221.5 920.5h0M1591.0 910.4h0M1365.0 925.8h0"/><path class="i" stroke="#000080" d="M1098.5 901.3h0M985.4 920.6h0M1060.1 918.1h0M1002.0 917.7h0M1552.3 932.2h0M1641.1 920.4h0M1131.8 910.8h0M1290.2 921.4h0M1426.8 925.3h0M977.1 922.7h0M1164.4 901.2h0M1016.4 920.7h0M1044.2 915.9h0M1444.1 902.7h0M1208.3 918.1h0M1591.0 910.4h0"/><path class="o" d="M962.1 921.2h0M1273.8 928.9h0M894.4 921.6h0M905.4 907.8h0M1036.6 915.6h0M1436.1 931.1h0M871.0 920.2h0M1275.2 926.4h0M1400.7 924.3h0M1926.6 923.0h0M1609.1 924.9h0M1649.5 921.6h0M1968.9 927.8h0M1163.6 923.6h0M1947.8 917.9h0M1146.7 915.9h0M1560.9 906.7h0M1659.0 920.6h0M1670.4 927.6h0M893.6 918.9h0M1349.4 929.0h0M1316.3 928.4h0M1639.1 907.9h0M1396.2 928.1h0M1511.9 888.1h0M1440.1 931.3h0M1962.6 927.7h0M1373.0 928.9h0M1533.7 912.6h0M1189.0 919.9h0"/><path class="i" stroke="#000080" d="M962.1 921.2h0M1273.8 928.9h0M894.4 921.6h0M905.4 907.8h0M1036.6 915.6h0M871.0 920.2h0M1275.2 926.4h0M1400.7 924.3h0M1649.5 921.6h0M1163.6 923.6h0M1146.7 915.9h0M1560.9 906.7h0M1659.0 920.6h0M1639.1 907.9h0M1511.9 888.1h0M1440.1 931.3h0M1373.0 928.9h0M1533.7 912.6h0M1189.0 919.9h0"/><path class="o" d="M1493.9 914.1h0M1057.6 923.4h0M1282.0 932.2h0M920.7 914.1h0M1093.2 923.6h0M1543.5 897.0h0M1488.2 929.7h0M1603.3 907.8h0M1158.3 920.5h0M1536.2 903.9h0M1521.7 916.3h0M1441.6 924.0h0M1201.3 918.2h0M1430.9 916.3h0M1962.6 900.6h0M1161.3 932.3h0M1136.9 930.1h0M1104.0 931.9h0M1367.0 930.8h0M897.7 924.1h0M1039.0 921.9h0M1545.1 928.8h0M1474.0 918.0h0M1525.7 930.6h0M1530.5 925.5h0M1508.5 909.7h0M1410.2 917.9h0M900.9 909.7h0M1148.1 932.5h0M1920.5 916.6h0"/><path class="i" stroke="#000080" d="M1493.9 914.1h0M1057.6 923.4h0M1282.0 932.2h0M920.7 914.1h0M1093.2 923.6h0M1543.5 897.0h0M1488.2 929.7h0M1603.3 907.8h0M1158.3 920.5h0M1536.2 903.9h0M1430.9 916.3h0M1962.6 900.6h0M1161.3 932.3h0M1367.0 930.8h0M897.7 924.1h0M1508.5 909.7h0M1410.2 917.9h0M900.9 909.7h0M1148.1 932.5h0"/><path class="o" d="M1474.7 932.0h0M1052.8 926.8h0M1076.2 931.5h0M1211.4 921.8h0M1152.1 911.8h0M928.3 903.9h0M1597.9 921.8h0M1545.8 904.5h0M1533.3 932.1h0M1128.7 920.2h0M1943.4 929.7h0M1347.0 919.9h0M1478.0 914.4h0M1950.9 901.4h0M1415.7 920.9h0M1403.9 922.0h0M1213.1 930.2h0M949.3 922.3h0M1554.4 919.1h0M1543.9 926.7h0M889.6 926.6h0M1220.4 925.2h0M1962.4 923.3h0M1645.7 922.7h0M1908.0 922.0h0M1909.1 922.7h0M872.3 901.7h0M1092.6 923.9h0M1175.1 926.4h0M881.7 931.3h0"/><path class="i" stroke="#000080" d="M1152.1 911.8h0M928.3 903.9h0M1545.8 904.5h0M1943.4 929.7h0M1478.0 914.4h0M1950.9 901.4h0M1403.9 922.0h0M1213.1 930.2h0M949.3 922.3h0M1554.4 919.1h0M889.6 926.6h0M1962.4 923.3h0M1645.7 922.7h0M1908.0 922.0h0M1909.1 922.7h0M872.3 901.7h0M1175.1 926.4h0M881.7 931.3h0"/><path class="o" d="M1389.0 930.2h0M1592.5 918.6h0M1331.1 917.8h0M1010.8 917.6h0M1200.7 916.7h0M1360.1 928.4h0M926.9 923.3h0M1662.7 930.9h0M1642.8 922.8h0M1547.8 911.3h0M917.1 926.7h0M1068.6 921.6h0M917.9 918.6h0M1210.2 911.0h0M1340.8 921.5h0M1446.8 918.6h0M932.1 924.4h0M1323.9 920.4h0M1951.6 912.6h0M1404.4 917.1h0M1012.3 930.4h0M1962.5 924.6h0M1176.6 923.6h0M1331.8 928.6h0M1500.5 908.6h0M1294.4 923.1h0M1253.1 931.8h0M1420.2 929.0h0M1354.6 927.6h0M1398.4 923.3h0"/><path class="i" stroke="#000080" d="M1389.0 930.2h0M1592.5 918.6h0M1331.1 917.8h0M1200.7 916.7h0M1662.7 930.9h0M1642.8 922.8h0M1547.8 911.3h0M1068.6 921.6h0M1210.2 911.0h0M1446.8 918.6h0M1323.9 920.4h0M1404.4 917.1h0M1500.5 908.6h0M1294.4 923.1h0M1354.6 927.6h0M1398.4 923.3h0"/><path class="o" d="M1637.7 919.3h0M1285.7 930.7h0M1124.6 922.2h0M1307.8 932.3h0M1167.7 907.1h0M1932.1 920.2h0M1159.8 926.0h0M1074.6 918.6h0M1051.5 921.2h0M895.2 917.4h0M1440.4 919.7h0M1124.3 927.9h0M1962.9 927.2h0M1185.0 932.1h0M871.1 913.5h0M1563.4 925.7h0M1250.9 930.2h0M1066.8 900.3h0M1940.8 924.0h0M1328.7 917.2h0M1106.6 894.3h0M1638.6 919.9h0M1142.9 921.6h0M1936.0 912.0h0M1123.9 926.3h0M1572.4 910.9h0M1539.2 913.9h0M1130.8 919.7h0M1577.5 910.1h0M1202.8 910.4h0"/><path class="i" stroke="#000080" d="M1285.7 930.7h0M1167.7 907.1h0M1932.1 920.2h0M1074.6 918.6h0M895.2 917.4h0M1440.4 919.7h0M871.1 913.5h0M1563.4 925.7h0M1250.9 930.2h0M1066.8 900.3h0M1328.7 917.2h0M1106.6 894.3h0M1142.9 921.6h0M1936.0 912.0h0M1123.9 926.3h0M1572.4 910.9h0M1539.2 913.9h0M1130.8 919.7h0M1577.5 910.1h0M1202.8 910.4h0"/><path class="o" d="M1232.0 930.5h0M1171.2 915.4h0M1079.6 913.8h0M929.3 921.3h0M936.6 919.3h0M1249.2 931.7h0M1166.4 916.6h0M1099.6 925.8h0M1318.5 925.5h0M1118.2 913.9h0M1003.9 912.5h0M1173.6 929.7h0M1913.4 924.7h0M1085.9 927.9h0M1033.7 917.4h0M1038.1 919.7h0M1180.1 927.2h0M1041.8 930.2h0M1559.5 932.1h0M956.7 931.7h0M1497.4 932.5h0M1445.6 924.5h0M1597.8 919.7h0M1918.6 916.3h0M1313.7 931.6h0M923.3 928.3h0M1455.2 919.9h0M1546.8 912.2h0M1419.5 931.2h0M1966.4 922.9h0"/><path class="i" stroke="#000080" d="M1171.2 915.4h0M1079.6 913.8h0M929.3 921.3h0M936.6 919.3h0M1249.2 931.7h0M1166.4 916.6h0M1099.6 925.8h0M1118.2 913.9h0M1003.9 912.5h0M1913.4 924.7h0M1085.9 927.9h0M1033.7 917.4h0M1445.6 924.5h0M1597.8 919.7h0M1918.6 916.3h0M1313.7 931.6h0M1546.8 912.2h0M1966.4 922.9h0"/><path class="o" d="M1287.0 920.9h0M1587.0 911.2h0M1496.9 915.2h0M1444.9 916.6h0M1325.2 924.5h0M1491.0 926.4h0M1291.0 931.8h0M879.3 923.5h0M1906.5 930.9h0M1535.4 912.2h0M901.3 918.5h0M1591.1 899.8h0M925.6 925.0h0M1603.8 920.6h0M1561.7 926.2h0M1541.7 928.5h0M1140.6 912.0h0M1345.7 921.9h0M1154.1 932.5h0M1482.2 928.1h0M1382.4 926.5h0M1572.9 908.6h0M1282.0 927.9h0M1191.8 930.0h0M1512.5 915.5h0M1653.3 918.1h0M1242.9 926.1h0M1327.7 926.1h0M1353.5 923.8h0M1155.9 930.3h0"/><path class="i" stroke="#000080" d="M1287.0 920.9h0M1587.0 911.2h0M1496.9 915.2h0M1444.9 916.6h0M1325.2 924.5h0M879.3 923.5h0M1535.4 912.2h0M901.3 918.5h0M1591.1 899.8h0M1603.8 920.6h0M1561.7 926.2h0M1140.6 912.0h0M1154.1 932.5h0M1572.9 908.6h0M1653.3 918.1h0M1242.9 926.1h0M1327.7 926.1h0M1353.5 923.8h0M1155.9 930.3h0"/><path class="o" d="M1605.8 928.6h0M1387.1 916.5h0M1658.6 921.9h0M1371.6 915.3h0M1235.7 922.2h0M1670.8 925.6h0M1629.2 920.2h0M1108.6 921.4h0M943.2 928.6h0M977.9 923.9h0M1305.4 918.6h0M1958.2 926.8h0M1580.1 924.4h0M1054.9 930.5h0M1476.0 912.6h0M1361.0 926.7h0M1507.8 887.4h0M1503.5 918.4h0M992.6 916.8h0M1440.3 899.6h0M1101.4 924.1h0M1518.4 919.8h0M1378.5 923.1h0M1226.3 928.7h0M1658.7 930.1h0M1004.0 909.4h0M979.6 913.8h0M1517.5 921.2h0M1254.6 931.5h0M1646.1 921.1h0"/><path class="i" stroke="#000080" d="M1387.1 916.5h0M1371.6 915.3h0M1235.7 922.2h0M1108.6 921.4h0M1305.4 918.6h0M1476.0 912.6h0M1507.8 887.4h0M1503.5 918.4h0M992.6 916.8h0M1440.3 899.6h0M1518.4 919.8h0M1378.5 923.1h0M1004.0 909.4h0M979.6 913.8h0M1517.5 921.2h0M1254.6 931.5h0"/><path class="o" d="M1395.2 922.3h0M875.0 926.0h0M1512.0 913.7h0M1632.2 931.8h0M1059.8 923.2h0M1545.3 922.3h0M1904.3 931.1h0M1401.7 922.4h0M1533.2 907.2h0M1949.8 911.8h0M1576.9 904.2h0M1596.4 926.0h0M1171.9 926.4h0M932.0 928.6h0M981.0 915.3h0M1526.4 907.7h0M1276.4 920.1h0M1595.8 929.7h0M1949.2 905.8h0M931.2 925.7h0M1049.0 926.2h0M1197.9 907.9h0M1916.4 921.5h0M1944.5 924.6h0M1629.1 931.6h0M1022.9 928.2h0M1028.1 926.4h0M1345.7 914.7h0M1964.0 916.8h0M926.5 928.5h0"/><path class="i" stroke="#000080" d="M1395.2 922.3h0M875.0 926.0h0M1512.0 913.7h0M1904.3 931.1h0M1401.7 922.4h0M1533.2 907.2h0M1949.8 911.8h0M1576.9 904.2h0M932.0 928.6h0M981.0 915.3h0M1526.4 907.7h0M1276.4 920.1h0M1949.2 905.8h0M1049.0 926.2h0M1197.9 907.9h0M1916.4 921.5h0M1345.7 914.7h0M1964.0 916.8h0"/><path class="o" d="M1654.7 930.6h0M1106.2 915.9h0M874.8 930.1h0M1412.7 932.6h0M1153.3 927.3h0M1561.9 917.4h0M1655.1 918.5h0M1292.8 924.6h0M1066.7 928.6h0M1019.8 915.8h0M1540.7 915.0h0M1231.0 932.1h0M1070.6 917.1h0M1200.7 930.8h0M1373.8 921.8h0M1557.8 930.0h0M1402.8 922.5h0M1219.7 927.7h0M892.8 926.0h0M1550.6 925.3h0M1530.8 921.9h0M1416.4 918.1h0M928.8 919.9h0M938.2 929.5h0M1240.7 924.8h0M1561.6 928.0h0M1634.9 912.8h0M980.3 929.1h0M1228.5 928.8h0M1153.5 927.7h0"/><path class="i" stroke="#000080" d="M1654.7 930.6h0M874.8 930.1h0M1561.9 917.4h0M1655.1 918.5h0M1019.8 915.8h0M1373.8 921.8h0M1402.8 922.5h0M1550.6 925.3h0M1530.8 921.9h0M1416.4 918.1h0M928.8 919.9h0M1240.7 924.8h0M1561.6 928.0h0M1634.9 912.8h0M1228.5 928.8h0M1153.5 927.7h0"/><path class="o" d="M1556.2 917.9h0M1063.6 924.9h0M1627.6 912.9h0M1965.4 902.3h0M1507.4 913.7h0M1141.9 912.8h0M1298.1 925.7h0M956.7 926.6h0M998.8 897.4h0M1483.0 916.3h0M1103.9 922.4h0M1335.4 929.0h0M1064.5 927.9h0M969.6 927.7h0M1547.1 916.2h0M1209.9 929.0h0M1048.1 914.0h0M1213.6 920.1h0M1426.5 931.6h0M1539.7 931.5h0M1040.5 928.2h0M1350.7 929.2h0M1081.4 896.4h0M1370.9 926.1h0M992.4 898.3h0M1932.0 919.8h0M1077.8 921.7h0M1482.5 915.1h0M1910.6 926.6h0M1671.3 931.4h0"/><path class="i" stroke="#000080" d="M1556.2 917.9h0M1627.6 912.9h0M1965.4 902.3h0M1507.4 913.7h0M1141.9 912.8h0M956.7 926.6h0M998.8 897.4h0M1483.0 916.3h0M1103.9 922.4h0M1209.9 929.0h0M1048.1 914.0h0M1213.6 920.1h0M1350.7 929.2h0M1081.4 896.4h0M1370.9 926.1h0M992.4 898.3h0M1482.5 915.1h0"/><path class="o" d="M1478.5 916.3h0M1148.5 920.6h0M1959.9 917.4h0M1014.2 902.6h0M1274.1 929.7h0M1657.6 921.5h0M1647.4 925.6h0M881.3 916.7h0M1454.0 916.3h0M1665.0 932.0h0M968.9 930.9h0M905.4 926.8h0M1594.0 928.4h0M1302.7 921.0h0M1026.4 920.2h0M1021.4 926.0h0M1169.7 926.7h0M1152.7 926.1h0M1935.5 923.9h0M1538.9 932.0h0M1349.8 915.8h0M1082.1 916.2h0M1369.6 918.5h0M1430.8 928.0h0M982.3 906.1h0M1587.0 910.2h0M1524.6 931.6h0M883.3 926.3h0M1351.4 923.2h0M1576.4 924.4h0"/><path class="i" stroke="#000080" d="M1478.5 916.3h0M1148.5 920.6h0M1014.2 902.6h0M1274.1 929.7h0M1657.6 921.5h0M881.3 916.7h0M1454.0 916.3h0M905.4 926.8h0M1594.0 928.4h0M1169.7 926.7h0M1349.8 915.8h0M1082.1 916.2h0M1369.6 918.5h0M982.3 906.1h0M1587.0 910.2h0"/><path class="o" d="M1603.9 931.1h0M1624.5 914.0h0M910.2 911.0h0M1110.6 915.3h0M1396.0 928.1h0M1921.8 931.5h0M998.8 930.2h0M1136.2 909.8h0M1564.6 928.0h0M1113.9 919.2h0M1064.8 921.3h0M1062.3 915.5h0M1381.8 926.2h0M1911.9 925.1h0M1163.7 930.2h0M1509.2 915.9h0M1211.5 898.1h0M1456.3 929.1h0M1083.2 920.0h0M974.3 924.1h0M1945.9 931.3h0M1909.9 920.9h0M1965.0 902.9h0M1049.8 930.3h0M1325.4 909.4h0M875.9 910.8h0M1338.4 931.0h0M942.9 928.2h0M1451.2 920.0h0M1184.4 930.3h0"/><path class="i" stroke="#000080" d="M1624.5 914.0h0M910.2 911.0h0M1396.0 928.1h0M1136.2 909.8h0M1564.6 928.0h0M1113.9 919.2h0M1064.8 921.3h0M1062.3 915.5h0M1381.8 926.2h0M1509.2 915.9h0M1211.5 898.1h0M1909.9 920.9h0M1965.0 902.9h0M1325.4 909.4h0M875.9 910.8h0M1451.2 920.0h0"/><path class="o" d="M1041.9 918.1h0M1134.5 924.7h0M1088.2 914.4h0M1949.0 914.5h0M1212.7 925.4h0M1428.1 922.8h0M1192.0 926.8h0M1587.0 929.8h0M887.8 929.5h0M1273.2 929.3h0M1092.0 917.8h0M975.2 925.8h0M1968.1 931.5h0M1944.8 923.1h0M1640.3 924.2h0M1027.6 924.0h0M1112.1 931.0h0M1383.2 922.9h0M1224.5 932.1h0M1606.8 917.4h0M919.2 910.0h0M1594.6 923.7h0M893.5 929.2h0M1078.5 917.2h0M1667.9 919.3h0M1101.1 922.6h0M1633.1 916.4h0M1679.2 932.1h0M1475.2 917.2h0M1615.0 919.6h0"/><path class="i" stroke="#000080" d="M1041.9 918.1h0M1088.2 914.4h0M1949.0 914.5h0M1212.7 925.4h0M1428.1 922.8h0M1192.0 926.8h0M1273.2 929.3h0M975.2 925.8h0M1968.1 931.5h0M1383.2 922.9h0M1224.5 932.1h0M1606.8 917.4h0M919.2 910.0h0M1594.6 923.7h0M893.5 929.2h0M1667.9 919.3h0M1101.1 922.6h0M1633.1 916.4h0M1475.2 917.2h0M1615.0 919.6h0"/><path class="o" d="M995.2 912.0h0M1515.9 930.8h0M1216.9 905.3h0M874.2 926.3h0M1151.4 899.7h0M1428.3 929.9h0M1135.9 921.4h0M1453.9 929.7h0M1359.1 925.0h0M1046.5 912.3h0M948.5 925.5h0M1638.4 919.3h0M1652.0 917.5h0M926.0 924.8h0M1479.1 931.9h0M1014.1 928.1h0M1915.4 931.4h0M1063.1 927.5h0M1110.4 928.8h0M936.1 905.6h0M1680.7 931.9h0M1222.8 931.3h0M1056.3 911.0h0M1060.8 930.6h0M1233.0 924.4h0M872.6 924.4h0M1248.8 931.4h0M1475.6 915.5h0M938.8 925.1h0M1287.6 925.4h0"/><path class="i" stroke="#000080" d="M995.2 912.0h0M1216.9 905.3h0M1151.4 899.7h0M1135.9 921.4h0M1359.1 925.0h0M1046.5 912.3h0M1652.0 917.5h0M1014.1 928.1h0M936.1 905.6h0M1680.7 931.9h0M1056.3 911.0h0M1233.0 924.4h0M1248.8 931.4h0M1475.6 915.5h0M938.8 925.1h0"/><path class="o" d="M1561.4 928.7h0M924.4 919.1h0M1285.2 927.8h0M1175.6 918.8h0M1241.6 930.3h0M1065.2 924.6h0M1483.3 913.2h0M893.3 924.0h0M1676.1 925.5h0M916.4 916.0h0M1031.4 921.3h0M986.9 919.8h0M1644.4 923.0h0M1504.4 924.7h0M1586.2 916.1h0M982.8 905.4h0M1399.2 932.6h0M1199.6 918.5h0M920.0 921.3h0M1181.8 927.5h0M1577.7 916.6h0M942.5 918.1h0M1324.5 922.1h0M1107.0 910.2h0M1648.9 931.0h0M1214.9 916.6h0M995.7 929.0h0M1149.0 924.8h0M1427.6 915.8h0M1392.1 922.3h0"/><path class="i" stroke="#000080" d="M924.4 919.1h0M1175.6 918.8h0M1483.3 913.2h0M1676.1 925.5h0M916.4 916.0h0M1644.4 923.0h0M1504.4 924.7h0M982.8 905.4h0M1199.6 918.5h0M920.0 921.3h0M1181.8 927.5h0M1577.7 916.6h0M942.5 918.1h0M1107.0 910.2h0M1214.9 916.6h0M1149.0 924.8h0M1427.6 915.8h0"/><path class="o" d="M986.3 921.6h0M1277.5 924.1h0M1581.0 900.5h0M1294.1 923.3h0M1632.8 911.8h0M1192.9 924.1h0M993.7 921.6h0M1122.8 915.5h0M1156.5 931.6h0M1161.3 926.4h0M983.0 924.1h0M1037.7 917.1h0M1094.3 925.0h0M1416.6 907.9h0M1460.9 921.8h0M1626.4 928.9h0M1315.4 926.7h0M1107.4 914.0h0M922.5 927.3h0M1664.7 931.9h0M1533.9 915.8h0M907.1 923.1h0M1367.8 926.0h0M1069.7 929.6h0M906.3 928.9h0M1172.2 907.8h0M974.3 916.2h0M1484.9 918.9h0M926.4 915.7h0M1517.8 927.3h0"/><path class="i" stroke="#000080" d="M986.3 921.6h0M1277.5 924.1h0M1581.0 900.5h0M1294.1 923.3h0M1632.8 911.8h0M1192.9 924.1h0M993.7 921.6h0M1122.8 915.5h0M983.0 924.1h0M1037.7 917.1h0M1416.6 907.9h0M1460.9 921.8h0M1107.4 914.0h0M1533.9 915.8h0M1172.2 907.8h0M974.3 916.2h0M1484.9 918.9h0M926.4 915.7h0"/><path class="o" d="M1612.8 901.3h0M916.8 926.9h0M1385.4 928.3h0M963.5 928.8h0M1519.6 916.2h0M1528.1 927.6h0M1627.3 914.9h0M993.3 903.2h0M1618.7 932.2h0M1195.4 918.0h0M1404.6 926.0h0M1012.4 927.5h0M1483.0 915.0h0M1076.7 917.5h0M1912.4 917.9h0M1013.4 917.3h0M1240.7 924.8h0M1218.2 918.1h0M1153.3 919.5h0M1408.4 920.7h0M1089.1 903.8h0M1648.2 928.8h0M877.7 931.0h0M1610.0 922.7h0M1594.5 917.3h0M933.0 929.2h0M1514.2 913.8h0M1143.7 917.9h0M1013.3 911.2h0M988.2 929.7h0"/><path class="i" stroke="#000080" d="M1612.8 901.3h0M916.8 926.9h0M1385.4 928.3h0M1519.6 916.2h0M1627.3 914.9h0M993.3 903.2h0M1618.7 932.2h0M1195.4 918.0h0M1483.0 915.0h0M1912.4 917.9h0M1013.4 917.3h0M1240.7 924.8h0M1218.2 918.1h0M1153.3 919.5h0M1408.4 920.7h0M1089.1 903.8h0M1648.2 928.8h0M877.7 931.0h0M1594.5 917.3h0M1514.2 913.8h0M1013.3 911.2h0"/><path class="o" d="M1938.4 918.1h0M1283.8 928.0h0M1314.5 916.9h0M881.7 910.8h0M1470.9 923.2h0M1565.7 914.1h0M1663.7 917.5h0M1154.6 925.2h0M1242.6 929.8h0M1357.2 922.6h0M1368.5 924.5h0M1251.1 930.2h0M1473.3 915.3h0M1030.4 919.8h0M1661.0 928.8h0M1127.0 932.0h0M1336.0 924.6h0M1363.5 932.0h0M1411.3 929.2h0M1387.5 926.5h0M1666.3 918.1h0M1497.6 918.5h0M1485.8 932.5h0M1029.9 931.1h0M881.5 923.9h0M1007.9 927.0h0M1319.3 925.9h0M1345.6 921.0h0M1672.6 931.3h0M1276.5 929.1h0"/><path class="i" stroke="#000080" d="M1938.4 918.1h0M1314.5 916.9h0M881.7 910.8h0M1565.7 914.1h0M1663.7 917.5h0M1154.6 925.2h0M1242.6 929.8h0M1357.2 922.6h0M1368.5 924.5h0M1251.1 930.2h0M1473.3 915.3h0M1030.4 919.8h0M1411.3 929.2h0M1387.5 926.5h0M1666.3 918.1h0M1497.6 918.5h0M1345.6 921.0h0"/><path class="o" d="M1368.9 928.0h0M1372.3 926.2h0M1020.5 910.1h0M1434.3 924.6h0M1966.8 906.5h0M1387.8 924.1h0M1677.7 931.9h0M992.7 907.5h0M1466.1 903.9h0M1909.3 914.9h0M1146.6 918.0h0M1113.4 926.6h0M1462.9 914.6h0M924.2 924.8h0M936.1 926.2h0M1550.4 924.2h0M1157.8 927.0h0M1508.2 921.0h0M1543.3 907.8h0M1236.1 928.9h0M1598.3 925.4h0M1450.6 915.0h0M1091.5 916.0h0M1474.6 916.5h0M898.5 932.0h0M1128.6 927.8h0M1312.8 924.9h0M1130.8 932.1h0M993.6 923.6h0M1363.6 927.0h0"/><path class="i" stroke="#000080" d="M1368.9 928.0h0M1372.3 926.2h0M1020.5 910.1h0M1966.8 906.5h0M1387.8 924.1h0M1677.7 931.9h0M992.7 907.5h0M1466.1 903.9h0M1909.3 914.9h0M1146.6 918.0h0M1113.4 926.6h0M1462.9 914.6h0M1508.2 921.0h0M1543.3 907.8h0M1598.3 925.4h0M1450.6 915.0h0M1091.5 916.0h0M1312.8 924.9h0M993.6 923.6h0M1363.6 927.0h0"/><path class="o" d="M1169.0 931.8h0M1926.5 932.6h0M1432.6 929.6h0M1623.2 926.2h0M1365.3 923.8h0M1573.8 911.5h0M1055.8 905.2h0M949.1 916.6h0M1652.4 925.0h0M871.0 919.8h0M1017.9 918.8h0M1549.7 926.2h0M1572.8 928.0h0M1318.5 931.5h0M1966.8 915.3h0M1080.2 903.9h0M1477.2 905.3h0M1492.6 921.1h0M1671.3 924.7h0M1345.1 920.9h0M915.3 924.9h0M1659.9 925.0h0M979.3 930.9h0M1540.1 915.9h0M1105.5 911.9h0M1666.6 903.9h0M1945.3 932.1h0M1323.8 931.3h0M1234.2 923.6h0M1042.1 921.7h0"/><path class="i" stroke="#000080" d="M1432.6 929.6h0M1365.3 923.8h0M1573.8 911.5h0M1055.8 905.2h0M949.1 916.6h0M1652.4 925.0h0M1017.9 918.8h0M1549.7 926.2h0M1318.5 931.5h0M1966.8 915.3h0M1080.2 903.9h0M1477.2 905.3h0M1492.6 921.1h0M1671.3 924.7h0M1345.1 920.9h0M1659.9 925.0h0M1540.1 915.9h0M1105.5 911.9h0M1666.6 903.9h0M1323.8 931.3h0M1042.1 921.7h0"/><path class="o" d="M1938.7 921.7h0M1520.4 918.0h0M1069.7 904.0h0M957.5 930.2h0M1233.9 926.2h0M1184.8 920.3h0M964.1 921.8h0M1431.8 920.3h0M1108.8 922.6h0M880.1 931.9h0M1412.7 928.3h0M952.5 919.7h0M1904.9 929.2h0M1548.0 932.2h0M1374.2 931.4h0M1658.9 912.8h0M1410.6 924.9h0M1090.2 921.6h0M1295.6 931.1h0M1594.4 910.6h0M892.8 914.4h0M1430.6 922.4h0M1085.9 899.8h0M1587.9 903.5h0M1481.4 925.8h0M1348.5 930.9h0M1322.9 925.1h0M1062.2 922.4h0M1599.6 910.7h0M1238.4 924.9h0"/><path class="i" stroke="#000080" d="M1520.4 918.0h0M1069.7 904.0h0M1233.9 926.2h0M1184.8 920.3h0M1108.8 922.6h0M952.5 919.7h0M1904.9 929.2h0M1658.9 912.8h0M1594.4 910.6h0M892.8 914.4h0M1085.9 899.8h0M1587.9 903.5h0M1481.4 925.8h0M1322.9 925.1h0M1062.2 922.4h0M1599.6 910.7h0"/><path class="o" d="M1337.4 925.4h0M1553.9 916.9h0M1642.6 921.8h0M1372.1 922.4h0M1074.6 924.6h0M1162.0 932.0h0M1935.0 913.7h0M1149.3 919.6h0M1610.3 918.0h0M1937.1 931.7h0M1153.5 899.2h0M1151.9 923.0h0M1136.9 921.8h0M1203.0 917.4h0M1198.4 919.9h0M1162.7 914.1h0M948.4 919.9h0M1933.5 923.8h0M952.6 928.7h0M1926.6 911.3h0M1480.9 926.4h0M1082.6 908.8h0M1188.0 910.5h0M1362.1 928.7h0M1483.2 929.2h0M1927.4 919.3h0M894.2 901.2h0M1525.5 923.5h0M967.0 929.2h0M1445.2 920.3h0"/><path class="i" stroke="#000080" d="M1553.9 916.9h0M1372.1 922.4h0M1935.0 913.7h0M1937.1 931.7h0M1153.5 899.2h0M1151.9 923.0h0M1203.0 917.4h0M1198.4 919.9h0M1162.7 914.1h0M948.4 919.9h0M1926.6 911.3h0M1082.6 908.8h0M1188.0 910.5h0M1483.2 929.2h0M894.2 901.2h0M967.0 929.2h0M1445.2 920.3h0"/><path class="o" d="M1301.5 927.3h0M1519.5 924.7h0M1425.5 925.6h0M1034.2 920.7h0M1114.9 894.4h0M1514.9 921.2h0M1184.9 920.4h0M1365.5 929.3h0M1604.8 931.3h0M1347.7 927.7h0M1581.9 921.1h0M1663.7 932.1h0M1435.3 925.2h0M1561.9 905.3h0M981.1 925.4h0M1240.8 929.4h0M1216.4 916.9h0M1930.8 918.6h0M1610.9 926.1h0M1579.2 906.4h0M1195.6 920.4h0M1435.3 931.8h0M1521.0 908.3h0M930.7 930.3h0M1611.0 920.5h0M918.3 929.1h0M1040.4 930.4h0M1039.3 928.4h0M1362.2 929.7h0M1061.6 918.5h0"/><path class="i" stroke="#000080" d="M1301.5 927.3h0M1034.2 920.7h0M1114.9 894.4h0M1514.9 921.2h0M1663.7 932.1h0M1435.3 925.2h0M1561.9 905.3h0M1216.4 916.9h0M1930.8 918.6h0M1610.9 926.1h0M1579.2 906.4h0M1195.6 920.4h0M1435.3 931.8h0M1521.0 908.3h0M930.7 930.3h0M1040.4 930.4h0M1061.6 918.5h0"/><path class="o" d="M1158.0 918.7h0M1953.0 888.4h0M976.6 916.5h0M1524.5 920.1h0M1239.1 923.7h0M1362.8 926.8h0M1551.4 916.5h0M1224.1 917.8h0M1485.5 930.2h0M1179.2 911.9h0M1557.3 922.2h0M1660.6 927.9h0M981.9 932.0h0M1369.6 926.2h0M954.9 923.4h0M1096.5 925.2h0M1417.6 926.8h0M1539.8 921.0h0M1507.4 910.2h0M1105.1 915.8h0M1382.6 924.5h0M870.0 928.0h0M1506.1 907.6h0M1172.2 932.5h0M1359.6 923.4h0M1102.7 929.4h0M1174.8 928.4h0M1181.9 916.2h0M1385.8 930.5h0M1302.0 915.0h0"/><path class="i" stroke="#000080" d="M1158.0 918.7h0M1953.0 888.4h0M976.6 916.5h0M1239.1 923.7h0M1551.4 916.5h0M1224.1 917.8h0M1485.5 930.2h0M1179.2 911.9h0M1557.3 922.2h0M1660.6 927.9h0M954.9 923.4h0M1096.5 925.2h0M1507.4 910.2h0M1105.1 915.8h0M1382.6 924.5h0M1506.1 907.6h0M1359.6 923.4h0M1102.7 929.4h0M1181.9 916.2h0M1302.0 915.0h0"/><path class="o" d="M1970.8 926.0h0M1072.3 905.2h0M1483.9 928.6h0M987.8 920.9h0M964.6 916.4h0M1313.3 922.8h0M1090.9 922.0h0M1523.3 920.6h0M1317.7 912.2h0M1398.0 909.3h0M1022.7 918.2h0M1086.4 921.9h0M956.7 919.2h0M1501.1 913.5h0M1493.5 925.5h0M1681.8 930.3h0M1030.6 899.9h0M1212.6 930.3h0M1517.7 922.6h0M922.8 929.6h0M969.8 928.8h0M1412.4 928.8h0M1635.9 912.9h0M1194.3 930.8h0M1112.3 912.7h0M1027.6 898.4h0M1084.8 932.5h0M1417.8 924.5h0M1421.3 922.9h0M1499.9 913.9h0"/><path class="i" stroke="#000080" d="M1970.8 926.0h0M1072.3 905.2h0M1483.9 928.6h0M964.6 916.4h0M1313.3 922.8h0M1090.9 922.0h0M1317.7 912.2h0M1398.0 909.3h0M1086.4 921.9h0M956.7 919.2h0M1501.1 913.5h0M1493.5 925.5h0M1030.6 899.9h0M1517.7 922.6h0M922.8 929.6h0M1635.9 912.9h0M1112.3 912.7h0M1027.6 898.4h0M1417.8 924.5h0M1421.3 922.9h0M1499.9 913.9h0"/><path class="o" d="M1665.3 930.5h0M1135.8 925.2h0M1672.9 931.5h0M1556.7 923.5h0M1616.7 912.5h0M1316.8 924.8h0M944.1 915.3h0M1673.9 930.9h0M1292.6 925.3h0M1534.5 922.6h0M1217.3 925.7h0M889.4 929.6h0M1075.3 920.7h0M1226.9 929.8h0M1312.0 927.8h0M1443.1 925.7h0M905.7 925.4h0M1058.7 920.5h0M1150.6 924.3h0M1620.9 927.6h0M1637.8 918.5h0M902.4 931.6h0M1523.7 928.2h0M1576.5 928.1h0M884.6 921.7h0M1093.3 916.1h0M1208.2 928.4h0M1547.9 918.2h0M1438.5 917.8h0M1364.9 922.7h0"/><path class="i" stroke="#000080" d="M1135.8 925.2h0M1556.7 923.5h0M1616.7 912.5h0M944.1 915.3h0M1292.6 925.3h0M1534.5 922.6h0M1217.3 925.7h0M1075.3 920.7h0M1226.9 929.8h0M1637.8 918.5h0M1576.5 928.1h0M1093.3 916.1h0M1547.9 918.2h0M1438.5 917.8h0M1364.9 922.7h0"/><path class="o" d="M976.2 923.8h0M1535.6 923.8h0M908.6 904.4h0M981.9 916.2h0M1645.2 928.9h0M1915.3 917.1h0M1300.0 924.1h0M1920.2 921.8h0M987.2 915.1h0M1298.1 928.3h0M1484.7 912.3h0M892.3 930.9h0M1484.9 915.2h0M1954.1 928.2h0M1578.3 913.8h0M895.9 919.9h0M1084.8 907.0h0M872.5 930.1h0M1066.1 915.8h0M1098.9 929.3h0M1241.5 914.8h0M1957.6 926.7h0M1479.6 921.1h0M1306.8 925.6h0M1195.4 927.4h0M1532.0 927.8h0M1647.5 926.0h0M1576.9 911.3h0M1454.6 919.7h0M1073.7 921.2h0"/><path class="i" stroke="#000080" d="M976.2 923.8h0M908.6 904.4h0M981.9 916.2h0M1915.3 917.1h0M1300.0 924.1h0M1920.2 921.8h0M987.2 915.1h0M1484.7 912.3h0M1484.9 915.2h0M1578.3 913.8h0M1084.8 907.0h0M1066.1 915.8h0M1241.5 914.8h0M1957.6 926.7h0M1479.6 921.1h0M1306.8 925.6h0M1195.4 927.4h0M1576.9 911.3h0"/><path class="o" d="M1090.0 923.6h0M968.4 928.9h0M1058.1 908.7h0M1043.4 915.7h0M1004.8 929.1h0M1136.6 895.7h0M1499.9 927.1h0M1005.4 926.8h0M1969.1 923.2h0M1046.2 925.4h0M1125.2 920.1h0M878.7 929.6h0M1613.1 909.9h0M1500.0 914.1h0M1113.8 925.4h0M1038.9 926.4h0M1507.9 931.8h0M1414.6 918.7h0M1228.2 922.1h0M1072.0 928.9h0M1598.5 918.1h0M1680.7 925.2h0M947.1 923.6h0M1042.8 918.0h0M1075.5 927.6h0M975.5 915.4h0M1351.6 930.8h0M1954.7 908.4h0M1192.1 915.6h0M1374.9 930.7h0"/><path class="i" stroke="#000080" d="M1058.1 908.7h0M1043.4 915.7h0M1136.6 895.7h0M1046.2 925.4h0M1613.1 909.9h0M1500.0 914.1h0M1507.9 931.8h0M1414.6 918.7h0M1228.2 922.1h0M1598.5 918.1h0M1680.7 925.2h0M947.1 923.6h0M1042.8 918.0h0M975.5 915.4h0M1954.7 908.4h0M1192.1 915.6h0"/><path class="o" d="M1039.2 927.2h0M1346.0 926.3h0M1553.6 918.4h0M1584.6 905.3h0M1067.8 924.2h0M1340.3 927.1h0M1514.0 923.0h0M994.2 915.8h0M1630.7 929.2h0M1499.6 916.2h0M1524.6 900.6h0M991.2 929.3h0M1133.7 914.6h0M1566.2 919.9h0M1563.4 922.2h0M1142.5 929.0h0M921.8 925.9h0M1368.7 927.5h0M1338.2 914.9h0M1476.3 929.7h0M1211.0 910.8h0M1949.4 911.1h0M1612.7 924.4h0M886.2 925.1h0M1592.7 914.8h0M1141.2 918.5h0M1225.2 926.3h0M1201.4 932.3h0M1587.2 928.1h0M1075.2 922.2h0"/><path class="i" stroke="#000080" d="M1039.2 927.2h0M1584.6 905.3h0M1067.8 924.2h0M1514.0 923.0h0M994.2 915.8h0M1630.7 929.2h0M1524.6 900.6h0M1133.7 914.6h0M1563.4 922.2h0M1338.2 914.9h0M1211.0 910.8h0M1949.4 911.1h0M1612.7 924.4h0M886.2 925.1h0M1592.7 914.8h0M1141.2 918.5h0M1587.2 928.1h0"/><path class="o" d="M1909.6 925.8h0M1367.3 927.2h0M1277.6 927.7h0M1903.0 924.5h0M1047.5 928.7h0M1670.9 926.0h0M1116.1 915.8h0M1617.1 930.7h0M1371.3 929.6h0M1338.6 922.6h0M1060.1 903.8h0M1444.7 928.7h0M1565.1 912.3h0M1223.5 926.1h0M887.8 909.9h0M1188.3 919.3h0M992.6 918.7h0M1005.1 930.4h0M1352.5 930.2h0M969.1 914.4h0M1969.8 931.9h0M1940.1 929.8h0M976.0 914.5h0M1923.8 916.2h0M935.1 920.4h0M1134.5 932.4h0M997.2 931.3h0M1124.6 921.8h0M1315.7 921.3h0M1668.7 921.9h0"/><path class="i" stroke="#000080" d="M1903.0 924.5h0M1670.9 926.0h0M1116.1 915.8h0M1371.3 929.6h0M1338.6 922.6h0M1060.1 903.8h0M1565.1 912.3h0M887.8 909.9h0M1188.3 919.3h0M992.6 918.7h0M1005.1 930.4h0M969.1 914.4h0M1940.1 929.8h0M976.0 914.5h0M1923.8 916.2h0M935.1 920.4h0M997.2 931.3h0M1315.7 921.3h0"/><path class="o" d="M1304.4 931.7h0M911.0 913.5h0M908.8 925.3h0M1604.5 922.4h0M941.9 920.9h0M1190.3 931.0h0M1026.9 912.3h0M1466.8 931.1h0M1490.4 914.8h0M942.8 930.0h0M1468.0 931.9h0M955.1 928.2h0M1965.8 915.4h0M1606.0 901.8h0M1328.3 927.9h0M1002.9 920.4h0M977.5 913.7h0M1080.3 901.3h0M964.5 908.7h0M1449.0 918.3h0M1588.5 931.2h0M1674.7 927.3h0M1446.9 921.3h0M1575.7 928.6h0M1024.5 926.2h0M1004.2 927.8h0M1008.0 900.0h0M951.0 930.9h0M1215.2 917.6h0M1565.0 919.0h0"/><path class="i" stroke="#000080" d="M911.0 913.5h0M1604.5 922.4h0M941.9 920.9h0M1190.3 931.0h0M1026.9 912.3h0M1466.8 931.1h0M1606.0 901.8h0M1002.9 920.4h0M977.5 913.7h0M1080.3 901.3h0M964.5 908.7h0M1449.0 918.3h0M1446.9 921.3h0M1004.2 927.8h0M1008.0 900.0h0M1215.2 917.6h0"/><path class="o" d="M885.2 926.3h0M1208.8 923.3h0M1019.8 921.6h0M1926.0 929.6h0M1522.4 921.0h0M1140.9 918.2h0M1433.6 916.8h0M1383.4 930.7h0M1446.2 930.3h0M1515.7 922.2h0M999.3 921.2h0M1049.1 905.1h0M1337.1 931.5h0M925.2 929.1h0M986.0 926.3h0M1661.5 921.9h0M1967.1 915.3h0M1338.4 930.4h0M1334.2 928.5h0M1611.1 909.3h0M1548.9 916.8h0M1641.4 925.8h0M1650.7 928.0h0M1395.9 929.2h0M1919.0 931.6h0M1355.3 925.5h0M1323.7 918.9h0M1559.2 904.9h0M1626.1 914.3h0M1627.2 923.4h0"/><path class="i" stroke="#000080" d="M1926.0 929.6h0M1140.9 918.2h0M1433.6 916.8h0M1383.4 930.7h0M1515.7 922.2h0M1049.1 905.1h0M925.2 929.1h0M1967.1 915.3h0M1334.2 928.5h0M1611.1 909.3h0M1548.9 916.8h0M1323.7 918.9h0M1559.2 904.9h0M1627.2 923.4h0"/><path class="o" d="M1399.7 929.1h0M1119.2 930.7h0M1494.9 911.5h0M1110.8 930.2h0M1678.6 931.2h0M921.8 917.9h0M1205.8 919.2h0M1313.6 932.0h0M1544.7 916.4h0M1401.1 923.6h0M1549.7 914.4h0M1295.7 924.7h0M880.7 923.5h0M1023.0 907.9h0M1022.3 932.0h0M1459.7 919.5h0M1669.9 921.2h0M876.6 925.6h0M1541.5 929.9h0M1018.3 920.2h0M1444.8 923.4h0M1361.7 923.0h0M1412.8 927.6h0M1070.8 928.8h0M915.4 909.3h0M1674.5 920.0h0M1610.2 924.6h0M1304.8 930.6h0M1205.9 929.0h0M1351.8 924.6h0"/><path class="i" stroke="#000080" d="M1494.9 911.5h0M921.8 917.9h0M1205.8 919.2h0M1313.6 932.0h0M1544.7 916.4h0M1401.1 923.6h0M1295.7 924.7h0M1023.0 907.9h0M1459.7 919.5h0M1669.9 921.2h0M1361.7 923.0h0M1412.8 927.6h0M915.4 909.3h0M1674.5 920.0h0M1304.8 930.6h0M1351.8 924.6h0"/><path class="o" d="M1621.2 919.0h0M1199.4 918.8h0M937.1 925.1h0M1202.2 932.1h0M1543.7 922.1h0M1486.0 904.1h0M920.6 927.8h0M1234.4 924.1h0M1033.4 926.0h0M1441.3 931.8h0M1288.5 916.9h0M1946.0 919.6h0M1194.4 910.5h0M1944.4 920.3h0M1009.2 923.1h0M885.4 916.8h0M1235.2 931.6h0M984.9 921.8h0M1156.5 929.9h0M1616.5 928.1h0M1096.9 927.6h0M1378.2 929.1h0M1184.0 918.6h0M1136.1 932.4h0M1009.9 906.8h0M1469.1 902.1h0M949.8 923.6h0M1475.4 924.6h0M1388.9 928.8h0M934.8 929.4h0"/><path class="i" stroke="#000080" d="M1621.2 919.0h0M1199.4 918.8h0M1543.7 922.1h0M1486.0 904.1h0M920.6 927.8h0M1033.4 926.0h0M1288.5 916.9h0M1194.4 910.5h0M1944.4 920.3h0M1184.0 918.6h0M1009.9 906.8h0M1469.1 902.1h0"/><path class="o" d="M1531.8 915.7h0M909.6 916.2h0M907.7 926.0h0M1024.6 908.0h0M890.6 931.6h0M1965.7 922.6h0M993.6 922.8h0M1300.6 930.4h0M1214.5 931.8h0M1336.4 923.8h0M1423.7 904.1h0M1143.5 929.0h0M1304.1 917.9h0M1557.8 917.3h0M910.2 925.7h0M1607.3 924.4h0M1958.2 918.1h0M976.9 908.2h0M1577.3 926.8h0M1527.5 925.2h0M1447.3 928.9h0M1465.7 921.7h0M1530.7 928.7h0M1238.8 929.9h0M1222.0 930.7h0M871.6 918.5h0M1338.3 928.4h0M1513.7 917.0h0M1965.3 929.8h0M1442.5 910.2h0"/><path class="i" stroke="#000080" d="M909.6 916.2h0M1024.6 908.0h0M1965.7 922.6h0M993.6 922.8h0M1300.6 930.4h0M1214.5 931.8h0M1336.4 923.8h0M1423.7 904.1h0M1304.1 917.9h0M910.2 925.7h0M1607.3 924.4h0M1958.2 918.1h0M976.9 908.2h0M871.6 918.5h0M1513.7 917.0h0M1442.5 910.2h0"/><path class="o" d="M1389.4 926.7h0M1666.9 924.6h0M1635.0 892.4h0M1418.8 928.6h0M1620.0 924.9h0M1517.2 897.7h0M986.2 910.8h0M922.5 909.1h0M1968.3 927.7h0M1417.7 925.8h0M1554.0 909.7h0M1622.0 921.8h0M886.6 921.1h0M1922.3 904.2h0M1339.5 928.2h0M991.7 920.9h0M1653.9 920.3h0M1021.2 891.8h0M1517.2 918.3h0M1186.5 924.5h0M1509.9 915.8h0M1669.9 931.8h0M1240.0 931.7h0M1427.7 928.5h0M1937.7 931.2h0M1094.7 898.9h0M1160.4 925.4h0M1945.9 908.6h0M962.6 926.6h0M1591.8 924.8h0"/><path class="i" stroke="#000080" d="M1635.0 892.4h0M1418.8 928.6h0M1517.2 897.7h0M986.2 910.8h0M922.5 909.1h0M1554.0 909.7h0M1622.0 921.8h0M886.6 921.1h0M1922.3 904.2h0M991.7 920.9h0M1653.9 920.3h0M1021.2 891.8h0M1517.2 918.3h0M1509.9 915.8h0M1669.9 931.8h0M1240.0 931.7h0M1094.7 898.9h0M1160.4 925.4h0M1945.9 908.6h0M962.6 926.6h0"/><path class="o" d="M1229.8 931.0h0M1255.1 932.2h0M1102.0 926.0h0M1299.5 931.6h0M1298.4 929.6h0M1566.1 903.5h0M1076.7 925.4h0M1569.9 904.2h0M881.7 927.4h0M1331.0 930.8h0M1556.2 897.4h0M1434.8 926.7h0M891.9 921.7h0M1186.2 924.7h0M1213.6 919.1h0M1443.8 930.2h0M1030.7 923.3h0M945.4 912.2h0M1447.2 925.5h0M1903.6 929.8h0M1930.4 928.8h0M962.7 927.6h0M882.8 928.9h0M1192.0 923.3h0M1043.2 926.4h0M1644.7 926.6h0M1032.3 930.7h0M1061.5 931.2h0M975.4 930.0h0M1503.1 894.0h0"/><path class="i" stroke="#000080" d="M1566.1 903.5h0M1076.7 925.4h0M1569.9 904.2h0M1556.2 897.4h0M1434.8 926.7h0M891.9 921.7h0M1186.2 924.7h0M1443.8 930.2h0M945.4 912.2h0M1930.4 928.8h0M882.8 928.9h0M1192.0 923.3h0M1503.1 894.0h0"/><path class="o" d="M1567.8 908.3h0M1457.3 932.5h0M1287.0 932.3h0M1273.1 931.6h0M1470.2 926.7h0M1241.8 931.5h0M1523.5 918.6h0M1014.9 918.1h0M1225.4 931.8h0M1502.6 927.0h0M1370.6 922.3h0M1401.2 916.9h0M1113.3 923.2h0M1058.2 924.0h0M1170.3 915.9h0M1320.9 930.4h0M1403.7 921.5h0M971.4 926.8h0M869.3 931.1h0M1439.4 932.4h0M1179.7 922.7h0M1124.4 915.5h0M1950.7 922.2h0M1097.8 910.7h0M1025.0 912.7h0M1428.0 925.7h0M1536.8 916.1h0M1212.8 927.0h0M877.7 901.4h0M1410.5 925.5h0"/><path class="i" stroke="#000080" d="M1567.8 908.3h0M1502.6 927.0h0M1370.6 922.3h0M1401.2 916.9h0M1113.3 923.2h0M1058.2 924.0h0M1403.7 921.5h0M971.4 926.8h0M1439.4 932.4h0M1179.7 922.7h0M1124.4 915.5h0M1097.8 910.7h0M1025.0 912.7h0M1536.8 916.1h0M1212.8 927.0h0M877.7 901.4h0"/><path class="o" d="M1573.7 922.4h0M940.6 920.2h0M1305.5 923.4h0M1172.6 932.3h0M1125.5 931.2h0M1934.1 917.0h0M1348.1 928.9h0M869.4 920.4h0M1643.0 921.4h0M949.4 931.1h0M1063.0 917.0h0M1033.5 902.5h0M1618.2 924.0h0M1363.4 921.9h0M1413.0 916.3h0M1002.9 923.2h0M1560.5 924.5h0M1280.1 910.4h0M1238.5 925.4h0M1383.9 925.3h0M1932.2 911.9h0M1108.4 903.4h0M1081.2 932.1h0M1114.6 916.8h0M951.6 919.9h0M1105.1 921.8h0M1930.8 917.1h0M1106.6 921.8h0M1937.9 924.5h0M1375.4 925.7h0"/><path class="i" stroke="#000080" d="M1573.7 922.4h0M940.6 920.2h0M1934.1 917.0h0M869.4 920.4h0M1643.0 921.4h0M1063.0 917.0h0M1033.5 902.5h0M1363.4 921.9h0M1413.0 916.3h0M1560.5 924.5h0M1280.1 910.4h0M1932.2 911.9h0M1108.4 903.4h0M1081.2 932.1h0M951.6 919.9h0M1105.1 921.8h0M1930.8 917.1h0M1106.6 921.8h0"/><path class="o" d="M1339.5 921.0h0M939.6 932.1h0M938.0 928.2h0M1356.6 928.1h0M971.8 918.7h0M882.6 924.1h0M1933.9 924.1h0M1247.4 930.9h0M1678.9 925.4h0M1284.6 928.3h0M926.4 923.1h0M997.8 927.8h0M877.5 912.6h0M1594.7 923.2h0M1345.2 922.8h0M1608.3 924.5h0M1342.8 920.9h0M1619.5 920.9h0M1952.5 897.9h0M1651.3 922.8h0M939.2 923.6h0M1675.6 931.6h0M1172.4 919.2h0M1666.0 926.6h0M1334.3 930.7h0M1608.7 931.5h0M1613.3 929.6h0M1659.4 927.2h0M1395.3 928.1h0M892.3 907.1h0"/><path class="i" stroke="#000080" d="M1339.5 921.0h0M971.8 918.7h0M882.6 924.1h0M1678.9 925.4h0M877.5 912.6h0M1345.2 922.8h0M1608.3 924.5h0M1342.8 920.9h0M1952.5 897.9h0M1651.3 922.8h0M1172.4 919.2h0M1334.3 930.7h0M1608.7 931.5h0M1659.4 927.2h0M892.3 907.1h0"/><path class="o" d="M1011.4 889.4h0M1551.0 911.2h0M1956.7 923.7h0M1289.0 927.1h0M913.2 926.7h0M1458.1 931.4h0M1180.8 927.7h0M1169.9 900.3h0M1615.4 910.3h0M1478.1 915.9h0M1613.1 916.8h0M1576.8 915.7h0M1065.5 924.9h0M1250.0 929.6h0M1584.4 929.4h0M1119.8 902.7h0M1205.9 923.4h0M941.1 916.3h0M1325.0 921.5h0M1253.8 931.9h0M1057.4 922.8h0M1112.5 922.1h0M953.0 924.3h0M1664.6 929.9h0M1521.1 910.8h0M1036.6 907.4h0M1512.9 932.5h0M867.7 929.9h0M1074.1 931.4h0M1013.4 915.6h0"/><path class="i" stroke="#000080" d="M1011.4 889.4h0M1551.0 911.2h0M1956.7 923.7h0M1289.0 927.1h0M1169.9 900.3h0M1615.4 910.3h0M1478.1 915.9h0M1613.1 916.8h0M1576.8 915.7h0M1065.5 924.9h0M1250.0 929.6h0M1119.8 902.7h0M1205.9 923.4h0M941.1 916.3h0M1325.0 921.5h0M1253.8 931.9h0M1057.4 922.8h0M1521.1 910.8h0M1036.6 907.4h0M1074.1 931.4h0"/><path class="o" d="M1506.1 924.8h0M1668.2 917.8h0M1032.7 927.8h0M1395.5 929.4h0M1466.4 925.4h0M1098.8 927.3h0M1934.0 922.5h0M1925.7 919.9h0M1249.6 932.5h0M1946.6 905.6h0M1958.5 926.9h0M1637.4 905.2h0M1030.0 913.4h0M1375.1 920.8h0M1120.7 930.3h0M1437.8 920.4h0M1558.3 906.1h0M1244.1 927.5h0M1623.8 931.4h0M1155.9 916.6h0M1279.0 927.8h0M956.8 931.8h0M1593.6 924.7h0M1025.0 912.4h0M1918.3 919.9h0M1302.6 932.3h0M1970.9 928.5h0M1128.8 922.8h0M1196.9 929.5h0M1163.3 928.1h0"/><path class="i" stroke="#000080" d="M1506.1 924.8h0M1668.2 917.8h0M1032.7 927.8h0M1395.5 929.4h0M1934.0 922.5h0M1925.7 919.9h0M1946.6 905.6h0M1958.5 926.9h0M1637.4 905.2h0M1030.0 913.4h0M1375.1 920.8h0M1558.3 906.1h0M1155.9 916.6h0M1593.6 924.7h0M1025.0 912.4h0M1302.6 932.3h0M1128.8 922.8h0M1196.9 929.5h0M1163.3 928.1h0"/><path class="o" d="M1146.3 918.6h0M1144.7 926.9h0M878.0 915.2h0M1347.2 922.2h0M1109.6 928.2h0M1476.1 926.8h0M922.2 926.4h0M1197.8 923.4h0M1489.5 916.6h0M1250.3 930.8h0M1606.2 930.7h0M1227.0 922.9h0M1345.0 932.2h0M1327.0 924.0h0M1423.2 929.2h0M1378.4 932.0h0M1968.5 914.3h0M1142.1 927.7h0M929.3 927.4h0M1185.0 929.5h0M1951.6 911.6h0M1404.8 929.2h0M1549.1 913.0h0M1397.4 921.4h0M941.2 930.6h0M1164.7 913.6h0M1501.9 927.0h0M1000.7 921.0h0M1109.7 931.6h0M915.3 930.7h0"/><path class="i" stroke="#000080" d="M878.0 915.2h0M922.2 926.4h0M1489.5 916.6h0M1250.3 930.8h0M1227.0 922.9h0M1423.2 929.2h0M1968.5 914.3h0M1142.1 927.7h0M1951.6 911.6h0M1549.1 913.0h0M1397.4 921.4h0M1164.7 913.6h0"/><path class="o" d="M1631.5 915.2h0M1499.8 931.5h0M1419.8 918.5h0M1234.8 913.7h0M1346.2 927.9h0M1446.9 903.0h0M1193.2 916.9h0M1251.8 931.0h0M911.6 901.2h0M1245.2 930.5h0M1408.3 926.2h0M1464.2 903.0h0M1425.0 913.3h0M1567.8 930.0h0M1955.6 907.8h0M1949.9 927.6h0M1006.1 916.1h0M1083.9 911.0h0M1668.0 926.0h0M1020.5 931.0h0M1047.7 923.9h0M958.5 927.0h0M1904.1 927.8h0M1339.9 919.3h0M1495.0 914.2h0M1039.0 910.3h0M913.0 916.7h0M959.7 922.8h0M1336.1 919.3h0M1063.4 924.7h0"/><path class="i" stroke="#000080" d="M1631.5 915.2h0M1234.8 913.7h0M1346.2 927.9h0M1446.9 903.0h0M1193.2 916.9h0M1251.8 931.0h0M911.6 901.2h0M1245.2 930.5h0M1464.2 903.0h0M1425.0 913.3h0M1955.6 907.8h0M1949.9 927.6h0M1006.1 916.1h0M1083.9 911.0h0M1047.7 923.9h0M958.5 927.0h0M1904.1 927.8h0M1339.9 919.3h0M1495.0 914.2h0M1039.0 910.3h0M913.0 916.7h0M959.7 922.8h0M1336.1 919.3h0"/><path class="o" d="M968.9 916.9h0M1129.4 931.5h0M1629.9 926.9h0M1055.9 928.2h0M1150.0 919.8h0M908.9 917.7h0M1476.7 920.7h0M1501.3 927.4h0M1330.4 921.3h0M1438.0 926.5h0M1550.2 911.3h0M1282.8 930.7h0M1553.1 894.5h0M1559.9 925.1h0M1674.5 926.1h0M1963.3 903.9h0M1014.7 914.0h0M1546.8 927.3h0M930.7 913.3h0M1545.7 921.9h0M1306.4 928.5h0M1191.2 922.0h0M1650.1 929.3h0M1464.9 927.5h0M1180.4 932.0h0M951.7 928.2h0M1139.7 928.2h0M1121.7 931.9h0M1084.5 927.3h0M1052.0 928.7h0"/><path class="i" stroke="#000080" d="M968.9 916.9h0M1476.7 920.7h0M1330.4 921.3h0M1550.2 911.3h0M1553.1 894.5h0M1559.9 925.1h0M1963.3 903.9h0M1014.7 914.0h0M930.7 913.3h0M1545.7 921.9h0M1306.4 928.5h0M1139.7 928.2h0M1084.5 927.3h0"/><path class="o" d="M1907.0 922.6h0M1240.2 926.7h0M1567.4 920.0h0M956.0 927.9h0M1472.1 929.4h0M1150.3 911.4h0M1594.9 925.2h0M1547.3 924.8h0M1629.5 922.8h0M1511.3 921.1h0M1640.1 921.1h0M999.8 925.8h0M928.4 922.3h0M1647.6 931.7h0M1096.0 908.6h0M1578.6 917.6h0M1007.3 910.9h0M996.7 925.0h0M1924.1 915.5h0M1635.1 919.0h0M1540.5 919.7h0M1046.1 915.1h0M1199.8 912.1h0M1440.3 912.9h0M1117.6 924.8h0M1427.7 920.0h0M953.9 922.9h0M1473.2 916.5h0M1670.7 928.4h0M1357.7 931.6h0"/><path class="i" stroke="#000080" d="M1907.0 922.6h0M956.0 927.9h0M1150.3 911.4h0M1594.9 925.2h0M1547.3 924.8h0M1629.5 922.8h0M999.8 925.8h0M928.4 922.3h0M1647.6 931.7h0M1096.0 908.6h0M1578.6 917.6h0M1007.3 910.9h0M1924.1 915.5h0M1046.1 915.1h0M1199.8 912.1h0M1440.3 912.9h0M1117.6 924.8h0"/><path class="o" d="M1189.4 923.3h0M1668.6 924.8h0M932.6 921.6h0M1026.0 924.2h0M886.5 915.0h0M1537.7 909.3h0M1488.6 926.4h0M1350.3 926.3h0M1531.7 919.4h0M1416.6 916.6h0M944.4 925.2h0M895.3 920.3h0M900.6 920.9h0M985.0 928.8h0M1157.9 920.5h0M912.5 918.5h0M959.8 921.1h0M1425.5 930.4h0M1676.4 929.9h0M1452.9 910.8h0M897.4 925.6h0M1105.5 921.2h0M967.5 917.9h0M931.4 923.2h0M1323.4 926.6h0M1505.8 919.7h0M1282.9 923.3h0M1190.3 912.0h0M1058.3 919.4h0M1226.2 932.1h0"/><path class="i" stroke="#000080" d="M932.6 921.6h0M886.5 915.0h0M1537.7 909.3h0M1488.6 926.4h0M1350.3 926.3h0M1531.7 919.4h0M1416.6 916.6h0M944.4 925.2h0M895.3 920.3h0M912.5 918.5h0M959.8 921.1h0M1676.4 929.9h0M1452.9 910.8h0M967.5 917.9h0M1282.9 923.3h0M1190.3 912.0h0M1058.3 919.4h0"/><path class="o" d="M1970.7 923.3h0M1198.0 922.0h0M1665.8 923.5h0M1588.9 924.3h0M1436.6 920.5h0M1442.8 927.8h0M1516.5 924.6h0M1479.8 929.8h0M1931.8 921.0h0M1311.1 927.0h0M1107.4 917.8h0M1365.8 926.4h0M985.8 916.2h0M930.7 931.1h0M1929.1 908.2h0M925.7 923.5h0M1568.8 927.3h0M1210.3 926.7h0M1077.2 917.9h0M1603.5 923.9h0M990.3 932.1h0M1465.8 920.3h0M1326.0 928.2h0M1378.0 918.2h0M1285.9 928.0h0M1189.3 924.3h0M901.2 919.1h0M1223.0 928.7h0M1193.4 931.4h0M1916.9 919.6h0"/><path class="i" stroke="#000080" d="M1198.0 922.0h0M1588.9 924.3h0M1436.6 920.5h0M1931.8 921.0h0M1107.4 917.8h0M1365.8 926.4h0M985.8 916.2h0M1929.1 908.2h0M1568.8 927.3h0M1077.2 917.9h0M990.3 932.1h0M1465.8 920.3h0M1378.0 918.2h0M1189.3 924.3h0M1223.0 928.7h0M1916.9 919.6h0"/><path class="o" d="M1099.2 932.3h0M983.5 923.5h0M1493.9 906.1h0M1491.6 931.3h0M1510.8 919.5h0M1607.7 932.1h0M1935.3 921.8h0M1494.6 922.5h0M1237.7 931.6h0M1559.7 930.6h0M958.8 928.8h0M1109.9 922.5h0M1484.5 923.2h0M1302.7 925.5h0M1658.2 921.3h0M1075.0 900.6h0M941.5 929.5h0M1933.2 923.8h0M1614.9 926.9h0M1443.2 925.1h0M1588.8 912.6h0M1106.7 918.6h0M900.9 918.2h0M1254.3 932.0h0M1543.9 913.5h0M1612.8 911.1h0M1177.8 932.0h0M1161.3 923.5h0M952.8 920.1h0M1602.1 919.0h0"/><path class="i" stroke="#000080" d="M1493.9 906.1h0M1935.3 921.8h0M1494.6 922.5h0M1559.7 930.6h0M958.8 928.8h0M1109.9 922.5h0M1484.5 923.2h0M1658.2 921.3h0M1075.0 900.6h0M1588.8 912.6h0M1106.7 918.6h0M1254.3 932.0h0M1612.8 911.1h0M1161.3 923.5h0M952.8 920.1h0M1602.1 919.0h0"/><path class="o" d="M1322.6 924.0h0M1216.8 930.6h0M1213.3 918.7h0M1152.9 927.9h0M1408.3 913.9h0M896.4 925.6h0M1416.4 918.3h0M1811.7 932.8h0M1189.2 915.8h0M1190.5 925.1h0M1311.8 913.5h0M1449.3 932.1h0M1294.5 917.0h0M1405.1 929.9h0M1915.6 926.6h0M1321.2 927.4h0M1391.1 921.2h0M1012.5 924.0h0M1333.5 922.5h0M1053.1 931.3h0M1476.9 928.2h0M871.5 931.3h0M1488.9 911.1h0M1361.0 924.7h0M1904.6 927.5h0M1227.3 928.4h0M1476.5 915.3h0M893.2 924.2h0M1125.7 932.6h0M1552.1 923.1h0"/><path class="i" stroke="#000080" d="M1322.6 924.0h0M1213.3 918.7h0M1152.9 927.9h0M1408.3 913.9h0M1416.4 918.3h0M1811.7 932.8h0M1189.2 915.8h0M1190.5 925.1h0M1311.8 913.5h0M1294.5 917.0h0M1391.1 921.2h0M1012.5 924.0h0M1333.5 922.5h0M1488.9 911.1h0M1227.3 928.4h0M1476.5 915.3h0M893.2 924.2h0"/><path class="o" d="M957.2 924.4h0M963.1 932.5h0M1584.5 913.4h0M1402.0 914.9h0M1534.7 930.1h0M1499.9 885.9h0M1302.4 932.5h0M1243.8 929.4h0M1346.5 924.3h0M1170.3 921.0h0M958.7 932.6h0M1165.3 928.1h0M1966.2 920.6h0M1018.6 922.5h0M963.9 920.0h0M1274.5 928.6h0M1439.0 924.3h0M1478.7 924.9h0M1677.2 925.0h0M1032.0 920.0h0M1965.4 923.9h0M1001.2 913.2h0M1023.2 919.0h0M1451.6 910.9h0M982.1 918.8h0M1460.2 906.4h0M967.6 926.0h0M1570.0 916.1h0M1337.8 921.8h0M1284.1 922.9h0"/><path class="i" stroke="#000080" d="M957.2 924.4h0M1584.5 913.4h0M1402.0 914.9h0M1534.7 930.1h0M1499.9 885.9h0M1346.5 924.3h0M1966.2 920.6h0M1018.6 922.5h0M963.9 920.0h0M1274.5 928.6h0M1478.7 924.9h0M1677.2 925.0h0M1032.0 920.0h0M1965.4 923.9h0M1001.2 913.2h0M1451.6 910.9h0M1460.2 906.4h0M1570.0 916.1h0M1337.8 921.8h0"/><path class="o" d="M1406.3 931.7h0M1392.1 910.5h0M1648.1 921.6h0M1245.6 932.8h0M1649.9 927.4h0M1280.3 930.1h0M984.5 905.1h0M1125.3 932.4h0M1492.4 916.1h0M1927.6 922.5h0M1287.2 923.2h0M1147.0 907.0h0M1030.6 889.4h0M917.3 928.0h0M1412.2 930.9h0M1161.9 922.4h0M1518.3 911.0h0M1145.4 918.6h0M1333.4 920.2h0M1204.4 925.2h0M1239.5 929.8h0M1515.0 898.1h0M1370.9 927.3h0M999.8 926.3h0M1537.7 922.8h0M1672.3 932.4h0M1912.8 919.2h0M1248.7 919.2h0M1935.8 919.7h0M1219.6 922.9h0"/><path class="i" stroke="#000080" d="M1392.1 910.5h0M1245.6 932.8h0M1649.9 927.4h0M1280.3 930.1h0M984.5 905.1h0M1147.0 907.0h0M1030.6 889.4h0M1518.3 911.0h0M1145.4 918.6h0M1333.4 920.2h0M1204.4 925.2h0M1515.0 898.1h0M999.8 926.3h0M1537.7 922.8h0M1912.8 919.2h0M1248.7 919.2h0M1219.6 922.9h0"/><path class="o" d="M1609.5 911.8h0M1088.4 930.3h0M1197.0 925.7h0M1388.7 930.7h0M958.3 921.1h0M1626.2 932.0h0M1424.6 926.6h0M1441.0 924.3h0M1291.1 913.9h0M1578.0 918.9h0M1383.8 916.0h0M1034.8 928.7h0M1294.4 929.7h0M1574.4 888.7h0M1277.3 927.8h0M1316.1 919.1h0M1060.1 922.6h0M1300.6 929.1h0M1487.7 918.6h0M1960.0 919.2h0M1424.0 927.9h0M1381.5 928.1h0M930.2 927.4h0M1104.3 924.3h0M993.1 929.2h0M963.1 924.5h0M1021.5 917.6h0M1001.3 924.7h0M1233.2 917.1h0M1034.8 927.0h0"/><path class="i" stroke="#000080" d="M1609.5 911.8h0M1088.4 930.3h0M1197.0 925.7h0M1388.7 930.7h0M1626.2 932.0h0M1441.0 924.3h0M1291.1 913.9h0M1578.0 918.9h0M1383.8 916.0h0M1574.4 888.7h0M1277.3 927.8h0M1316.1 919.1h0M1060.1 922.6h0M1960.0 919.2h0M1424.0 927.9h0M1381.5 928.1h0M1104.3 924.3h0M1001.3 924.7h0M1233.2 917.1h0"/><path class="o" d="M1467.3 921.7h0M1303.9 928.7h0M1211.5 924.7h0M1253.0 931.4h0M1008.2 912.8h0M891.3 900.1h0M1424.6 917.6h0M964.9 925.8h0M1470.2 931.7h0M1681.1 929.4h0M1666.3 931.2h0M1465.6 924.5h0M1650.3 916.1h0M1182.9 923.7h0M1305.6 920.6h0M1138.5 915.2h0M1107.6 917.5h0M1193.6 929.4h0M1513.3 930.6h0M1362.3 928.9h0M1614.4 916.3h0M1333.1 917.4h0M1321.7 930.5h0M1448.6 923.2h0M1186.0 930.1h0M1168.4 917.2h0M1299.3 925.6h0M1119.0 915.5h0M1313.7 917.9h0M1158.1 926.1h0"/><path class="i" stroke="#000080" d="M1467.3 921.7h0M1303.9 928.7h0M1211.5 924.7h0M1253.0 931.4h0M1008.2 912.8h0M891.3 900.1h0M1424.6 917.6h0M964.9 925.8h0M1681.1 929.4h0M1666.3 931.2h0M1650.3 916.1h0M1182.9 923.7h0M1305.6 920.6h0M1138.5 915.2h0M1107.6 917.5h0M1193.6 929.4h0M1614.4 916.3h0M1333.1 917.4h0M1448.6 923.2h0M1186.0 930.1h0M1168.4 917.2h0M1299.3 925.6h0M1119.0 915.5h0M1313.7 917.9h0M1158.1 926.1h0"/><path class="o" d="M1073.4 910.9h0M1127.5 917.5h0M1029.3 928.8h0M1600.6 926.7h0M1484.7 915.9h0M1183.0 910.9h0M1596.5 911.7h0M1447.1 912.4h0M1280.1 928.7h0M1176.2 931.6h0M966.8 930.2h0M990.6 923.8h0M1048.9 908.9h0M1114.9 914.7h0M1467.6 931.7h0M940.6 926.6h0M1529.1 923.6h0M1300.1 922.1h0M917.9 929.7h0M1939.2 908.7h0M1207.8 922.0h0M1460.0 919.4h0M1937.3 926.5h0M1129.0 910.5h0M1293.1 927.9h0M1050.5 924.9h0M1290.1 929.1h0M1580.0 910.2h0M1679.6 926.1h0M1100.8 916.3h0"/><path class="i" stroke="#000080" d="M1073.4 910.9h0M1127.5 917.5h0M1484.7 915.9h0M1183.0 910.9h0M1596.5 911.7h0M1447.1 912.4h0M1280.1 928.7h0M1048.9 908.9h0M1114.9 914.7h0M1300.1 922.1h0M1939.2 908.7h0M1207.8 922.0h0M1460.0 919.4h0M1129.0 910.5h0M1290.1 929.1h0M1580.0 910.2h0M1679.6 926.1h0M1100.8 916.3h0"/><path class="o" d="M1176.4 910.2h0M933.8 913.9h0M1017.9 926.7h0M888.4 910.6h0M1673.1 922.2h0M1186.7 910.0h0M1583.0 910.1h0M1165.0 929.5h0M1494.0 922.2h0M961.1 917.7h0M1186.0 922.3h0M1126.8 918.1h0M1127.8 917.7h0M1144.4 917.8h0M1430.1 921.8h0M889.9 907.8h0M1311.0 923.5h0M1461.1 926.2h0M1961.6 921.1h0M1593.8 896.9h0M1579.2 912.8h0M1634.6 931.1h0M991.6 917.1h0M1325.5 931.5h0M1518.3 930.7h0M967.0 931.2h0M1168.3 922.3h0M1961.0 922.8h0M1306.9 918.7h0M1567.6 930.8h0"/><path class="i" stroke="#000080" d="M1176.4 910.2h0M933.8 913.9h0M888.4 910.6h0M1673.1 922.2h0M1186.7 910.0h0M1583.0 910.1h0M1165.0 929.5h0M961.1 917.7h0M1186.0 922.3h0M1126.8 918.1h0M1127.8 917.7h0M1144.4 917.8h0M889.9 907.8h0M1311.0 923.5h0M1961.6 921.1h0M1593.8 896.9h0M1579.2 912.8h0M991.6 917.1h0M1518.3 930.7h0M1168.3 922.3h0M1306.9 918.7h0"/><path class="o" d="M1455.3 930.9h0M1406.9 927.0h0M876.0 920.5h0M869.9 932.1h0M1050.0 921.6h0M1216.0 922.0h0M1129.6 916.8h0M1232.4 931.8h0M911.5 921.6h0M1498.6 904.1h0M1378.6 928.1h0M1093.8 916.4h0M1046.0 921.4h0M1519.5 899.4h0M1949.1 927.3h0M1952.8 927.9h0M1069.4 925.3h0M1591.4 914.6h0M899.0 909.9h0M1081.7 920.4h0M1386.2 928.2h0M1065.9 916.6h0M1289.3 920.6h0M1236.9 931.9h0M1553.3 909.1h0M899.1 915.9h0M921.8 928.1h0M1596.7 926.2h0M1927.0 926.7h0M1933.6 919.4h0"/><path class="i" stroke="#000080" d="M876.0 920.5h0M1216.0 922.0h0M1129.6 916.8h0M1498.6 904.1h0M1378.6 928.1h0M1093.8 916.4h0M1519.5 899.4h0M1949.1 927.3h0M899.0 909.9h0M1081.7 920.4h0M1065.9 916.6h0M1289.3 920.6h0M1236.9 931.9h0M1553.3 909.1h0M899.1 915.9h0M1933.6 919.4h0"/><path class="o" d="M1606.0 925.9h0M1946.8 922.3h0M965.5 922.0h0M1077.2 924.2h0M1617.4 912.1h0M1911.1 914.2h0M960.6 904.7h0M928.4 919.8h0M1939.4 920.7h0M993.2 928.8h0M974.7 931.7h0M1142.7 916.0h0M1220.1 930.8h0M1917.0 912.9h0M1513.2 919.0h0M1905.1 925.3h0M1578.9 915.3h0M1365.7 931.1h0M983.1 930.1h0M914.2 915.3h0M924.7 921.8h0M1372.9 930.6h0M1217.7 930.7h0M1339.9 925.2h0M1191.3 931.6h0M1590.3 922.8h0M1422.7 924.6h0M1304.1 926.3h0M1907.4 924.5h0M1416.0 920.3h0"/><path class="i" stroke="#000080" d="M1606.0 925.9h0M1946.8 922.3h0M965.5 922.0h0M1077.2 924.2h0M1617.4 912.1h0M1911.1 914.2h0M960.6 904.7h0M928.4 919.8h0M1939.4 920.7h0M974.7 931.7h0M1142.7 916.0h0M1917.0 912.9h0M1513.2 919.0h0M1905.1 925.3h0M1365.7 931.1h0M914.2 915.3h0M924.7 921.8h0M1590.3 922.8h0M1304.1 926.3h0M1907.4 924.5h0M1416.0 920.3h0"/><path class="o" d="M962.4 929.5h0M937.8 919.2h0M960.9 930.9h0M1460.3 915.0h0M933.2 922.9h0M1910.3 925.8h0M1644.9 918.2h0M1296.1 921.7h0M1464.0 914.8h0M1428.8 905.2h0M1238.7 920.9h0M1413.9 926.2h0M919.0 918.9h0M1459.3 925.0h0M1347.2 905.8h0M1648.2 923.4h0M1010.7 918.0h0M1233.9 928.8h0M1462.1 921.3h0M1187.3 927.2h0M1410.2 902.6h0M1055.5 917.4h0M1596.4 925.1h0M991.1 918.9h0M1321.3 932.0h0M997.9 930.2h0M1362.0 925.8h0M976.8 917.0h0M1380.2 931.6h0M1249.5 932.0h0"/><path class="i" stroke="#000080" d="M937.8 919.2h0M960.9 930.9h0M1460.3 915.0h0M1910.3 925.8h0M1644.9 918.2h0M1296.1 921.7h0M1464.0 914.8h0M1428.8 905.2h0M1238.7 920.9h0M1413.9 926.2h0M919.0 918.9h0M1347.2 905.8h0M1648.2 923.4h0M1462.1 921.3h0M1410.2 902.6h0M1055.5 917.4h0M1596.4 925.1h0M976.8 917.0h0M1380.2 931.6h0"/><path class="o" d="M1167.9 920.0h0M1357.9 932.1h0M1247.5 927.4h0M1204.6 927.0h0M1028.0 914.5h0M1065.1 920.3h0M1487.9 917.3h0M1330.1 931.7h0M1925.4 917.3h0M944.6 928.6h0M1540.2 911.4h0M892.0 931.7h0M1649.3 916.7h0M1674.4 915.5h0M1117.9 901.8h0M1139.3 915.2h0M1319.5 922.8h0M1061.4 922.7h0M954.5 927.9h0M1072.6 928.9h0M1199.7 923.2h0M1295.8 929.7h0M1162.1 921.1h0M1608.9 931.3h0M1481.0 920.9h0M1169.9 925.9h0M1556.6 932.4h0M1286.9 931.8h0M1953.9 901.8h0M934.9 920.7h0"/><path class="i" stroke="#000080" d="M1247.5 927.4h0M1028.0 914.5h0M1065.1 920.3h0M1487.9 917.3h0M1925.4 917.3h0M944.6 928.6h0M1540.2 911.4h0M892.0 931.7h0M1649.3 916.7h0M1674.4 915.5h0M1117.9 901.8h0M1139.3 915.2h0M1319.5 922.8h0M1295.8 929.7h0M1481.0 920.9h0M1556.6 932.4h0M1286.9 931.8h0M1953.9 901.8h0M934.9 920.7h0"/><path class="o" d="M972.6 910.4h0M1558.7 915.6h0M1669.4 926.2h0M1119.9 920.4h0M1943.0 927.7h0M1369.9 932.2h0M1521.6 929.7h0M1310.3 919.9h0M1930.9 930.3h0M1342.1 925.0h0M1197.4 930.0h0M1121.4 920.5h0M1232.6 921.2h0M1100.3 924.7h0M1046.2 931.8h0M1929.7 917.3h0M1502.8 920.1h0M1196.4 918.5h0M1092.8 903.4h0M1233.1 921.8h0M1358.6 925.6h0M1908.4 922.4h0M1232.6 928.8h0M929.0 923.0h0M1159.5 918.9h0M1582.7 910.4h0M1452.1 918.5h0M1458.2 921.3h0M1966.9 904.1h0M1206.5 920.2h0"/><path class="i" stroke="#000080" d="M972.6 910.4h0M1369.9 932.2h0M1310.3 919.9h0M1342.1 925.0h0M1232.6 921.2h0M1100.3 924.7h0M1929.7 917.3h0M1196.4 918.5h0M1092.8 903.4h0M1233.1 921.8h0M1358.6 925.6h0M1908.4 922.4h0M1159.5 918.9h0M1582.7 910.4h0M1458.2 921.3h0M1966.9 904.1h0M1206.5 920.2h0"/><path class="o" d="M1066.7 918.4h0M1484.0 927.7h0M1443.5 909.1h0M886.4 917.1h0M1904.2 925.8h0M869.4 930.6h0M1440.8 926.8h0M928.2 928.1h0M1366.8 920.5h0M1133.9 913.2h0M1963.5 914.4h0M930.3 923.9h0M1922.5 926.9h0M988.9 907.2h0M1138.0 926.6h0M1128.9 931.9h0M1156.8 921.6h0M1450.8 932.5h0M1379.5 926.1h0M1104.8 922.8h0M1469.1 920.9h0M884.8 921.4h0M1951.8 924.9h0M1621.7 932.3h0M1048.1 919.6h0M1071.0 928.4h0M1105.9 912.8h0M1177.0 913.8h0M1155.7 930.4h0M1560.6 902.8h0"/><path class="i" stroke="#000080" d="M1066.7 918.4h0M1484.0 927.7h0M1443.5 909.1h0M886.4 917.1h0M1904.2 925.8h0M1366.8 920.5h0M1133.9 913.2h0M1963.5 914.4h0M930.3 923.9h0M988.9 907.2h0M1156.8 921.6h0M1450.8 932.5h0M1104.8 922.8h0M1469.1 920.9h0M884.8 921.4h0M1071.0 928.4h0M1105.9 912.8h0M1177.0 913.8h0M1560.6 902.8h0"/><path class="o" d="M1574.5 898.4h0M1242.5 932.3h0M1294.1 924.5h0M1468.1 926.8h0M1659.6 926.9h0M909.6 924.2h0M1595.4 926.5h0M1459.0 932.6h0M1562.9 929.8h0M1906.8 925.4h0M1053.7 912.5h0M1084.6 927.1h0M1057.1 918.6h0M1115.3 913.6h0M917.3 929.1h0M1169.0 909.3h0M1457.5 920.3h0M1939.5 932.0h0M1276.3 930.3h0M1144.1 930.0h0M979.4 920.4h0M1408.5 921.9h0M1519.5 917.5h0M1081.1 926.8h0M1006.9 912.3h0M1638.6 928.4h0M1311.7 924.7h0M1497.8 920.0h0M1132.2 930.2h0M1523.6 920.7h0"/><path class="i" stroke="#000080" d="M1574.5 898.4h0M1294.1 924.5h0M1659.6 926.9h0M909.6 924.2h0M1595.4 926.5h0M1053.7 912.5h0M1115.3 913.6h0M917.3 929.1h0M1169.0 909.3h0M1457.5 920.3h0M979.4 920.4h0M1006.9 912.3h0M1311.7 924.7h0"/><path class="o" d="M1659.6 918.3h0M1111.7 911.7h0M1347.3 923.6h0M1919.3 918.7h0M1482.5 917.8h0M1226.4 921.7h0M1173.5 899.4h0M906.1 928.3h0M1296.0 921.0h0M1436.6 917.2h0M1496.8 912.5h0M1135.3 928.9h0M1931.1 921.3h0M1928.6 923.1h0M1025.5 932.6h0M1062.3 931.5h0M1583.8 915.4h0M1401.2 920.6h0M1365.0 912.6h0M1296.2 931.4h0M1548.4 926.4h0M1439.7 927.3h0M1585.7 930.4h0M1121.8 915.5h0M1477.8 927.3h0M1571.6 932.5h0M1353.9 914.2h0M989.3 916.9h0M1954.4 913.4h0M1207.4 928.5h0"/><path class="i" stroke="#000080" d="M1659.6 918.3h0M1111.7 911.7h0M1347.3 923.6h0M1919.3 918.7h0M1482.5 917.8h0M1173.5 899.4h0M1296.0 921.0h0M1436.6 917.2h0M1496.8 912.5h0M1931.1 921.3h0M1583.8 915.4h0M1401.2 920.6h0M1365.0 912.6h0M1571.6 932.5h0M1353.9 914.2h0M1954.4 913.4h0M1207.4 928.5h0"/><path class="o" d="M966.1 928.0h0M1123.0 927.4h0M1245.6 931.6h0M868.2 926.1h0M1075.1 912.3h0M1353.7 926.8h0M1931.6 925.8h0M1228.3 931.0h0M1092.6 927.6h0M1641.2 928.0h0M1300.7 928.4h0M1544.4 915.1h0M1562.4 917.2h0M1929.6 928.7h0M1274.5 927.2h0M1632.1 926.9h0M1308.2 928.0h0M1352.0 932.1h0M1667.3 928.6h0M1110.2 911.4h0M1571.2 931.3h0M1306.5 931.9h0M1237.4 931.8h0M1028.6 928.8h0M1370.2 922.3h0M1012.3 931.9h0M1002.2 926.8h0M962.8 911.8h0M1917.3 927.5h0M1048.5 925.6h0"/><path class="i" stroke="#000080" d="M1123.0 927.4h0M1075.1 912.3h0M1544.4 915.1h0M1562.4 917.2h0M1274.5 927.2h0M1308.2 928.0h0M1352.0 932.1h0M1110.2 911.4h0M1571.2 931.3h0M1370.2 922.3h0M1012.3 931.9h0M962.8 911.8h0"/><path class="o" d="M890.9 920.5h0M1680.1 932.3h0M1208.2 926.5h0M1929.0 919.3h0M1286.0 929.8h0M1615.8 917.2h0M1291.1 922.3h0M1303.1 927.9h0M1153.0 915.4h0M1904.3 931.8h0M1555.2 905.8h0M896.9 917.3h0M1937.0 928.2h0M981.4 914.7h0M1213.0 928.2h0M1283.8 922.2h0M1050.3 915.1h0M1053.4 917.2h0M1069.7 915.4h0M1616.7 931.9h0M1272.9 932.2h0M1402.6 930.9h0M1102.0 911.9h0M934.1 929.2h0M1286.2 910.8h0M1675.7 932.6h0M1178.1 902.6h0M1117.4 906.6h0M1088.3 915.0h0M1396.2 931.7h0"/><path class="i" stroke="#000080" d="M1680.1 932.3h0M1929.0 919.3h0M1291.1 922.3h0M1153.0 915.4h0M1904.3 931.8h0M1555.2 905.8h0M896.9 917.3h0M981.4 914.7h0M1050.3 915.1h0M1053.4 917.2h0M1069.7 915.4h0M1272.9 932.2h0M1102.0 911.9h0M1286.2 910.8h0M1675.7 932.6h0M1178.1 902.6h0M1117.4 906.6h0M1088.3 915.0h0"/><path class="o" d="M932.2 913.6h0M1421.3 915.1h0M1547.1 902.3h0M1016.0 918.1h0M1362.3 928.7h0M1033.3 922.2h0M1959.5 924.3h0M1656.7 930.1h0M1621.9 926.1h0M1347.3 913.0h0M1347.2 911.6h0M1317.3 921.8h0M1570.2 906.1h0M1016.7 911.9h0M1925.2 921.5h0M1183.2 923.2h0M1178.1 928.7h0M1615.4 928.1h0M1046.2 920.3h0M1131.9 922.9h0M1394.0 925.4h0M1955.2 917.2h0M1425.5 929.3h0M1071.5 926.9h0M904.5 922.4h0M1221.6 924.7h0M1187.1 925.0h0M1048.1 918.4h0M1902.1 931.3h0M1146.0 928.0h0"/><path class="i" stroke="#000080" d="M932.2 913.6h0M1421.3 915.1h0M1547.1 902.3h0M1016.0 918.1h0M1621.9 926.1h0M1347.3 913.0h0M1347.2 911.6h0M1317.3 921.8h0M1570.2 906.1h0M1016.7 911.9h0M1925.2 921.5h0M1046.2 920.3h0M1131.9 922.9h0M1394.0 925.4h0M1955.2 917.2h0M1221.6 924.7h0M1048.1 918.4h0M1146.0 928.0h0"/><path class="o" d="M1014.4 908.3h0M903.3 932.2h0M1236.6 921.9h0M1600.3 932.2h0M1362.8 929.2h0M972.6 916.2h0M916.8 930.3h0M915.1 908.0h0M1166.8 919.4h0M958.2 920.2h0M988.9 916.4h0M1311.7 915.0h0M1625.0 930.7h0M1089.6 930.9h0M1665.4 932.4h0M1678.6 928.1h0M1132.5 928.8h0M1028.6 921.0h0M1202.6 925.2h0M1528.6 914.6h0M1048.2 911.8h0M984.1 930.1h0M1952.4 917.9h0M1349.5 926.9h0M1201.9 918.5h0M1280.1 932.4h0M1448.1 916.8h0M1460.3 921.1h0M1166.7 917.9h0M1245.2 931.9h0"/><path class="i" stroke="#000080" d="M1014.4 908.3h0M1600.3 932.2h0M1362.8 929.2h0M972.6 916.2h0M915.1 908.0h0M958.2 920.2h0M988.9 916.4h0M1311.7 915.0h0M1665.4 932.4h0M1678.6 928.1h0M1528.6 914.6h0M1048.2 911.8h0M1952.4 917.9h0M1201.9 918.5h0M1448.1 916.8h0M1460.3 921.1h0M1166.7 917.9h0"/><path class="o" d="M1310.7 923.0h0M1032.8 905.0h0M1379.7 931.0h0M1582.1 914.4h0M1574.1 914.5h0M882.6 932.3h0M1377.3 930.1h0M906.7 927.1h0M1343.7 923.1h0M1410.9 921.8h0M1932.2 927.2h0M1304.6 928.0h0M1286.9 925.6h0M1634.3 931.4h0M1365.3 924.9h0M1279.5 924.5h0M1682.0 928.7h0M1068.5 925.8h0M1010.7 928.0h0M1195.0 925.0h0M1928.5 922.7h0M1650.0 920.0h0M1103.8 890.4h0M1194.1 917.6h0M1189.9 926.3h0M908.0 921.9h0M1657.2 929.2h0M1561.2 927.4h0M1348.9 932.3h0M1159.1 921.3h0"/><path class="i" stroke="#000080" d="M1310.7 923.0h0M1032.8 905.0h0M1379.7 931.0h0M906.7 927.1h0M1410.9 921.8h0M1286.9 925.6h0M1634.3 931.4h0M1279.5 924.5h0M1682.0 928.7h0M1928.5 922.7h0M1650.0 920.0h0M1103.8 890.4h0M1194.1 917.6h0M1189.9 926.3h0M908.0 921.9h0M1159.1 921.3h0"/><path class="o" d="M1960.6 925.2h0M1367.1 931.7h0M1376.6 929.9h0M1572.8 919.8h0M1599.9 929.5h0M925.3 928.4h0M1216.9 925.6h0M1024.3 911.6h0M1336.0 900.6h0M1370.2 929.0h0M1380.9 921.1h0M1914.3 926.1h0M1562.9 924.9h0M904.3 928.7h0M1503.6 911.2h0M1356.1 920.3h0M1240.2 921.8h0M1107.3 926.1h0M1960.8 919.3h0M1213.7 908.1h0M1928.3 919.5h0M1947.5 928.6h0M1322.5 922.8h0M1142.5 924.1h0M1384.3 928.1h0M946.4 927.1h0M1119.5 927.9h0M1963.5 931.4h0M1238.9 918.5h0M1584.1 927.6h0"/><path class="i" stroke="#000080" d="M1367.1 931.7h0M1572.8 919.8h0M1024.3 911.6h0M1336.0 900.6h0M1380.9 921.1h0M1503.6 911.2h0M1356.1 920.3h0M1240.2 921.8h0M1960.8 919.3h0M1213.7 908.1h0M1928.3 919.5h0M946.4 927.1h0M1963.5 931.4h0M1238.9 918.5h0"/><path class="o" d="M1210.6 923.3h0M1118.5 919.3h0M1947.6 928.7h0M1150.3 927.2h0M1367.8 930.6h0M1374.4 915.2h0M1667.1 927.7h0M1437.2 930.7h0M990.7 929.5h0M1923.3 918.1h0M1049.4 898.4h0M1430.1 908.3h0M1531.7 914.1h0M1607.3 928.1h0M1023.6 916.9h0M1291.8 923.4h0M1677.2 931.6h0M1543.4 922.8h0M1558.0 925.6h0M1396.5 920.9h0M1003.1 902.3h0M1569.1 912.9h0M1626.9 915.1h0M1676.8 928.5h0M1340.2 928.3h0M1160.0 928.4h0M1938.9 928.5h0M1629.1 930.8h0M1140.4 929.5h0M1579.8 918.2h0"/><path class="i" stroke="#000080" d="M1118.5 919.3h0M1947.6 928.7h0M1374.4 915.2h0M990.7 929.5h0M1923.3 918.1h0M1049.4 898.4h0M1430.1 908.3h0M1531.7 914.1h0M1291.8 923.4h0M1677.2 931.6h0M1543.4 922.8h0M1396.5 920.9h0M1003.1 902.3h0M1569.1 912.9h0M1676.8 928.5h0M1140.4 929.5h0M1579.8 918.2h0"/><path class="o" d="M1237.2 932.0h0M1922.9 927.4h0M1126.1 915.7h0M1251.2 930.1h0M1101.9 929.9h0M1970.4 931.1h0M1615.5 924.0h0M1642.9 926.3h0M1934.2 909.1h0M1065.4 921.2h0M1385.6 929.7h0M1546.8 919.6h0M1920.8 925.1h0M1676.3 924.4h0M1448.1 919.6h0M1030.8 928.1h0M1316.5 929.0h0M1630.6 902.2h0M1674.1 926.5h0M1407.8 924.9h0M1632.0 902.5h0M1402.9 929.7h0M921.7 927.1h0M1914.5 911.1h0M938.1 921.0h0M1656.4 920.7h0M1071.5 914.7h0M1529.0 919.0h0M1460.5 924.1h0M1459.0 916.7h0"/><path class="i" stroke="#000080" d="M1126.1 915.7h0M1970.4 931.1h0M1615.5 924.0h0M1934.2 909.1h0M1920.8 925.1h0M1676.3 924.4h0M1448.1 919.6h0M1316.5 929.0h0M1630.6 902.2h0M1632.0 902.5h0M1914.5 911.1h0M938.1 921.0h0M1656.4 920.7h0M1071.5 914.7h0M1529.0 919.0h0M1460.5 924.1h0M1459.0 916.7h0"/><path class="o" d="M1545.1 917.7h0M914.5 925.0h0M1643.4 925.1h0M1143.6 913.6h0M1131.7 928.6h0M1955.9 907.4h0M1659.8 926.0h0M1505.2 911.8h0M1426.9 922.8h0M1590.5 929.8h0M966.8 923.9h0M1129.5 917.2h0M1454.8 920.2h0M997.6 915.5h0M1416.7 916.6h0M1071.5 932.6h0M997.0 932.1h0M877.3 916.7h0M867.2 924.2h0M1001.8 905.7h0M1274.6 928.1h0M997.8 927.7h0M945.5 926.4h0M912.3 905.2h0M945.3 921.4h0M1543.1 931.1h0M1230.8 921.5h0M1051.0 920.1h0M961.7 930.8h0M1388.3 932.2h0"/><path class="i" stroke="#000080" d="M1545.1 917.7h0M1643.4 925.1h0M1143.6 913.6h0M1955.9 907.4h0M1426.9 922.8h0M1129.5 917.2h0M1454.8 920.2h0M1416.7 916.6h0M877.3 916.7h0M1001.8 905.7h0M912.3 905.2h0M945.3 921.4h0M1543.1 931.1h0M1230.8 921.5h0M1051.0 920.1h0"/><path class="o" d="M1588.5 911.2h0M1677.6 924.8h0M1678.5 921.3h0M967.8 925.9h0M1274.9 927.4h0M1096.3 918.5h0M1468.2 932.2h0M1374.9 925.2h0M1397.9 931.3h0M1053.8 917.1h0M898.3 928.2h0M1964.7 931.2h0M984.7 924.3h0M1330.8 902.5h0M1446.8 924.2h0M1530.7 921.1h0M1309.1 928.2h0M1149.3 925.3h0M1353.1 921.8h0M1314.5 921.6h0M1487.5 931.8h0M1638.0 919.3h0M1422.4 923.0h0M1357.3 925.6h0M1479.4 910.4h0M1557.1 915.5h0M1372.6 931.6h0M1299.7 920.5h0M1276.4 930.2h0M1035.7 891.4h0"/><path class="i" stroke="#000080" d="M1588.5 911.2h0M1678.5 921.3h0M1274.9 927.4h0M1468.2 932.2h0M1374.9 925.2h0M1397.9 931.3h0M1053.8 917.1h0M1330.8 902.5h0M1530.7 921.1h0M1309.1 928.2h0M1353.1 921.8h0M1314.5 921.6h0M1487.5 931.8h0M1638.0 919.3h0M1422.4 923.0h0M1357.3 925.6h0M1479.4 910.4h0M1557.1 915.5h0M1299.7 920.5h0M1035.7 891.4h0"/><path class="o" d="M1954.6 929.6h0M1526.0 917.2h0M1131.4 928.2h0M1207.5 932.0h0M1392.5 932.2h0M1309.3 922.2h0M1655.0 927.2h0M1300.5 915.1h0M1273.1 932.0h0M1579.4 899.4h0M1457.2 927.4h0M1380.3 924.1h0M1106.8 917.9h0M1573.0 911.8h0M1203.7 920.6h0M1526.5 919.5h0M1511.0 896.6h0M1944.7 926.5h0M1663.7 913.6h0M1558.0 912.5h0M1376.9 920.5h0M1009.8 922.1h0M1045.1 930.5h0M1465.7 925.7h0M1468.6 904.7h0M1172.9 917.6h0M1948.9 915.5h0M1477.3 927.6h0M974.0 927.9h0M906.0 920.1h0"/><path class="i" stroke="#000080" d="M1309.3 922.2h0M1300.5 915.1h0M1273.1 932.0h0M1579.4 899.4h0M1380.3 924.1h0M1106.8 917.9h0M1573.0 911.8h0M1526.5 919.5h0M1511.0 896.6h0M1944.7 926.5h0M1663.7 913.6h0M1558.0 912.5h0M1376.9 920.5h0M1468.6 904.7h0M1172.9 917.6h0M1948.9 915.5h0M974.0 927.9h0M906.0 920.1h0"/><path class="o" d="M1480.8 927.4h0M1285.4 922.9h0M1397.1 928.6h0M1516.5 923.7h0M1569.5 914.9h0M1600.5 924.9h0M1330.6 916.3h0M1304.2 928.1h0M1495.5 897.5h0M926.5 923.0h0M1579.0 911.8h0M884.0 924.5h0M1443.5 919.4h0M1422.1 922.2h0M1225.1 921.8h0M994.3 918.3h0M1420.4 919.9h0M1394.5 931.9h0M1072.7 930.3h0M1181.6 924.1h0M1650.4 929.4h0M1168.1 919.6h0M878.6 930.5h0M1252.4 930.2h0M1533.6 924.9h0M1397.1 917.0h0M1179.3 931.9h0M1098.6 923.8h0M946.8 930.3h0M1541.9 920.5h0"/><path class="i" stroke="#000080" d="M1480.8 927.4h0M1397.1 928.6h0M1330.6 916.3h0M1304.2 928.1h0M1495.5 897.5h0M926.5 923.0h0M1579.0 911.8h0M1225.1 921.8h0M994.3 918.3h0M1072.7 930.3h0M1181.6 924.1h0M1650.4 929.4h0M1168.1 919.6h0M1252.4 930.2h0M1533.6 924.9h0M1397.1 917.0h0"/><path class="o" d="M1539.8 915.3h0M1015.4 887.1h0M1549.4 927.5h0M1138.5 904.1h0M1123.8 925.2h0M1345.2 923.5h0M1923.8 915.9h0M935.2 924.7h0M1088.1 932.0h0M976.8 922.0h0M1278.1 922.8h0M1469.1 917.3h0M1049.2 922.3h0M1188.4 917.7h0M1105.3 913.0h0M1494.2 928.6h0M1381.2 924.7h0M1405.7 921.9h0M1157.5 918.9h0M1967.7 917.9h0M1602.1 929.2h0M1301.5 922.7h0M1041.2 919.5h0M1303.2 923.8h0M1634.3 903.7h0M1667.3 928.7h0M1016.8 920.5h0M1151.8 916.7h0M1376.5 926.7h0M1121.3 915.9h0"/><path class="i" stroke="#000080" d="M1015.4 887.1h0M1138.5 904.1h0M1123.8 925.2h0M1345.2 923.5h0M935.2 924.7h0M1278.1 922.8h0M1469.1 917.3h0M1188.4 917.7h0M1105.3 913.0h0M1157.5 918.9h0M1967.7 917.9h0M1301.5 922.7h0M1303.2 923.8h0M1634.3 903.7h0M1016.8 920.5h0M1151.8 916.7h0M1376.5 926.7h0M1121.3 915.9h0"/><path class="o" d="M1611.6 922.7h0M1351.6 929.1h0M940.4 927.7h0M1332.3 929.9h0M1041.9 895.9h0M1596.8 904.4h0M1641.8 920.2h0M1630.1 902.7h0M1313.6 930.2h0M1480.5 916.7h0M1244.4 924.5h0M1116.9 916.8h0M1094.2 918.0h0M889.7 919.3h0M1018.9 918.9h0M1563.3 910.2h0M1139.2 929.8h0M1573.3 925.0h0M1660.5 932.0h0M1635.0 915.6h0M1548.2 926.7h0M1939.1 921.3h0M876.3 932.1h0M1568.4 915.0h0M1283.5 926.1h0M1035.9 932.3h0M1324.4 929.0h0M1073.4 926.6h0M1100.6 931.3h0M1579.9 911.6h0"/><path class="i" stroke="#000080" d="M1351.6 929.1h0M1041.9 895.9h0M1596.8 904.4h0M1641.8 920.2h0M1630.1 902.7h0M1480.5 916.7h0M1244.4 924.5h0M1116.9 916.8h0M889.7 919.3h0M1018.9 918.9h0M1563.3 910.2h0M1660.5 932.0h0M1635.0 915.6h0M1548.2 926.7h0M876.3 932.1h0M1568.4 915.0h0M1283.5 926.1h0M1073.4 926.6h0M1579.9 911.6h0"/><path class="o" d="M1454.4 918.9h0M1199.6 928.2h0M1526.0 930.3h0M1567.3 927.7h0M1360.3 924.7h0M1601.1 931.6h0M1631.2 928.3h0M1027.3 921.6h0M1481.8 927.3h0M1248.3 930.9h0M1630.3 921.2h0M1538.9 916.4h0M1154.3 923.5h0M1280.1 921.5h0M1217.8 925.3h0M1018.9 921.1h0M1593.6 918.8h0M1471.6 928.2h0M987.9 928.8h0M1321.0 923.2h0M1551.3 910.3h0M1069.2 930.6h0M1163.2 931.6h0M1052.4 927.8h0M1947.1 931.7h0M1244.6 927.3h0M1339.8 925.5h0M1674.3 925.3h0M957.7 924.4h0M1169.5 930.7h0"/><path class="i" stroke="#000080" d="M1454.4 918.9h0M1199.6 928.2h0M1538.9 916.4h0M1280.1 921.5h0M1593.6 918.8h0M1321.0 923.2h0M1551.3 910.3h0M1244.6 927.3h0M1339.8 925.5h0"/><path class="o" d="M869.0 912.8h0M938.6 931.0h0M941.6 925.8h0M1204.0 928.7h0M929.7 932.1h0M1043.3 926.3h0M1376.6 928.1h0M1182.8 918.4h0M1018.5 922.0h0M943.8 928.8h0M1521.0 929.3h0M1242.4 932.1h0M1668.9 919.3h0M1546.2 916.7h0M883.8 908.1h0M879.5 918.1h0M978.6 900.0h0M1242.1 932.5h0M1922.8 921.4h0M1411.5 931.0h0M1250.8 929.0h0M1349.6 926.4h0M1594.3 919.2h0M1178.7 920.3h0M891.1 922.6h0M1056.6 922.4h0M971.4 901.2h0M1312.3 925.8h0M1056.6 921.2h0M1956.4 913.4h0"/><path class="i" stroke="#000080" d="M869.0 912.8h0M941.6 925.8h0M929.7 932.1h0M1043.3 926.3h0M1182.8 918.4h0M1018.5 922.0h0M1242.4 932.1h0M1668.9 919.3h0M883.8 908.1h0M879.5 918.1h0M978.6 900.0h0M1922.8 921.4h0M1411.5 931.0h0M1250.8 929.0h0M1349.6 926.4h0M1594.3 919.2h0M891.1 922.6h0M971.4 901.2h0M1956.4 913.4h0"/><path class="o" d="M1508.3 909.9h0M1227.2 905.1h0"/><path class="i" stroke="#000080" d="M1508.3 909.9h0M1227.2 905.1h0"/>
<g class="pt">
<g fill="#000080"><circle cx="866.7" cy="889.4"/><circle cx="872.8" cy="890.0"/><circle cx="881.7" cy="889.4"/><circle cx="885.6" cy="888.9"/><circle cx="915.6" cy="887.8"/><circle cx="917.2" cy="896.1"/><circle cx="880.0" cy="901.1"/><circle cx="887.8" cy="897.8"/><circle cx="888.3" cy="905.0"/><circle cx="867.8" cy="905.6"/><circle cx="955.0" cy="877.4"/><circle cx="961.4" cy="874.4"/><circle cx="946.7" cy="895.9"/><circle cx="960.6" cy="890.6"/><circle cx="962.2" cy="893.9"/><circle cx="966.7" cy="898.3"/><circle cx="971.7" cy="900.6"/><circle cx="965.0" cy="906.4"/><circle cx="986.1" cy="887.8"/><circle cx="991.4" cy="888.7"/><circle cx="1004.4" cy="891.7"/><circle cx="1014.8" cy="890.8"/><circle cx="1025.6" cy="884.2"/><circle cx="1036.1" cy="884.8"/><circle cx="1044.1" cy="886.1"/><circle cx="1021.7" cy="891.1"/><circle cx="1030.0" cy="894.4"/><circle cx="1059.4" cy="896.4"/><circle cx="1070.6" cy="883.3"/><circle cx="1077.8" cy="880.8"/><circle cx="1048.9" cy="902.2"/><circle cx="1055.6" cy="903.9"/><circle cx="980.0" cy="895.0"/><circle cx="1096.7" cy="859.4"/><circle cx="1094.4" cy="880.6"/><circle cx="1096.7" cy="874.4"/><circle cx="1087.8" cy="887.0"/><circle cx="1105.0" cy="887.0"/></g>
<g fill="#b3b3b3"><circle cx="1082.2" cy="892.8"/></g>
<g fill="#000080"><circle cx="1082.2" cy="899.1"/><circle cx="1096.7" cy="900.0"/><circle cx="1124.4" cy="872.6"/><circle cx="1123.9" cy="883.9"/><circle cx="1132.8" cy="885.6"/><circle cx="1138.3" cy="880.0"/><circle cx="1146.7" cy="867.8"/></g>
<g fill="#87cefa"><circle cx="1142.2" cy="873.1"/><circle cx="1152.2" cy="871.7"/></g>
<g fill="#000080"><circle cx="1155.3" cy="880.6"/><circle cx="1162.8" cy="884.4"/><circle cx="1167.8" cy="887.2"/></g>
<g fill="#b3b3b3"><circle cx="1141.1" cy="886.1"/></g>
<g fill="#000080"><circle cx="1121.1" cy="892.8"/><circle cx="1120.6" cy="898.3"/><circle cx="1143.3" cy="893.9"/><circle cx="1149.4" cy="891.7"/><circle cx="1161.7" cy="894.7"/><circle cx="1147.8" cy="903.3"/><circle cx="1160.6" cy="904.2"/><circle cx="1169.8" cy="837.6"/></g>
<g fill="#87cefa"><circle cx="1176.1" cy="867.8"/></g>
<g fill="#000080"><circle cx="1179.4" cy="883.6"/><circle cx="1185.0" cy="876.7"/><circle cx="1190.6" cy="871.1"/><circle cx="1185.6" cy="885.0"/><circle cx="1192.0" cy="886.4"/><circle cx="1195.0" cy="855.6"/><circle cx="1195.6" cy="859.2"/><circle cx="1199.4" cy="869.8"/><circle cx="1206.7" cy="871.1"/><circle cx="1204.4" cy="859.4"/><circle cx="1208.9" cy="861.7"/><circle cx="1216.7" cy="868.3"/><circle cx="1226.1" cy="874.4"/><circle cx="1233.1" cy="873.3"/><circle cx="1237.4" cy="880.8"/></g>
<g fill="#87cefa"><circle cx="1238.7" cy="863.3"/></g>
<g fill="#b3b3b3"><circle cx="1245.6" cy="877.0"/></g>
<g fill="#000080"><circle cx="1174.4" cy="899.8"/><circle cx="1190.9" cy="899.1"/><circle cx="1207.8" cy="899.4"/><circle cx="1210.6" cy="902.8"/><circle cx="1218.3" cy="902.6"/><circle cx="1235.6" cy="902.6"/><circle cx="1199.8" cy="905.9"/><circle cx="1235.0" cy="914.8"/><circle cx="1245.6" cy="924.4"/><circle cx="1251.7" cy="926.7"/><circle cx="1257.6" cy="932.2"/><circle cx="1262.6" cy="902.8"/><circle cx="1267.8" cy="923.6"/></g>
<g fill="#b3b3b3"><circle cx="1283.9" cy="901.1"/></g>
<g fill="#ff0000"><circle cx="1288.3" cy="837.8"/></g>
<g fill="#ffa500"><circle cx="1332.6" cy="835.8"/></g>
<g fill="#87cefa"><circle cx="1351.1" cy="827.2"/></g>
<g fill="#000080"><circle cx="1357.8" cy="821.7"/></g>
<g fill="#ff0000"><circle cx="1351.7" cy="821.3"/></g>
<g fill="#000080"><circle cx="1365.9" cy="820.3"/></g>
<g fill="#87cefa"><circle cx="1370.0" cy="843.3"/></g>
<g fill="#00ff00"><circle cx="1368.9" cy="850.6"/><circle cx="1374.8" cy="851.1"/></g>
<g fill="#000080"><circle cx="1368.9" cy="865.6"/><circle cx="1378.3" cy="869.4"/></g>
<g fill="#87cefa"><circle cx="1362.4" cy="883.1"/></g>
<g fill="#000080"><circle cx="1352.2" cy="893.9"/></g>
<g fill="#87cefa"><circle cx="1357.8" cy="893.3"/></g>
<g fill="#000080"><circle cx="1376.4" cy="885.0"/><circle cx="1378.7" cy="890.8"/><circle cx="1381.1" cy="898.9"/><circle cx="1390.6" cy="895.9"/><circle cx="1379.4" cy="904.4"/><circle cx="1401.1" cy="893.3"/><circle cx="1409.2" cy="884.2"/><circle cx="1404.1" cy="903.3"/><circle cx="1398.3" cy="909.4"/><circle cx="1371.7" cy="908.3"/><circle cx="1418.3" cy="900.3"/><circle cx="1430.0" cy="895.6"/><circle cx="1432.8" cy="885.0"/><circle cx="1434.2" cy="889.4"/><circle cx="1440.0" cy="893.3"/><circle cx="1434.4" cy="908.9"/></g>
<g fill="#b3b3b3"><circle cx="1412.2" cy="905.0"/></g>
<g fill="#000080"><circle cx="1448.9" cy="868.1"/><circle cx="1443.3" cy="877.2"/><circle cx="1448.1" cy="880.3"/><circle cx="1459.4" cy="877.2"/><circle cx="1467.6" cy="877.2"/><circle cx="1462.8" cy="884.2"/><circle cx="1473.1" cy="890.2"/><circle cx="1465.6" cy="892.8"/><circle cx="1451.9" cy="898.1"/><circle cx="1458.3" cy="905.0"/></g>
<g fill="#87cefa"><circle cx="1443.9" cy="904.8"/><circle cx="1470.0" cy="906.7"/><circle cx="1484.8" cy="907.8"/><circle cx="1465.9" cy="914.4"/><circle cx="1478.3" cy="921.4"/><circle cx="1494.4" cy="915.3"/></g>
<g fill="#000080"><circle cx="1468.9" cy="899.4"/><circle cx="1476.1" cy="900.0"/><circle cx="1483.3" cy="901.1"/><circle cx="1495.6" cy="901.1"/><circle cx="1492.2" cy="896.7"/></g>
<g fill="#b3b3b3"><circle cx="1497.8" cy="892.8"/></g>
<g fill="#000080"><circle cx="1320.9" cy="898.1"/></g>
<g fill="#b3b3b3"><circle cx="1323.3" cy="908.1"/></g>
<g fill="#000080"><circle cx="1301.1" cy="905.6"/><circle cx="1305.0" cy="912.2"/><circle cx="1314.4" cy="912.8"/><circle cx="1346.7" cy="910.0"/><circle cx="1356.7" cy="914.4"/><circle cx="1503.9" cy="847.4"/></g>
<g fill="#00ff00"><circle cx="1503.9" cy="867.8"/></g>
<g fill="#000080"><circle cx="1522.2" cy="871.7"/><circle cx="1536.1" cy="865.2"/><circle cx="1542.2" cy="865.6"/><circle cx="1548.9" cy="865.2"/><circle cx="1556.1" cy="865.6"/><circle cx="1576.1" cy="866.4"/><circle cx="1583.9" cy="866.4"/><circle cx="1591.3" cy="866.4"/><circle cx="1547.0" cy="879.1"/><circle cx="1562.2" cy="879.4"/><circle cx="1569.1" cy="880.0"/><circle cx="1582.2" cy="880.0"/><circle cx="1588.0" cy="879.4"/><circle cx="1632.2" cy="849.8"/><circle cx="1667.2" cy="856.4"/><circle cx="1652.2" cy="865.0"/><circle cx="1655.6" cy="861.7"/><circle cx="1657.8" cy="871.7"/><circle cx="1660.0" cy="866.7"/><circle cx="1674.7" cy="867.2"/></g>
<g fill="#b3b3b3"><circle cx="1619.4" cy="880.6"/><circle cx="1660.8" cy="890.6"/></g>
<g fill="#87cefa"><circle cx="1506.7" cy="886.1"/><circle cx="1513.6" cy="887.2"/></g>
<g fill="#000080"><circle cx="1522.0" cy="893.3"/><circle cx="1532.8" cy="891.7"/><circle cx="1555.0" cy="889.4"/><circle cx="1566.7" cy="896.7"/><circle cx="1549.4" cy="898.3"/><circle cx="1513.7" cy="897.2"/></g>
<g fill="#87cefa"><circle cx="1577.2" cy="892.0"/><circle cx="1585.9" cy="893.1"/><circle cx="1502.2" cy="914.8"/><circle cx="1578.3" cy="915.0"/><circle cx="1625.0" cy="893.3"/><circle cx="1631.7" cy="889.4"/></g>
<g fill="#000080"><circle cx="1620.6" cy="898.3"/><circle cx="1637.2" cy="897.8"/><circle cx="1605.6" cy="904.4"/><circle cx="1664.4" cy="902.6"/><circle cx="1668.9" cy="913.3"/><circle cx="1676.1" cy="916.1"/><circle cx="1711.4" cy="931.4"/><circle cx="1717.2" cy="923.3"/><circle cx="1768.1" cy="929.2"/><circle cx="1788.3" cy="882.8"/><circle cx="1791.1" cy="915.0"/><circle cx="1793.9" cy="912.0"/><circle cx="1793.9" cy="923.9"/><circle cx="1787.8" cy="932.2"/><circle cx="1791.1" cy="925.0"/><circle cx="1795.9" cy="929.1"/><circle cx="1814.7" cy="906.4"/><circle cx="1812.0" cy="919.2"/></g>
<g fill="#b3b3b3"><circle cx="1819.7" cy="929.2"/></g>
<g fill="#000080"><circle cx="1808.9" cy="931.7"/><circle cx="1846.9" cy="909.2"/><circle cx="1860.0" cy="919.7"/><circle cx="1862.0" cy="930.0"/><circle cx="1892.8" cy="923.3"/><circle cx="1893.9" cy="931.1"/><circle cx="1898.1" cy="930.3"/><circle cx="1911.8" cy="851.7"/><circle cx="1912.3" cy="858.1"/><circle cx="1920.1" cy="858.3"/><circle cx="1933.8" cy="868.3"/><circle cx="1942.1" cy="865.6"/><circle cx="1956.8" cy="868.9"/><circle cx="1951.8" cy="882.8"/><circle cx="1959.6" cy="882.8"/><circle cx="1959.3" cy="890.3"/><circle cx="1925.7" cy="892.2"/><circle cx="1926.6" cy="896.1"/><circle cx="1944.6" cy="897.0"/><circle cx="1966.2" cy="898.3"/><circle cx="1920.7" cy="901.7"/><circle cx="1916.2" cy="907.8"/><circle cx="1909.0" cy="913.3"/><circle cx="1928.4" cy="906.7"/><circle cx="1934.6" cy="907.2"/><circle cx="1941.2" cy="908.3"/><circle cx="1966.8" cy="906.7"/><circle cx="1970.7" cy="914.1"/></g>
<g fill="#87cefa"><circle cx="1353.3" cy="816.7"/></g>
<g fill="#00ff00"><circle cx="1455.6" cy="816.7"/><circle cx="1461.7" cy="818.3"/><circle cx="1469.4" cy="813.7"/><circle cx="1520.2" cy="813.0"/></g>
<g fill="#ff0000"><circle cx="1509.7" cy="822.8"/></g>
<g fill="#ffa500"><circle cx="1543.9" cy="822.8"/></g>
<g fill="#ff0000"><circle cx="1340.8" cy="801.7"/></g>
<g fill="#b3b3b3"><circle cx="1333.3" cy="799.4"/></g>
<g fill="#ff0000"><circle cx="1353.9" cy="797.8"/></g>
<g fill="#ffa500"><circle cx="1365.0" cy="802.8"/></g>
<g fill="#ff0000"><circle cx="1369.4" cy="808.9"/></g>
<g fill="#ffa500"><circle cx="1382.8" cy="807.0"/><circle cx="1388.6" cy="809.4"/></g>
<g fill="#00ff00"><circle cx="1395.0" cy="808.3"/></g>
<g fill="#ff0000"><circle cx="1385.0" cy="796.7"/><circle cx="1395.6" cy="795.6"/></g>
<g fill="#87cefa"><circle cx="1395.6" cy="801.7"/><circle cx="1402.8" cy="801.7"/><circle cx="1415.6" cy="797.8"/></g>
<g fill="#000080"><circle cx="1402.2" cy="808.9"/></g>
<g fill="#87cefa"><circle cx="1406.7" cy="811.1"/><circle cx="1410.6" cy="814.4"/></g>
<g fill="#00ff00"><circle cx="1424.4" cy="815.6"/></g>
<g fill="#ff0000"><circle cx="1420.9" cy="809.2"/></g>
<g fill="#00ff00"><circle cx="1431.4" cy="810.3"/></g>
<g fill="#ffa500"><circle cx="1420.0" cy="822.4"/></g>
<g fill="#ff0000"><circle cx="1428.9" cy="797.8"/></g>
<g fill="#87cefa"><circle cx="1435.0" cy="800.0"/></g>
<g fill="#ff0000"><circle cx="1439.4" cy="795.6"/><circle cx="1444.4" cy="798.3"/><circle cx="1452.0" cy="792.2"/><circle cx="1467.4" cy="795.6"/><circle cx="1484.1" cy="804.7"/><circle cx="1530.0" cy="797.4"/></g>
<g fill="#ffa500"><circle cx="1580.2" cy="812.6"/><circle cx="1889.9" cy="797.0"/><circle cx="1915.7" cy="825.9"/></g>
</g>
<path class="o" d="M1200.8 797.5h0M1228.2 797.1h0M1180.2 802.1h0M1182.2 800.4h0M1237.6 787.9h0M1196.1 798.1h0M1214.2 799.9h0M1230.7 796.5h0M1229.2 797.2h0M1188.0 801.5h0M1204.8 799.8h0M1175.4 804.0h0"/><path class="i" stroke="#ffa500" d="M1180.2 802.1h0M1237.6 787.9h0M1188.0 801.5h0M1204.8 799.8h0"/><path class="o" d="M1205.3 800.8h0M1179.8 800.8h0M1221.5 798.0h0M1186.8 799.7h0M1214.9 798.8h0M1221.6 798.9h0M1200.0 801.5h0M1237.5 789.0h0M1207.8 799.1h0M1203.3 800.9h0M1235.1 795.0h0M1195.4 801.7h0"/><path class="i" stroke="#ffa500" d="M1205.3 800.8h0M1214.9 798.8h0M1200.0 801.5h0M1237.5 789.0h0"/><path class="o" d="M1233.9 794.5h0M1229.6 795.8h0M1227.9 796.9h0M1216.0 797.3h0M1211.0 801.0h0M1183.1 799.5h0M1178.1 801.0h0M1174.1 802.5h0M1211.7 799.7h0M1223.9 799.9h0M1197.7 801.9h0M1191.9 800.6h0"/><path class="i" stroke="#ffa500" d="M1211.7 799.7h0M1223.9 799.9h0"/><path class="o" d="M1176.5 801.2h0M1200.5 799.8h0M1216.6 799.6h0M1232.5 797.6h0M1220.2 800.8h0M1220.9 797.6h0M1208.6 799.4h0M1204.5 800.4h0M1218.8 800.3h0M1215.2 799.8h0M1192.4 799.6h0M1232.6 795.2h0"/><path class="i" stroke="#ffa500" d="M1176.5 801.2h0M1200.5 799.8h0M1208.6 799.4h0M1192.4 799.6h0"/><path class="o" d="M1188.4 801.3h0M1226.9 796.5h0M1225.4 797.9h0M1217.7 799.7h0M1209.2 796.7h0M1222.7 797.8h0M1230.9 799.6h0M1190.0 800.5h0M1212.3 802.1h0M1197.4 802.0h0M1185.9 802.5h0M1226.4 800.5h0"/><path class="i" stroke="#ffa500" d="M1230.9 799.6h0M1212.3 802.1h0M1226.4 800.5h0"/><path class="o" d="M1183.5 798.9h0M1181.6 800.6h0M1222.8 799.2h0M1199.3 799.6h0M1206.7 799.8h0M1227.1 797.5h0M1236.3 792.4h0M1206.1 799.9h0M1230.3 797.7h0M1189.3 798.1h0M1208.1 798.6h0M1187.0 798.4h0"/><path class="i" stroke="#ffa500" d="M1181.6 800.6h0M1189.3 798.1h0M1208.1 798.6h0"/><path class="o" d="M1193.5 801.2h0M1181.0 799.7h0M1184.2 801.8h0M1175.2 802.0h0M1213.3 799.8h0M1188.8 801.2h0M1190.6 801.1h0M1213.3 799.3h0M1218.3 798.5h0M1174.3 801.8h0M1191.9 799.3h0M1185.5 803.8h0"/><path class="i" stroke="#ffa500" d="M1193.5 801.2h0M1175.2 802.0h0M1190.6 801.1h0M1174.3 801.8h0M1185.5 803.8h0"/><path class="o" d="M1219.0 801.2h0M1203.7 800.9h0M1202.7 800.3h0M1238.6 786.8h0M1198.7 802.5h0M1206.8 798.6h0M1216.3 799.6h0M1224.8 798.1h0M1191.3 800.6h0M1196.3 799.9h0M1234.4 791.4h0M1225.3 801.3h0"/><path class="i" stroke="#ffa500" d="M1198.7 802.5h0M1224.8 798.1h0M1225.3 801.3h0"/><path class="o" d="M1223.4 798.2h0M1193.6 802.2h0M1201.4 800.8h0M1183.9 800.7h0M1211.8 801.8h0M1179.2 802.3h0M1198.2 801.6h0M1176.5 800.1h0M1219.8 799.5h0M1233.2 794.0h0M1194.2 800.9h0M1209.6 798.8h0"/><path class="i" stroke="#ffa500" d="M1193.6 802.2h0M1198.2 801.6h0"/><path class="o" d="M1185.1 802.0h0M1236.9 789.6h0M1235.4 792.7h0M1178.4 801.7h0M1180.8 802.6h0M1231.5 793.7h0M1202.0 802.5h0M1238.8 786.2h0M1177.2 802.9h0M1210.1 798.1h0M1194.9 800.9h0M1484.3 779.9h0"/><path class="i" stroke="#ffa500" d="M1180.8 802.6h0M1238.8 786.2h0M1177.2 802.9h0"/><path class="o" d="M1515.2 784.7h0M1530.8 783.3h0M1410.5 785.9h0M1470.4 783.6h0M1405.6 789.7h0M1305.4 788.7h0M1355.4 790.5h0M1519.1 781.3h0M1460.2 784.7h0M1402.9 786.0h0M1417.6 786.0h0M1570.4 784.5h0"/><path class="i" stroke="#ff0000" d="M1405.6 789.7h0M1519.1 781.3h0"/><path class="o" d="M1497.8 782.6h0M1543.5 781.6h0M1316.9 790.9h0M1464.3 782.8h0M1529.8 781.2h0M1482.3 781.6h0M1584.3 786.5h0M1387.3 786.0h0M1430.8 781.2h0M1611.6 783.0h0M1415.6 784.7h0M1375.7 788.9h0"/><path class="i" stroke="#ff0000" d="M1584.3 786.5h0M1430.8 781.2h0M1415.6 784.7h0M1375.7 788.9h0"/><path class="o" d="M1352.9 787.4h0M1530.2 783.8h0M1412.0 785.0h0M1386.0 786.6h0M1372.1 788.3h0M1322.7 791.0h0M1550.2 785.1h0M1354.7 788.9h0M1295.8 787.8h0M1579.8 784.6h0M1534.6 783.8h0M1598.6 782.8h0"/><path class="i" stroke="#ff0000" d="M1412.0 785.0h0M1386.0 786.6h0M1579.8 784.6h0M1534.6 783.8h0"/><path class="o" d="M1412.8 785.3h0M1503.3 782.6h0M1569.6 784.9h0M1420.6 783.1h0M1600.0 783.2h0M1595.1 784.5h0M1555.2 784.5h0M1471.6 782.7h0M1365.9 788.9h0M1589.6 784.0h0M1452.7 782.5h0M1605.0 782.4h0"/><path class="i" stroke="#ff0000" d="M1503.3 782.6h0M1569.6 784.9h0M1600.0 783.2h0M1595.1 784.5h0M1471.6 782.7h0M1605.0 782.4h0"/><path class="o" d="M1299.6 791.1h0M1641.3 782.8h0M1433.4 779.9h0M1654.4 779.5h0M1384.3 786.1h0M1564.1 783.4h0M1504.9 784.1h0M1634.4 782.5h0M1489.1 780.2h0M1290.7 796.9h0M1642.9 782.5h0M1477.3 781.4h0"/><path class="i" stroke="#ff0000" d="M1641.3 782.8h0M1564.1 783.4h0M1489.1 780.2h0M1642.9 782.5h0M1477.3 781.4h0"/><path class="o" d="M1525.9 783.8h0M1302.8 787.7h0M1362.8 790.5h0M1432.6 785.8h0M1676.0 789.7h0M1644.3 783.0h0M1289.7 792.9h0M1307.3 794.4h0M1610.3 783.3h0M1643.9 780.4h0M1494.7 781.4h0M1292.1 792.3h0"/><path class="i" stroke="#ff0000" d="M1302.8 787.7h0M1362.8 790.5h0M1644.3 783.0h0M1289.7 792.9h0"/><path class="o" d="M1411.3 785.1h0M1300.6 789.9h0M1528.3 785.2h0M1381.8 788.1h0M1324.2 794.3h0M1526.5 785.3h0M1283.5 797.9h0M1670.7 781.4h0M1545.2 782.4h0M1625.4 781.7h0M1595.5 784.0h0M1455.2 785.6h0"/><path class="i" stroke="#ff0000" d="M1411.3 785.1h0M1528.3 785.2h0M1381.8 788.1h0M1595.5 784.0h0"/><path class="o" d="M1296.5 790.4h0M1516.7 782.7h0M1655.1 782.1h0M1332.9 792.2h0M1514.4 784.3h0M1366.7 789.3h0M1340.3 792.3h0M1624.4 778.8h0M1286.8 795.6h0M1388.6 788.1h0M1311.9 791.8h0M1460.6 782.0h0"/><path class="i" stroke="#ff0000" d="M1332.9 792.2h0M1286.8 795.6h0"/><path class="o" d="M1285.1 796.6h0M1372.9 787.4h0M1651.3 778.9h0M1380.7 789.5h0M1401.8 788.2h0M1604.4 780.7h0M1464.0 783.2h0M1330.8 790.8h0M1645.4 783.2h0M1599.7 784.0h0M1572.8 782.1h0M1642.2 782.9h0"/><path class="i" stroke="#ff0000" d="M1285.1 796.6h0M1599.7 784.0h0M1572.8 782.1h0"/><path class="o" d="M1453.5 784.1h0M1645.0 783.5h0M1467.3 784.0h0M1671.3 779.4h0M1342.6 789.3h0M1606.0 778.9h0M1413.7 784.3h0M1625.8 781.8h0M1623.6 780.8h0M1468.7 785.2h0M1477.1 781.8h0M1475.1 781.9h0"/><path class="i" stroke="#ff0000" d="M1453.5 784.1h0M1671.3 779.4h0M1606.0 778.9h0"/><path class="o" d="M1481.2 783.3h0M1445.8 783.4h0M1333.3 790.3h0M1659.4 779.5h0M1577.2 781.6h0M1392.3 787.3h0M1618.4 782.8h0M1492.1 784.9h0M1477.5 783.5h0M1617.0 783.7h0M1425.2 786.8h0M1316.2 793.3h0"/><path class="i" stroke="#ff0000" d="M1445.8 783.4h0M1333.3 790.3h0M1392.3 787.3h0M1618.4 782.8h0M1492.1 784.9h0M1316.2 793.3h0"/><path class="o" d="M1325.9 790.6h0M1500.0 785.2h0M1590.6 782.4h0M1319.6 790.3h0M1670.1 781.3h0M1420.4 784.4h0M1562.4 781.6h0M1487.2 781.5h0M1433.0 782.7h0M1456.1 780.4h0M1576.6 782.2h0M1466.6 782.6h0"/><path class="i" stroke="#ff0000" d="M1325.9 790.6h0M1500.0 785.2h0M1319.6 790.3h0M1670.1 781.3h0M1576.6 782.2h0"/><path class="o" d="M1352.2 790.0h0M1664.5 780.0h0M1607.3 781.9h0M1339.3 788.7h0M1508.4 782.5h0M1438.5 781.4h0M1436.2 785.0h0M1488.0 783.1h0M1425.5 783.1h0M1588.4 779.3h0M1450.6 784.2h0M1291.6 790.8h0"/><path class="i" stroke="#ff0000" d="M1339.3 788.7h0M1508.4 782.5h0M1291.6 790.8h0"/><path class="o" d="M1360.7 788.5h0M1658.3 781.5h0M1362.9 786.6h0M1617.8 780.8h0M1425.8 786.6h0M1499.4 784.9h0M1536.0 784.3h0M1490.8 783.2h0M1291.1 793.2h0M1611.6 781.2h0M1404.4 785.0h0M1586.7 780.4h0"/><path class="i" stroke="#ff0000" d="M1425.8 786.6h0M1499.4 784.9h0M1611.6 781.2h0M1404.4 785.0h0M1586.7 780.4h0"/><path class="o" d="M1597.1 783.8h0M1372.8 787.9h0M1568.6 779.7h0M1413.6 781.9h0M1579.6 782.7h0M1329.6 790.3h0M1587.6 783.9h0M1328.0 791.0h0M1649.7 787.4h0M1474.9 783.6h0M1403.7 787.8h0M1630.1 783.7h0"/><path class="i" stroke="#ff0000" d="M1372.8 787.9h0M1568.6 779.7h0M1328.0 791.0h0"/><path class="o" d="M1619.5 779.8h0M1672.1 785.4h0M1591.0 782.6h0M1335.4 789.4h0M1502.2 781.8h0M1365.3 786.3h0M1434.9 783.8h0M1472.9 785.7h0M1580.8 782.3h0M1485.5 780.8h0M1629.0 784.4h0M1588.9 783.7h0"/><path class="i" stroke="#ff0000" d="M1619.5 779.8h0M1485.5 780.8h0M1629.0 784.4h0"/><path class="o" d="M1492.8 786.4h0M1605.6 781.8h0M1547.7 783.9h0M1480.8 783.3h0M1525.8 784.9h0M1475.5 782.8h0M1672.9 778.3h0M1621.1 780.6h0M1335.5 787.1h0M1476.3 782.5h0M1581.7 786.5h0M1620.0 781.9h0"/><path class="o" d="M1294.8 791.9h0M1568.2 781.2h0M1503.9 784.5h0M1451.1 785.3h0M1430.1 783.6h0M1341.0 788.5h0M1393.0 785.6h0M1620.5 781.1h0M1559.2 779.9h0M1532.1 783.6h0M1315.8 792.5h0M1345.9 789.1h0"/><path class="i" stroke="#ff0000" d="M1430.1 783.6h0M1559.2 779.9h0M1345.9 789.1h0"/><path class="o" d="M1364.7 787.6h0M1520.4 782.7h0M1658.1 777.3h0M1354.3 791.8h0M1297.2 794.7h0M1426.5 782.7h0M1490.3 783.8h0M1349.4 790.0h0M1469.7 784.8h0M1364.2 790.4h0M1340.2 790.2h0M1342.0 792.3h0"/><path class="i" stroke="#ff0000" d="M1658.1 777.3h0M1426.5 782.7h0M1364.2 790.4h0M1342.0 792.3h0"/><path class="o" d="M1399.7 786.4h0M1399.6 787.3h0M1449.7 782.8h0M1334.0 786.9h0M1334.6 790.4h0M1590.0 783.8h0M1632.9 781.4h0M1505.2 784.1h0M1376.2 785.7h0M1576.1 784.4h0M1391.8 788.4h0M1361.6 786.4h0"/><path class="i" stroke="#ff0000" d="M1399.7 786.4h0M1399.6 787.3h0M1334.6 790.4h0M1632.9 781.4h0M1505.2 784.1h0M1376.2 785.7h0"/><path class="o" d="M1614.4 782.5h0M1613.8 782.1h0M1390.6 788.1h0M1510.7 784.3h0M1306.7 791.0h0M1515.7 784.4h0M1330.6 790.6h0M1314.9 792.2h0M1670.3 785.9h0M1360.1 790.2h0M1456.1 779.4h0M1465.5 780.7h0"/><path class="i" stroke="#ff0000" d="M1456.1 779.4h0"/><path class="o" d="M1672.0 782.2h0M1419.0 787.4h0M1311.9 788.8h0M1331.8 791.2h0M1480.3 782.5h0M1419.2 783.0h0M1427.0 784.5h0M1397.6 785.4h0M1382.1 788.6h0M1402.7 785.0h0M1609.1 781.4h0M1516.6 783.8h0"/><path class="i" stroke="#ff0000" d="M1480.3 782.5h0M1516.6 783.8h0"/><path class="o" d="M1497.2 784.1h0M1564.6 784.3h0M1458.4 783.1h0M1503.0 784.2h0M1520.8 781.0h0M1330.9 792.5h0M1347.9 787.4h0M1646.4 779.5h0M1329.8 788.6h0M1365.3 790.8h0M1357.8 787.7h0M1522.9 782.8h0"/><path class="i" stroke="#ff0000" d="M1503.0 784.2h0M1646.4 779.5h0M1329.8 788.6h0"/><path class="o" d="M1530.7 784.2h0M1315.8 788.8h0M1284.3 798.6h0M1646.9 783.0h0M1376.7 784.8h0M1478.1 783.5h0M1313.6 791.9h0M1383.8 788.0h0M1338.5 792.0h0M1665.2 777.0h0M1649.2 785.2h0M1673.6 784.0h0"/><path class="i" stroke="#ff0000" d="M1315.8 788.8h0M1383.8 788.0h0M1665.2 777.0h0"/><path class="o" d="M1430.4 786.4h0M1601.4 785.0h0M1443.1 783.4h0M1526.9 785.1h0M1509.3 782.5h0M1552.8 783.7h0M1320.5 791.5h0M1404.1 784.4h0M1632.0 781.3h0M1608.1 780.9h0M1327.6 790.3h0M1607.1 783.6h0"/><path class="i" stroke="#ff0000" d="M1552.8 783.7h0M1320.5 791.5h0M1404.1 784.4h0M1608.1 780.9h0M1327.6 790.3h0"/><path class="o" d="M1348.6 786.9h0M1491.3 783.8h0M1538.1 784.0h0M1320.9 792.7h0M1395.7 786.4h0M1574.7 786.5h0M1431.7 782.5h0M1523.6 783.9h0M1524.8 784.8h0M1461.9 783.5h0M1514.5 786.0h0M1541.3 785.0h0"/><path class="i" stroke="#ff0000" d="M1395.7 786.4h0M1431.7 782.5h0M1523.6 783.9h0M1461.9 783.5h0"/><path class="o" d="M1409.3 784.2h0M1606.2 784.4h0M1353.7 785.8h0M1313.7 789.4h0M1626.9 784.1h0M1332.6 791.7h0M1531.9 782.5h0M1432.2 783.4h0M1550.1 782.2h0M1386.5 786.7h0M1665.9 779.8h0M1445.6 786.6h0"/><path class="i" stroke="#ff0000" d="M1332.6 791.7h0M1432.2 783.4h0M1445.6 786.6h0"/><path class="o" d="M1545.8 785.0h0M1640.1 781.7h0M1297.5 791.2h0M1483.0 782.5h0M1486.0 783.4h0M1443.5 784.2h0M1282.6 800.0h0M1351.1 788.5h0M1483.7 785.0h0M1440.5 783.2h0M1652.6 784.6h0M1300.3 791.0h0"/><path class="i" stroke="#ff0000" d="M1545.8 785.0h0M1486.0 783.4h0M1443.5 784.2h0M1351.1 788.5h0M1652.6 784.6h0"/><path class="o" d="M1597.4 784.1h0M1627.0 782.9h0M1415.7 783.8h0M1445.2 782.5h0M1656.5 785.2h0M1436.9 780.8h0M1513.4 785.2h0M1493.8 783.7h0M1669.4 775.2h0M1464.6 787.0h0M1531.7 785.0h0M1642.3 784.6h0"/><path class="i" stroke="#ff0000" d="M1627.0 782.9h0"/><path class="o" d="M1306.0 794.4h0M1412.0 784.2h0M1575.4 782.5h0M1376.7 790.3h0M1602.1 782.6h0M1555.6 786.2h0M1641.6 783.7h0M1613.1 779.7h0M1537.1 784.6h0M1512.5 784.4h0M1282.9 800.6h0M1495.5 786.4h0"/><path class="i" stroke="#ff0000" d="M1306.0 794.4h0M1412.0 784.2h0M1575.4 782.5h0M1602.1 782.6h0M1555.6 786.2h0M1641.6 783.7h0"/><path class="o" d="M1306.4 788.6h0M1493.2 781.7h0M1352.4 792.8h0M1662.9 782.6h0M1648.8 783.6h0M1289.5 793.2h0M1440.5 783.2h0M1536.0 784.9h0M1512.1 786.4h0M1373.7 790.8h0M1662.4 781.6h0M1463.6 781.7h0"/><path class="i" stroke="#ff0000" d="M1306.4 788.6h0M1493.2 781.7h0M1512.1 786.4h0"/><path class="o" d="M1538.0 786.4h0M1517.5 783.6h0M1628.5 783.0h0M1386.1 788.4h0M1562.4 781.9h0M1535.5 782.7h0M1406.2 786.0h0M1335.0 788.1h0M1396.1 783.9h0M1420.8 785.2h0M1548.0 781.3h0M1539.7 783.8h0"/><path class="i" stroke="#ff0000" d="M1538.0 786.4h0M1628.5 783.0h0M1562.4 781.9h0M1396.1 783.9h0M1548.0 781.3h0"/><path class="o" d="M1288.0 795.2h0M1463.3 781.6h0M1333.4 789.3h0M1409.6 788.9h0M1381.0 789.8h0M1345.0 787.2h0M1296.0 792.8h0M1469.3 780.5h0M1520.3 783.7h0M1301.2 792.5h0M1650.6 780.9h0M1441.9 781.3h0"/><path class="o" d="M1511.5 787.6h0M1308.6 791.4h0M1357.9 788.6h0M1322.1 792.1h0M1409.9 789.3h0M1602.8 781.0h0M1576.8 783.6h0M1618.8 783.8h0M1367.6 789.0h0M1374.2 786.3h0M1513.9 784.4h0M1647.6 783.5h0"/><path class="i" stroke="#ff0000" d="M1357.9 788.6h0M1367.6 789.0h0M1374.2 786.3h0M1647.6 783.5h0"/><path class="o" d="M1544.2 785.1h0M1453.9 780.2h0M1472.0 784.5h0M1368.8 787.4h0M1565.1 782.3h0M1429.5 782.4h0M1586.6 782.5h0M1656.0 783.5h0M1560.0 785.5h0M1317.2 792.0h0M1496.2 782.4h0M1632.8 781.4h0"/><path class="i" stroke="#ff0000" d="M1544.2 785.1h0M1472.0 784.5h0M1586.6 782.5h0M1656.0 783.5h0M1632.8 781.4h0"/><path class="o" d="M1337.9 791.5h0M1668.4 786.4h0M1326.8 792.9h0M1549.2 783.8h0M1546.8 786.6h0M1635.8 780.4h0M1534.7 783.4h0M1567.1 783.9h0M1377.6 787.1h0M1432.8 787.3h0M1311.6 792.0h0M1664.4 785.3h0"/><path class="i" stroke="#ff0000" d="M1337.9 791.5h0M1326.8 792.9h0M1546.8 786.6h0M1635.8 780.4h0M1664.4 785.3h0"/><path class="o" d="M1501.4 782.5h0M1283.5 799.6h0M1585.2 783.6h0M1444.6 782.8h0M1461.4 786.2h0M1294.4 789.5h0M1282.2 801.0h0M1400.7 783.9h0M1375.5 788.6h0M1487.5 782.5h0M1552.2 783.5h0M1449.3 783.3h0"/><path class="i" stroke="#ff0000" d="M1461.4 786.2h0M1552.2 783.5h0M1449.3 783.3h0"/><path class="o" d="M1548.9 787.6h0M1339.3 788.8h0M1566.1 782.4h0M1294.4 791.2h0M1389.0 785.7h0M1356.0 786.6h0M1634.0 783.6h0M1578.5 781.3h0M1310.7 788.1h0M1488.5 783.9h0M1389.4 787.1h0M1370.4 788.7h0"/><path class="i" stroke="#ff0000" d="M1370.4 788.7h0"/><path class="o" d="M1631.7 785.3h0M1326.2 786.7h0M1468.9 782.0h0M1459.7 786.9h0M1521.2 783.8h0M1454.3 782.1h0M1572.5 780.6h0M1319.3 789.7h0M1404.8 787.9h0M1325.9 790.9h0M1435.4 784.2h0M1447.3 782.8h0"/><path class="i" stroke="#ff0000" d="M1631.7 785.3h0M1326.2 786.7h0M1459.7 786.9h0M1521.2 783.8h0M1572.5 780.6h0M1325.9 790.9h0"/><path class="o" d="M1481.7 783.2h0M1592.2 783.3h0M1398.2 786.0h0M1493.6 785.9h0M1428.0 783.0h0M1356.5 788.6h0M1337.5 789.2h0M1604.8 780.6h0M1347.3 789.9h0M1559.5 781.9h0M1575.7 783.6h0M1657.4 781.9h0"/><path class="i" stroke="#ff0000" d="M1428.0 783.0h0M1559.5 781.9h0M1657.4 781.9h0"/><path class="o" d="M1422.1 782.4h0M1578.7 783.8h0M1383.1 788.7h0M1504.2 784.2h0M1621.0 780.7h0M1409.1 784.2h0M1645.2 779.6h0M1288.8 790.8h0M1675.4 780.0h0M1427.5 784.3h0M1318.0 790.9h0M1648.4 784.0h0"/><path class="i" stroke="#ff0000" d="M1578.7 783.8h0M1621.0 780.7h0"/><path class="o" d="M1577.8 783.5h0M1570.8 782.0h0M1349.3 787.3h0M1368.0 788.0h0M1489.6 783.5h0M1309.2 788.5h0M1573.4 783.9h0M1585.7 783.0h0M1417.0 785.4h0M1529.7 780.6h0M1554.7 783.1h0M1343.9 788.9h0"/><path class="i" stroke="#ff0000" d="M1349.3 787.3h0M1573.4 783.9h0M1585.7 783.0h0M1529.7 780.6h0M1554.7 783.1h0"/><path class="o" d="M1674.0 786.2h0M1465.2 783.3h0M1456.9 785.4h0M1428.9 782.5h0M1518.0 782.6h0M1359.5 787.8h0M1348.6 789.5h0M1369.2 785.8h0M1507.5 787.6h0M1305.3 791.7h0M1412.5 784.9h0M1415.0 781.9h0"/><path class="i" stroke="#ff0000" d="M1674.0 786.2h0M1369.2 785.8h0M1305.3 791.7h0M1412.5 784.9h0M1415.0 781.9h0"/><path class="o" d="M1584.4 779.1h0M1639.9 783.1h0M1615.8 781.7h0M1490.2 784.6h0M1302.2 789.5h0M1466.2 780.1h0M1474.2 787.2h0M1397.2 788.2h0M1359.3 791.7h0M1498.8 784.3h0M1553.0 784.5h0M1312.9 792.9h0"/><path class="i" stroke="#ff0000" d="M1639.9 783.1h0M1359.3 791.7h0M1553.0 784.5h0"/><path class="o" d="M1639.3 779.7h0M1299.0 787.3h0M1418.4 785.2h0M1397.8 789.0h0M1422.8 780.7h0M1674.7 784.5h0M1638.7 781.8h0M1288.9 794.1h0M1456.8 782.3h0M1617.2 782.2h0M1471.8 784.8h0M1366.6 790.0h0"/><path class="i" stroke="#ff0000" d="M1299.0 787.3h0M1422.8 780.7h0M1288.9 794.1h0M1456.8 782.3h0M1366.6 790.0h0"/><path class="o" d="M1459.2 781.8h0M1510.5 785.0h0M1394.7 785.4h0M1427.7 786.8h0M1360.6 790.5h0M1555.8 782.4h0M1292.6 791.7h0M1584.7 781.4h0M1310.9 792.9h0M1659.2 784.9h0M1484.0 782.1h0M1459.0 779.4h0"/><path class="i" stroke="#ff0000" d="M1427.7 786.8h0M1292.6 791.7h0M1459.0 779.4h0"/><path class="o" d="M1622.0 784.1h0M1390.1 788.7h0M1542.0 784.9h0M1406.1 786.8h0M1379.3 785.4h0M1421.1 785.7h0M1293.6 788.3h0M1396.5 783.7h0M1336.8 790.3h0M1434.3 782.5h0M1661.0 783.7h0M1373.3 787.5h0"/><path class="i" stroke="#ff0000" d="M1622.0 784.1h0M1396.5 783.7h0M1434.3 782.5h0M1661.0 783.7h0"/><path class="o" d="M1539.4 783.0h0M1621.6 781.0h0M1328.5 790.7h0M1407.9 783.5h0M1387.8 786.6h0M1512.8 781.5h0M1606.6 784.6h0M1346.5 789.9h0M1574.2 782.0h0M1378.3 787.1h0M1521.7 784.6h0M1403.2 786.3h0"/><path class="i" stroke="#ff0000" d="M1621.6 781.0h0M1407.9 783.5h0M1521.7 784.6h0"/><path class="o" d="M1295.6 790.6h0M1343.3 788.0h0M1587.9 783.4h0M1661.7 780.7h0M1361.6 788.0h0M1553.4 784.6h0M1446.4 784.3h0M1556.3 784.9h0M1343.6 789.3h0M1551.5 785.1h0M1462.4 781.5h0M1457.6 783.7h0"/><path class="i" stroke="#ff0000" d="M1295.6 790.6h0M1361.6 788.0h0"/><path class="o" d="M1571.8 780.4h0M1601.1 782.0h0M1637.5 782.4h0M1506.9 784.6h0M1436.7 782.0h0M1507.7 785.0h0M1350.6 791.3h0M1501.5 782.5h0M1539.1 781.8h0M1639.0 782.8h0M1382.3 786.0h0M1443.3 781.4h0"/><path class="i" stroke="#ff0000" d="M1539.1 781.8h0"/><path class="o" d="M1532.8 780.9h0M1388.2 788.5h0M1479.1 783.9h0M1546.5 784.6h0M1344.7 791.4h0M1638.2 783.6h0M1479.0 781.5h0M1485.2 782.4h0M1557.8 784.5h0M1341.1 786.2h0M1644.5 782.6h0M1383.7 789.0h0"/><path class="i" stroke="#ff0000" d="M1638.2 783.6h0M1485.2 782.4h0M1557.8 784.5h0M1341.1 786.2h0"/><path class="o" d="M1325.0 790.1h0M1550.6 784.9h0M1541.3 780.2h0M1336.0 788.7h0M1379.0 787.0h0M1394.0 784.8h0M1609.7 780.8h0M1307.5 790.6h0M1563.8 782.5h0M1351.7 788.8h0M1458.0 779.4h0M1500.6 784.5h0"/><path class="i" stroke="#ff0000" d="M1307.5 790.6h0M1351.7 788.8h0"/><path class="o" d="M1660.0 785.7h0M1495.8 785.1h0M1467.4 785.6h0M1557.1 781.6h0M1414.5 784.6h0M1643.3 782.3h0M1357.3 789.1h0M1437.5 785.5h0M1648.4 780.5h0M1630.1 781.6h0M1293.6 791.4h0M1580.2 782.6h0"/><path class="i" stroke="#ff0000" d="M1495.8 785.1h0M1467.4 785.6h0M1557.1 781.6h0M1357.3 789.1h0M1437.5 785.5h0M1293.6 791.4h0"/><path class="o" d="M1545.0 784.2h0M1439.1 783.1h0M1592.9 781.5h0M1304.6 790.9h0M1285.5 795.2h0M1652.5 780.7h0M1600.5 781.2h0M1625.5 785.7h0M1291.2 794.3h0M1298.2 792.1h0M1301.9 794.3h0M1399.3 786.4h0"/><path class="i" stroke="#ff0000" d="M1545.0 784.2h0M1592.9 781.5h0M1304.6 790.9h0M1285.5 795.2h0M1652.5 780.7h0M1600.5 781.2h0"/><path class="o" d="M1669.7 780.6h0M1312.5 789.3h0M1608.5 785.5h0M1537.6 782.3h0M1447.7 784.7h0M1599.1 784.7h0M1536.8 787.6h0M1598.1 782.4h0M1392.3 786.4h0M1336.5 788.7h0M1355.8 787.8h0M1548.5 782.3h0"/><path class="i" stroke="#ff0000" d="M1608.5 785.5h0M1447.7 784.7h0M1599.1 784.7h0"/><path class="o" d="M1661.2 781.5h0M1347.0 786.2h0M1582.9 786.0h0M1393.9 785.7h0M1627.9 782.0h0M1338.5 788.1h0M1437.7 785.0h0M1492.5 781.7h0M1603.5 782.6h0M1422.3 786.2h0M1626.3 779.6h0M1350.8 789.6h0"/><path class="i" stroke="#ff0000" d="M1347.0 786.2h0M1422.3 786.2h0M1626.3 779.6h0M1350.8 789.6h0"/><path class="o" d="M1372.1 786.4h0M1394.9 788.3h0M1308.7 791.0h0M1341.7 791.0h0M1475.8 780.7h0M1618.3 781.4h0M1646.3 782.3h0M1560.8 781.8h0M1284.7 793.6h0M1292.7 791.3h0M1668.8 791.6h0M1543.1 786.4h0"/><path class="i" stroke="#ff0000" d="M1308.7 791.0h0M1475.8 780.7h0M1560.8 781.8h0M1284.7 793.6h0"/><path class="o" d="M1528.5 782.4h0M1666.9 783.2h0M1660.5 786.3h0M1553.9 784.3h0M1286.5 794.3h0M1557.3 784.3h0M1321.7 790.5h0M1331.8 791.6h0M1375.1 789.5h0M1408.2 786.4h0M1314.2 787.7h0M1416.7 784.3h0"/><path class="o" d="M1546.0 781.4h0M1614.6 778.8h0M1558.9 785.7h0M1379.7 790.2h0M1511.2 784.8h0M1387.2 785.9h0M1389.7 787.4h0M1675.0 781.6h0M1288.2 793.6h0M1567.5 782.5h0M1419.7 784.0h0M1414.6 785.0h0"/><path class="i" stroke="#ff0000" d="M1546.0 781.4h0M1614.6 778.8h0M1511.2 784.8h0"/><path class="o" d="M1393.1 788.2h0M1661.9 791.7h0M1528.0 783.2h0M1354.0 786.9h0M1515.7 785.0h0M1429.7 783.0h0M1499.0 785.3h0M1533.8 785.5h0M1321.6 790.2h0M1613.1 784.7h0M1538.4 786.2h0M1518.2 783.4h0"/><path class="o" d="M1454.5 783.1h0M1582.9 786.1h0M1602.2 780.1h0M1377.9 787.3h0M1438.3 782.0h0M1566.1 783.0h0M1615.3 784.1h0M1442.7 782.9h0M1622.4 783.9h0M1287.3 792.2h0M1401.0 786.3h0M1362.4 786.5h0"/><path class="i" stroke="#ff0000" d="M1454.5 783.1h0M1377.9 787.3h0M1438.3 782.0h0M1442.7 782.9h0M1401.0 786.3h0M1362.4 786.5h0"/><path class="o" d="M1558.5 786.0h0M1380.0 786.9h0M1650.3 780.6h0M1522.5 783.4h0M1505.3 782.5h0M1637.8 785.8h0M1596.5 782.0h0M1651.4 783.3h0M1468.1 782.4h0M1299.2 791.8h0M1323.8 791.6h0M1600.2 786.4h0"/><path class="i" stroke="#ff0000" d="M1380.0 786.9h0M1651.4 783.3h0M1299.2 791.8h0"/><path class="o" d="M1370.3 787.7h0M1324.6 789.1h0M1473.2 783.0h0M1658.9 782.3h0M1595.6 779.7h0M1524.2 783.6h0M1391.4 786.7h0M1470.4 784.5h0M1400.6 784.9h0M1630.5 783.3h0M1447.3 782.9h0M1609.0 781.6h0"/><path class="i" stroke="#ff0000" d="M1370.3 787.7h0M1524.2 783.6h0M1470.4 784.5h0M1447.3 782.9h0"/><path class="o" d="M1363.6 784.9h0M1370.9 788.2h0M1327.2 792.8h0M1672.8 783.8h0M1497.2 786.9h0M1674.3 781.0h0M1633.7 784.3h0M1441.3 783.5h0M1488.1 782.8h0M1323.3 793.0h0M1496.5 781.8h0M1574.0 782.2h0"/><path class="i" stroke="#ff0000" d="M1363.6 784.9h0M1370.9 788.2h0M1327.2 792.8h0M1497.2 786.9h0M1574.0 782.2h0"/><path class="o" d="M1578.3 779.1h0M1300.8 790.5h0M1657.0 786.2h0M1561.4 779.9h0M1612.4 785.3h0M1554.0 782.3h0M1424.3 784.9h0M1441.4 781.6h0M1481.0 781.8h0M1572.0 780.2h0M1616.4 780.5h0M1527.1 783.8h0"/><path class="i" stroke="#ff0000" d="M1657.0 786.2h0M1554.0 782.3h0M1424.3 784.9h0M1572.0 780.2h0"/><path class="o" d="M1428.8 783.4h0M1581.4 781.3h0M1495.0 787.2h0M1355.3 787.2h0M1320.0 791.4h0M1610.2 782.1h0M1519.1 783.2h0M1635.4 784.4h0M1367.4 786.5h0M1522.8 784.2h0M1424.5 788.0h0M1548.0 782.6h0"/><path class="i" stroke="#ff0000" d="M1495.0 787.2h0M1355.3 787.2h0M1635.4 784.4h0M1424.5 788.0h0M1548.0 782.6h0"/><path class="o" d="M1563.2 786.4h0M1568.7 782.1h0M1525.0 782.2h0M1666.8 783.7h0M1479.7 784.5h0M1663.4 782.9h0M1314.8 788.7h0M1582.1 782.3h0M1284.2 797.4h0M1544.3 786.9h0M1510.0 782.3h0M1560.5 785.8h0"/><path class="i" stroke="#ff0000" d="M1563.2 786.4h0M1666.8 783.7h0M1663.4 782.9h0M1314.8 788.7h0M1582.1 782.3h0M1284.2 797.4h0M1544.3 786.9h0M1560.5 785.8h0"/><path class="o" d="M1603.8 781.5h0M1303.7 790.4h0M1556.6 783.5h0M1668.1 781.8h0M1569.1 784.8h0M1310.1 790.5h0M1502.2 784.9h0M1371.3 790.4h0M1506.4 782.6h0M1396.4 786.9h0M1542.2 786.2h0M1592.2 786.1h0"/><path class="i" stroke="#ff0000" d="M1556.6 783.5h0M1569.1 784.8h0M1371.3 790.4h0M1396.4 786.9h0"/><path class="o" d="M1304.1 792.0h0M1472.9 782.4h0M1637.0 781.2h0M1571.6 783.3h0M1507.2 783.8h0M1615.4 784.9h0M1406.7 786.8h0M1450.7 781.9h0M1561.1 787.1h0M1596.2 785.5h0M1452.7 782.2h0M1452.0 785.5h0"/><path class="i" stroke="#ff0000" d="M1304.1 792.0h0M1571.6 783.3h0M1452.7 782.2h0"/><path class="o" d="M1385.2 784.0h0M1586.3 782.4h0M1455.6 780.5h0M1423.9 786.4h0M1319.0 791.9h0M1653.4 782.7h0M1631.5 785.0h0M1647.8 785.7h0M1318.7 793.1h0M1345.2 789.4h0M1597.6 782.4h0M1478.7 785.8h0"/><path class="i" stroke="#ff0000" d="M1385.2 784.0h0M1319.0 791.9h0M1653.4 782.7h0M1318.7 793.1h0"/><path class="o" d="M1349.9 787.5h0M1533.8 782.5h0M1498.6 785.5h0M1308.0 789.8h0M1563.6 779.8h0M1491.8 786.2h0M1533.3 783.7h0M1591.5 782.5h0M1318.0 793.3h0M1663.9 778.5h0M1416.5 783.6h0M1587.9 786.0h0"/><path class="i" stroke="#ff0000" d="M1491.8 786.2h0M1591.5 782.5h0M1663.9 778.5h0"/><path class="o" d="M1474.1 782.2h0M1407.0 786.8h0M1565.7 786.2h0M1435.5 786.8h0M1343.2 789.1h0M1465.7 780.3h0M1519.7 785.6h0M1446.8 783.8h0M1407.8 785.2h0M1439.6 781.4h0M1631.1 782.1h0M1369.1 790.5h0"/><path class="i" stroke="#ff0000" d="M1474.1 782.2h0M1465.7 780.3h0M1439.6 781.4h0"/><path class="o" d="M1303.9 789.2h0M1569.9 779.6h0M1462.4 782.3h0M1461.1 785.6h0M1593.8 783.5h0M1523.5 784.3h0M1369.9 789.4h0M1448.0 785.5h0M1329.3 790.2h0M1302.3 790.5h0M1666.5 780.7h0M1655.2 783.2h0"/><path class="i" stroke="#ff0000" d="M1461.1 785.6h0M1593.8 783.5h0M1369.9 789.4h0M1448.0 785.5h0M1655.2 783.2h0"/><path class="o" d="M1505.9 782.6h0M1593.2 786.4h0M1484.9 784.2h0M1500.1 784.8h0M1624.7 782.4h0M1551.4 782.1h0M1634.9 785.2h0M1287.2 794.4h0M1529.0 781.8h0M1309.4 788.8h0M1358.3 785.8h0M1325.2 791.3h0"/><path class="i" stroke="#ff0000" d="M1325.2 791.3h0"/><path class="o" d="M1583.7 781.2h0M1418.5 783.1h0M1470.9 781.3h0M1636.5 783.1h0M1439.7 779.6h0M1610.8 783.9h0M1450.1 782.9h0M1653.6 780.5h0M1398.9 790.3h0M1543.0 784.9h0M1423.7 784.7h0M1589.4 780.5h0"/><path class="i" stroke="#ff0000" d="M1583.7 781.2h0M1418.5 783.1h0M1589.4 780.5h0"/><path class="o" d="M1540.7 785.8h0M1358.8 788.4h0M1567.0 784.0h0M1623.8 781.8h0M1540.2 786.1h0M1378.8 788.5h0M1449.0 780.6h0M1612.3 785.2h0M1422.9 784.0h0M1664.8 787.1h0M1347.7 790.0h0M1517.3 785.4h0"/><path class="i" stroke="#ff0000" d="M1623.8 781.8h0M1612.3 785.2h0M1347.7 790.0h0"/><path class="o" d="M1401.9 787.7h0M1509.0 780.6h0M1486.8 787.4h0M1655.5 783.7h0M1594.2 784.4h0M1636.0 780.0h0M1580.5 780.6h0M1619.4 783.1h0M1628.0 783.6h0M1653.9 782.7h0M1622.8 782.6h0M1385.1 789.1h0"/><path class="i" stroke="#ff0000" d="M1509.0 780.6h0M1594.2 784.4h0M1619.4 783.1h0"/><path class="o" d="M1640.8 781.9h0M1509.9 786.7h0M1382.5 787.0h0M1433.8 781.9h0M1451.9 782.5h0M1667.5 782.8h0M1444.0 783.4h0M1363.9 788.8h0M1629.5 783.8h0M1298.3 791.9h0M1594.4 780.7h0M1482.5 783.2h0"/><path class="i" stroke="#ff0000" d="M1509.9 786.7h0M1451.9 782.5h0M1298.3 791.9h0"/><path class="o" d="M1410.8 785.5h0M1651.9 779.2h0M1333.9 770.5h0M1341.7 773.1h0M1341.2 772.3h0M1344.8 773.4h0M1335.3 772.0h0M1336.1 771.4h0M1338.6 772.8h0M1337.7 771.5h0M1345.3 773.9h0M1338.4 771.9h0"/><path class="i" stroke="#ff0000" d="M1410.8 785.5h0M1651.9 779.2h0"/><path class="o" d="M1336.5 770.8h0M1346.5 773.3h0M1339.7 771.5h0M1343.5 773.2h0M1340.5 772.7h0M1334.8 771.1h0M1346.9 773.9h0M1343.0 773.1h0M1336.9 771.6h0M1340.1 771.9h0M1342.6 772.8h0M1345.7 772.2h0"/><path class="o" d="M1344.1 773.4h0M1921.3 785.9h0M1910.6 780.5h0M1916.8 781.4h0M1926.0 789.5h0M1921.6 788.4h0M1913.9 781.0h0M1923.1 788.4h0M1913.2 780.3h0M1920.8 786.4h0M1926.9 790.1h0M1912.0 781.8h0"/><path class="o" d="M1920.0 783.2h0M1920.5 785.0h0M1923.2 787.9h0M1929.2 793.6h0M1915.1 780.5h0M1912.2 780.3h0M1927.8 792.3h0M1922.6 786.9h0M1930.3 795.7h0M1928.2 794.5h0M1917.3 783.5h0M1909.7 780.4h0"/><path class="o" d="M1924.2 787.8h0M1908.6 779.6h0M1908.8 780.4h0M1915.3 782.5h0M1916.4 782.7h0M1914.2 781.6h0M1910.6 781.8h0M1913.0 780.3h0M1918.3 783.6h0M1909.2 781.4h0M1927.3 790.8h0M1929.5 794.0h0"/><path class="o" d="M1926.4 791.2h0M1919.1 784.7h0M1911.6 780.7h0M1919.6 784.7h0M1925.0 790.3h0M1929.7 796.2h0M1915.7 781.8h0M1917.9 784.4h0M1925.5 789.8h0M1931.1 795.5h0M1924.2 789.6h0M1926.0 812.3h0"/><path class="o" d="M1912.7 803.7h0M1936.2 824.4h0M1929.5 815.4h0M1930.6 817.2h0M1939.4 824.8h0M1911.6 802.3h0M1911.1 803.0h0M1930.2 816.0h0M1932.9 818.1h0M1913.1 803.2h0M1938.3 826.3h0M1937.0 823.1h0"/><path class="i" stroke="#ffa500" d="M1912.7 803.7h0M1936.2 824.4h0M1930.2 816.0h0M1913.1 803.2h0"/><path class="o" d="M1927.9 814.1h0M1920.2 808.2h0M1913.7 804.2h0M1916.4 805.6h0M1908.6 800.6h0M1917.8 805.8h0M1927.1 813.1h0M1923.2 811.0h0M1909.4 802.0h0M1921.8 808.3h0M1918.9 806.6h0M1934.5 819.8h0"/><path class="i" stroke="#ffa500" d="M1913.7 804.2h0M1909.4 802.0h0M1921.8 808.3h0"/><path class="o" d="M1925.1 810.3h0M1921.2 807.5h0M1935.8 821.7h0M1937.7 824.4h0M1931.3 816.6h0M1914.4 805.2h0M1922.2 811.2h0M1928.8 814.3h0M1910.4 802.4h0M1915.4 805.2h0M1932.5 818.6h0M1910.1 801.2h0"/><path class="i" stroke="#ffa500" d="M1925.1 810.3h0M1922.2 811.2h0M1910.4 802.4h0M1932.5 818.6h0"/><path class="o" d="M1939.6 827.0h0M1924.4 810.7h0M1916.7 804.5h0M1918.4 804.5h0M1919.6 807.9h0M1933.7 819.5h0M1926.5 812.0h0M1923.6 811.3h0M1935.0 821.5h0M1939.6 803.7h0M1946.7 824.5h0M1948.2 828.1h0"/><path class="i" stroke="#ffa500" d="M1948.2 828.1h0"/><path class="o" d="M1941.5 806.9h0M1941.1 807.5h0M1939.3 798.4h0M1944.3 817.6h0M1946.3 822.5h0M1940.9 805.1h0M1947.3 826.1h0M1942.7 808.3h0M1947.3 825.7h0M1944.9 819.4h0M1942.0 809.5h0M1950.1 834.0h0"/><path class="i" stroke="#ffa500" d="M1941.1 807.5h0M1944.3 817.6h0M1947.3 826.1h0M1942.7 808.3h0M1947.3 825.7h0M1944.9 819.4h0"/><path class="o" d="M1939.8 803.9h0M1943.5 813.5h0M1945.2 821.1h0M1945.8 821.8h0M1948.6 830.4h0M1945.7 820.3h0M1943.8 815.5h0M1948.9 834.0h0M1942.2 811.6h0M1948.0 828.4h0M1948.4 830.9h0M1940.7 802.9h0"/><path class="i" stroke="#ffa500" d="M1939.8 803.9h0M1945.7 820.3h0M1942.2 811.6h0"/><path class="o" d="M1949.6 832.9h0M1943.6 815.6h0M1940.1 803.3h0M1942.8 814.3h0M1944.0 817.9h0M1949.8 831.3h0"/><path class="i" stroke="#ffa500" d="M1949.6 832.9h0"/>
<g class="pt">
<g fill="#ff0000"><circle cx="1335.0" cy="771.1"/><circle cx="1341.1" cy="771.7"/><circle cx="1347.6" cy="773.9"/><circle cx="1396.7" cy="788.9"/><circle cx="1402.8" cy="787.2"/><circle cx="1484.1" cy="771.7"/><circle cx="1498.9" cy="774.4"/><circle cx="1502.8" cy="777.8"/><circle cx="1500.6" cy="791.1"/><circle cx="1524.4" cy="772.8"/><circle cx="1537.8" cy="776.7"/><circle cx="1541.1" cy="789.4"/><circle cx="1527.8" cy="791.1"/><circle cx="1281.7" cy="799.4"/><circle cx="1287.8" cy="783.9"/><circle cx="1291.7" cy="806.7"/><circle cx="1288.9" cy="813.3"/><circle cx="1296.1" cy="803.3"/><circle cx="1302.2" cy="801.7"/><circle cx="1291.1" cy="793.3"/><circle cx="1312.6" cy="780.3"/><circle cx="1321.7" cy="784.4"/><circle cx="1325.6" cy="796.7"/></g>
<g fill="#b3b3b3"><circle cx="1333.3" cy="799.4"/></g>
<g fill="#00ff00"><circle cx="1175.0" cy="803.9"/></g>
<g fill="#ffa500"><circle cx="1176.1" cy="797.8"/><circle cx="1182.0" cy="793.9"/></g>
<g fill="#ff0000"><circle cx="1238.3" cy="784.4"/><circle cx="1240.0" cy="792.8"/></g>
<g fill="#b3b3b3"><circle cx="1575.6" cy="772.4"/></g>
<g fill="#00ff00"><circle cx="1584.8" cy="775.2"/></g>
<g fill="#ff0000"><circle cx="1656.7" cy="771.1"/><circle cx="1665.0" cy="770.6"/><circle cx="1672.2" cy="780.6"/><circle cx="1672.8" cy="785.0"/><circle cx="1658.9" cy="794.4"/><circle cx="1675.0" cy="790.0"/><circle cx="1916.4" cy="780.9"/><circle cx="1927.9" cy="791.7"/><circle cx="1931.2" cy="797.0"/></g>
<g fill="#ffa500"><circle cx="1910.7" cy="802.8"/><circle cx="1915.7" cy="803.1"/><circle cx="1919.6" cy="806.7"/><circle cx="1926.6" cy="813.9"/><circle cx="1932.3" cy="818.9"/><circle cx="1939.0" cy="820.0"/><circle cx="1944.6" cy="825.6"/><circle cx="1939.6" cy="800.6"/><circle cx="1941.2" cy="807.2"/><circle cx="1935.7" cy="811.7"/><circle cx="1948.4" cy="814.4"/><circle cx="1949.0" cy="805.6"/><circle cx="1948.4" cy="821.1"/><circle cx="1950.1" cy="828.3"/><circle cx="1950.4" cy="835.9"/></g>
</g>
<path d="M1488.1 758.7L1493.1 763.7L1488.1 768.7L1483.1 763.7Z" fill="#9632c8" stroke="#333" stroke-width="3.1" stroke-linejoin="miter"/>
<rect x="874.50" y="728.9" width="59.8" height="142" fill="#fff" stroke="#4d4d4d" stroke-width="2.7"/>
<rect x="882.80" y="753.40" width="14" height="22.06" fill="#ff0000" stroke="#4d4d4d" stroke-width="2.6"/>
<rect x="882.80" y="775.46" width="14" height="22.06" fill="#ffa500" stroke="#4d4d4d" stroke-width="2.6"/>
<rect x="882.80" y="797.52" width="14" height="22.06" fill="#00ff00" stroke="#4d4d4d" stroke-width="2.6"/>
<rect x="882.80" y="819.58" width="14" height="22.06" fill="#87cefa" stroke="#4d4d4d" stroke-width="2.6"/>
<rect x="882.80" y="841.64" width="14" height="22.06" fill="#000080" stroke="#4d4d4d" stroke-width="2.6"/>
<text x="907.80" y="780.06" font-size="14.9" fill="#4d4d4d" textLength="21.4" lengthAdjust="spacingAndGlyphs">0.8</text>
<text x="907.80" y="802.12" font-size="14.9" fill="#4d4d4d" textLength="21.4" lengthAdjust="spacingAndGlyphs">0.6</text>
<text x="907.80" y="824.18" font-size="14.9" fill="#4d4d4d" textLength="21.4" lengthAdjust="spacingAndGlyphs">0.4</text>
<text x="907.80" y="846.24" font-size="14.9" fill="#4d4d4d" textLength="21.4" lengthAdjust="spacingAndGlyphs">0.2</text>
<path d="M896.80 775.46H904.60M896.80 797.52H904.60M896.80 819.58H904.60M896.80 841.64H904.60" fill="none" stroke="#4d4d4d" stroke-width="2.5" stroke-linecap="round"/>
<text x="894.40" y="748.40" font-size="20" fill="#4d4d4d">r</text>
<text x="903.70" y="740.80" font-size="12" fill="#4d4d4d">2</text>
<text x="1477.50" y="753.80" font-size="19" fill="#000" text-anchor="middle">rs242559</text>
<path d="M868.9 952.8H872.8V968.4H868.9ZM883.1 952.8H886.1V968.4H883.1ZM888.9 952.8H891.9V968.4H888.9ZM907.6 952.8H910.8V968.4H907.6ZM914.2 952.8H917.6V968.4H914.2ZM919.2 952.8H922.0V968.4H919.2ZM934.7 952.8H937.8V968.4H934.7ZM946.1 952.8H949.8V968.4H946.1ZM974.2 952.8H978.3V968.4H974.2ZM991.3 952.8H995.8V968.4H991.3ZM997.2 952.8H1000.2V968.4H997.2ZM1014.8 952.8H1017.6V968.4H1014.8ZM1018.1 952.8H1020.8V968.4H1018.1ZM1031.9 952.8H1042.2V968.4H1031.9ZM1043.1 952.8H1050.0V968.4H1043.1ZM1052.2 952.8H1055.8V968.4H1052.2ZM1058.0 952.8H1061.7V968.4H1058.0ZM1072.2 952.8H1075.8V968.4H1072.2ZM1084.2 952.8H1091.7V968.4H1084.2ZM1093.7 952.8H1096.4V968.4H1093.7ZM1100.2 952.8H1105.6V968.4H1100.2ZM1108.0 952.8H1110.9V968.4H1108.0ZM1116.1 952.8H1119.1V968.4H1116.1ZM1125.2 952.8H1128.7V968.4H1125.2ZM1135.9 952.8H1141.7V968.4H1135.9ZM1147.2 952.8H1157.2V968.4H1147.2ZM1164.4 952.8H1167.8V968.4H1164.4ZM1168.9 952.8H1171.7V968.4H1168.9ZM1176.1 952.8H1178.9V968.4H1176.1ZM1181.4 952.8H1184.1V968.4H1181.4ZM1187.2 952.8H1194.8V968.4H1187.2ZM1198.1 952.8H1205.6V968.4H1198.1ZM1209.8 952.8H1216.7V968.4H1209.8ZM1218.3 952.8H1221.3V968.4H1218.3ZM1234.2 952.8H1237.0V968.4H1234.2ZM1286.1 952.8H1290.0V968.4H1286.1ZM1290.8 952.8H1293.6V968.4H1290.8ZM1305.8 952.8H1308.7V968.4H1305.8ZM1317.0 952.8H1319.8V968.4H1317.0ZM1422.8 952.8H1425.8V968.4H1422.8ZM1457.0 952.8H1460.0V968.4H1457.0ZM1474.2 952.8H1477.0V968.4H1474.2ZM1487.2 952.8H1490.2V968.4H1487.2ZM1517.0 952.8H1520.0V968.4H1517.0ZM1531.1 952.8H1534.2V968.4H1531.1ZM1540.0 952.8H1544.1V968.4H1540.0ZM1547.0 952.8H1549.8V968.4H1547.0ZM1582.2 952.8H1585.2V968.4H1582.2ZM1600.6 952.8H1603.6V968.4H1600.6ZM1605.6 952.8H1608.7V968.4H1605.6ZM1621.1 952.8H1625.6V968.4H1621.1ZM1633.0 952.8H1635.8V968.4H1633.0ZM1640.0 952.8H1643.0V968.4H1640.0ZM1662.6 952.8H1665.9V968.4H1662.6ZM1673.9 952.8H1676.9V968.4H1673.9ZM1715.0 952.8H1718.1V968.4H1715.0ZM1835.3 952.8H1838.6V968.4H1835.3ZM1937.3 952.8H1940.7V968.4H1937.3ZM907.6 970.6H911.1V986.2H907.6ZM914.2 970.6H917.0V986.2H914.2ZM919.2 970.6H922.0V986.2H919.2ZM925.2 970.6H928.0V986.2H925.2ZM930.8 970.6H933.9V986.2H930.8ZM934.4 970.6H937.2V986.2H934.4ZM939.1 970.6H942.0V986.2H939.1ZM946.1 970.6H949.8V986.2H946.1ZM951.1 970.6H955.0V986.2H951.1ZM956.7 970.6H961.9V986.2H956.7ZM974.2 970.6H978.3V986.2H974.2ZM987.2 970.6H990.0V986.2H987.2ZM991.7 970.6H994.8V986.2H991.7ZM997.2 970.6H1000.0V986.2H997.2ZM1014.8 970.6H1017.6V986.2H1014.8ZM1018.1 970.6H1026.3V986.2H1018.1ZM1034.1 970.6H1050.0V986.2H1034.1ZM1050.9 970.6H1061.7V986.2H1050.9ZM1068.7 970.6H1071.7V986.2H1068.7ZM1072.6 970.6H1075.8V986.2H1072.6ZM1093.7 970.6H1096.4V986.2H1093.7ZM1097.8 970.6H1103.0V986.2H1097.8ZM1108.0 970.6H1110.9V986.2H1108.0ZM1116.1 970.6H1119.1V986.2H1116.1ZM1123.1 970.6H1128.0V986.2H1123.1ZM1128.9 970.6H1131.7V986.2H1128.9ZM1135.9 970.6H1141.7V986.2H1135.9ZM1152.0 970.6H1155.0V986.2H1152.0ZM1168.7 970.6H1171.7V986.2H1168.7ZM1176.1 970.6H1178.9V986.2H1176.1ZM1181.4 970.6H1184.1V986.2H1181.4ZM1187.2 970.6H1190.8V986.2H1187.2ZM1198.1 970.6H1202.8V986.2H1198.1ZM1234.2 970.6H1237.0V986.2H1234.2ZM1286.1 970.6H1290.0V986.2H1286.1ZM1305.8 970.6H1308.9V986.2H1305.8ZM1351.1 970.6H1354.2V986.2H1351.1ZM1372.2 970.6H1375.2V986.2H1372.2ZM1387.2 970.6H1390.3V986.2H1387.2ZM1395.9 970.6H1398.7V986.2H1395.9ZM1437.2 970.6H1440.0V986.2H1437.2ZM1442.2 970.6H1448.9V986.2H1442.2ZM1457.0 970.6H1465.0V986.2H1457.0ZM1483.0 970.6H1485.6V986.2H1483.0ZM1487.2 970.6H1490.2V986.2H1487.2ZM1517.0 970.6H1520.6V986.2H1517.0ZM1540.0 970.6H1542.8V986.2H1540.0ZM1592.2 970.6H1595.0V986.2H1592.2ZM1621.1 970.6H1625.2V986.2H1621.1ZM1633.0 970.6H1635.8V986.2H1633.0ZM1640.0 970.6H1643.0V986.2H1640.0ZM1662.6 970.6H1665.9V986.2H1662.6ZM1670.0 970.6H1672.6V986.2H1670.0ZM1673.9 970.6H1676.9V986.2H1673.9ZM1715.0 970.6H1718.1V986.2H1715.0ZM1947.1 970.6H1950.1V986.2H1947.1ZM1961.0 970.6H1967.0V986.2H1961.0ZM869.8 988.4H872.8V1004.0H869.8ZM887.2 988.4H899.2V1004.0H887.2ZM907.6 988.4H916.9V1004.0H907.6ZM919.2 988.4H922.0V1004.0H919.2ZM934.4 988.4H937.4V1004.0H934.4ZM940.2 988.4H945.0V1004.0H940.2ZM946.1 988.4H949.8V1004.0H946.1ZM973.0 988.4H978.3V1004.0H973.0ZM979.8 988.4H994.4V1004.0H979.8ZM997.2 988.4H1001.9V1004.0H997.2ZM1003.9 988.4H1008.9V1004.0H1003.9ZM1010.0 988.4H1020.8V1004.0H1010.0ZM1023.3 988.4H1028.7V1004.0H1023.3ZM1030.9 988.4H1061.7V1004.0H1030.9ZM1064.2 988.4H1075.8V1004.0H1064.2ZM1084.2 988.4H1087.0V1004.0H1084.2ZM1091.1 988.4H1095.8V1004.0H1091.1ZM1097.0 988.4H1103.0V1004.0H1097.0ZM1107.2 988.4H1111.9V1004.0H1107.2ZM1113.1 988.4H1141.9V1004.0H1113.1ZM1152.0 988.4H1155.0V1004.0H1152.0ZM1159.4 988.4H1162.4V1004.0H1159.4ZM1168.3 988.4H1171.1V1004.0H1168.3ZM1172.0 988.4H1174.8V1004.0H1172.0ZM1175.9 988.4H1178.9V1004.0H1175.9ZM1180.3 988.4H1195.9V1004.0H1180.3ZM1197.4 988.4H1205.2V1004.0H1197.4ZM1232.6 988.4H1237.8V1004.0H1232.6ZM1240.0 988.4H1243.1V1004.0H1240.0ZM1280.0 988.4H1290.0V1004.0H1280.0ZM1290.8 988.4H1293.6V1004.0H1290.8ZM1305.8 988.4H1308.9V1004.0H1305.8ZM1317.0 988.4H1319.8V1004.0H1317.0ZM1351.1 988.4H1354.2V1004.0H1351.1ZM1360.9 988.4H1365.0V1004.0H1360.9ZM1372.2 988.4H1375.9V1004.0H1372.2ZM1382.0 988.4H1384.8V1004.0H1382.0ZM1390.0 988.4H1394.8V1004.0H1390.0ZM1395.9 988.4H1398.7V1004.0H1395.9ZM1400.3 988.4H1405.0V1004.0H1400.3ZM1411.9 988.4H1414.8V1004.0H1411.9ZM1422.6 988.4H1425.8V1004.0H1422.6ZM1434.2 988.4H1440.8V1004.0H1434.2ZM1457.0 988.4H1495.6V1004.0H1457.0ZM1500.8 988.4H1506.3V1004.0H1500.8ZM1510.3 988.4H1513.9V1004.0H1510.3ZM1515.8 988.4H1520.9V1004.0H1515.8ZM1521.9 988.4H1527.8V1004.0H1521.9ZM1528.9 988.4H1535.9V1004.0H1528.9ZM1539.4 988.4H1543.1V1004.0H1539.4ZM1544.1 988.4H1546.7V1004.0H1544.1ZM1548.3 988.4H1553.0V1004.0H1548.3ZM1555.2 988.4H1558.3V1004.0H1555.2ZM1562.6 988.4H1565.6V1004.0H1562.6ZM1568.6 988.4H1575.0V1004.0H1568.6ZM1576.1 988.4H1583.6V1004.0H1576.1ZM1587.4 988.4H1590.0V1004.0H1587.4ZM1591.7 988.4H1599.7V1004.0H1591.7ZM1600.8 988.4H1605.9V1004.0H1600.8ZM1607.2 988.4H1610.0V1004.0H1607.2ZM1611.9 988.4H1615.6V1004.0H1611.9ZM1618.6 988.4H1630.0V1004.0H1618.6ZM1633.0 988.4H1636.7V1004.0H1633.0ZM1640.0 988.4H1643.0V1004.0H1640.0ZM1655.6 988.4H1665.9V1004.0H1655.6ZM1672.6 988.4H1676.9V1004.0H1672.6ZM1715.0 988.4H1718.1V1004.0H1715.0ZM1835.3 988.4H1838.6V1004.0H1835.3ZM1909.0 988.4H1912.2V1004.0H1909.0ZM1916.1 988.4H1920.7V1004.0H1916.1ZM1940.1 988.4H1945.1V1004.0H1940.1ZM1947.1 988.4H1950.1V1004.0H1947.1ZM1967.1 988.4H1969.6V1004.0H1967.1ZM888.9 1006.2H891.9V1021.8H888.9ZM907.6 1006.2H911.1V1021.8H907.6ZM914.2 1006.2H917.2V1021.8H914.2ZM919.2 1006.2H922.0V1021.8H919.2ZM930.8 1006.2H933.9V1021.8H930.8ZM934.4 1006.2H937.2V1021.8H934.4ZM942.0 1006.2H945.0V1021.8H942.0ZM946.1 1006.2H949.8V1021.8H946.1ZM974.2 1006.2H978.3V1021.8H974.2ZM987.2 1006.2H994.4V1021.8H987.2ZM997.2 1006.2H1000.2V1021.8H997.2ZM1005.6 1006.2H1008.6V1021.8H1005.6ZM1012.0 1006.2H1027.8V1021.8H1012.0ZM1034.1 1006.2H1055.8V1021.8H1034.1ZM1057.8 1006.2H1061.7V1021.8H1057.8ZM1068.9 1006.2H1075.8V1021.8H1068.9ZM1084.2 1006.2H1087.0V1021.8H1084.2ZM1093.1 1006.2H1103.0V1021.8H1093.1ZM1108.0 1006.2H1110.9V1021.8H1108.0ZM1116.1 1006.2H1119.1V1021.8H1116.1ZM1120.9 1006.2H1130.0V1021.8H1120.9ZM1135.3 1006.2H1146.1V1021.8H1135.3ZM1152.0 1006.2H1155.0V1021.8H1152.0ZM1168.3 1006.2H1171.7V1021.8H1168.3ZM1173.6 1006.2H1179.1V1021.8H1173.6ZM1181.4 1006.2H1184.1V1021.8H1181.4ZM1187.2 1006.2H1190.8V1021.8H1187.2ZM1198.1 1006.2H1204.8V1021.8H1198.1ZM1206.9 1006.2H1209.4V1021.8H1206.9ZM1222.2 1006.2H1225.0V1021.8H1222.2ZM1234.2 1006.2H1237.0V1021.8H1234.2ZM1241.1 1006.2H1245.2V1021.8H1241.1ZM1282.0 1006.2H1293.1V1021.8H1282.0ZM1305.8 1006.2H1308.9V1021.8H1305.8ZM1317.0 1006.2H1319.8V1021.8H1317.0ZM1372.2 1006.2H1375.2V1021.8H1372.2ZM1400.0 1006.2H1402.8V1021.8H1400.0ZM1422.6 1006.2H1425.8V1021.8H1422.6ZM1457.0 1006.2H1460.0V1021.8H1457.0ZM1483.0 1006.2H1485.9V1021.8H1483.0ZM1487.2 1006.2H1490.2V1021.8H1487.2ZM1495.6 1006.2H1498.3V1021.8H1495.6ZM1502.2 1006.2H1505.0V1021.8H1502.2ZM1517.0 1006.2H1520.6V1021.8H1517.0ZM1540.0 1006.2H1543.1V1021.8H1540.0ZM1544.1 1006.2H1546.7V1021.8H1544.1ZM1548.9 1006.2H1551.7V1021.8H1548.9ZM1555.2 1006.2H1558.0V1021.8H1555.2ZM1564.1 1006.2H1566.9V1021.8H1564.1ZM1572.0 1006.2H1577.8V1021.8H1572.0ZM1580.6 1006.2H1583.3V1021.8H1580.6ZM1586.1 1006.2H1590.0V1021.8H1586.1ZM1592.2 1006.2H1598.9V1021.8H1592.2ZM1602.2 1006.2H1605.9V1021.8H1602.2ZM1612.2 1006.2H1615.0V1021.8H1612.2ZM1617.4 1006.2H1631.9V1021.8H1617.4ZM1633.0 1006.2H1635.8V1021.8H1633.0ZM1640.0 1006.2H1643.0V1021.8H1640.0ZM1658.9 1006.2H1665.9V1021.8H1658.9ZM1673.9 1006.2H1676.9V1021.8H1673.9ZM1715.0 1006.2H1718.1V1021.8H1715.0ZM1835.3 1006.2H1838.6V1021.8H1835.3ZM1914.2 1006.2H1921.0V1021.8H1914.2ZM1937.6 1006.2H1944.2V1021.8H1937.6ZM1947.1 1006.2H1950.1V1021.8H1947.1ZM888.9 1024.0H891.9V1039.6H888.9ZM902.0 1024.0H905.0V1039.6H902.0ZM907.6 1024.0H911.3V1039.6H907.6ZM912.0 1024.0H917.2V1039.6H912.0ZM919.2 1024.0H922.0V1039.6H919.2ZM930.3 1024.0H937.2V1039.6H930.3ZM939.8 1024.0H942.8V1039.6H939.8ZM946.1 1024.0H949.8V1039.6H946.1ZM962.2 1024.0H965.0V1039.6H962.2ZM974.2 1024.0H978.3V1039.6H974.2ZM987.2 1024.0H990.0V1039.6H987.2ZM991.1 1024.0H995.8V1039.6H991.1ZM996.9 1024.0H1001.9V1039.6H996.9ZM1012.0 1024.0H1020.8V1039.6H1012.0ZM1024.8 1024.0H1027.8V1039.6H1024.8ZM1034.1 1024.0H1055.8V1039.6H1034.1ZM1058.0 1024.0H1061.7V1039.6H1058.0ZM1068.9 1024.0H1075.8V1039.6H1068.9ZM1084.2 1024.0H1087.0V1039.6H1084.2ZM1089.4 1024.0H1092.2V1039.6H1089.4ZM1093.7 1024.0H1096.4V1039.6H1093.7ZM1097.0 1024.0H1103.0V1039.6H1097.0ZM1108.0 1024.0H1110.9V1039.6H1108.0ZM1116.1 1024.0H1119.1V1039.6H1116.1ZM1123.1 1024.0H1128.9V1039.6H1123.1ZM1135.3 1024.0H1141.7V1039.6H1135.3ZM1152.0 1024.0H1155.0V1039.6H1152.0ZM1168.7 1024.0H1171.7V1039.6H1168.7ZM1176.1 1024.0H1178.9V1039.6H1176.1ZM1181.4 1024.0H1184.7V1039.6H1181.4ZM1187.2 1024.0H1191.1V1039.6H1187.2ZM1191.9 1024.0H1194.4V1039.6H1191.9ZM1198.1 1024.0H1204.8V1039.6H1198.1ZM1222.2 1024.0H1225.0V1039.6H1222.2ZM1232.6 1024.0H1237.0V1039.6H1232.6ZM1241.1 1024.0H1245.2V1039.6H1241.1ZM1284.8 1024.0H1293.1V1039.6H1284.8ZM1305.8 1024.0H1308.9V1039.6H1305.8ZM1317.0 1024.0H1319.8V1039.6H1317.0ZM1351.1 1024.0H1354.2V1039.6H1351.1ZM1360.9 1024.0H1363.7V1039.6H1360.9ZM1372.2 1024.0H1375.2V1039.6H1372.2ZM1387.2 1024.0H1390.0V1039.6H1387.2ZM1391.4 1024.0H1394.4V1039.6H1391.4ZM1399.4 1024.0H1402.8V1039.6H1399.4ZM1411.9 1024.0H1414.8V1039.6H1411.9ZM1422.8 1024.0H1425.8V1039.6H1422.8ZM1437.2 1024.0H1440.0V1039.6H1437.2ZM1457.0 1024.0H1460.9V1039.6H1457.0ZM1462.0 1024.0H1465.0V1039.6H1462.0ZM1468.1 1024.0H1470.9V1039.6H1468.1ZM1479.2 1024.0H1482.2V1039.6H1479.2ZM1483.0 1024.0H1485.9V1039.6H1483.0ZM1486.9 1024.0H1490.2V1039.6H1486.9ZM1495.6 1024.0H1498.3V1039.6H1495.6ZM1502.2 1024.0H1505.0V1039.6H1502.2ZM1517.0 1024.0H1520.6V1039.6H1517.0ZM1537.2 1024.0H1543.1V1039.6H1537.2ZM1544.1 1024.0H1546.7V1039.6H1544.1ZM1549.4 1024.0H1552.2V1039.6H1549.4ZM1555.2 1024.0H1558.0V1039.6H1555.2ZM1560.8 1024.0H1566.9V1039.6H1560.8ZM1574.7 1024.0H1583.6V1039.6H1574.7ZM1592.2 1024.0H1595.0V1039.6H1592.2ZM1597.0 1024.0H1599.8V1039.6H1597.0ZM1602.2 1024.0H1607.2V1039.6H1602.2ZM1612.2 1024.0H1615.0V1039.6H1612.2ZM1618.6 1024.0H1627.8V1039.6H1618.6ZM1628.9 1024.0H1631.9V1039.6H1628.9ZM1633.0 1024.0H1635.8V1039.6H1633.0ZM1640.0 1024.0H1643.0V1039.6H1640.0ZM1658.9 1024.0H1665.9V1039.6H1658.9ZM1673.9 1024.0H1676.9V1039.6H1673.9ZM1715.0 1024.0H1718.1V1039.6H1715.0ZM1909.0 1024.0H1912.1V1039.6H1909.0ZM1913.1 1024.0H1921.0V1039.6H1913.1ZM1937.6 1024.0H1940.4V1039.6H1937.6ZM1942.0 1024.0H1944.9V1039.6H1942.0ZM1947.1 1024.0H1950.1V1039.6H1947.1ZM1962.0 1024.0H1964.9V1039.6H1962.0ZM888.9 1041.8H892.2V1057.4H888.9ZM893.0 1041.8H895.6V1057.4H893.0ZM907.6 1041.8H911.1V1057.4H907.6ZM914.2 1041.8H922.0V1057.4H914.2ZM934.4 1041.8H937.2V1057.4H934.4ZM946.1 1041.8H949.8V1057.4H946.1ZM959.2 1041.8H962.0V1057.4H959.2ZM974.2 1041.8H978.3V1057.4H974.2ZM985.0 1041.8H995.0V1057.4H985.0ZM996.4 1041.8H1004.8V1057.4H996.4ZM1012.0 1041.8H1020.8V1057.4H1012.0ZM1024.2 1041.8H1028.7V1057.4H1024.2ZM1031.9 1041.8H1063.9V1057.4H1031.9ZM1068.3 1041.8H1076.7V1057.4H1068.3ZM1084.2 1041.8H1088.9V1057.4H1084.2ZM1090.2 1041.8H1103.9V1057.4H1090.2ZM1108.0 1041.8H1110.9V1057.4H1108.0ZM1111.9 1041.8H1143.7V1057.4H1111.9ZM1148.1 1041.8H1150.9V1057.4H1148.1ZM1152.0 1041.8H1155.0V1057.4H1152.0ZM1168.7 1041.8H1171.7V1057.4H1168.7ZM1173.6 1041.8H1179.1V1057.4H1173.6ZM1181.4 1041.8H1184.1V1057.4H1181.4ZM1187.2 1041.8H1191.1V1057.4H1187.2ZM1192.2 1041.8H1195.6V1057.4H1192.2ZM1197.8 1041.8H1207.8V1057.4H1197.8ZM1232.6 1041.8H1237.8V1057.4H1232.6ZM1240.0 1041.8H1243.1V1057.4H1240.0ZM1278.1 1041.8H1293.1V1057.4H1278.1ZM1305.6 1041.8H1308.9V1057.4H1305.6ZM1317.0 1041.8H1319.8V1057.4H1317.0ZM1360.9 1041.8H1363.7V1057.4H1360.9ZM1373.1 1041.8H1375.9V1057.4H1373.1ZM1391.4 1041.8H1394.4V1057.4H1391.4ZM1396.1 1041.8H1398.9V1057.4H1396.1ZM1400.0 1041.8H1402.8V1057.4H1400.0ZM1422.8 1041.8H1425.8V1057.4H1422.8ZM1434.2 1041.8H1440.0V1057.4H1434.2ZM1457.0 1041.8H1460.9V1057.4H1457.0ZM1480.2 1041.8H1490.2V1057.4H1480.2ZM1515.6 1041.8H1520.6V1057.4H1515.6ZM1537.2 1041.8H1543.1V1057.4H1537.2ZM1548.1 1041.8H1554.1V1057.4H1548.1ZM1560.8 1041.8H1565.8V1057.4H1560.8ZM1568.6 1041.8H1571.7V1057.4H1568.6ZM1592.2 1041.8H1597.8V1057.4H1592.2ZM1603.7 1041.8H1606.7V1057.4H1603.7ZM1612.2 1041.8H1617.4V1057.4H1612.2ZM1618.6 1041.8H1628.9V1057.4H1618.6ZM1632.2 1041.8H1638.1V1057.4H1632.2ZM1639.8 1041.8H1643.0V1057.4H1639.8ZM1655.6 1041.8H1658.1V1057.4H1655.6ZM1658.9 1041.8H1665.9V1057.4H1658.9ZM1673.9 1041.8H1676.9V1057.4H1673.9ZM1715.0 1041.8H1718.1V1057.4H1715.0ZM1835.3 1041.8H1838.6V1057.4H1835.3ZM1914.1 1041.8H1917.3V1057.4H1914.1ZM1925.1 1041.8H1928.2V1057.4H1925.1ZM1937.6 1041.8H1944.9V1057.4H1937.6ZM1947.1 1041.8H1950.1V1057.4H1947.1ZM868.9 1059.6H872.0V1075.2H868.9ZM888.9 1059.6H892.2V1075.2H888.9ZM893.0 1059.6H895.6V1075.2H893.0ZM907.6 1059.6H911.7V1075.2H907.6ZM914.2 1059.6H917.2V1075.2H914.2ZM918.9 1059.6H924.4V1075.2H918.9ZM934.2 1059.6H937.2V1075.2H934.2ZM946.1 1059.6H950.9V1075.2H946.1ZM954.2 1059.6H957.0V1075.2H954.2ZM974.2 1059.6H978.3V1075.2H974.2ZM985.0 1059.6H990.0V1075.2H985.0ZM991.7 1059.6H994.8V1075.2H991.7ZM996.9 1059.6H1000.0V1075.2H996.9ZM1003.0 1059.6H1005.8V1075.2H1003.0ZM1008.1 1059.6H1011.1V1075.2H1008.1ZM1015.2 1059.6H1020.8V1075.2H1015.2ZM1031.9 1059.6H1042.0V1075.2H1031.9ZM1043.1 1059.6H1055.8V1075.2H1043.1ZM1058.0 1059.6H1061.7V1075.2H1058.0ZM1068.9 1059.6H1075.8V1075.2H1068.9ZM1084.2 1059.6H1087.0V1075.2H1084.2ZM1097.0 1059.6H1103.0V1075.2H1097.0ZM1108.0 1059.6H1110.9V1075.2H1108.0ZM1113.3 1059.6H1120.3V1075.2H1113.3ZM1121.1 1059.6H1128.9V1075.2H1121.1ZM1135.2 1059.6H1141.7V1075.2H1135.2ZM1168.7 1059.6H1171.7V1075.2H1168.7ZM1176.1 1059.6H1178.9V1075.2H1176.1ZM1181.4 1059.6H1184.1V1075.2H1181.4ZM1187.2 1059.6H1195.9V1075.2H1187.2ZM1198.1 1059.6H1204.8V1075.2H1198.1ZM1234.2 1059.6H1237.0V1075.2H1234.2ZM1276.1 1059.6H1278.9V1075.2H1276.1ZM1281.1 1059.6H1290.0V1075.2H1281.1ZM1305.8 1059.6H1308.9V1075.2H1305.8ZM1317.0 1059.6H1319.8V1075.2H1317.0ZM1422.8 1059.6H1425.8V1075.2H1422.8ZM1437.2 1059.6H1440.0V1075.2H1437.2ZM1457.0 1059.6H1460.0V1075.2H1457.0ZM1462.0 1059.6H1465.0V1075.2H1462.0ZM1483.0 1059.6H1485.9V1075.2H1483.0ZM1487.2 1059.6H1490.2V1075.2H1487.2ZM1517.0 1059.6H1520.6V1075.2H1517.0ZM1539.7 1059.6H1544.1V1075.2H1539.7ZM1552.0 1059.6H1554.8V1075.2H1552.0ZM1570.6 1059.6H1573.9V1075.2H1570.6ZM1586.1 1059.6H1590.0V1075.2H1586.1ZM1592.2 1059.6H1597.8V1075.2H1592.2ZM1600.0 1059.6H1607.2V1075.2H1600.0ZM1609.2 1059.6H1612.2V1075.2H1609.2ZM1618.6 1059.6H1628.9V1075.2H1618.6ZM1633.0 1059.6H1635.8V1075.2H1633.0ZM1640.0 1059.6H1643.0V1075.2H1640.0ZM1658.9 1059.6H1665.9V1075.2H1658.9ZM1673.9 1059.6H1676.9V1075.2H1673.9ZM1715.0 1059.6H1718.1V1075.2H1715.0ZM1914.1 1059.6H1917.3V1075.2H1914.1ZM1934.2 1059.6H1936.8V1075.2H1934.2ZM1937.9 1059.6H1940.4V1075.2H1937.9ZM1941.2 1059.6H1944.0V1075.2H1941.2ZM1947.1 1059.6H1950.1V1075.2H1947.1ZM892.2 1077.4H895.3V1093.0H892.2ZM908.0 1077.4H910.9V1093.0H908.0ZM919.2 1077.4H922.0V1093.0H919.2ZM934.7 1077.4H937.4V1093.0H934.7ZM946.1 1077.4H948.9V1093.0H946.1ZM958.3 1077.4H961.4V1093.0H958.3ZM975.0 1077.4H978.1V1093.0H975.0ZM980.2 1077.4H984.8V1093.0H980.2ZM991.7 1077.4H994.8V1093.0H991.7ZM996.9 1077.4H1000.0V1093.0H996.9ZM1005.9 1077.4H1008.7V1093.0H1005.9ZM1010.0 1077.4H1012.8V1093.0H1010.0ZM1015.2 1077.4H1017.8V1093.0H1015.2ZM1036.4 1077.4H1048.7V1093.0H1036.4ZM1052.4 1077.4H1055.8V1093.0H1052.4ZM1058.9 1077.4H1061.7V1093.0H1058.9ZM1068.7 1077.4H1071.7V1093.0H1068.7ZM1072.8 1077.4H1075.8V1093.0H1072.8ZM1086.1 1077.4H1092.8V1093.0H1086.1ZM1100.2 1077.4H1103.0V1093.0H1100.2ZM1108.0 1077.4H1110.9V1093.0H1108.0ZM1113.3 1077.4H1115.9V1093.0H1113.3ZM1123.1 1077.4H1133.0V1093.0H1123.1ZM1135.2 1077.4H1143.7V1093.0H1135.2ZM1151.1 1077.4H1153.9V1093.0H1151.1ZM1176.1 1077.4H1178.9V1093.0H1176.1ZM1190.2 1077.4H1194.4V1093.0H1190.2ZM1197.4 1077.4H1207.2V1093.0H1197.4ZM1234.2 1077.4H1237.0V1093.0H1234.2ZM1285.0 1077.4H1290.0V1093.0H1285.0ZM1405.0 1077.4H1407.8V1093.0H1405.0ZM1457.0 1077.4H1460.8V1093.0H1457.0ZM1463.0 1077.4H1465.8V1093.0H1463.0ZM1483.0 1077.4H1485.9V1093.0H1483.0ZM1513.1 1077.4H1516.1V1093.0H1513.1ZM1526.7 1077.4H1529.2V1093.0H1526.7ZM1530.0 1077.4H1533.0V1093.0H1530.0ZM1536.7 1077.4H1539.7V1093.0H1536.7ZM1579.8 1077.4H1582.8V1093.0H1579.8ZM1618.9 1077.4H1625.8V1093.0H1618.9ZM1640.0 1077.4H1643.0V1093.0H1640.0ZM1661.1 1077.4H1665.9V1093.0H1661.1ZM1676.3 1077.4H1679.1V1093.0H1676.3ZM1715.0 1077.4H1718.1V1093.0H1715.0ZM1955.4 1077.4H1958.7V1093.0H1955.4ZM1968.8 1077.4H1969.6V1093.0H1968.8Z" fill="#ff3030"/>
<rect x="866.70" y="951.60" width="1103.90" height="142.80" fill="none" stroke="#4d4d4d" stroke-width="2.8"/>
<text x="1978.40" y="965.80" font-size="19.3" fill="#000">Endo</text>
<text x="1978.40" y="983.60" font-size="19.3" fill="#000">Podo</text>
<text x="1978.40" y="1001.40" font-size="19.3" fill="#000">PT</text>
<text x="1978.40" y="1019.20" font-size="19.3" fill="#000">LOH</text>
<text x="1978.40" y="1037.00" font-size="19.3" fill="#000">DCT</text>
<text x="1978.40" y="1054.80" font-size="19.3" fill="#000">PC</text>
<text x="1978.40" y="1072.60" font-size="19.3" fill="#000">IC</text>
<text x="1978.40" y="1090.40" font-size="19.3" fill="#000">Immune</text>
<text x="884.30" y="1117.80" font-size="15.5" fill="#000" font-style="italic" textLength="39.2" lengthAdjust="spacingAndGlyphs">GJC1</text>
<path d="M874.4 1113.3H881.2" stroke="#000" stroke-width="2.5" fill="none"/><path d="M868.0 1113.3L875.4 1109.8V1116.8Z" fill="#000"/>
<text x="973.00" y="1117.80" font-size="15.5" fill="#000" font-style="italic" textLength="55.1" lengthAdjust="spacingAndGlyphs">DCAKD</text>
<path d="M963.6 1113.3H970.3" stroke="#000" stroke-width="2.5" fill="none"/><path d="M957.2 1113.3L964.6 1109.8V1116.8Z" fill="#000"/>
<text x="1055.70" y="1117.80" font-size="15.5" fill="#000" font-style="italic" textLength="51.3" lengthAdjust="spacingAndGlyphs">FMNL1</text>
<path d="M1110.7 1113.3H1117.7" stroke="#000" stroke-width="2.5" fill="none"/><path d="M1124.1 1113.3L1116.7 1109.8V1116.8Z" fill="#000"/>
<text x="1149.50" y="1117.80" font-size="15.5" fill="#000" font-style="italic" textLength="83.9" lengthAdjust="spacingAndGlyphs">ARHGAP27</text>
<path d="M1140.1 1113.3H1147.0" stroke="#000" stroke-width="2.5" fill="none"/><path d="M1133.7 1113.3L1141.1 1109.8V1116.8Z" fill="#000"/>
<text x="1265.30" y="1117.80" font-size="15.5" fill="#000" font-style="italic" textLength="96.4" lengthAdjust="spacingAndGlyphs">MAPK8IP1P2</text>
<path d="M1255.6 1113.3H1262.6" stroke="#000" stroke-width="2.5" fill="none"/><path d="M1249.2 1113.3L1256.6 1109.8V1116.8Z" fill="#000"/>
<text x="1372.40" y="1117.80" font-size="15.5" fill="#000" font-style="italic" textLength="53.6" lengthAdjust="spacingAndGlyphs">CRHR1</text>
<path d="M1429.5 1113.3H1436.5" stroke="#000" stroke-width="2.5" fill="none"/><path d="M1442.9 1113.3L1435.5 1109.8V1116.8Z" fill="#000"/>
<text x="1460.00" y="1117.80" font-size="15.5" fill="#000" font-style="italic" textLength="44.9" lengthAdjust="spacingAndGlyphs">MAPT</text>
<path d="M1509.1 1113.3H1516.0" stroke="#000" stroke-width="2.5" fill="none"/><path d="M1522.4 1113.3L1515.0 1109.8V1116.8Z" fill="#000"/>
<text x="1554.20" y="1117.80" font-size="15.5" fill="#000" font-style="italic" textLength="99.3" lengthAdjust="spacingAndGlyphs">KANSL1−AS1</text>
<path d="M1659.8 1113.3H1666.7" stroke="#000" stroke-width="2.5" fill="none"/><path d="M1673.1 1113.3L1665.7 1109.8V1116.8Z" fill="#000"/>
<text x="1758.30" y="1117.80" font-size="15.5" fill="#000" font-style="italic" textLength="50.5" lengthAdjust="spacingAndGlyphs">NSFP1</text>
<path d="M1812.5 1113.3H1819.5" stroke="#000" stroke-width="2.5" fill="none"/><path d="M1825.9 1113.3L1818.5 1109.8V1116.8Z" fill="#000"/>
<text x="1915.30" y="1117.80" font-size="15.5" fill="#000" font-style="italic" textLength="44.7" lengthAdjust="spacingAndGlyphs">WNT3</text>
<path d="M1905.2 1113.3H1912.2" stroke="#000" stroke-width="2.5" fill="none"/><path d="M1898.8 1113.3L1906.2 1109.8V1116.8Z" fill="#000"/>
<text x="869.70" y="1146.30" font-size="15.5" fill="#000" font-style="italic" textLength="58.7" lengthAdjust="spacingAndGlyphs">HIGD1B</text>
<path d="M931.1 1141.8H938.0" stroke="#000" stroke-width="2.5" fill="none"/><path d="M944.4 1141.8L937.0 1138.3V1145.3Z" fill="#000"/>
<text x="976.20" y="1146.30" font-size="15.5" fill="#000" font-style="italic" textLength="42.8" lengthAdjust="spacingAndGlyphs">NMT1</text>
<path d="M1024.8 1141.8H1031.4" stroke="#000" stroke-width="2.5" fill="none"/><path d="M1037.8 1141.8L1030.4 1138.3V1145.3Z" fill="#000"/>
<text x="1055.30" y="1146.30" font-size="15.5" fill="#000" font-style="italic" textLength="108.6" lengthAdjust="spacingAndGlyphs">MAP3K14−AS1</text>
<path d="M1164.4 1141.8H1170.7" stroke="#000" stroke-width="2.5" fill="none"/><path d="M1177.1 1141.8L1169.7 1138.3V1145.3Z" fill="#000"/>
<text x="1197.90" y="1146.30" font-size="15.5" fill="#000" font-style="italic" textLength="72.6" lengthAdjust="spacingAndGlyphs">PLEKHM1</text>
<path d="M1188.4 1141.8H1195.2" stroke="#000" stroke-width="2.5" fill="none"/><path d="M1182.0 1141.8L1189.4 1138.3V1145.3Z" fill="#000"/>
<text x="1276.90" y="1146.30" font-size="15.5" fill="#000" font-style="italic" textLength="80.2" lengthAdjust="spacingAndGlyphs">LINC02210</text>
<path d="M1359.1 1141.8H1365.9" stroke="#000" stroke-width="2.5" fill="none"/><path d="M1372.3 1141.8L1364.9 1138.3V1145.3Z" fill="#000"/>
<text x="1419.10" y="1146.30" font-size="15.5" fill="#000" font-style="italic" textLength="82.0" lengthAdjust="spacingAndGlyphs">MAPT−AS1</text>
<path d="M1409.0 1141.8H1416.0" stroke="#000" stroke-width="2.5" fill="none"/><path d="M1402.6 1141.8L1410.0 1138.3V1145.3Z" fill="#000"/>
<text x="1569.70" y="1146.30" font-size="15.5" fill="#000" font-style="italic" textLength="61.3" lengthAdjust="spacingAndGlyphs">KANSL1</text>
<path d="M1560.2 1141.8H1567.0" stroke="#000" stroke-width="2.5" fill="none"/><path d="M1553.8 1141.8L1561.2 1138.3V1145.3Z" fill="#000"/>
<text x="1641.20" y="1146.30" font-size="15.5" fill="#000" font-style="italic" textLength="70.6" lengthAdjust="spacingAndGlyphs">LRRC37A</text>
<path d="M1715.6 1141.8H1722.3" stroke="#000" stroke-width="2.5" fill="none"/><path d="M1728.7 1141.8L1721.3 1138.3V1145.3Z" fill="#000"/>
<text x="1759.00" y="1146.30" font-size="15.5" fill="#000" font-style="italic" textLength="79.5" lengthAdjust="spacingAndGlyphs">LRRC37A2</text>
<path d="M1839.0 1141.8H1845.8" stroke="#000" stroke-width="2.5" fill="none"/><path d="M1852.2 1141.8L1844.8 1138.3V1145.3Z" fill="#000"/>
<text x="884.50" y="1174.80" font-size="15.5" fill="#000" font-style="italic" textLength="61.3" lengthAdjust="spacingAndGlyphs">EFTUD2</text>
<path d="M874.9 1170.3H881.6" stroke="#000" stroke-width="2.5" fill="none"/><path d="M868.5 1170.3L875.9 1166.8V1173.8Z" fill="#000"/>
<text x="1018.60" y="1174.80" font-size="15.5" fill="#000" font-style="italic" textLength="50.9" lengthAdjust="spacingAndGlyphs">PLCD3</text>
<path d="M1009.2 1170.3H1015.9" stroke="#000" stroke-width="2.5" fill="none"/><path d="M1002.8 1170.3L1010.2 1166.8V1173.8Z" fill="#000"/>
<text x="1089.00" y="1174.80" font-size="15.5" fill="#000" font-style="italic" textLength="63.6" lengthAdjust="spacingAndGlyphs">SPATA32</text>
<path d="M1079.2 1170.3H1085.9" stroke="#000" stroke-width="2.5" fill="none"/><path d="M1072.8 1170.3L1080.2 1166.8V1173.8Z" fill="#000"/>
<text x="1201.60" y="1174.80" font-size="15.5" fill="#000" font-style="italic" textLength="81.6" lengthAdjust="spacingAndGlyphs">MIR4315−2</text>
<path d="M1192.0 1170.3H1198.8" stroke="#000" stroke-width="2.5" fill="none"/><path d="M1185.6 1170.3L1193.0 1166.8V1173.8Z" fill="#000"/>
<text x="1292.40" y="1174.80" font-size="15.5" fill="#000" font-style="italic" textLength="142.1" lengthAdjust="spacingAndGlyphs">LINC02210−CRHR1</text>
<path d="M1439.3 1170.3H1446.5" stroke="#000" stroke-width="2.5" fill="none"/><path d="M1452.9 1170.3L1445.5 1166.8V1173.8Z" fill="#000"/>
<text x="1485.90" y="1174.80" font-size="15.5" fill="#000" font-style="italic" textLength="32.2" lengthAdjust="spacingAndGlyphs">STH</text>
<path d="M1525.0 1170.3H1532.0" stroke="#000" stroke-width="2.5" fill="none"/><path d="M1538.4 1170.3L1531.0 1166.8V1173.8Z" fill="#000"/>
<text x="1743.10" y="1174.80" font-size="15.5" fill="#000" font-style="italic" textLength="58.2" lengthAdjust="spacingAndGlyphs">ARL17A</text>
<path d="M1733.4 1170.3H1740.0" stroke="#000" stroke-width="2.5" fill="none"/><path d="M1727.0 1170.3L1734.4 1166.8V1173.8Z" fill="#000"/>
<text x="879.70" y="1203.30" font-size="15.5" fill="#000" font-style="italic" textLength="71.4" lengthAdjust="spacingAndGlyphs">CCDC103</text>
<path d="M952.3 1198.8H959.0" stroke="#000" stroke-width="2.5" fill="none"/><path d="M965.4 1198.8L958.0 1195.3V1202.3Z" fill="#000"/>
<text x="1009.50" y="1203.30" font-size="15.5" fill="#000" font-style="italic" textLength="63.8" lengthAdjust="spacingAndGlyphs">MIR6784</text>
<path d="M999.6 1198.8H1006.4" stroke="#000" stroke-width="2.5" fill="none"/><path d="M993.2 1198.8L1000.6 1195.3V1202.3Z" fill="#000"/>
<text x="1103.50" y="1203.30" font-size="15.5" fill="#000" font-style="italic" textLength="71.0" lengthAdjust="spacingAndGlyphs">MAP3K14</text>
<path d="M1094.0 1198.8H1100.8" stroke="#000" stroke-width="2.5" fill="none"/><path d="M1087.6 1198.8L1095.0 1195.3V1202.3Z" fill="#000"/>
<text x="1201.60" y="1203.30" font-size="15.5" fill="#000" font-style="italic" textLength="81.2" lengthAdjust="spacingAndGlyphs">MIR4315−1</text>
<path d="M1192.0 1198.8H1198.8" stroke="#000" stroke-width="2.5" fill="none"/><path d="M1185.6 1198.8L1193.0 1195.3V1202.3Z" fill="#000"/>
<text x="1390.00" y="1203.30" font-size="15.5" fill="#000" font-style="italic" textLength="60.4" lengthAdjust="spacingAndGlyphs">SPPL2C</text>
<path d="M1451.4 1198.8H1458.8" stroke="#000" stroke-width="2.5" fill="none"/><path d="M1465.2 1198.8L1457.8 1195.3V1202.3Z" fill="#000"/>
<text x="1743.10" y="1203.30" font-size="15.5" fill="#000" font-style="italic" textLength="58.7" lengthAdjust="spacingAndGlyphs">ARL17B</text>
<path d="M1733.4 1198.8H1740.0" stroke="#000" stroke-width="2.5" fill="none"/><path d="M1727.0 1198.8L1734.4 1195.3V1202.3Z" fill="#000"/>
<text x="905.70" y="1231.80" font-size="15.5" fill="#000" font-style="italic" textLength="42.2" lengthAdjust="spacingAndGlyphs">GFAP</text>
<path d="M896.1 1227.3H902.9" stroke="#000" stroke-width="2.5" fill="none"/><path d="M889.7 1227.3L897.1 1223.8V1230.8Z" fill="#000"/>
<text x="1002.30" y="1231.80" font-size="15.5" fill="#000" font-style="italic" textLength="52.3" lengthAdjust="spacingAndGlyphs">ACBD4</text>
<path d="M1057.7 1227.3H1064.7" stroke="#000" stroke-width="2.5" fill="none"/><path d="M1071.1 1227.3L1063.7 1223.8V1230.8Z" fill="#000"/>
<text x="1219.00" y="1231.80" font-size="15.5" fill="#000" font-style="italic" textLength="90.7" lengthAdjust="spacingAndGlyphs">LRRC37A4P</text>
<path d="M1209.6 1227.3H1216.5" stroke="#000" stroke-width="2.5" fill="none"/><path d="M1203.2 1227.3L1210.6 1223.8V1230.8Z" fill="#000"/>
<text x="1412.30" y="1231.80" font-size="15.5" fill="#000" font-style="italic" textLength="75.0" lengthAdjust="spacingAndGlyphs">MAPT−IT1</text>
<path d="M1489.6 1227.3H1496.5" stroke="#000" stroke-width="2.5" fill="none"/><path d="M1502.9 1227.3L1495.5 1223.8V1230.8Z" fill="#000"/>
<text x="1858.20" y="1231.80" font-size="15.5" fill="#000" font-style="italic" textLength="31.8" lengthAdjust="spacingAndGlyphs">NSF</text>
<path d="M1897.3 1227.3H1904.3" stroke="#000" stroke-width="2.5" fill="none"/><path d="M1910.7 1227.3L1903.3 1223.8V1230.8Z" fill="#000"/>
<text x="915.70" y="1260.30" font-size="15.5" fill="#000" font-style="italic" textLength="52.6" lengthAdjust="spacingAndGlyphs">KIF18B</text>
<path d="M906.1 1255.8H912.6" stroke="#000" stroke-width="2.5" fill="none"/><path d="M899.7 1255.8L907.1 1252.3V1259.3Z" fill="#000"/>
<text x="1005.90" y="1260.30" font-size="15.5" fill="#000" font-style="italic" textLength="58.3" lengthAdjust="spacingAndGlyphs">HEXIM1</text>
<path d="M1066.8 1255.8H1073.6" stroke="#000" stroke-width="2.5" fill="none"/><path d="M1080.0 1255.8L1072.6 1252.3V1259.3Z" fill="#000"/>
<text x="910.00" y="1288.80" font-size="15.5" fill="#000" font-style="italic" textLength="64.0" lengthAdjust="spacingAndGlyphs">MIR6783</text>
<path d="M900.8 1284.3H907.3" stroke="#000" stroke-width="2.5" fill="none"/><path d="M894.4 1284.3L901.8 1280.8V1287.8Z" fill="#000"/>
<text x="1014.40" y="1288.80" font-size="15.5" fill="#000" font-style="italic" textLength="58.9" lengthAdjust="spacingAndGlyphs">HEXIM2</text>
<path d="M1075.3 1284.3H1082.1" stroke="#000" stroke-width="2.5" fill="none"/><path d="M1088.5 1284.3L1081.1 1280.8V1287.8Z" fill="#000"/>
<text x="932.10" y="1317.30" font-size="15.5" fill="#000" font-style="italic" textLength="49.3" lengthAdjust="spacingAndGlyphs">C1QL1</text>
<path d="M922.2 1312.8H928.9" stroke="#000" stroke-width="2.5" fill="none"/><path d="M915.8 1312.8L923.2 1309.3V1316.3Z" fill="#000"/>
<text x="1021.80" y="1317.30" font-size="15.5" fill="#000" font-style="italic" textLength="111.3" lengthAdjust="spacingAndGlyphs">LOC105371795</text>
<path d="M1012.1 1312.8H1018.7" stroke="#000" stroke-width="2.5" fill="none"/><path d="M1005.7 1312.8L1013.1 1309.3V1316.3Z" fill="#000"/>
<path d="M867.4 1123.3H872.7M976.3 1123.3H999.6M1086.4 1123.3H1102.5M1181.4 1123.3H1205.1M1295.4 1123.3H1298.2M1396.6 1123.3H1427.0M1457.3 1123.3H1533.7M1721.7 1123.3H1751.4M1841.8 1123.3H1871.5M1936.6 1123.3H1970.0M879.1 1151.8H883.3M997.5 1151.8H1026.1M1100.4 1151.8H1114.1M1204.1 1151.8H1236.7M1306.1 1151.8H1322.6M1429.5 1151.8H1459.9M1532.0 1151.8H1642.4M1678.2 1151.8H1704.3M1798.7 1151.8H1824.6M880.8 1180.3H910.5M1025.0 1180.3H1039.3M1104.4 1180.3H1110.7M1226.0 1180.3H1228.4M1306.1 1180.3H1427.0M1515.3 1180.3H1517.8M1681.0 1180.3H1717.7M1796.6 1180.3H1838.0M908.2 1208.8H912.6M1026.4 1208.8H1028.8M1108.8 1208.8H1140.7M1226.0 1208.8H1228.4M1430.3 1208.8H1433.3M1681.0 1208.8H1717.7M1817.8 1208.8H1838.0M911.3 1237.3H919.0M1036.7 1237.3H1045.6M1242.4 1237.3H1253.5M1458.2 1237.3H1462.0M1841.8 1237.3H1936.2M921.9 1265.8H936.8M1045.2 1265.8H1049.9M927.4 1294.3H929.6M1052.4 1294.3H1059.8M941.3 1322.8H948.7M1056.9 1322.8H1060.6" stroke="#000080" stroke-width="2" fill="none"/>
<path d="M870.6 1120.0H872.7V1126.6H870.6ZM976.3 1120.0H978.6V1126.6H976.3ZM979.6 1120.0H984.2V1126.6H979.6ZM992.5 1120.0H995.0V1126.6H992.5ZM997.8 1120.0H999.6V1126.6H997.8ZM1086.4 1120.0H1088.2V1126.6H1086.4ZM1090.5 1120.0H1102.5V1126.6H1090.5ZM1181.4 1120.0H1187.0V1126.6H1181.4ZM1188.0 1120.0H1190.3V1126.6H1188.0ZM1199.5 1120.0H1205.1V1126.6H1199.5ZM1295.4 1120.0H1298.2V1126.6H1295.4ZM1396.6 1120.0H1398.3V1126.6H1396.6ZM1409.5 1120.0H1411.3V1126.6H1409.5ZM1414.5 1120.0H1418.5V1126.6H1414.5ZM1421.0 1120.0H1427.0V1126.6H1421.0ZM1457.3 1120.0H1459.0V1126.6H1457.3ZM1495.0 1120.0H1497.5V1126.6H1495.0ZM1500.5 1120.0H1516.5V1126.6H1500.5ZM1521.0 1120.0H1524.5V1126.6H1521.0ZM1526.5 1120.0H1533.7V1126.6H1526.5ZM1721.7 1120.0H1723.5V1126.6H1721.7ZM1740.5 1120.0H1745.5V1126.6H1740.5ZM1747.0 1120.0H1751.4V1126.6H1747.0ZM1841.8 1120.0H1843.5V1126.6H1841.8ZM1860.5 1120.0H1865.5V1126.6H1860.5ZM1867.0 1120.0H1871.5V1126.6H1867.0ZM1936.6 1120.0H1945.0V1126.6H1936.6ZM1967.8 1120.0H1970.0V1126.6H1967.8ZM879.1 1148.5H883.3V1155.1H879.1ZM997.5 1148.5H999.2V1155.1H997.5ZM1008.5 1148.5H1013.5V1155.1H1008.5ZM1015.5 1148.5H1026.1V1155.1H1015.5ZM1100.4 1148.5H1103.0V1155.1H1100.4ZM1104.0 1148.5H1107.5V1155.1H1104.0ZM1108.8 1148.5H1114.1V1155.1H1108.8ZM1204.1 1148.5H1212.5V1155.1H1204.1ZM1213.5 1148.5H1219.5V1155.1H1213.5ZM1222.5 1148.5H1225.0V1155.1H1222.5ZM1226.5 1148.5H1230.5V1155.1H1226.5ZM1232.5 1148.5H1236.7V1155.1H1232.5ZM1306.1 1148.5H1308.5V1155.1H1306.1ZM1311.0 1148.5H1313.5V1155.1H1311.0ZM1314.5 1148.5H1322.6V1155.1H1314.5ZM1429.5 1148.5H1431.5V1155.1H1429.5ZM1458.2 1148.5H1459.9V1155.1H1458.2ZM1532.0 1148.5H1537.5V1155.1H1532.0ZM1543.0 1148.5H1545.0V1155.1H1543.0ZM1552.0 1148.5H1554.5V1155.1H1552.0ZM1561.5 1148.5H1563.5V1155.1H1561.5ZM1567.8 1148.5H1569.8V1155.1H1567.8ZM1610.3 1148.5H1612.8V1155.1H1610.3ZM1640.0 1148.5H1642.4V1155.1H1640.0ZM1678.2 1148.5H1686.5V1155.1H1678.2ZM1694.0 1148.5H1704.3V1155.1H1694.0ZM1798.7 1148.5H1806.5V1155.1H1798.7ZM1814.0 1148.5H1824.6V1155.1H1814.0ZM880.8 1177.0H903.0V1183.6H880.8ZM904.2 1177.0H907.0V1183.6H904.2ZM908.0 1177.0H910.5V1183.6H908.0ZM1025.0 1177.0H1033.0V1183.6H1025.0ZM1037.5 1177.0H1039.3V1183.6H1037.5ZM1104.4 1177.0H1110.7V1183.6H1104.4ZM1226.0 1177.0H1228.4V1183.6H1226.0ZM1306.1 1177.0H1308.5V1183.6H1306.1ZM1310.5 1177.0H1313.0V1183.6H1310.5ZM1335.0 1177.0H1337.5V1183.6H1335.0ZM1409.0 1177.0H1411.3V1183.6H1409.0ZM1414.5 1177.0H1418.5V1183.6H1414.5ZM1421.0 1177.0H1427.0V1183.6H1421.0ZM1515.3 1177.0H1517.8V1183.6H1515.3ZM1681.0 1177.0H1683.0V1183.6H1681.0ZM1697.5 1177.0H1705.0V1183.6H1697.5ZM1711.0 1177.0H1717.7V1183.6H1711.0ZM1796.6 1177.0H1799.0V1183.6H1796.6ZM1801.5 1177.0H1803.5V1183.6H1801.5ZM1807.0 1177.0H1809.5V1183.6H1807.0ZM1813.5 1177.0H1815.5V1183.6H1813.5ZM1819.0 1177.0H1825.0V1183.6H1819.0ZM1831.0 1177.0H1838.0V1183.6H1831.0ZM908.2 1205.5H912.6V1212.1H908.2ZM1026.4 1205.5H1028.8V1212.1H1026.4ZM1108.8 1205.5H1117.0V1212.1H1108.8ZM1120.5 1205.5H1126.0V1212.1H1120.5ZM1139.0 1205.5H1140.7V1212.1H1139.0ZM1226.0 1205.5H1228.4V1212.1H1226.0ZM1430.3 1205.5H1433.3V1212.1H1430.3ZM1681.0 1205.5H1683.0V1212.1H1681.0ZM1697.5 1205.5H1700.0V1212.1H1697.5ZM1703.0 1205.5H1705.5V1212.1H1703.0ZM1711.0 1205.5H1717.7V1212.1H1711.0ZM1817.8 1205.5H1819.8V1212.1H1817.8ZM1831.0 1205.5H1838.0V1212.1H1831.0ZM911.3 1234.0H919.0V1240.6H911.3ZM1036.7 1234.0H1045.6V1240.6H1036.7ZM1242.4 1234.0H1253.5V1240.6H1242.4ZM1458.2 1234.0H1462.0V1240.6H1458.2ZM1841.8 1234.0H1843.5V1240.6H1841.8ZM1860.5 1234.0H1866.0V1240.6H1860.5ZM1867.5 1234.0H1873.0V1240.6H1867.5ZM1888.0 1234.0H1890.0V1240.6H1888.0ZM1898.0 1234.0H1901.0V1240.6H1898.0ZM1904.0 1234.0H1906.0V1240.6H1904.0ZM1908.5 1234.0H1911.0V1240.6H1908.5ZM1917.0 1234.0H1919.5V1240.6H1917.0ZM1930.0 1234.0H1936.2V1240.6H1930.0ZM921.9 1262.5H930.5V1269.1H921.9ZM931.5 1262.5H933.0V1269.1H931.5ZM935.0 1262.5H936.8V1269.1H935.0ZM1045.2 1262.5H1049.9V1269.1H1045.2ZM927.4 1291.0H929.6V1297.6H927.4ZM1052.4 1291.0H1055.5V1297.6H1052.4ZM1056.8 1291.0H1059.8V1297.6H1056.8ZM941.3 1319.5H943.5V1326.1H941.3ZM945.5 1319.5H948.7V1326.1H945.5ZM1056.9 1319.5H1060.6V1326.1H1056.9Z" fill="#000080"/>
<rect x="867.40" y="1104.00" width="1102.70" height="226.20" fill="none" stroke="#4d4d4d" stroke-width="1.3"/>
<line x1="866.80" y1="1330.20" x2="1970.70" y2="1330.20" stroke="#4d4d4d" stroke-width="2.7"/>
<path d="M921.90 1330.20V1340.40" stroke="#4d4d4d" stroke-width="2.7" stroke-linecap="round" fill="none"/>
<text x="925.50" y="1363.40" font-size="19" fill="#4d4d4d" text-anchor="middle">43</text>
<path d="M1197.70 1330.20V1340.40" stroke="#4d4d4d" stroke-width="2.7" stroke-linecap="round" fill="none"/>
<text x="1201.30" y="1363.40" font-size="19" fill="#4d4d4d" text-anchor="middle">43.5</text>
<path d="M1473.50 1330.20V1340.40" stroke="#4d4d4d" stroke-width="2.7" stroke-linecap="round" fill="none"/>
<text x="1477.10" y="1363.40" font-size="19" fill="#4d4d4d" text-anchor="middle">44</text>
<path d="M1749.30 1330.20V1340.40" stroke="#4d4d4d" stroke-width="2.7" stroke-linecap="round" fill="none"/>
<text x="1752.90" y="1363.40" font-size="19" fill="#4d4d4d" text-anchor="middle">44.5</text>
<text x="1440.00" y="1384.40" font-size="19.4" fill="#4d4d4d" text-anchor="middle">Position on chr17 (Mb)</text>
</svg>
</body></html>
